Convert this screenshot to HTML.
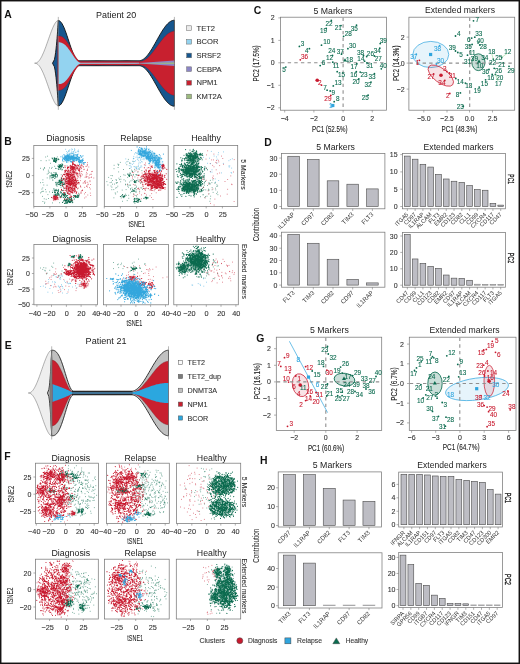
<!DOCTYPE html>
<html><head><meta charset="utf-8"><style>
html,body{margin:0;padding:0;background:#fff;}
svg{display:block;font-family:"Liberation Sans", sans-serif;will-change:transform;}
</style></head><body>
<svg width="520" height="664" viewBox="0 0 520 664">
<defs><filter id="bl" x="-50%" y="-50%" width="200%" height="200%"><feGaussianBlur stdDeviation="1.6"/></filter></defs>
<rect x="0" y="0" width="520" height="664" fill="#fff"/>
<text x="4.3" y="18" font-size="10.4" fill="#111" font-weight="bold">A</text>
<text x="4.3" y="144.6" font-size="10.4" fill="#111" font-weight="bold">B</text>
<text x="253.8" y="14.2" font-size="10.4" fill="#111" font-weight="bold">C</text>
<text x="264.2" y="145.5" font-size="10.4" fill="#111" font-weight="bold">D</text>
<text x="4.8" y="349.2" font-size="10.4" fill="#111" font-weight="bold">E</text>
<text x="4.3" y="460" font-size="10.4" fill="#111" font-weight="bold">F</text>
<text x="256.2" y="342.2" font-size="10.4" fill="#111" font-weight="bold">G</text>
<text x="260" y="464.4" font-size="10.4" fill="#111" font-weight="bold">H</text>
<path d="M34.6 63.2 L35.19 63.17 L35.79 63.07 L36.38 62.88 L36.97 62.59 L37.56 62.19 L38.16 61.69 L38.75 61.08 L39.34 60.37 L39.93 59.55 L40.52 58.63 L41.12 57.62 L41.71 56.51 L42.3 55.31 L42.89 54.03 L43.49 52.67 L44.08 51.25 L44.67 49.76 L45.27 48.22 L45.86 46.63 L46.45 45 L47.04 43.35 L47.63 41.67 L48.23 39.98 L48.82 38.29 L49.41 36.62 L50 34.96 L50.6 33.33 L51.19 31.75 L51.78 30.22 L52.38 28.76 L52.97 27.37 L53.56 26.07 L54.15 24.88 L54.74 23.8 L55.34 22.85 L55.93 22.04 L56.52 21.39 L57.11 20.9 L57.71 20.6 L58.3 20.5 L58.3 105.9 L57.71 105.8 L57.11 105.5 L56.52 105.01 L55.93 104.36 L55.34 103.55 L54.74 102.6 L54.15 101.52 L53.56 100.33 L52.97 99.03 L52.38 97.64 L51.78 96.18 L51.19 94.65 L50.6 93.07 L50 91.44 L49.41 89.78 L48.82 88.11 L48.23 86.42 L47.63 84.73 L47.04 83.05 L46.45 81.4 L45.86 79.77 L45.27 78.18 L44.67 76.64 L44.08 75.15 L43.49 73.73 L42.89 72.37 L42.3 71.09 L41.71 69.89 L41.12 68.78 L40.52 67.77 L39.93 66.85 L39.34 66.03 L38.75 65.32 L38.16 64.71 L37.56 64.21 L36.97 63.81 L36.38 63.52 L35.79 63.33 L35.19 63.23 L34.6 63.2Z" fill="#ECECEC" stroke="#555" stroke-width="0.45" stroke-linejoin="round"/>
<path d="M52.5 63.2 L54.4 59.64 L55.09 56.08 L55.61 52.52 L56.04 48.97 L56.41 45.41 L56.75 41.85 L57.05 38.29 L57.33 34.73 L57.6 31.18 L57.84 27.62 L58.08 24.06 L58.3 20.5 L59.27 20.72 L60.23 21.36 L61.2 22.42 L62.17 23.87 L63.14 25.68 L64.11 27.81 L65.07 30.22 L66.04 32.84 L67.01 35.64 L67.97 38.54 L68.94 41.49 L69.91 44.42 L70.88 47.27 L71.84 49.97 L72.81 52.47 L73.78 54.72 L74.75 56.66 L75.72 58.25 L76.68 59.47 L77.65 60.28 L78.62 60.67 L79.59 60.7 L80.55 60.7 L81.52 60.7 L82.49 60.7 L83.45 60.7 L84.42 60.7 L85.39 60.7 L86.36 60.7 L87.33 60.7 L88.29 60.7 L89.26 60.7 L90.23 60.7 L91.19 60.7 L92.16 60.7 L93.13 60.7 L94.1 60.7 L95.06 60.7 L96.03 60.7 L97 60.7 L97.97 60.7 L98.94 60.7 L99.9 60.7 L100.87 60.7 L101.84 60.7 L102.81 60.7 L103.77 60.7 L104.74 60.7 L105.71 60.7 L106.67 60.7 L107.64 60.7 L108.61 60.7 L109.58 60.7 L110.55 60.7 L111.51 60.7 L112.48 60.7 L113.45 60.7 L114.41 60.7 L115.38 60.7 L116.35 60.7 L117.32 60.7 L118.28 60.7 L119.25 60.7 L120.22 60.7 L121.19 60.7 L122.16 60.7 L123.12 60.7 L124.09 60.7 L125.06 60.7 L126.03 60.7 L126.99 60.7 L127.96 60.7 L128.93 60.7 L129.9 60.7 L130.86 60.7 L131.83 60.7 L132.8 60.7 L133.76 60.7 L134.73 60.7 L135.7 60.7 L136.67 60.7 L137.63 60.7 L138.6 60.7 L139.57 60.67 L140.54 60.51 L141.5 60.2 L142.47 59.75 L143.44 59.15 L144.41 58.41 L145.38 57.54 L146.34 56.55 L147.31 55.44 L148.28 54.22 L149.25 52.89 L150.21 51.48 L151.18 49.98 L152.15 48.41 L153.12 46.78 L154.08 45.11 L155.05 43.4 L156.02 41.68 L156.99 39.94 L157.95 38.2 L158.92 36.49 L159.89 34.8 L160.86 33.15 L161.82 31.56 L162.79 30.03 L163.76 28.58 L164.73 27.22 L165.69 25.95 L166.66 24.79 L167.63 23.75 L168.6 22.83 L169.56 22.04 L170.53 21.38 L171.5 20.87 L172.47 20.5 L173.43 20.27 L174.4 20.2 L174.4 106.2 L173.43 106.13 L172.47 105.9 L171.5 105.53 L170.53 105.02 L169.56 104.36 L168.6 103.57 L167.63 102.65 L166.66 101.61 L165.69 100.45 L164.73 99.18 L163.76 97.82 L162.79 96.37 L161.82 94.84 L160.86 93.25 L159.89 91.6 L158.92 89.91 L157.95 88.2 L156.99 86.46 L156.02 84.72 L155.05 83 L154.08 81.29 L153.12 79.62 L152.15 77.99 L151.18 76.42 L150.21 74.92 L149.25 73.51 L148.28 72.18 L147.31 70.96 L146.34 69.85 L145.38 68.86 L144.41 67.99 L143.44 67.25 L142.47 66.65 L141.5 66.2 L140.54 65.89 L139.57 65.73 L138.6 65.7 L137.63 65.7 L136.67 65.7 L135.7 65.7 L134.73 65.7 L133.76 65.7 L132.8 65.7 L131.83 65.7 L130.86 65.7 L129.9 65.7 L128.93 65.7 L127.96 65.7 L126.99 65.7 L126.03 65.7 L125.06 65.7 L124.09 65.7 L123.12 65.7 L122.16 65.7 L121.19 65.7 L120.22 65.7 L119.25 65.7 L118.28 65.7 L117.32 65.7 L116.35 65.7 L115.38 65.7 L114.41 65.7 L113.45 65.7 L112.48 65.7 L111.51 65.7 L110.55 65.7 L109.58 65.7 L108.61 65.7 L107.64 65.7 L106.67 65.7 L105.71 65.7 L104.74 65.7 L103.77 65.7 L102.81 65.7 L101.84 65.7 L100.87 65.7 L99.9 65.7 L98.94 65.7 L97.97 65.7 L97 65.7 L96.03 65.7 L95.06 65.7 L94.1 65.7 L93.13 65.7 L92.16 65.7 L91.19 65.7 L90.23 65.7 L89.26 65.7 L88.29 65.7 L87.33 65.7 L86.36 65.7 L85.39 65.7 L84.42 65.7 L83.45 65.7 L82.49 65.7 L81.52 65.7 L80.55 65.7 L79.59 65.7 L78.62 65.73 L77.65 66.12 L76.68 66.93 L75.72 68.15 L74.75 69.74 L73.78 71.68 L72.81 73.93 L71.84 76.43 L70.88 79.13 L69.91 81.98 L68.94 84.91 L67.97 87.86 L67.01 90.76 L66.04 93.56 L65.07 96.18 L64.11 98.59 L63.14 100.72 L62.17 102.53 L61.2 103.98 L60.23 105.04 L59.27 105.68 L58.3 105.9 L58.08 102.34 L57.84 98.78 L57.6 95.22 L57.33 91.67 L57.05 88.11 L56.75 84.55 L56.41 80.99 L56.04 77.43 L55.61 73.88 L55.09 70.32 L54.4 66.76 L52.5 63.2Z" fill="#16568E" stroke="#111" stroke-width="0.9" stroke-linejoin="round"/>
<path d="M57.7 36 L58.67 36 L59.64 36.07 L60.62 36.26 L61.59 36.6 L62.56 37.11 L63.53 37.8 L64.51 38.68 L65.48 39.74 L66.45 40.98 L67.42 42.38 L68.4 43.93 L69.37 45.6 L70.34 47.35 L71.31 49.17 L72.29 50.99 L73.26 52.8 L74.23 54.53 L75.2 56.15 L76.18 57.62 L77.15 58.89 L78.12 59.92 L79.09 61.3 L80.07 61.3 L81.04 61.3 L82.01 61.3 L82.98 61.3 L83.96 61.3 L84.93 61.3 L85.9 61.3 L86.88 61.3 L87.85 61.3 L88.82 61.3 L89.79 61.3 L90.77 61.3 L91.74 61.3 L92.71 61.3 L93.68 61.3 L94.66 61.3 L95.63 61.3 L96.6 61.3 L97.57 61.3 L98.55 61.3 L99.52 61.3 L100.49 61.3 L101.46 61.3 L102.44 61.3 L103.41 61.3 L104.38 61.3 L105.35 61.3 L106.33 61.3 L107.3 61.3 L108.27 61.3 L109.24 61.3 L110.22 61.3 L111.19 61.3 L112.16 61.3 L113.13 61.3 L114.11 61.3 L115.08 61.3 L116.05 61.3 L117.02 61.3 L118 61.3 L118.97 61.3 L119.94 61.3 L120.91 61.3 L121.88 61.3 L122.86 61.3 L123.83 61.3 L124.8 61.3 L125.78 61.3 L126.75 61.3 L127.72 61.3 L128.69 61.3 L129.66 61.3 L130.64 61.3 L131.61 61.3 L132.58 61.3 L133.56 61.3 L134.53 61.3 L135.5 61.3 L136.47 61.3 L137.45 61.3 L138.42 61.3 L139.39 61.3 L140.36 61.29 L141.34 61.19 L142.31 60.97 L143.28 60.63 L144.25 60.18 L145.23 59.62 L146.2 58.95 L147.17 58.19 L148.14 57.33 L149.12 56.38 L150.09 55.35 L151.06 54.25 L152.03 53.09 L153.01 51.88 L153.98 50.62 L154.95 49.32 L155.92 48 L156.9 46.67 L157.87 45.33 L158.84 44 L159.81 42.69 L160.79 41.41 L161.76 40.17 L162.73 38.97 L163.7 37.83 L164.68 36.76 L165.65 35.76 L166.62 34.84 L167.59 34.02 L168.56 33.29 L169.54 32.66 L170.51 32.14 L171.48 31.73 L172.46 31.44 L173.43 31.26 L174.4 31.2 L174.4 95.2 L173.43 95.14 L172.46 94.96 L171.48 94.67 L170.51 94.26 L169.54 93.74 L168.56 93.11 L167.59 92.38 L166.62 91.56 L165.65 90.64 L164.68 89.64 L163.7 88.57 L162.73 87.43 L161.76 86.23 L160.79 84.99 L159.81 83.71 L158.84 82.4 L157.87 81.07 L156.9 79.73 L155.92 78.4 L154.95 77.08 L153.98 75.78 L153.01 74.52 L152.03 73.31 L151.06 72.15 L150.09 71.05 L149.12 70.02 L148.14 69.07 L147.17 68.21 L146.2 67.45 L145.23 66.78 L144.25 66.22 L143.28 65.77 L142.31 65.43 L141.34 65.21 L140.36 65.11 L139.39 65.1 L138.42 65.1 L137.45 65.1 L136.47 65.1 L135.5 65.1 L134.53 65.1 L133.56 65.1 L132.58 65.1 L131.61 65.1 L130.64 65.1 L129.66 65.1 L128.69 65.1 L127.72 65.1 L126.75 65.1 L125.78 65.1 L124.8 65.1 L123.83 65.1 L122.86 65.1 L121.88 65.1 L120.91 65.1 L119.94 65.1 L118.97 65.1 L118 65.1 L117.02 65.1 L116.05 65.1 L115.08 65.1 L114.11 65.1 L113.13 65.1 L112.16 65.1 L111.19 65.1 L110.22 65.1 L109.24 65.1 L108.27 65.1 L107.3 65.1 L106.33 65.1 L105.35 65.1 L104.38 65.1 L103.41 65.1 L102.44 65.1 L101.46 65.1 L100.49 65.1 L99.52 65.1 L98.55 65.1 L97.57 65.1 L96.6 65.1 L95.63 65.1 L94.66 65.1 L93.68 65.1 L92.71 65.1 L91.74 65.1 L90.77 65.1 L89.79 65.1 L88.82 65.1 L87.85 65.1 L86.88 65.1 L85.9 65.1 L84.93 65.1 L83.96 65.1 L82.98 65.1 L82.01 65.1 L81.04 65.1 L80.07 65.1 L79.09 65.1 L78.12 66.48 L77.15 67.51 L76.18 68.78 L75.2 70.25 L74.23 71.87 L73.26 73.6 L72.29 75.41 L71.31 77.23 L70.34 79.05 L69.37 80.8 L68.4 82.47 L67.42 84.02 L66.45 85.42 L65.48 86.66 L64.51 87.72 L63.53 88.6 L62.56 89.29 L61.59 89.8 L60.62 90.14 L59.64 90.33 L58.67 90.4 L57.7 90.4Z" fill="#C8202F" stroke="#7a1520" stroke-width="0.3" stroke-linejoin="round"/>
<path d="M58.5 42.3 L59.51 42.34 L60.51 42.49 L61.52 42.76 L62.52 43.17 L63.53 43.75 L64.54 44.48 L65.54 45.37 L66.55 46.41 L67.56 47.6 L68.56 48.9 L69.57 50.3 L70.58 51.78 L71.58 53.29 L72.59 54.81 L73.59 56.3 L74.6 57.71 L75.61 59.01 L76.61 60.17 L77.62 61.13 L78.62 61.89 L79.63 62.39 L80.64 62.63 L81.64 62.65 L82.65 62.65 L83.66 62.65 L84.66 62.65 L85.67 62.65 L86.67 62.65 L87.68 62.65 L88.69 62.65 L89.69 62.65 L90.7 62.65 L91.71 62.65 L92.71 62.65 L93.72 62.65 L94.72 62.65 L95.73 62.65 L96.74 62.65 L97.74 62.65 L98.75 62.65 L99.76 62.65 L100.76 62.65 L101.77 62.65 L102.78 62.65 L103.78 62.65 L104.79 62.65 L105.79 62.65 L106.8 62.65 L107.81 62.65 L108.81 62.65 L109.82 62.65 L110.83 62.65 L111.83 62.65 L112.84 62.65 L113.84 62.65 L114.85 62.65 L115.86 62.65 L116.86 62.65 L117.87 62.65 L118.88 62.65 L119.88 62.65 L120.89 62.65 L121.89 62.65 L122.9 62.65 L123.91 62.65 L124.91 62.65 L125.92 62.65 L126.92 62.65 L127.93 62.65 L128.94 62.65 L129.94 62.65 L130.95 62.65 L131.96 62.65 L132.96 62.65 L133.97 62.65 L134.97 62.65 L135.98 62.65 L136.99 62.65 L137.99 62.65 L139 62.65 L139 63.75 L137.99 63.75 L136.99 63.75 L135.98 63.75 L134.97 63.75 L133.97 63.75 L132.96 63.75 L131.96 63.75 L130.95 63.75 L129.94 63.75 L128.94 63.75 L127.93 63.75 L126.92 63.75 L125.92 63.75 L124.91 63.75 L123.91 63.75 L122.9 63.75 L121.89 63.75 L120.89 63.75 L119.88 63.75 L118.88 63.75 L117.87 63.75 L116.86 63.75 L115.86 63.75 L114.85 63.75 L113.84 63.75 L112.84 63.75 L111.83 63.75 L110.83 63.75 L109.82 63.75 L108.81 63.75 L107.81 63.75 L106.8 63.75 L105.79 63.75 L104.79 63.75 L103.78 63.75 L102.78 63.75 L101.77 63.75 L100.76 63.75 L99.76 63.75 L98.75 63.75 L97.74 63.75 L96.74 63.75 L95.73 63.75 L94.72 63.75 L93.72 63.75 L92.71 63.75 L91.71 63.75 L90.7 63.75 L89.69 63.75 L88.69 63.75 L87.68 63.75 L86.67 63.75 L85.67 63.75 L84.66 63.75 L83.66 63.75 L82.65 63.75 L81.64 63.75 L80.64 63.77 L79.63 64.01 L78.62 64.51 L77.62 65.27 L76.61 66.23 L75.61 67.39 L74.6 68.69 L73.59 70.1 L72.59 71.59 L71.58 73.11 L70.58 74.62 L69.57 76.1 L68.56 77.5 L67.56 78.8 L66.55 79.99 L65.54 81.03 L64.54 81.92 L63.53 82.65 L62.52 83.23 L61.52 83.64 L60.51 83.91 L59.51 84.06 L58.5 84.1Z" fill="#93D3F0" stroke="none" stroke-width="0.5" stroke-linejoin="round"/>
<path d="M134.6 63.2 L150 62.2 L174.4 60.4 L174.4 66.1 L150 64.2Z" fill="#8C86C6" stroke="none" stroke-width="0.5" stroke-linejoin="round"/>
<path d="M136 63.2 L174.4 62.5 L174.4 63.9Z" fill="#9DBB7F" stroke="none" stroke-width="0.5" stroke-linejoin="round"/>
<line x1="58.3" y1="16.9" x2="58.3" y2="109.8" stroke="#888" stroke-width="0.6"/>
<line x1="174.4" y1="16.9" x2="174.4" y2="109.8" stroke="#888" stroke-width="0.6"/>
<text x="96" y="18" font-size="9.1" fill="#222" textLength="40.3" lengthAdjust="spacingAndGlyphs">Patient 20</text>
<rect x="186.7" y="25.8" width="4.8" height="4.6" fill="#ECECEC" stroke="#666" stroke-width="0.5"/>
<text x="196.5" y="30.6" font-size="7.6" fill="#333" stroke="#333" stroke-width="0.1">TET2</text>
<rect x="186.7" y="39.48" width="4.8" height="4.6" fill="#93D3F0" stroke="#666" stroke-width="0.5"/>
<text x="196.5" y="44.28" font-size="7.6" fill="#333" stroke="#333" stroke-width="0.1">BCOR</text>
<rect x="186.7" y="53.16" width="4.8" height="4.6" fill="#16568E" stroke="#666" stroke-width="0.5"/>
<text x="196.5" y="57.96" font-size="7.6" fill="#333" stroke="#333" stroke-width="0.1">SRSF2</text>
<rect x="186.7" y="66.84" width="4.8" height="4.6" fill="#8C86C6" stroke="#666" stroke-width="0.5"/>
<text x="196.5" y="71.64" font-size="7.6" fill="#333" stroke="#333" stroke-width="0.1">CEBPA</text>
<rect x="186.7" y="80.52" width="4.8" height="4.6" fill="#C8202F" stroke="#666" stroke-width="0.5"/>
<text x="196.5" y="85.32" font-size="7.6" fill="#333" stroke="#333" stroke-width="0.1">NPM1</text>
<rect x="186.7" y="94.2" width="4.8" height="4.6" fill="#9DBB7F" stroke="#666" stroke-width="0.5"/>
<text x="196.5" y="99" font-size="7.6" fill="#333" stroke="#333" stroke-width="0.1">KMT2A</text>
<path d="M28.3 393 L28.89 392.97 L29.47 392.87 L30.05 392.68 L30.64 392.39 L31.23 391.99 L31.81 391.49 L32.4 390.88 L32.98 390.16 L33.56 389.34 L34.15 388.42 L34.73 387.4 L35.32 386.29 L35.91 385.09 L36.49 383.81 L37.08 382.45 L37.66 381.02 L38.25 379.53 L38.83 377.98 L39.41 376.39 L40 374.76 L40.59 373.1 L41.17 371.42 L41.76 369.73 L42.34 368.04 L42.92 366.35 L43.51 364.69 L44.09 363.06 L44.68 361.48 L45.27 359.94 L45.85 358.47 L46.44 357.08 L47.02 355.79 L47.61 354.59 L48.19 353.51 L48.78 352.55 L49.36 351.74 L49.95 351.09 L50.53 350.61 L51.12 350.3 L51.7 350.2 L51.7 435.8 L51.12 435.7 L50.53 435.39 L49.95 434.91 L49.36 434.26 L48.78 433.45 L48.19 432.49 L47.61 431.41 L47.02 430.21 L46.44 428.92 L45.85 427.53 L45.27 426.06 L44.68 424.52 L44.09 422.94 L43.51 421.31 L42.92 419.65 L42.34 417.96 L41.76 416.27 L41.17 414.58 L40.59 412.9 L40 411.24 L39.41 409.61 L38.83 408.02 L38.25 406.47 L37.66 404.98 L37.08 403.55 L36.49 402.19 L35.91 400.91 L35.32 399.71 L34.73 398.6 L34.15 397.58 L33.56 396.66 L32.98 395.84 L32.4 395.12 L31.81 394.51 L31.23 394.01 L30.64 393.61 L30.05 393.32 L29.47 393.13 L28.89 393.03 L28.3 393Z" fill="#EEEEEE" stroke="#555" stroke-width="0.45" stroke-linejoin="round"/>
<path d="M47.5 393 L48.87 389.43 L49.38 385.87 L49.75 382.3 L50.06 378.73 L50.33 375.17 L50.57 371.6 L50.8 368.03 L51 364.47 L51.19 360.9 L51.37 357.33 L51.54 353.77 L51.7 350.2 L52.67 350.23 L53.65 350.39 L54.62 350.74 L55.59 351.34 L56.57 352.22 L57.54 353.41 L58.51 354.92 L59.49 356.77 L60.46 358.95 L61.43 361.42 L62.41 364.17 L63.38 367.13 L64.35 370.25 L65.33 373.45 L66.3 376.66 L67.27 379.77 L68.25 382.69 L69.22 385.32 L70.19 387.56 L71.17 389.33 L72.14 390.55 L73.11 391.15 L74.09 391.2 L75.06 391.2 L76.03 391.2 L77.01 391.2 L77.98 391.2 L78.95 391.2 L79.93 391.2 L80.9 391.2 L81.87 391.2 L82.85 391.2 L83.82 391.2 L84.79 391.2 L85.77 391.2 L86.74 391.2 L87.71 391.2 L88.69 391.2 L89.66 391.2 L90.63 391.2 L91.61 391.2 L92.58 391.2 L93.55 391.2 L94.53 391.2 L95.5 391.2 L96.47 391.2 L97.45 391.2 L98.42 391.2 L99.39 391.2 L100.37 391.2 L101.34 391.2 L102.31 391.2 L103.29 391.2 L104.26 391.2 L105.23 391.2 L106.21 391.2 L107.18 391.2 L108.15 391.2 L109.13 391.2 L110.1 391.2 L111.07 391.2 L112.05 391.2 L113.02 391.2 L113.99 391.2 L114.97 391.2 L115.94 391.2 L116.91 391.2 L117.89 391.2 L118.86 391.2 L119.83 391.2 L120.81 391.2 L121.78 391.2 L122.75 391.2 L123.73 391.2 L124.7 391.2 L125.67 391.2 L126.65 391.2 L127.62 391.2 L128.59 391.2 L129.57 391.2 L130.54 391.2 L131.51 391.2 L132.49 391.13 L133.46 390.92 L134.43 390.57 L135.41 390.08 L136.38 389.47 L137.35 388.72 L138.33 387.85 L139.3 386.87 L140.27 385.77 L141.25 384.57 L142.22 383.28 L143.19 381.9 L144.17 380.44 L145.14 378.92 L146.11 377.34 L147.09 375.72 L148.06 374.06 L149.03 372.38 L150.01 370.69 L150.98 369 L151.95 367.32 L152.93 365.66 L153.9 364.03 L154.87 362.46 L155.85 360.94 L156.82 359.48 L157.79 358.1 L158.77 356.81 L159.74 355.61 L160.71 354.52 L161.69 353.54 L162.66 352.67 L163.63 351.93 L164.61 351.31 L165.58 350.83 L166.55 350.48 L167.53 350.27 L168.5 350.2 L168.5 435.8 L167.53 435.73 L166.55 435.52 L165.58 435.17 L164.61 434.69 L163.63 434.07 L162.66 433.33 L161.69 432.46 L160.71 431.48 L159.74 430.39 L158.77 429.19 L157.79 427.9 L156.82 426.52 L155.85 425.06 L154.87 423.54 L153.9 421.97 L152.93 420.34 L151.95 418.68 L150.98 417 L150.01 415.31 L149.03 413.62 L148.06 411.94 L147.09 410.28 L146.11 408.66 L145.14 407.08 L144.17 405.56 L143.19 404.1 L142.22 402.72 L141.25 401.43 L140.27 400.23 L139.3 399.13 L138.33 398.15 L137.35 397.28 L136.38 396.53 L135.41 395.92 L134.43 395.43 L133.46 395.08 L132.49 394.87 L131.51 394.8 L130.54 394.8 L129.57 394.8 L128.59 394.8 L127.62 394.8 L126.65 394.8 L125.67 394.8 L124.7 394.8 L123.73 394.8 L122.75 394.8 L121.78 394.8 L120.81 394.8 L119.83 394.8 L118.86 394.8 L117.89 394.8 L116.91 394.8 L115.94 394.8 L114.97 394.8 L113.99 394.8 L113.02 394.8 L112.05 394.8 L111.07 394.8 L110.1 394.8 L109.13 394.8 L108.15 394.8 L107.18 394.8 L106.21 394.8 L105.23 394.8 L104.26 394.8 L103.29 394.8 L102.31 394.8 L101.34 394.8 L100.37 394.8 L99.39 394.8 L98.42 394.8 L97.45 394.8 L96.47 394.8 L95.5 394.8 L94.53 394.8 L93.55 394.8 L92.58 394.8 L91.61 394.8 L90.63 394.8 L89.66 394.8 L88.69 394.8 L87.71 394.8 L86.74 394.8 L85.77 394.8 L84.79 394.8 L83.82 394.8 L82.85 394.8 L81.87 394.8 L80.9 394.8 L79.93 394.8 L78.95 394.8 L77.98 394.8 L77.01 394.8 L76.03 394.8 L75.06 394.8 L74.09 394.8 L73.11 394.85 L72.14 395.45 L71.17 396.67 L70.19 398.44 L69.22 400.68 L68.25 403.31 L67.27 406.23 L66.3 409.34 L65.33 412.55 L64.35 415.75 L63.38 418.87 L62.41 421.83 L61.43 424.58 L60.46 427.05 L59.49 429.23 L58.51 431.08 L57.54 432.59 L56.57 433.78 L55.59 434.66 L54.62 435.26 L53.65 435.61 L52.67 435.77 L51.7 435.8 L51.54 432.23 L51.37 428.67 L51.19 425.1 L51 421.53 L50.8 417.97 L50.57 414.4 L50.33 410.83 L50.06 407.27 L49.75 403.7 L49.38 400.13 L48.87 396.57 L47.5 393Z" fill="#C0C0C0" stroke="#222" stroke-width="0.9" stroke-linejoin="round"/>
<path d="M49.5 393 L50.6 360 L51.7 350.6 L52.6 360 L52.6 426 L51.7 435.4 L50.6 426Z" fill="#7A7A7A" stroke="none" stroke-width="0.5" stroke-linejoin="round"/>
<path d="M52.2 360.21 L53.17 360.36 L54.14 360.71 L55.11 361.29 L56.08 362.13 L57.05 363.22 L58.02 364.56 L58.98 366.15 L59.95 367.95 L60.92 369.95 L61.89 372.1 L62.86 374.37 L63.83 376.71 L64.8 379.06 L65.77 381.38 L66.74 383.61 L67.71 385.69 L68.68 387.56 L69.65 389.17 L70.61 390.49 L71.58 391.46 L72.55 392.05 L73.52 392.25 L74.49 392.25 L75.46 392.25 L76.43 392.25 L77.4 392.25 L78.37 392.25 L79.34 392.25 L80.31 392.25 L81.28 392.25 L82.24 392.25 L83.21 392.25 L84.18 392.25 L85.15 392.25 L86.12 392.25 L87.09 392.25 L88.06 392.25 L89.03 392.25 L90 392.25 L90.97 392.25 L91.94 392.25 L92.91 392.25 L93.87 392.25 L94.84 392.25 L95.81 392.25 L96.78 392.25 L97.75 392.25 L98.72 392.25 L99.69 392.25 L100.66 392.25 L101.63 392.25 L102.6 392.25 L103.57 392.25 L104.53 392.25 L105.5 392.25 L106.47 392.25 L107.44 392.25 L108.41 392.25 L109.38 392.25 L110.35 392.25 L111.32 392.25 L112.29 392.25 L113.26 392.25 L114.23 392.25 L115.2 392.25 L116.17 392.25 L117.13 392.25 L118.1 392.25 L119.07 392.25 L120.04 392.25 L121.01 392.25 L121.98 392.25 L122.95 392.25 L123.92 392.25 L124.89 392.25 L125.86 392.25 L126.83 392.25 L127.8 392.25 L128.76 392.25 L129.73 392.25 L130.7 392.25 L131.67 392.25 L132.64 392.18 L133.61 392 L134.58 391.72 L135.55 391.34 L136.52 390.87 L137.49 390.29 L138.46 389.63 L139.43 388.88 L140.39 388.04 L141.36 387.13 L142.33 386.15 L143.3 385.11 L144.27 384.01 L145.24 382.86 L146.21 381.67 L147.18 380.45 L148.15 379.2 L149.12 377.93 L150.09 376.66 L151.06 375.39 L152.02 374.13 L152.99 372.88 L153.96 371.67 L154.93 370.48 L155.9 369.34 L156.87 368.25 L157.84 367.22 L158.81 366.25 L159.78 365.35 L160.75 364.53 L161.72 363.8 L162.69 363.15 L163.65 362.59 L164.62 362.13 L165.59 361.77 L166.56 361.51 L167.53 361.35 L168.5 361.3 L168.5 424.7 L167.53 424.65 L166.56 424.49 L165.59 424.23 L164.62 423.87 L163.65 423.41 L162.69 422.85 L161.72 422.2 L160.75 421.47 L159.78 420.65 L158.81 419.75 L157.84 418.78 L156.87 417.75 L155.9 416.66 L154.93 415.52 L153.96 414.33 L152.99 413.12 L152.02 411.87 L151.06 410.61 L150.09 409.34 L149.12 408.07 L148.15 406.8 L147.18 405.55 L146.21 404.33 L145.24 403.14 L144.27 401.99 L143.3 400.89 L142.33 399.85 L141.36 398.87 L140.39 397.96 L139.43 397.12 L138.46 396.37 L137.49 395.71 L136.52 395.13 L135.55 394.66 L134.58 394.28 L133.61 394 L132.64 393.82 L131.67 393.75 L130.7 393.75 L129.73 393.75 L128.76 393.75 L127.8 393.75 L126.83 393.75 L125.86 393.75 L124.89 393.75 L123.92 393.75 L122.95 393.75 L121.98 393.75 L121.01 393.75 L120.04 393.75 L119.07 393.75 L118.1 393.75 L117.13 393.75 L116.17 393.75 L115.2 393.75 L114.23 393.75 L113.26 393.75 L112.29 393.75 L111.32 393.75 L110.35 393.75 L109.38 393.75 L108.41 393.75 L107.44 393.75 L106.47 393.75 L105.5 393.75 L104.53 393.75 L103.57 393.75 L102.6 393.75 L101.63 393.75 L100.66 393.75 L99.69 393.75 L98.72 393.75 L97.75 393.75 L96.78 393.75 L95.81 393.75 L94.84 393.75 L93.87 393.75 L92.91 393.75 L91.94 393.75 L90.97 393.75 L90 393.75 L89.03 393.75 L88.06 393.75 L87.09 393.75 L86.12 393.75 L85.15 393.75 L84.18 393.75 L83.21 393.75 L82.24 393.75 L81.28 393.75 L80.31 393.75 L79.34 393.75 L78.37 393.75 L77.4 393.75 L76.43 393.75 L75.46 393.75 L74.49 393.75 L73.52 393.75 L72.55 393.95 L71.58 394.54 L70.61 395.51 L69.65 396.83 L68.68 398.44 L67.71 400.31 L66.74 402.39 L65.77 404.62 L64.8 406.94 L63.83 409.29 L62.86 411.63 L61.89 413.9 L60.92 416.05 L59.95 418.05 L58.98 419.85 L58.02 421.44 L57.05 422.78 L56.08 423.87 L55.11 424.71 L54.14 425.29 L53.17 425.64 L52.2 425.79Z" fill="#C8202F" stroke="#5a1018" stroke-width="0.3" stroke-linejoin="round"/>
<path d="M52.5 384.08 L53.47 384.43 L54.43 384.78 L55.4 385.13 L56.37 385.48 L57.33 385.84 L58.3 386.2 L59.27 386.57 L60.23 386.93 L61.2 387.31 L62.17 387.69 L63.13 388.07 L64.1 388.46 L65.07 388.86 L66.03 389.27 L67 389.68 L67.97 390.11 L68.93 390.56 L69.9 391.02 L70.87 391.52 L71.83 392.11 L72.8 392.25 L73.77 392.25 L74.73 392.25 L75.7 392.25 L76.67 392.25 L77.63 392.25 L78.6 392.25 L79.57 392.25 L80.53 392.25 L81.5 392.25 L82.47 392.25 L83.43 392.25 L84.4 392.25 L85.37 392.25 L86.33 392.25 L87.3 392.25 L88.27 392.25 L89.23 392.25 L90.2 392.25 L91.17 392.25 L92.13 392.25 L93.1 392.25 L94.07 392.25 L95.03 392.25 L96 392.25 L96.97 392.25 L97.93 392.25 L98.9 392.25 L99.87 392.25 L100.83 392.25 L101.8 392.25 L102.77 392.25 L103.73 392.25 L104.7 392.25 L105.67 392.25 L106.63 392.25 L107.6 392.25 L108.57 392.25 L109.53 392.25 L110.5 392.25 L111.47 392.25 L112.43 392.25 L113.4 392.25 L114.37 392.25 L115.33 392.25 L116.3 392.25 L117.27 392.25 L118.23 392.25 L119.2 392.25 L120.17 392.25 L121.13 392.25 L122.1 392.25 L123.07 392.25 L124.03 392.25 L125 392.25 L125.97 392.25 L126.93 392.25 L127.9 392.25 L128.87 392.25 L129.83 392.25 L130.8 392.25 L131.77 392.24 L132.73 392.15 L133.7 392 L134.67 391.81 L135.63 391.58 L136.6 391.31 L137.57 391.03 L138.53 390.72 L139.5 390.4 L140.47 390.06 L141.43 389.71 L142.4 389.35 L143.37 388.98 L144.33 388.61 L145.3 388.24 L146.27 387.87 L147.23 387.51 L148.2 387.15 L149.17 386.79 L150.13 386.45 L151.1 386.11 L152.07 385.78 L153.03 385.47 L154 385.17 L154.97 384.89 L155.93 384.62 L156.9 384.37 L157.87 384.14 L158.83 383.93 L159.8 383.73 L160.77 383.56 L161.73 383.4 L162.7 383.27 L163.67 383.16 L164.63 383.06 L165.6 382.99 L166.57 382.94 L167.53 382.91 L168.5 382.9 L168.5 403.1 L167.53 403.09 L166.57 403.06 L165.6 403.01 L164.63 402.94 L163.67 402.84 L162.7 402.73 L161.73 402.6 L160.77 402.44 L159.8 402.27 L158.83 402.07 L157.87 401.86 L156.9 401.63 L155.93 401.38 L154.97 401.11 L154 400.83 L153.03 400.53 L152.07 400.22 L151.1 399.89 L150.13 399.55 L149.17 399.21 L148.2 398.85 L147.23 398.49 L146.27 398.13 L145.3 397.76 L144.33 397.39 L143.37 397.02 L142.4 396.65 L141.43 396.29 L140.47 395.94 L139.5 395.6 L138.53 395.28 L137.57 394.97 L136.6 394.69 L135.63 394.42 L134.67 394.19 L133.7 394 L132.73 393.85 L131.77 393.76 L130.8 393.75 L129.83 393.75 L128.87 393.75 L127.9 393.75 L126.93 393.75 L125.97 393.75 L125 393.75 L124.03 393.75 L123.07 393.75 L122.1 393.75 L121.13 393.75 L120.17 393.75 L119.2 393.75 L118.23 393.75 L117.27 393.75 L116.3 393.75 L115.33 393.75 L114.37 393.75 L113.4 393.75 L112.43 393.75 L111.47 393.75 L110.5 393.75 L109.53 393.75 L108.57 393.75 L107.6 393.75 L106.63 393.75 L105.67 393.75 L104.7 393.75 L103.73 393.75 L102.77 393.75 L101.8 393.75 L100.83 393.75 L99.87 393.75 L98.9 393.75 L97.93 393.75 L96.97 393.75 L96 393.75 L95.03 393.75 L94.07 393.75 L93.1 393.75 L92.13 393.75 L91.17 393.75 L90.2 393.75 L89.23 393.75 L88.27 393.75 L87.3 393.75 L86.33 393.75 L85.37 393.75 L84.4 393.75 L83.43 393.75 L82.47 393.75 L81.5 393.75 L80.53 393.75 L79.57 393.75 L78.6 393.75 L77.63 393.75 L76.67 393.75 L75.7 393.75 L74.73 393.75 L73.77 393.75 L72.8 393.75 L71.83 393.89 L70.87 394.48 L69.9 394.98 L68.93 395.44 L67.97 395.89 L67 396.32 L66.03 396.73 L65.07 397.14 L64.1 397.54 L63.13 397.93 L62.17 398.31 L61.2 398.69 L60.23 399.07 L59.27 399.43 L58.3 399.8 L57.33 400.16 L56.37 400.52 L55.4 400.87 L54.43 401.22 L53.47 401.57 L52.5 401.92Z" fill="#2BA7DF" stroke="none" stroke-width="0.5" stroke-linejoin="round"/>
<path d="M71.9 391.65 L132.5 391.65 M71.9 394.35 L132.5 394.35" stroke="#262626" stroke-width="1.2" fill="none"/>
<line x1="51.7" y1="346.3" x2="51.7" y2="439.5" stroke="#888" stroke-width="0.6"/>
<line x1="168.5" y1="346.3" x2="168.5" y2="439.5" stroke="#888" stroke-width="0.6"/>
<text x="85.6" y="343.8" font-size="9.1" fill="#222" textLength="40.9" lengthAdjust="spacingAndGlyphs">Patient 21</text>
<rect x="178.3" y="360.5" width="4.3" height="4.2" fill="#FAFAFA" stroke="#555" stroke-width="0.5"/>
<text x="187.5" y="365.1" font-size="7.2" fill="#333" stroke="#333" stroke-width="0.1">TET2</text>
<rect x="178.3" y="374.35" width="4.3" height="4.2" fill="#7A7A7A" stroke="#555" stroke-width="0.5"/>
<text x="187.5" y="378.95" font-size="7.2" fill="#333" stroke="#333" stroke-width="0.1">TET2_dup</text>
<rect x="178.3" y="388.2" width="4.3" height="4.2" fill="#C0C0C0" stroke="#555" stroke-width="0.5"/>
<text x="187.5" y="392.8" font-size="7.2" fill="#333" stroke="#333" stroke-width="0.1">DNMT3A</text>
<rect x="178.3" y="402.05" width="4.3" height="4.2" fill="#C8202F" stroke="#555" stroke-width="0.5"/>
<text x="187.5" y="406.65" font-size="7.2" fill="#333" stroke="#333" stroke-width="0.1">NPM1</text>
<rect x="178.3" y="415.9" width="4.3" height="4.2" fill="#2BA7DF" stroke="#555" stroke-width="0.5"/>
<text x="187.5" y="420.5" font-size="7.2" fill="#333" stroke="#333" stroke-width="0.1">BCOR</text>
<ellipse cx="71.7" cy="158.2" rx="6.6" ry="2.6" fill="#33A6DD" opacity="0.3" filter="url(#bl)" transform="rotate(0 71.7 158.2)"/>
<ellipse cx="70.5" cy="180.8" rx="5.7" ry="11.9" fill="#C8192E" opacity="0.25" filter="url(#bl)" transform="rotate(0 70.5 180.8)"/>
<ellipse cx="55.3" cy="197.9" rx="2.4" ry="1.8" fill="#C8192E" opacity="0.35" filter="url(#bl)" transform="rotate(0 55.3 197.9)"/>
<ellipse cx="60.3" cy="182.6" rx="3.3" ry="2.7" fill="#0A6A4E" opacity="0.2" filter="url(#bl)" transform="rotate(0 60.3 182.6)"/>
<ellipse cx="69.2" cy="200.3" rx="3.8" ry="2.3" fill="#0A6A4E" opacity="0.2" filter="url(#bl)" transform="rotate(0 69.2 200.3)"/>
<path d="M48.3 171.8h0M58.6 189.4h0M40.5 182.7h0M43.8 185.0h0M67.9 172.3h0M43.3 169.1h0M49.3 172.3h0M67.5 160.5h0M66.5 190.7h0M43.2 191.3h0M64.5 200.3h0M67.1 165.9h0M51.5 197.4h0M61.0 187.3h0M55.0 189.4h0M44.2 198.8h0M41.0 160.6h0M57.0 186.4h0M51.4 168.4h0M44.4 203.3h0M46.2 199.3h0M68.0 159.7h0M47.9 194.6h0M63.9 161.6h0M49.4 167.9h0M52.1 167.4h0M64.7 197.1h0M53.8 172.6h0M47.6 156.2h0M45.7 157.0h0M61.5 178.6h0M56.2 183.5h0M41.9 189.1h0M49.1 160.1h0M60.1 192.9h0M40.4 168.3h0M42.9 179.8h0M67.5 197.6h0M58.5 195.3h0M57.9 159.2h0M64.4 194.5h0M49.9 178.8h0M63.5 174.5h0M60.1 197.5h0M47.1 185.2h0M54.7 166.3h0M66.5 158.6h0M50.4 163.3h0M66.9 174.9h0M44.5 167.5h0M47.2 177.9h0M46.1 191.9h0M65.5 179.2h0M48.3 170.2h0M42.9 182.5h0M46.2 160.7h0M48.3 173.4h0M50.9 175.9h0M40.5 192.9h0M61.2 174.8h0M49.4 191.9h0M62.9 196.0h0M63.9 187.9h0M67.2 198.4h0M42.4 196.4h0M54.2 161.6h0M67.4 174.5h0M42.8 191.4h0M66.6 188.9h0M65.6 194.9h0M52.4 202.9h0M45.6 189.6h0M67.4 181.1h0M41.5 191.9h0M59.5 202.7h0M42.8 187.9h0M57.3 156.9h0M55.5 196.9h0M62.4 169.4h0M60.0 168.0h0M47.2 174.1h0M48.6 198.5h0M63.9 188.7h0M42.9 201.5h0M56.7 190.6h0M51.7 175.4h0M43.5 169.9h0M44.8 202.2h0M44.7 168.4h0M53.0 190.8h0" stroke="#0A6A4E" stroke-width="0.9" stroke-linecap="round" opacity="0.7" fill="none"/>
<path d="M78.6 188.1h0M79.8 173.1h0M90.0 181.6h0M71.1 176.8h0M81.1 191.9h0M71.3 179.4h0M84.0 182.8h0M66.6 174.7h0M84.0 163.6h0M91.2 174.2h0M76.2 182.3h0M81.0 192.7h0M66.4 178.3h0M87.2 173.8h0M90.9 174.4h0M84.4 193.9h0M76.6 182.5h0M80.8 169.0h0M85.8 182.4h0M87.8 195.0h0M71.3 191.1h0M84.4 181.4h0M86.2 174.2h0M90.0 180.7h0M86.9 185.6h0M79.2 170.5h0M78.7 176.9h0M80.4 180.6h0M83.1 183.1h0M77.9 168.8h0M69.2 187.3h0M85.0 181.9h0M86.3 177.3h0M81.0 193.4h0M67.0 182.8h0M80.2 177.8h0M85.9 166.4h0M69.4 180.2h0M87.6 165.1h0M86.5 172.4h0M75.3 171.8h0M86.8 166.3h0M75.5 180.1h0M77.1 165.9h0M93.8 178.0h0M75.8 168.2h0M86.3 176.7h0M82.5 190.4h0M81.7 173.7h0M69.8 171.3h0M79.8 175.3h0M90.3 189.0h0M66.9 179.1h0M87.6 170.1h0M88.7 178.0h0M82.4 190.0h0M85.4 192.5h0M79.2 168.2h0M78.6 193.2h0M72.1 171.1h0M70.8 182.2h0M74.1 169.1h0M86.4 186.5h0M79.8 166.5h0M91.5 171.6h0M92.5 171.4h0M73.0 185.8h0M80.2 174.3h0M78.2 166.9h0M87.6 169.2h0M77.9 176.6h0M89.4 177.9h0M91.1 177.5h0M75.2 184.4h0M77.2 180.6h0M87.9 176.6h0M78.3 182.6h0M73.4 181.2h0M71.7 167.3h0M88.0 184.6h0M87.3 164.7h0M88.8 167.0h0M85.3 180.7h0M89.6 187.6h0M80.8 176.1h0M82.4 190.6h0M75.0 169.2h0M78.7 159.4h0M73.2 189.7h0M82.5 174.8h0M88.1 184.1h0M77.1 182.8h0M89.4 175.0h0M81.4 190.7h0M86.1 176.0h0M79.6 169.3h0M74.6 181.4h0M87.1 170.5h0M85.1 177.3h0M90.4 184.5h0M91.5 177.0h0M76.0 169.3h0M83.9 169.6h0M79.2 171.2h0M78.9 173.4h0M68.7 173.0h0M87.6 187.0h0M87.5 162.7h0M84.7 187.4h0M72.8 190.0h0M76.9 167.7h0M87.7 182.3h0M90.7 195.5h0M80.9 187.2h0M77.8 176.1h0M79.6 171.7h0M67.5 175.2h0M77.4 178.2h0M86.0 196.9h0M72.7 171.6h0M85.3 183.5h0M90.3 193.1h0M82.3 165.9h0M84.7 198.0h0M84.2 169.3h0M79.7 173.9h0M79.4 195.1h0M69.1 177.3h0M78.2 174.9h0M80.0 171.8h0" stroke="#C8192E" stroke-width="0.9" stroke-linecap="round" opacity="0.7" fill="none"/>
<path d="M68.7 151.4h0M70.5 153.3h0M67.4 154.4h0M67.1 155.0h0M68.6 154.6h0M67.6 154.9h0M73.8 151.6h0M71.7 151.1h0M78.1 151.7h0M77.7 151.1h0M75.9 152.2h0M75.8 152.4h0M71.7 149.0h0M73.2 155.1h0M73.8 153.5h0M78.4 150.1h0M69.0 153.2h0M73.7 155.0h0M78.7 151.7h0M74.9 149.8h0M73.8 152.2h0M69.3 151.0h0M71.3 153.0h0M72.5 149.4h0M67.0 153.7h0M69.8 149.8h0M72.1 153.3h0M74.5 148.8h0M78.7 154.1h0M65.7 149.3h0M71.6 153.2h0M66.4 151.6h0M74.5 150.3h0M67.6 152.3h0M69.5 154.7h0M73.0 151.9h0M76.1 154.5h0M71.0 154.2h0M68.7 150.8h0M69.4 153.7h0" stroke="#33A6DD" stroke-width="0.9" stroke-linecap="round" opacity="0.7" fill="none"/>
<path d="M56.6 160.9h0M56.1 160.0h0M55.0 158.7h0M55.7 161.3h0M56.7 158.4h0M57.0 159.7h0M55.9 160.9h0M53.7 159.7h0M56.2 158.7h0M54.3 160.3h0M52.1 158.0h0M54.3 158.2h0M54.0 161.5h0M55.8 161.0h0M53.5 160.9h0M54.9 161.4h0M54.3 160.3h0M55.9 162.2h0M56.0 158.9h0M55.6 162.3h0M54.1 158.1h0M54.2 161.0h0M52.5 158.7h0M58.8 159.6h0M54.8 160.2h0M55.5 159.1h0M54.7 157.9h0M56.0 160.2h0M58.5 159.1h0M54.4 159.1h0M59.6 167.6h0M62.2 166.0h0M60.0 165.6h0M62.0 165.0h0M58.7 166.5h0M60.4 164.6h0M59.1 166.2h0M61.2 165.5h0M58.9 169.5h0M62.0 169.8h0M63.4 167.6h0M62.0 163.9h0M57.9 166.1h0M61.8 166.8h0M59.0 164.7h0M62.7 164.9h0M60.5 166.7h0M59.6 166.8h0M60.6 169.0h0M58.4 166.2h0M58.2 168.7h0M61.6 167.0h0M60.5 166.3h0M61.0 168.0h0M61.6 166.7h0M61.9 166.6h0M55.9 168.4h0M59.5 165.8h0M61.3 166.6h0M59.6 166.5h0M61.5 166.8h0M60.1 165.0h0M62.2 164.9h0M58.9 167.4h0M59.5 167.3h0M51.8 175.0h0M55.3 177.1h0M53.4 175.6h0M54.8 178.5h0M52.1 177.7h0M52.3 175.7h0M56.1 173.3h0M55.1 172.8h0M55.2 175.5h0M57.5 175.8h0M55.0 174.9h0M56.2 174.4h0M52.2 175.2h0M55.2 176.2h0M53.9 174.7h0M51.2 173.1h0M53.8 176.3h0M56.9 176.9h0M55.5 174.8h0M51.6 175.0h0M52.9 174.5h0M55.3 174.6h0M53.3 175.5h0M54.7 175.7h0M56.3 173.1h0M57.3 174.8h0M52.1 177.0h0M50.1 175.7h0M50.0 177.0h0M52.8 180.0h0M51.9 177.8h0M53.6 175.1h0M52.9 174.3h0M53.3 177.5h0M55.4 176.3h0M58.0 182.8h0M61.9 180.5h0M62.1 185.0h0M61.0 182.8h0M61.5 181.2h0M62.7 186.1h0M60.1 183.1h0M59.4 181.8h0M59.2 181.1h0M62.7 182.1h0M60.0 182.8h0M58.1 184.5h0M62.3 185.1h0M57.2 183.0h0M63.3 179.6h0M59.2 180.4h0M60.5 183.3h0M60.8 181.8h0M61.4 180.9h0M62.9 182.5h0M56.0 182.3h0M61.3 177.9h0M65.9 181.4h0M56.1 184.7h0M63.9 184.6h0M61.0 182.3h0M64.5 184.0h0M56.4 184.7h0M63.1 179.4h0M56.7 185.0h0M60.2 181.5h0M59.2 184.6h0M59.7 180.5h0M61.6 182.3h0M60.6 182.8h0M55.8 182.6h0M60.1 183.2h0M61.0 183.1h0M60.5 184.0h0M60.6 185.5h0M59.3 181.7h0M64.1 183.2h0M60.0 180.0h0M61.2 179.9h0M58.8 182.1h0M63.1 184.3h0M61.0 183.7h0M60.0 183.9h0M60.3 183.6h0M61.6 178.6h0M53.9 188.9h0M52.5 192.2h0M56.8 194.6h0M61.3 192.2h0M59.6 195.1h0M58.4 190.1h0M54.9 191.4h0M57.9 195.1h0M54.9 192.0h0M57.0 193.6h0M55.6 194.8h0M58.0 194.9h0M55.3 194.3h0M55.0 194.1h0M58.2 194.2h0M58.8 194.0h0M56.5 195.9h0M54.0 195.0h0M57.5 192.5h0M55.1 192.2h0M56.1 189.3h0M57.9 190.4h0M55.5 190.5h0M61.1 193.0h0M58.1 193.2h0M57.5 192.8h0M55.4 195.6h0M58.4 191.2h0M57.9 191.9h0M54.7 190.5h0M56.3 190.6h0M55.5 192.7h0M54.5 192.3h0M55.4 195.4h0M56.9 195.1h0M66.2 196.2h0M62.9 194.4h0M66.4 196.3h0M62.3 190.6h0M64.3 193.7h0M64.7 196.3h0M65.5 194.2h0M60.1 196.5h0M65.2 194.1h0M64.3 194.9h0M63.9 194.6h0M64.6 194.0h0M63.9 195.1h0M62.3 193.8h0M61.4 197.0h0M63.3 197.4h0M61.2 196.3h0M66.4 195.8h0M65.5 197.4h0M67.7 193.1h0M60.6 191.9h0M63.2 193.8h0M63.2 194.0h0M64.2 194.7h0M65.0 192.9h0M63.8 195.5h0M67.6 195.6h0M63.5 195.6h0M65.8 195.1h0M63.8 194.0h0M61.6 195.4h0M61.7 195.1h0M62.3 193.7h0M64.7 195.8h0M64.4 194.5h0M69.5 202.3h0M66.3 203.2h0M72.2 200.2h0M72.3 200.5h0M69.5 202.4h0M71.4 198.1h0M68.9 201.6h0M64.5 199.9h0M62.6 202.4h0M69.5 201.0h0M70.6 201.4h0M66.0 201.8h0M67.2 199.9h0M74.3 199.0h0M70.5 201.9h0M66.9 200.5h0M69.1 200.9h0M72.0 201.3h0M70.7 197.4h0M69.0 202.1h0M68.6 200.1h0M70.9 200.1h0M68.9 200.6h0M65.9 200.6h0M64.9 199.4h0M64.8 198.7h0M66.9 201.9h0M71.5 199.9h0M68.2 201.3h0M65.3 201.0h0M67.6 201.8h0M71.0 199.7h0M69.7 199.4h0M64.5 203.3h0M71.2 201.2h0M67.9 199.7h0M66.7 202.2h0M66.4 199.6h0M67.6 197.5h0M65.8 203.5h0M71.0 198.8h0M67.5 202.9h0M69.3 198.2h0M65.6 202.2h0M70.3 202.5h0M68.5 198.0h0M68.1 201.3h0M72.2 202.0h0M71.5 198.7h0M71.7 200.3h0M68.6 200.0h0M72.7 202.6h0M69.5 202.0h0M65.1 200.2h0M63.6 200.9h0M77.8 197.4h0M77.6 197.2h0M73.7 195.5h0M78.6 195.6h0M75.3 197.3h0M77.7 195.9h0M75.5 196.5h0M77.6 195.0h0M78.7 195.7h0M75.2 196.7h0M73.5 197.2h0M78.7 196.8h0M75.6 195.9h0M74.0 195.6h0M77.0 197.2h0M75.9 196.9h0M77.5 197.1h0M74.9 196.2h0M75.2 195.8h0M75.9 196.4h0M79.0 194.1h0M76.4 196.2h0M75.1 195.5h0M75.8 196.5h0M75.8 195.6h0" stroke="#0A6A4E" stroke-width="1.15" stroke-linecap="round" fill="none"/>
<path d="M65.1 181.0h0M80.7 175.9h0M72.9 185.6h0M68.6 188.1h0M71.9 180.1h0M69.5 191.1h0M71.1 174.9h0M68.6 183.3h0M72.1 169.6h0M73.9 171.2h0M63.6 178.2h0M71.7 188.5h0M66.1 177.9h0M74.4 180.4h0M74.8 186.1h0M64.8 174.4h0M73.9 161.6h0M73.7 179.6h0M67.1 198.9h0M67.1 175.7h0M69.3 178.3h0M72.6 184.1h0M61.4 190.2h0M74.6 188.3h0M72.4 168.8h0M73.4 177.3h0M66.4 181.2h0M73.0 172.9h0M66.4 185.6h0M74.4 176.5h0M71.3 180.9h0M75.6 183.1h0M63.6 174.2h0M75.2 191.6h0M75.5 179.1h0M67.1 186.5h0M70.0 178.8h0M67.9 183.5h0M67.1 177.6h0M77.9 180.2h0M75.2 182.6h0M72.1 182.3h0M79.0 183.8h0M71.5 182.2h0M68.6 190.3h0M67.4 168.7h0M71.5 184.4h0M65.9 183.0h0M70.4 168.0h0M62.4 183.5h0M70.5 187.4h0M65.3 190.2h0M70.9 184.4h0M77.9 180.6h0M69.8 177.4h0M65.0 180.1h0M64.9 172.2h0M63.6 187.0h0M70.0 190.5h0M68.3 177.7h0M67.7 173.2h0M77.1 158.4h0M75.3 190.1h0M68.7 181.9h0M76.4 180.9h0M62.6 175.2h0M75.4 173.0h0M75.1 177.3h0M73.3 176.6h0M67.8 178.2h0M62.3 185.4h0M62.2 180.3h0M66.2 183.6h0M75.3 180.9h0M69.3 183.1h0M72.3 187.8h0M68.7 190.2h0M66.6 179.6h0M79.0 182.5h0M73.3 184.2h0M71.7 196.6h0M70.7 168.6h0M69.7 182.5h0M68.4 176.2h0M75.3 185.4h0M76.6 183.0h0M66.3 179.1h0M69.4 178.2h0M73.4 166.8h0M69.9 193.5h0M66.2 186.8h0M70.6 167.6h0M67.0 191.7h0M67.9 181.5h0M70.2 171.8h0M74.9 188.3h0M72.1 179.7h0M67.3 173.3h0M74.1 164.3h0M74.2 183.6h0M72.3 180.9h0M66.7 174.0h0M69.9 184.4h0M75.2 183.1h0M72.5 174.6h0M73.8 185.0h0M77.4 188.7h0M70.7 172.2h0M76.5 173.8h0M71.8 189.1h0M73.7 172.5h0M66.9 190.2h0M67.6 168.0h0M66.0 174.0h0M69.0 183.3h0M71.7 178.7h0M67.6 183.3h0M68.6 188.4h0M69.2 176.1h0M75.1 190.5h0M76.7 173.5h0M74.3 192.0h0M71.5 173.7h0M70.0 185.9h0M71.0 181.8h0M74.3 196.3h0M76.4 173.9h0M64.4 194.2h0M75.9 180.3h0M64.4 192.7h0M68.6 174.5h0M69.7 181.7h0M64.5 170.8h0M70.4 181.2h0M64.7 199.1h0M74.9 185.1h0M72.9 164.3h0M70.8 185.0h0M70.9 183.5h0M72.7 192.9h0M74.6 176.6h0M74.6 177.2h0M71.3 183.4h0M70.4 179.3h0M71.5 183.5h0M61.2 180.0h0M67.4 192.9h0M71.1 174.9h0M72.2 181.9h0M72.6 164.4h0M69.1 172.9h0M75.9 186.7h0M69.5 180.0h0M70.0 176.7h0M66.8 170.4h0M74.7 172.6h0M72.0 187.4h0M72.5 180.2h0M72.6 175.9h0M66.6 187.9h0M72.8 189.7h0M70.4 165.2h0M68.6 175.2h0M74.3 174.0h0M74.0 182.7h0M71.6 182.9h0M72.8 172.3h0M75.0 168.0h0M67.8 175.0h0M73.3 174.3h0M77.1 173.2h0M80.5 186.1h0M73.9 183.9h0M74.0 175.3h0M65.3 188.0h0M73.1 179.7h0M69.6 179.7h0M71.2 188.2h0M69.3 183.6h0M75.2 179.6h0M72.9 176.3h0M70.8 179.0h0M75.1 178.2h0M66.2 183.0h0M68.6 191.8h0M72.2 177.6h0M66.4 181.2h0M69.7 179.9h0M67.6 182.7h0M73.7 190.6h0M70.1 183.4h0M69.6 197.3h0M68.3 183.4h0M67.8 186.9h0M67.9 193.5h0M68.5 180.1h0M70.3 183.5h0M68.2 166.8h0M63.4 178.9h0M74.6 189.5h0M72.3 188.8h0M70.5 179.9h0M72.5 191.9h0M75.9 184.6h0M65.5 176.3h0M61.5 189.4h0M70.4 191.6h0M75.7 179.7h0M73.1 180.7h0M65.0 184.5h0M71.3 182.7h0M76.8 173.6h0M64.8 188.4h0M75.2 186.1h0M71.0 183.4h0M71.5 182.2h0M69.5 190.8h0M68.6 170.8h0M70.7 175.5h0M67.2 185.6h0M66.2 173.3h0M68.2 174.0h0M68.9 178.2h0M65.7 170.1h0M78.2 182.4h0M69.0 184.9h0M71.3 181.9h0M69.1 178.7h0M68.8 194.0h0M69.4 184.4h0M72.4 166.4h0M74.7 182.7h0M63.8 192.4h0M74.1 183.1h0M68.0 173.8h0M69.9 177.2h0M74.2 185.8h0M74.5 182.4h0M69.9 178.9h0M69.4 179.5h0M71.7 182.4h0M70.4 199.8h0M70.9 183.4h0M69.7 188.7h0M73.7 181.6h0M74.4 185.8h0M65.6 170.9h0M66.9 181.7h0M67.6 168.1h0M68.1 180.4h0M70.1 181.7h0M69.7 182.0h0M69.6 174.3h0M65.3 180.0h0M72.3 175.6h0M68.2 186.8h0M76.7 191.8h0M68.2 174.7h0M69.3 181.8h0M71.5 166.0h0M75.0 187.2h0M68.6 184.6h0M67.9 180.0h0M75.8 170.2h0M68.3 176.7h0M69.1 182.7h0M69.9 194.6h0M66.9 186.5h0M68.9 183.6h0M69.8 178.1h0M68.1 178.3h0M66.4 175.7h0M61.8 178.1h0M67.0 178.1h0M67.1 188.8h0M69.6 179.4h0M75.0 172.5h0M70.9 170.1h0M67.2 174.6h0M77.1 175.1h0M73.2 185.0h0M75.9 179.1h0M65.6 171.7h0M76.1 186.1h0M76.2 193.6h0M71.9 181.0h0M72.9 171.0h0M69.4 181.0h0M73.5 167.6h0M63.7 190.3h0M72.8 177.6h0M68.6 180.8h0M64.5 174.4h0M74.3 188.8h0M76.7 184.6h0M75.1 169.5h0M65.2 157.6h0M65.0 165.9h0M72.9 186.4h0M65.1 167.6h0M74.1 191.0h0M65.8 182.7h0M75.9 183.1h0M76.4 181.5h0M71.3 177.8h0M62.3 176.5h0M66.6 189.1h0M65.1 179.7h0M70.6 185.4h0M70.7 197.3h0M72.4 182.7h0M71.3 188.7h0M64.6 174.8h0M70.6 174.7h0M71.0 166.2h0M77.7 183.2h0M70.8 172.8h0M73.6 188.2h0M68.6 180.3h0M65.0 182.7h0M70.7 189.2h0M72.4 190.5h0M70.0 182.5h0M69.8 181.0h0M68.1 180.0h0M68.3 189.5h0M72.0 182.2h0M69.0 189.1h0M70.9 185.1h0M68.7 183.3h0M67.9 175.8h0M68.4 193.9h0M71.0 192.2h0M67.0 183.5h0M68.4 183.3h0M76.5 192.5h0M67.4 186.7h0M73.7 179.5h0M68.9 173.9h0M71.1 170.0h0M69.5 181.4h0M67.7 171.4h0M73.2 179.1h0M64.5 178.7h0M71.6 175.7h0M71.9 182.0h0M71.7 177.7h0M68.4 188.5h0M71.3 183.9h0M72.7 183.4h0M71.8 183.2h0M70.6 176.1h0M73.3 182.9h0M69.3 187.4h0M77.5 173.6h0M71.3 191.0h0M65.4 181.1h0M70.3 176.4h0M76.6 187.4h0M70.3 170.3h0M71.1 174.3h0M72.4 178.5h0M71.7 192.3h0M73.4 179.1h0M70.2 174.5h0M73.4 174.2h0M68.5 170.1h0M70.9 195.9h0M69.0 177.8h0M68.7 182.0h0M72.1 200.0h0M75.2 182.9h0M66.9 191.5h0M72.5 175.7h0M71.8 181.9h0M75.0 184.9h0M67.9 184.1h0M76.7 184.5h0M73.3 166.9h0M81.8 171.2h0M71.7 169.5h0M78.5 170.2h0M73.0 167.9h0M68.4 167.5h0M73.9 170.1h0M73.6 166.7h0M79.3 170.4h0M72.5 162.9h0M68.8 167.6h0M74.2 167.6h0M76.9 172.3h0M76.7 168.6h0M75.0 164.5h0M77.3 167.5h0M77.3 165.1h0M73.4 164.0h0M73.3 172.2h0M71.9 166.9h0M72.7 168.7h0M71.0 166.7h0M69.9 174.6h0M72.2 167.4h0M70.3 168.0h0M73.2 163.1h0M83.3 166.8h0M72.8 169.7h0M67.5 167.4h0M70.0 166.1h0M72.6 161.8h0M72.3 168.5h0M70.9 168.3h0M73.2 171.2h0M73.6 168.6h0M74.4 167.2h0M79.3 169.0h0M75.3 169.8h0M80.9 165.9h0M78.6 165.5h0M73.9 169.8h0M78.1 166.0h0M78.1 169.6h0M81.7 164.9h0M76.0 166.9h0M73.2 168.0h0M72.7 169.2h0M74.7 165.6h0M81.6 168.1h0M68.7 167.4h0M74.5 167.3h0M73.4 171.1h0M72.5 166.9h0M72.6 167.0h0M72.1 168.3h0M77.8 168.3h0M74.8 166.8h0M72.7 164.4h0M80.2 167.4h0M71.3 168.1h0M73.6 170.8h0M75.5 165.3h0M72.6 165.8h0M73.7 164.2h0M79.6 168.9h0M74.8 168.6h0M76.2 165.9h0M74.7 171.9h0M78.8 165.3h0M72.8 167.3h0M53.8 196.3h0M54.6 196.5h0M54.7 199.4h0M55.5 197.9h0M53.7 196.2h0M57.2 195.5h0M53.6 199.9h0M55.3 196.4h0M57.4 197.4h0M55.4 199.2h0M54.4 195.5h0M55.4 199.7h0M56.0 198.4h0M54.0 198.2h0M58.0 199.5h0M55.1 199.3h0M54.9 199.7h0M53.2 198.1h0M51.7 197.5h0M60.4 197.6h0M57.8 198.6h0M57.8 197.3h0M54.6 197.8h0M55.5 197.9h0M56.1 196.9h0M56.3 199.5h0M54.0 196.7h0M56.6 198.1h0M56.7 196.6h0M54.7 198.5h0M54.3 198.2h0M55.4 196.9h0M54.8 196.7h0M53.4 197.0h0M57.8 197.8h0" stroke="#C8192E" stroke-width="1.15" stroke-linecap="round" fill="none"/>
<path d="M66.6 158.7h0M75.2 159.1h0M67.5 160.0h0M74.8 159.4h0M75.0 160.1h0M81.6 157.2h0M71.9 161.2h0M65.8 158.8h0M68.7 158.2h0M73.8 154.9h0M67.3 155.8h0M70.7 157.0h0M78.4 157.2h0M79.3 157.5h0M72.9 158.3h0M71.8 156.3h0M73.2 158.9h0M72.8 159.3h0M68.1 157.7h0M68.8 155.3h0M73.3 157.1h0M71.4 162.1h0M72.7 158.4h0M76.5 160.3h0M79.7 157.3h0M79.7 158.0h0M66.6 156.6h0M76.6 159.5h0M77.4 156.6h0M70.2 156.2h0M63.0 158.2h0M78.7 160.1h0M68.3 160.2h0M69.2 158.7h0M75.4 157.5h0M67.8 159.3h0M70.9 157.3h0M74.5 157.8h0M73.4 156.6h0M74.9 156.6h0M70.0 155.0h0M76.8 158.4h0M73.8 155.3h0M72.4 157.5h0M77.0 155.5h0M73.3 160.0h0M66.4 158.4h0M66.9 158.3h0M73.2 160.5h0M72.5 157.0h0M74.3 158.2h0M76.5 157.2h0M77.6 158.5h0M72.8 159.9h0M69.4 157.3h0M74.0 158.1h0M71.9 157.5h0M70.4 159.7h0M80.4 155.9h0M78.4 159.5h0M77.1 158.5h0M68.5 157.9h0M67.6 155.4h0M71.4 158.7h0M70.5 158.5h0M64.9 160.0h0M71.0 158.3h0M74.9 157.2h0M83.2 160.3h0M77.2 158.5h0M68.6 159.1h0M68.5 158.6h0M72.8 160.3h0M73.7 158.5h0M77.9 158.0h0M69.4 157.3h0M78.2 158.3h0M69.2 154.9h0M67.1 158.7h0M74.3 161.1h0M68.6 159.1h0M77.5 154.3h0M81.9 156.3h0M66.7 159.8h0M73.6 160.3h0M74.6 158.7h0M71.2 156.9h0M74.3 154.9h0M70.9 159.5h0M66.6 159.6h0M76.1 158.3h0M71.0 159.2h0M74.6 157.8h0M80.8 160.8h0M76.2 160.6h0M77.5 155.9h0M83.0 155.7h0M72.7 156.3h0M74.5 159.0h0M72.8 153.3h0M75.3 158.6h0M62.6 160.8h0M71.1 156.9h0M73.6 157.3h0M73.5 157.6h0M67.7 156.3h0M75.3 158.4h0M68.4 157.2h0M67.8 161.9h0M73.4 158.5h0M78.5 157.1h0M66.9 157.3h0M72.5 157.9h0M70.2 158.5h0M69.7 156.3h0M75.0 157.7h0M70.3 159.1h0M73.5 156.3h0M68.4 155.8h0M66.3 158.7h0M69.4 156.5h0M65.7 160.3h0M69.7 158.5h0M71.2 156.5h0M73.5 158.4h0M77.3 159.2h0M66.0 157.9h0M71.0 158.0h0M66.0 155.2h0M70.9 158.7h0M66.2 161.3h0M74.4 157.3h0M80.6 155.5h0M67.0 156.3h0M76.7 156.9h0M74.8 158.6h0M68.9 158.4h0M66.3 159.6h0M67.1 156.6h0M74.6 157.3h0M79.8 160.5h0M64.2 158.4h0M70.9 161.8h0M69.1 157.1h0M70.7 157.8h0M67.6 158.6h0M69.2 156.7h0M78.3 158.4h0M66.9 155.8h0M70.1 156.0h0M65.8 160.0h0M70.9 157.2h0M72.4 157.2h0M71.9 161.3h0M71.5 157.1h0M66.6 159.3h0M70.9 158.9h0M64.5 157.5h0M72.0 159.1h0M72.8 157.7h0M77.3 158.1h0M62.4 156.0h0M71.4 158.6h0M65.7 156.1h0M73.2 158.6h0M73.3 159.4h0M71.9 156.8h0M77.3 160.0h0M79.3 159.0h0M72.4 158.7h0M73.3 155.2h0M71.3 157.7h0M73.7 158.9h0M70.6 157.6h0M66.1 158.8h0M70.0 157.7h0M76.8 160.1h0M70.6 161.2h0M75.2 158.4h0M68.0 156.8h0M76.1 154.9h0M79.4 159.4h0M70.2 161.0h0M72.8 156.1h0M68.7 156.3h0M66.3 161.5h0M72.0 157.8h0M75.1 159.1h0M68.5 156.4h0M62.7 159.7h0M70.3 159.6h0M71.5 155.7h0M68.7 160.7h0M68.7 159.0h0M60.9 156.7h0M75.8 154.9h0M76.2 157.3h0M68.8 160.6h0M69.3 160.1h0M70.0 158.9h0M83.0 158.8h0M79.6 162.9h0M82.2 159.5h0M80.9 162.1h0M81.0 161.4h0M79.0 162.1h0M81.6 163.0h0M80.3 160.8h0M81.9 160.1h0M79.2 161.0h0M80.5 162.0h0M84.3 162.6h0M82.3 161.4h0M78.5 161.4h0M79.6 164.4h0M83.4 162.9h0M80.4 160.3h0M80.0 161.1h0M79.1 162.4h0M83.9 164.4h0M80.3 162.0h0M81.2 161.1h0M83.2 162.6h0M80.8 162.6h0M79.8 161.7h0M83.1 163.2h0M81.0 160.2h0M85.4 162.5h0M82.6 160.8h0M81.9 162.7h0M66.1 159.6h0M62.8 159.6h0M65.0 157.0h0M65.6 158.4h0M65.9 157.2h0M66.5 162.2h0M66.7 157.2h0M67.5 159.2h0M64.4 159.7h0M63.4 158.5h0M68.6 155.9h0M64.8 156.5h0M67.7 156.7h0M65.4 158.3h0M67.1 158.8h0M64.0 154.6h0M67.0 157.7h0M66.4 156.7h0M65.4 159.7h0M63.1 157.3h0M62.9 159.6h0M65.7 156.1h0M62.8 157.7h0M65.6 157.3h0M67.5 156.1h0M66.6 159.9h0M64.5 158.9h0M67.8 155.5h0M64.4 155.7h0M66.2 160.5h0" stroke="#33A6DD" stroke-width="1.15" stroke-linecap="round" fill="none"/>
<rect x="33.8" y="145.4" width="63.2" height="61" fill="none" stroke="#7a7a7a" stroke-width="0.75"/>
<text x="65.6" y="140.5" font-size="8.9" fill="#222" text-anchor="middle" textLength="38.8" lengthAdjust="spacingAndGlyphs">Diagnosis</text>
<line x1="33.8" y1="206.4" x2="33.8" y2="208.4" stroke="#7a7a7a" stroke-width="0.6"/>
<text x="31.8" y="216.6" font-size="7.3" fill="#333" stroke="#333" stroke-width="0.1" text-anchor="middle">−50</text>
<line x1="49.9" y1="206.4" x2="49.9" y2="208.4" stroke="#7a7a7a" stroke-width="0.6"/>
<text x="47.9" y="216.6" font-size="7.3" fill="#333" stroke="#333" stroke-width="0.1" text-anchor="middle">−25</text>
<line x1="66.1" y1="206.4" x2="66.1" y2="208.4" stroke="#7a7a7a" stroke-width="0.6"/>
<text x="66.4" y="216.6" font-size="7.3" fill="#333" stroke="#333" stroke-width="0.1" text-anchor="middle">0</text>
<line x1="82.3" y1="206.4" x2="82.3" y2="208.4" stroke="#7a7a7a" stroke-width="0.6"/>
<text x="82.6" y="216.6" font-size="7.3" fill="#333" stroke="#333" stroke-width="0.1" text-anchor="middle">25</text>
<ellipse cx="143.3" cy="152.1" rx="4.3" ry="3.2" fill="#33A6DD" opacity="0.4" filter="url(#bl)" transform="rotate(0 143.3 152.1)"/>
<ellipse cx="150.9" cy="157.0" rx="5.8" ry="4.1" fill="#33A6DD" opacity="0.35" filter="url(#bl)" transform="rotate(34 150.9 157.0)"/>
<ellipse cx="158.0" cy="163.1" rx="2.9" ry="5.0" fill="#33A6DD" opacity="0.35" filter="url(#bl)" transform="rotate(0 158.0 163.1)"/>
<ellipse cx="153.5" cy="179.6" rx="8.1" ry="6.9" fill="#C8192E" opacity="0.4" filter="url(#bl)" transform="rotate(0 153.5 179.6)"/>
<path d="M134.5 201.1h0M139.4 169.1h0M123.6 169.5h0M132.1 171.7h0M112.6 175.7h0M125.1 175.3h0M128.9 185.1h0M111.8 189.7h0M123.1 196.8h0M133.2 161.4h0M128.7 195.3h0M135.2 188.2h0M122.6 201.3h0M142.6 189.4h0M137.9 172.2h0M137.9 180.7h0M144.4 173.1h0M133.4 179.5h0M134.9 176.9h0M141.6 179.1h0M134.7 188.8h0M126.8 164.7h0M111.0 186.0h0M130.6 185.2h0M125.5 181.0h0M117.9 164.1h0M119.4 179.6h0M130.4 188.5h0M115.7 194.0h0M133.3 174.6h0M116.3 182.6h0M130.7 192.7h0M134.9 198.5h0M117.3 191.9h0M128.3 159.4h0M130.9 180.9h0M138.0 179.8h0M125.4 194.2h0M134.9 171.1h0M118.8 164.5h0M118.5 165.3h0M130.6 189.6h0M138.6 181.6h0M133.5 194.0h0M114.6 184.1h0M116.8 187.6h0M136.6 189.8h0M121.2 198.0h0M129.4 168.5h0M133.4 175.1h0M140.2 179.7h0M115.2 192.9h0M128.5 187.2h0M112.5 184.2h0M139.7 191.4h0M135.9 195.5h0M111.2 178.6h0M125.6 184.2h0M108.7 177.4h0M138.7 188.1h0M137.0 166.8h0M113.8 189.6h0M129.9 163.5h0M111.0 175.5h0M128.5 175.6h0M147.5 179.1h0M141.9 170.6h0M118.1 167.5h0M135.0 185.1h0M136.4 186.2h0M126.5 195.4h0M132.5 171.5h0M123.8 174.8h0M107.9 185.0h0M137.4 199.9h0M132.0 188.0h0M117.8 186.2h0M141.5 182.3h0M142.2 178.6h0M114.0 168.7h0M134.5 169.3h0M112.6 180.5h0M114.1 165.3h0M127.2 200.6h0M138.1 174.9h0M140.4 183.1h0M136.7 174.6h0M124.0 179.8h0M121.1 196.6h0M129.9 185.2h0M131.5 170.1h0M111.4 182.2h0M120.7 181.8h0M115.7 188.1h0M136.5 196.1h0M117.4 182.6h0M127.0 161.7h0M106.9 181.6h0M113.9 197.8h0M120.4 176.6h0M118.7 171.9h0M127.4 184.1h0M125.6 184.8h0M132.0 191.4h0M129.5 182.1h0M120.9 179.3h0M134.1 191.1h0M135.3 188.9h0M116.3 183.3h0M120.3 162.4h0M116.0 179.7h0M141.8 188.0h0M128.4 174.3h0M132.2 180.1h0M126.1 189.6h0M127.5 186.0h0M111.9 187.2h0M128.8 198.3h0M122.2 190.1h0M116.5 180.3h0M132.7 171.1h0M129.8 162.7h0M118.9 178.2h0M135.8 174.6h0M110.1 182.6h0M127.7 177.4h0M136.2 187.5h0M136.8 175.2h0M140.9 187.8h0M134.4 188.6h0" stroke="#0A6A4E" stroke-width="0.9" stroke-linecap="round" opacity="0.7" fill="none"/>
<path d="M140.5 177.2h0M156.7 173.3h0M144.5 193.3h0M137.3 194.6h0M131.9 175.4h0M134.4 180.5h0M140.7 183.0h0M151.4 197.5h0M149.6 171.8h0M154.2 190.8h0M149.9 171.2h0M139.5 189.7h0M157.7 175.2h0M146.8 173.3h0M157.5 177.0h0M133.3 184.5h0M146.1 173.1h0M141.5 194.9h0M153.0 199.5h0M159.1 172.2h0M156.2 192.8h0M138.3 189.0h0M147.2 168.0h0M132.4 172.5h0M141.3 198.7h0M152.9 181.5h0M138.3 175.6h0M157.0 172.6h0M157.1 176.1h0M133.3 196.6h0M158.5 176.8h0M147.1 177.0h0M144.8 189.7h0M133.7 172.7h0M142.1 173.1h0M154.8 179.1h0M139.6 175.2h0M138.7 188.4h0M153.2 180.3h0M135.1 185.1h0M144.3 164.6h0M152.8 190.5h0M145.5 188.8h0M150.0 195.8h0M150.0 165.1h0M153.8 178.1h0M150.5 187.8h0M145.0 193.6h0M153.6 170.6h0M148.5 171.2h0M145.4 190.4h0M138.0 171.4h0M139.4 181.8h0M155.4 170.0h0M150.3 180.5h0M151.8 186.1h0M145.5 175.9h0M139.4 193.0h0M155.1 187.7h0M145.5 163.0h0M151.7 193.6h0M143.8 188.4h0M146.4 195.0h0M151.8 182.0h0M156.9 182.9h0M161.5 178.9h0M148.9 185.5h0M148.8 176.4h0M148.8 176.5h0M133.9 194.1h0M143.0 185.0h0M132.5 176.7h0M156.8 184.0h0M127.3 184.5h0M151.9 179.0h0M151.8 178.0h0M137.5 188.7h0M132.5 178.1h0M143.9 178.7h0M160.9 183.8h0M137.8 200.4h0M134.2 195.1h0M151.7 166.5h0M137.8 177.9h0M145.7 165.1h0M143.9 188.5h0M154.7 184.9h0M151.2 167.3h0M136.1 170.1h0M148.8 171.8h0" stroke="#C8192E" stroke-width="0.9" stroke-linecap="round" opacity="0.7" fill="none"/>
<path d="M142.1 162.0h0M144.9 165.7h0M130.7 168.1h0M131.0 163.8h0M138.4 168.9h0M128.1 161.3h0M133.9 158.5h0M134.0 166.6h0M125.8 158.9h0M138.6 166.7h0M129.2 165.7h0M132.4 164.4h0M136.0 157.3h0M137.5 157.9h0M134.6 161.5h0M131.2 150.3h0M136.4 168.7h0M140.7 159.0h0M141.8 166.9h0M133.3 158.8h0M138.8 163.8h0M136.1 168.0h0M133.7 163.2h0M139.8 167.7h0M133.6 158.3h0M140.1 156.9h0M141.7 161.4h0M141.1 165.7h0M140.6 160.2h0M130.7 165.9h0M142.9 156.6h0M133.8 156.4h0M132.7 161.3h0M142.1 159.2h0M141.8 157.6h0M135.6 160.8h0M144.0 159.7h0M138.9 158.0h0M131.4 150.5h0M137.8 151.2h0M143.8 158.7h0M137.1 156.0h0M137.3 159.6h0M125.8 163.0h0M139.1 162.2h0M131.4 167.0h0M143.2 154.6h0M135.8 167.1h0M137.9 169.1h0M134.8 166.7h0M142.1 155.8h0M136.2 153.1h0M136.3 168.1h0M140.5 167.1h0M135.5 152.6h0M140.4 162.8h0M143.3 156.5h0M138.7 160.3h0M134.5 154.0h0M138.3 165.3h0" stroke="#33A6DD" stroke-width="0.9" stroke-linecap="round" opacity="0.7" fill="none"/>
<path d="M130.0 173.1h0M129.0 175.8h0M130.2 173.2h0M129.4 175.6h0M129.7 174.9h0M127.7 174.1h0M129.4 176.4h0M129.1 175.3h0M128.9 175.3h0M131.1 175.1h0M134.8 182.4h0M134.2 181.4h0M134.4 182.2h0M134.7 182.4h0M136.3 180.6h0M135.9 182.6h0M134.8 180.7h0M135.8 181.4h0M133.3 190.8h0M133.5 190.7h0M134.7 190.9h0M133.0 190.7h0M132.8 189.6h0M133.9 191.1h0M131.9 191.4h0M136.0 191.9h0M120.4 196.5h0M123.7 196.7h0M124.8 196.3h0M121.9 195.5h0M123.6 196.2h0M124.2 196.1h0M125.0 195.3h0M122.9 196.7h0M123.9 197.6h0M122.6 194.6h0M136.9 201.7h0M136.1 199.2h0M138.8 200.5h0M138.0 200.1h0M134.9 203.0h0M136.2 201.6h0M134.2 199.6h0M134.3 198.7h0M134.5 200.9h0M137.2 200.8h0M138.3 198.7h0M136.9 198.4h0M140.7 201.1h0M137.1 198.2h0M139.6 199.4h0M134.9 198.2h0M140.7 201.4h0M136.5 201.2h0M133.8 201.8h0M137.9 202.3h0M138.6 199.5h0M134.3 201.6h0M135.2 201.3h0M139.7 199.2h0M138.8 201.6h0M146.0 197.3h0M143.9 198.3h0M145.5 197.2h0M145.2 197.7h0M148.1 197.8h0M146.9 197.2h0M147.4 197.9h0M146.2 197.4h0M145.3 197.0h0M146.6 198.7h0M146.6 197.9h0M146.1 198.8h0" stroke="#0A6A4E" stroke-width="1.15" stroke-linecap="round" fill="none"/>
<path d="M148.6 185.7h0M144.6 179.7h0M157.4 184.0h0M149.6 176.9h0M151.8 174.5h0M151.7 175.0h0M155.6 178.2h0M148.5 175.6h0M153.7 175.3h0M145.3 174.0h0M154.2 170.7h0M153.4 182.9h0M149.5 177.6h0M144.7 174.4h0M149.7 180.5h0M150.7 173.7h0M149.8 173.3h0M162.3 176.0h0M161.2 171.6h0M147.5 185.6h0M151.3 188.9h0M157.4 185.5h0M144.4 180.0h0M151.1 186.5h0M150.5 179.2h0M148.5 171.4h0M156.2 177.3h0M154.7 174.4h0M152.4 174.9h0M149.8 179.6h0M149.7 181.4h0M146.3 176.9h0M159.8 175.4h0M142.8 184.6h0M151.8 174.0h0M146.2 181.4h0M146.3 170.9h0M156.0 179.8h0M155.8 176.2h0M154.7 174.2h0M150.5 179.6h0M154.0 184.0h0M157.1 174.8h0M149.9 182.5h0M160.2 181.7h0M151.2 180.6h0M159.8 185.8h0M150.4 175.1h0M153.8 176.8h0M153.6 175.6h0M155.3 182.0h0M161.6 185.4h0M154.8 175.5h0M158.2 176.6h0M145.8 178.2h0M146.1 188.0h0M159.1 185.5h0M150.7 178.6h0M154.1 177.2h0M153.1 181.0h0M149.1 178.9h0M159.8 179.8h0M143.4 174.9h0M149.2 177.0h0M154.1 175.1h0M161.5 178.2h0M155.7 175.2h0M141.8 181.3h0M157.4 183.7h0M152.5 180.1h0M148.6 171.9h0M153.5 181.5h0M155.7 183.1h0M158.4 182.9h0M157.3 180.4h0M150.1 170.2h0M154.3 185.6h0M155.9 188.3h0M157.3 170.5h0M159.6 175.8h0M153.6 178.2h0M153.9 187.6h0M160.8 174.0h0M156.7 177.1h0M161.4 187.7h0M152.6 185.2h0M160.8 184.4h0M161.3 180.5h0M157.4 181.0h0M155.9 181.2h0M144.0 180.3h0M161.1 175.1h0M152.4 167.2h0M156.7 181.0h0M159.4 187.4h0M150.0 177.2h0M157.4 178.1h0M157.9 172.6h0M152.8 175.2h0M145.8 180.6h0M148.0 177.2h0M151.1 166.7h0M157.3 181.1h0M154.6 178.1h0M161.0 181.0h0M147.8 181.4h0M159.8 179.1h0M153.2 181.7h0M157.7 181.7h0M151.8 182.7h0M152.5 178.4h0M160.2 178.2h0M149.1 182.1h0M148.6 184.8h0M154.1 184.3h0M153.6 175.0h0M138.2 175.4h0M159.6 177.3h0M158.2 184.5h0M144.4 177.5h0M152.6 186.1h0M162.0 176.1h0M157.0 181.0h0M147.4 184.5h0M162.6 174.7h0M156.9 176.3h0M159.2 184.5h0M151.5 178.6h0M162.1 178.5h0M159.2 171.4h0M145.3 184.3h0M154.6 177.9h0M147.2 180.2h0M145.8 178.4h0M156.6 177.8h0M144.4 171.4h0M150.4 168.7h0M157.1 175.7h0M149.4 177.3h0M148.6 185.1h0M149.2 173.4h0M158.6 175.7h0M160.9 182.3h0M150.5 179.5h0M147.3 173.8h0M159.0 177.4h0M152.0 176.9h0M153.7 177.8h0M153.4 179.5h0M160.4 177.1h0M152.7 179.9h0M148.2 181.6h0M152.7 176.8h0M149.1 179.0h0M154.5 181.3h0M157.2 178.0h0M160.6 180.0h0M159.3 178.0h0M159.5 179.8h0M149.6 177.7h0M154.8 172.1h0M154.7 170.6h0M154.5 175.8h0M146.9 177.0h0M160.4 187.3h0M151.6 186.1h0M155.2 187.5h0M154.1 183.0h0M148.1 185.4h0M158.4 185.2h0M162.5 178.4h0M156.3 171.4h0M149.1 174.3h0M158.3 182.6h0M156.1 180.8h0M165.1 184.0h0M151.3 188.0h0M163.5 184.1h0M142.0 175.9h0M156.7 178.6h0M145.3 180.7h0M150.1 181.4h0M155.7 186.9h0M149.3 185.1h0M149.0 185.0h0M156.9 182.1h0M155.0 177.0h0M156.3 182.6h0M160.8 181.8h0M156.6 175.0h0M144.5 180.7h0M166.7 179.2h0M148.8 167.6h0M156.9 175.1h0M150.1 180.9h0M157.2 188.4h0M160.4 182.9h0M153.5 174.1h0M152.1 184.0h0M141.2 179.2h0M161.9 183.8h0M152.0 178.0h0M157.0 178.5h0M156.6 187.5h0M152.1 176.9h0M159.4 181.2h0M149.1 170.4h0M163.2 188.4h0M152.9 182.0h0M154.9 182.0h0M163.1 182.1h0M153.3 181.5h0M154.9 183.3h0M152.7 177.0h0M164.4 183.5h0M158.8 190.3h0M154.3 179.2h0M156.2 175.4h0M148.9 175.2h0M157.4 172.7h0M154.3 179.3h0M162.2 178.2h0M159.0 183.8h0M158.0 186.7h0M144.2 182.0h0M152.0 178.3h0M161.2 177.3h0M150.3 185.6h0M143.1 186.2h0M148.2 188.6h0M149.8 182.7h0M155.8 180.6h0M157.0 180.0h0M160.3 183.0h0M144.4 167.7h0M166.8 169.4h0M154.4 177.1h0M150.4 175.7h0M165.6 184.4h0M147.9 183.1h0M155.0 189.2h0M154.4 171.9h0M163.5 188.4h0M164.4 183.5h0M143.2 174.6h0M151.7 180.2h0M150.9 182.0h0M146.8 176.5h0M148.5 178.1h0M143.9 188.5h0M147.0 175.8h0M155.3 175.1h0M158.2 183.4h0M158.6 175.4h0M148.0 177.2h0M150.0 178.9h0M154.2 178.8h0M150.1 184.4h0M159.9 183.1h0M156.3 181.3h0M162.3 176.6h0M146.1 178.4h0M152.9 177.7h0M151.6 178.1h0M154.8 176.0h0M147.5 178.9h0M156.0 178.5h0M146.1 179.2h0M150.2 181.6h0M150.7 179.3h0M158.6 180.2h0M153.0 178.3h0M149.0 182.2h0M145.8 176.6h0M147.9 181.8h0M166.2 173.7h0M157.4 179.4h0M165.0 168.0h0M148.7 182.5h0M153.9 181.9h0M143.8 178.4h0M150.2 189.9h0M156.0 181.9h0M152.5 186.9h0M154.7 181.7h0M148.6 184.5h0M159.1 174.7h0M149.3 181.5h0M152.6 175.4h0M154.5 182.9h0M153.6 177.5h0M155.8 178.7h0M151.9 181.7h0M161.5 186.0h0M154.9 178.5h0M154.1 181.2h0M157.6 178.9h0M153.7 181.4h0M148.3 179.7h0M155.4 183.4h0M155.3 177.0h0M146.8 175.8h0M145.8 174.1h0M149.1 176.7h0M156.2 178.1h0M152.2 180.0h0M148.7 173.2h0M149.5 174.3h0M161.5 186.3h0M152.8 181.1h0M161.6 186.2h0M159.3 183.1h0M160.0 174.5h0M142.2 175.8h0M156.0 175.3h0M151.0 179.5h0M153.1 174.5h0M152.2 183.7h0M156.8 179.5h0M152.4 186.2h0M162.6 174.9h0M150.0 177.2h0M156.7 179.4h0M151.6 187.0h0M156.0 175.6h0M153.5 178.9h0M161.6 170.7h0M153.1 180.3h0M160.1 179.5h0M157.6 183.1h0M144.0 176.8h0M149.9 179.8h0M146.1 181.1h0M151.4 180.2h0M140.7 180.7h0M154.6 172.7h0M151.7 181.6h0M164.3 176.1h0M153.2 175.2h0M155.8 172.6h0M149.4 179.5h0M152.7 177.2h0M150.6 175.8h0M157.6 178.9h0M145.3 181.1h0M155.6 185.0h0M162.5 179.2h0M160.7 180.6h0M156.5 177.2h0M153.1 177.7h0M142.2 178.0h0M144.9 180.6h0M139.9 180.0h0M143.8 175.1h0M151.7 181.0h0M147.5 178.7h0M158.6 178.7h0M156.0 179.0h0M159.5 183.0h0M159.9 178.9h0M152.0 165.9h0M146.9 174.3h0M158.1 177.1h0M147.4 177.9h0M149.1 174.0h0M146.1 183.5h0M161.1 178.6h0M154.6 183.1h0M150.6 180.6h0M146.0 169.9h0M148.6 184.1h0M152.2 173.1h0M155.2 184.6h0M147.9 181.9h0M164.8 177.5h0M153.8 175.9h0M145.2 172.9h0M158.3 181.5h0M152.0 188.4h0M151.3 180.0h0M157.5 176.4h0M147.8 177.0h0M147.3 180.0h0M154.5 176.6h0M141.7 176.7h0M145.9 177.2h0M154.8 186.2h0M160.6 173.1h0M154.0 176.7h0M154.4 187.6h0M157.1 181.4h0M151.1 176.4h0M151.9 182.4h0M162.2 182.4h0M152.7 179.4h0M157.8 187.6h0M164.8 175.4h0M145.9 184.0h0M158.4 184.7h0M163.1 178.9h0M158.3 174.8h0M160.6 179.2h0M152.9 174.5h0M161.3 184.1h0M157.2 173.4h0M149.4 184.6h0M152.8 180.4h0M155.4 177.6h0M159.5 170.3h0M162.4 186.8h0M156.0 183.1h0M152.8 188.1h0M150.2 175.1h0M155.8 177.1h0M151.7 187.1h0M142.3 182.7h0M147.6 180.3h0M156.1 181.0h0M144.9 179.7h0M156.6 188.5h0M155.2 173.9h0M149.0 175.1h0M160.5 183.3h0M144.4 176.9h0M160.8 175.4h0M156.4 178.0h0M154.7 177.3h0M145.8 175.0h0M155.8 186.0h0M152.4 181.5h0M156.4 174.4h0M147.9 182.5h0M155.9 175.8h0M143.2 176.4h0M150.0 181.4h0M151.0 178.8h0M158.2 181.6h0M150.7 184.3h0M155.9 187.2h0M149.8 180.1h0M151.0 174.1h0M147.7 180.1h0M156.7 177.3h0M152.4 185.3h0M152.7 177.4h0M158.3 177.2h0M156.5 177.4h0M153.6 178.2h0M150.5 180.1h0M163.2 182.7h0M159.2 188.0h0M153.9 184.8h0M157.1 181.2h0M157.6 184.0h0M156.1 184.7h0M154.6 185.8h0M160.7 190.0h0M161.1 183.4h0M157.6 185.6h0M160.4 180.6h0M154.3 186.4h0M160.3 181.2h0M163.2 185.1h0M158.1 183.7h0M160.7 184.0h0M158.6 186.8h0M156.3 185.1h0M160.0 187.6h0M160.4 186.8h0M162.1 187.8h0M157.2 183.9h0M159.0 189.9h0M162.6 186.0h0M161.1 184.8h0M163.3 184.3h0M161.7 185.7h0M157.0 187.9h0M161.3 184.8h0M156.8 186.7h0M157.7 181.4h0M162.9 184.5h0M160.4 186.7h0M163.5 181.7h0M154.6 187.6h0M158.4 185.2h0M161.8 188.7h0M157.3 183.2h0M153.5 185.4h0M159.3 184.7h0M164.5 181.5h0M154.8 181.8h0M161.2 180.2h0M156.2 185.7h0M156.0 182.4h0M155.9 185.9h0M157.0 186.4h0M157.4 185.0h0M156.7 186.4h0M151.8 190.2h0M160.1 180.9h0M156.8 184.0h0M159.4 182.3h0M162.6 184.0h0M157.1 184.5h0M161.9 180.4h0M156.8 187.6h0M160.3 184.7h0M165.0 189.0h0M155.8 180.5h0M160.6 187.1h0M158.6 185.8h0M157.3 186.8h0M155.7 185.2h0M161.2 184.0h0M159.4 184.7h0M162.0 182.5h0M162.8 180.1h0M163.0 185.5h0M161.9 187.8h0M160.6 188.2h0M161.3 184.7h0M162.3 188.4h0M154.3 185.2h0M153.3 184.8h0M159.5 184.4h0M162.9 187.7h0M161.8 177.1h0M163.7 182.9h0M151.5 185.1h0M158.8 183.6h0M163.7 183.8h0M156.7 187.2h0M156.5 187.4h0M156.6 186.5h0M165.0 187.3h0M157.4 180.1h0M158.1 180.2h0M163.6 187.5h0M153.0 183.4h0M160.9 187.3h0M156.0 184.7h0M156.1 183.6h0M161.7 179.0h0M159.4 186.9h0M154.5 182.2h0M163.9 184.6h0M162.1 186.3h0M163.3 187.3h0M159.6 182.8h0M161.6 182.0h0M157.6 183.4h0M158.5 181.4h0M159.1 186.8h0M154.5 178.8h0M157.6 184.7h0M160.6 185.3h0M159.1 190.1h0M161.4 184.8h0M161.3 185.4h0M158.9 185.4h0M162.1 166.2h0M163.7 164.2h0M161.9 165.8h0M163.1 165.1h0M162.7 167.3h0M163.1 168.1h0M162.5 165.9h0M162.5 164.4h0M163.5 165.4h0M162.2 166.2h0M164.3 165.9h0M162.3 168.8h0M162.8 165.8h0M163.4 166.4h0M163.2 168.8h0M161.8 165.2h0M161.9 167.7h0M164.4 167.7h0M163.2 166.2h0M162.5 167.3h0" stroke="#C8192E" stroke-width="1.15" stroke-linecap="round" fill="none"/>
<path d="M141.0 147.8h0M145.0 153.7h0M142.4 152.9h0M148.2 154.4h0M145.3 153.6h0M140.8 154.2h0M138.5 151.4h0M142.0 148.4h0M143.0 155.6h0M142.3 149.5h0M143.0 153.9h0M143.8 152.1h0M139.2 153.2h0M144.7 155.0h0M147.6 153.6h0M138.6 149.0h0M140.1 152.7h0M141.0 154.9h0M144.0 152.9h0M145.4 152.8h0M139.2 157.3h0M147.5 155.4h0M141.1 148.2h0M138.9 149.9h0M145.8 154.0h0M147.5 156.7h0M144.8 152.9h0M142.2 151.4h0M139.9 153.2h0M144.2 151.2h0M140.9 153.1h0M147.0 152.3h0M144.1 150.9h0M142.6 151.4h0M142.5 150.8h0M144.4 154.9h0M140.6 155.1h0M142.1 151.3h0M137.1 146.9h0M145.4 149.8h0M145.6 152.2h0M144.0 155.0h0M138.3 154.2h0M149.0 151.9h0M141.3 149.1h0M144.8 148.3h0M139.7 152.4h0M143.6 151.6h0M146.3 149.5h0M139.9 151.2h0M143.5 151.4h0M149.0 150.8h0M145.1 150.9h0M144.2 151.2h0M142.1 155.6h0M142.3 155.8h0M141.2 151.1h0M146.5 146.8h0M138.5 152.1h0M144.7 153.3h0M142.3 149.0h0M145.7 153.1h0M140.0 152.3h0M148.5 152.4h0M139.8 151.2h0M142.2 152.8h0M145.9 150.1h0M141.4 154.3h0M145.4 155.0h0M139.0 150.0h0M146.2 150.0h0M144.2 152.0h0M141.1 155.3h0M143.2 151.0h0M142.8 152.6h0M138.7 150.2h0M139.5 147.5h0M146.1 155.2h0M146.7 148.3h0M144.4 153.6h0M141.6 153.9h0M140.0 149.8h0M140.8 150.5h0M140.3 154.2h0M140.1 151.1h0M141.4 156.9h0M140.6 153.1h0M148.6 149.5h0M140.8 151.4h0M139.4 154.7h0M141.9 154.4h0M144.8 152.1h0M146.1 151.4h0M146.3 149.3h0M141.1 154.7h0M137.2 153.1h0M142.1 150.9h0M141.3 154.9h0M138.9 153.9h0M144.7 151.2h0M143.0 153.6h0M141.6 148.9h0M144.1 150.3h0M142.1 152.2h0M145.4 156.0h0M144.3 152.4h0M145.6 152.7h0M138.4 150.8h0M139.7 153.6h0M154.4 160.4h0M146.4 156.7h0M147.5 155.6h0M149.4 151.4h0M146.5 154.1h0M148.1 156.6h0M146.0 155.4h0M147.0 158.5h0M154.5 158.6h0M150.9 157.8h0M152.9 157.3h0M155.2 158.1h0M144.5 153.6h0M149.3 158.7h0M152.6 158.5h0M151.1 157.5h0M150.8 152.9h0M148.5 155.1h0M144.5 151.3h0M148.0 154.8h0M148.3 155.5h0M148.1 159.5h0M150.3 155.7h0M154.0 152.9h0M145.2 158.0h0M152.4 158.2h0M154.7 158.8h0M150.7 155.8h0M143.8 155.4h0M150.5 156.4h0M150.9 154.9h0M143.6 152.7h0M156.2 163.7h0M151.5 154.3h0M150.4 157.9h0M149.2 158.6h0M146.2 157.4h0M152.3 156.1h0M149.5 157.2h0M153.2 158.7h0M148.9 163.6h0M149.0 149.1h0M152.8 155.0h0M153.9 153.6h0M149.2 160.2h0M156.2 156.8h0M148.5 158.4h0M158.3 158.6h0M146.4 157.8h0M151.5 153.9h0M157.0 155.4h0M147.2 157.8h0M147.7 157.4h0M145.8 156.2h0M149.8 161.6h0M150.7 155.7h0M148.9 159.2h0M148.8 155.1h0M155.8 162.8h0M154.1 157.3h0M155.6 156.1h0M147.8 151.8h0M155.2 160.3h0M148.6 154.2h0M150.5 160.6h0M143.6 156.6h0M155.0 157.3h0M148.9 157.3h0M149.8 156.7h0M150.6 150.7h0M158.4 162.4h0M150.8 158.6h0M153.7 161.9h0M147.9 154.6h0M149.9 158.9h0M148.4 156.6h0M149.4 160.6h0M142.6 151.8h0M150.9 159.2h0M152.3 155.1h0M152.5 159.2h0M150.5 152.2h0M154.1 156.2h0M150.5 161.8h0M151.2 157.9h0M149.1 160.4h0M155.2 160.1h0M153.2 158.6h0M148.1 157.7h0M152.0 154.9h0M144.6 156.1h0M149.7 152.5h0M148.9 158.1h0M144.4 154.9h0M154.2 155.0h0M147.6 154.2h0M157.5 160.4h0M152.9 161.4h0M145.9 153.7h0M154.9 157.9h0M156.6 157.1h0M147.0 153.0h0M153.7 157.5h0M156.4 155.4h0M146.9 158.9h0M142.7 152.6h0M149.3 153.5h0M152.3 153.0h0M152.9 160.2h0M154.5 159.9h0M146.9 156.5h0M148.2 152.2h0M155.9 163.8h0M149.9 161.3h0M149.1 157.8h0M148.9 154.6h0M148.8 160.6h0M147.0 158.0h0M153.8 153.0h0M146.0 151.5h0M153.9 159.8h0M156.4 161.2h0M155.1 160.5h0M146.9 156.8h0M150.9 152.3h0M149.2 154.6h0M150.4 159.5h0M149.5 163.1h0M145.0 152.6h0M159.7 161.7h0M148.2 152.7h0M148.7 153.9h0M158.8 157.5h0M146.5 158.9h0M151.4 158.4h0M148.2 158.4h0M146.2 157.2h0M151.7 156.9h0M147.7 158.1h0M152.7 156.9h0M153.1 155.0h0M152.8 162.9h0M154.1 160.1h0M154.8 155.1h0M150.2 155.8h0M149.5 158.3h0M150.8 154.5h0M155.3 158.9h0M152.2 151.2h0M147.0 153.8h0M154.8 153.6h0M150.4 157.8h0M149.3 156.2h0M156.7 158.3h0M146.2 152.7h0M148.3 155.1h0M151.7 160.5h0M149.7 160.9h0M150.5 160.1h0M151.6 158.4h0M157.0 163.1h0M156.9 162.1h0M158.1 167.0h0M157.5 165.2h0M155.6 162.2h0M160.4 164.3h0M154.5 163.0h0M157.5 159.1h0M154.6 159.9h0M155.9 165.5h0M159.1 165.3h0M160.1 155.8h0M157.5 164.3h0M156.7 161.0h0M156.5 163.7h0M157.9 167.3h0M158.8 163.8h0M158.0 160.5h0M158.2 165.9h0M158.9 159.6h0M155.1 165.5h0M158.4 164.1h0M156.4 165.6h0M159.4 162.3h0M159.1 160.1h0M157.9 156.4h0M157.5 171.4h0M159.4 169.0h0M159.2 164.0h0M158.5 161.9h0M159.5 160.8h0M158.2 174.2h0M159.0 161.7h0M160.1 164.7h0M157.6 159.5h0M157.8 161.8h0M158.2 164.6h0M158.6 160.1h0M159.1 164.6h0M155.3 164.4h0M157.9 164.5h0M156.0 162.1h0M157.6 159.0h0M159.0 162.2h0M158.8 159.8h0M155.3 159.3h0M153.8 160.6h0M158.8 168.1h0M160.3 167.7h0M160.6 170.5h0M158.4 166.5h0M159.3 154.5h0M158.4 163.5h0M158.8 161.5h0M156.6 161.5h0M159.5 164.8h0M161.0 158.9h0M160.3 169.8h0M156.3 163.5h0M154.9 153.7h0M155.3 163.3h0M158.4 161.8h0M159.2 164.3h0M161.7 158.2h0M156.2 161.0h0M156.7 161.4h0M162.7 161.8h0M159.3 158.1h0M156.6 166.0h0M159.9 157.5h0M162.1 164.6h0M156.4 164.7h0M156.7 158.0h0M158.3 166.0h0M160.1 157.3h0M156.1 162.4h0M160.1 167.7h0M157.2 158.8h0M159.1 161.4h0M158.8 166.8h0M159.2 159.5h0M155.5 157.8h0M159.5 167.1h0M155.9 161.2h0M156.1 162.5h0M156.2 160.0h0M160.4 166.2h0M158.0 167.0h0M156.7 164.6h0M156.0 160.3h0M159.8 158.7h0M157.0 158.8h0M155.3 162.9h0M157.9 157.5h0M162.1 168.1h0M156.0 164.2h0M158.1 160.5h0M155.2 162.7h0M157.4 166.9h0M158.1 159.2h0M156.4 162.6h0M159.7 158.6h0M158.3 167.3h0M154.9 167.7h0M156.7 162.6h0M156.7 164.1h0M158.8 164.6h0M163.4 154.1h0M156.8 158.2h0M157.4 160.3h0M157.3 162.7h0M156.6 166.1h0M154.9 161.0h0M157.9 167.7h0M155.2 158.6h0M158.9 163.2h0M155.0 166.9h0M158.4 161.8h0M157.2 163.3h0M157.2 164.1h0" stroke="#33A6DD" stroke-width="1.15" stroke-linecap="round" fill="none"/>
<rect x="104.3" y="145.4" width="63.9" height="61" fill="none" stroke="#7a7a7a" stroke-width="0.75"/>
<text x="136.2" y="140.5" font-size="8.9" fill="#222" text-anchor="middle" textLength="31.8" lengthAdjust="spacingAndGlyphs">Relapse</text>
<line x1="104.3" y1="206.4" x2="104.3" y2="208.4" stroke="#7a7a7a" stroke-width="0.6"/>
<text x="102.3" y="216.6" font-size="7.3" fill="#333" stroke="#333" stroke-width="0.1" text-anchor="middle">−50</text>
<line x1="120.4" y1="206.4" x2="120.4" y2="208.4" stroke="#7a7a7a" stroke-width="0.6"/>
<text x="118.4" y="216.6" font-size="7.3" fill="#333" stroke="#333" stroke-width="0.1" text-anchor="middle">−25</text>
<line x1="136.6" y1="206.4" x2="136.6" y2="208.4" stroke="#7a7a7a" stroke-width="0.6"/>
<text x="136.9" y="216.6" font-size="7.3" fill="#333" stroke="#333" stroke-width="0.1" text-anchor="middle">0</text>
<line x1="152.8" y1="206.4" x2="152.8" y2="208.4" stroke="#7a7a7a" stroke-width="0.6"/>
<text x="153.1" y="216.6" font-size="7.3" fill="#333" stroke="#333" stroke-width="0.1" text-anchor="middle">25</text>
<ellipse cx="193.0" cy="157.6" rx="5.7" ry="4.6" fill="#0A6A4E" opacity="0.55" filter="url(#bl)" transform="rotate(0 193.0 157.6)"/>
<ellipse cx="190.5" cy="170.4" rx="8.1" ry="5.5" fill="#0A6A4E" opacity="0.6" filter="url(#bl)" transform="rotate(0 190.5 170.4)"/>
<ellipse cx="189.8" cy="186.9" rx="8.1" ry="5.0" fill="#0A6A4E" opacity="0.6" filter="url(#bl)" transform="rotate(0 189.8 186.9)"/>
<path d="M203.3 190.4h0M208.4 189.2h0M199.7 182.4h0M190.3 189.6h0M208.3 190.2h0M202.2 191.0h0M209.2 190.0h0M212.9 179.9h0M209.1 193.8h0M209.9 201.3h0M193.9 192.7h0M196.6 187.5h0M204.8 197.6h0M210.3 198.8h0M215.3 182.8h0M197.5 192.1h0M199.6 190.6h0M207.0 196.2h0M203.4 187.1h0M200.4 196.7h0M201.0 191.8h0M215.4 188.2h0M205.4 196.5h0M209.7 183.2h0M210.1 183.9h0M216.7 193.6h0M196.8 188.9h0M217.6 192.1h0M211.9 182.6h0M198.7 186.2h0M213.1 192.4h0M217.9 194.7h0M196.0 182.3h0M210.3 180.4h0M215.8 189.9h0M207.4 185.5h0M210.7 196.2h0M212.1 187.6h0M204.5 185.2h0M203.5 187.3h0M205.8 189.9h0M209.8 184.0h0M217.7 185.9h0M212.1 189.8h0M208.9 182.8h0M216.9 186.5h0M214.8 183.1h0M203.9 189.6h0M196.3 193.6h0M216.9 184.8h0" stroke="#0A6A4E" stroke-width="0.9" stroke-linecap="round" opacity="0.7" fill="none"/>
<path d="M195.4 177.5h0M219.7 173.0h0M234.2 159.6h0M222.8 158.5h0M210.4 203.4h0M213.2 176.0h0M208.6 194.0h0M220.6 196.0h0M212.9 189.0h0M227.2 194.2h0M213.3 178.5h0M216.4 160.5h0M214.1 205.0h0M212.7 165.4h0M203.3 177.6h0M203.7 187.5h0M218.3 160.3h0M218.8 161.9h0M231.7 184.2h0M213.9 154.1h0M208.5 184.0h0M207.7 150.8h0M227.7 179.5h0M208.2 190.9h0M230.8 175.9h0M225.0 181.5h0M234.1 201.5h0M206.0 159.1h0M206.5 154.9h0M232.0 184.6h0M211.7 159.9h0M197.8 177.6h0M216.5 163.0h0M201.6 189.4h0M216.2 169.8h0M206.2 180.3h0M214.9 199.1h0M213.5 159.9h0M203.9 179.2h0M223.5 164.3h0M217.3 173.8h0M206.5 168.5h0M212.6 177.8h0M214.0 166.8h0M202.3 176.6h0M210.3 171.5h0M219.7 165.6h0M221.6 156.1h0M215.8 162.4h0M205.2 197.9h0M199.3 173.4h0M202.5 179.2h0M227.7 189.3h0M199.7 174.0h0M233.4 172.0h0M210.2 163.5h0" stroke="#C8192E" stroke-width="0.9" stroke-linecap="round" opacity="0.7" fill="none"/>
<path d="M215.6 182.1h0M207.5 163.3h0M232.3 158.8h0M230.3 159.6h0M231.1 172.5h0M221.4 172.9h0M231.7 173.1h0M217.1 163.1h0M218.7 180.5h0M229.2 167.1h0M216.4 156.9h0M212.0 169.8h0M214.1 156.0h0M223.3 163.4h0M210.5 172.0h0M217.1 159.2h0M203.5 157.3h0M210.4 163.7h0M229.8 165.9h0M209.4 158.2h0M205.0 168.8h0M228.9 166.0h0M228.9 160.7h0M218.4 152.7h0M223.5 151.9h0M231.7 168.1h0M215.2 178.9h0M212.0 172.1h0M211.3 151.4h0M218.1 154.8h0" stroke="#33A6DD" stroke-width="0.9" stroke-linecap="round" opacity="0.7" fill="none"/>
<path d="M195.4 164.2h0M196.7 154.3h0M190.8 160.2h0M192.9 161.2h0M185.6 164.0h0M200.3 153.2h0M191.9 155.8h0M191.6 160.6h0M191.2 154.9h0M195.9 161.9h0M191.6 158.7h0M187.7 160.9h0M202.2 159.7h0M193.1 151.5h0M192.1 151.4h0M196.4 163.4h0M198.8 158.4h0M195.3 155.7h0M194.2 158.6h0M193.3 149.4h0M194.3 159.2h0M190.2 159.1h0M196.4 150.9h0M196.7 156.0h0M188.4 158.0h0M189.8 156.0h0M188.8 155.3h0M188.0 155.5h0M188.5 153.2h0M197.0 157.5h0M194.5 162.9h0M195.5 157.5h0M188.6 160.0h0M194.8 160.8h0M192.4 156.4h0M184.7 159.3h0M186.8 155.9h0M194.8 157.7h0M192.5 158.8h0M185.8 157.6h0M197.8 161.1h0M186.9 160.4h0M194.5 154.3h0M187.4 156.9h0M198.3 158.9h0M189.0 157.7h0M197.0 157.1h0M191.0 158.9h0M184.5 158.8h0M187.4 157.1h0M194.2 156.9h0M189.8 156.2h0M196.0 153.1h0M189.2 158.4h0M195.9 157.4h0M190.7 159.6h0M191.3 163.9h0M198.1 163.4h0M189.0 155.9h0M191.7 153.5h0M190.7 160.4h0M188.8 156.5h0M198.8 158.4h0M194.9 157.5h0M190.4 156.3h0M193.9 155.6h0M193.0 156.0h0M192.5 162.4h0M195.3 153.4h0M192.1 163.3h0M200.1 153.8h0M194.6 157.5h0M182.9 158.4h0M200.8 155.2h0M191.7 160.5h0M191.1 156.1h0M194.0 152.9h0M194.9 153.3h0M193.1 160.1h0M199.5 155.0h0M193.8 158.3h0M185.8 157.2h0M193.8 159.2h0M200.8 157.9h0M192.7 157.3h0M192.9 159.0h0M199.2 154.2h0M193.0 150.0h0M186.3 158.0h0M184.6 158.5h0M198.0 154.8h0M190.0 157.5h0M190.8 157.3h0M190.1 160.2h0M194.1 157.2h0M184.0 155.2h0M193.0 159.6h0M190.2 159.3h0M196.2 155.6h0M195.7 156.9h0M188.5 157.3h0M198.0 158.7h0M192.9 160.1h0M195.6 158.1h0M185.6 149.6h0M186.4 162.5h0M195.5 152.5h0M195.8 152.9h0M193.4 160.1h0M192.1 159.7h0M196.0 152.0h0M192.2 158.7h0M190.5 152.9h0M198.1 157.9h0M190.1 154.3h0M192.2 160.7h0M190.5 158.6h0M193.6 156.4h0M192.5 157.3h0M188.8 152.8h0M195.2 161.6h0M194.7 154.6h0M192.7 155.6h0M187.2 154.1h0M190.4 158.9h0M188.3 160.7h0M192.7 160.9h0M196.4 157.9h0M193.1 158.3h0M193.9 159.5h0M199.8 159.3h0M198.8 160.3h0M191.4 159.0h0M195.3 160.1h0M191.4 160.7h0M190.6 156.9h0M195.3 157.9h0M189.5 153.5h0M190.8 155.3h0M200.9 154.2h0M187.4 164.1h0M186.4 155.6h0M194.7 157.4h0M194.0 162.1h0M201.7 158.1h0M194.2 156.4h0M190.7 156.0h0M193.5 155.8h0M193.8 155.8h0M188.4 156.2h0M191.5 155.6h0M190.8 158.8h0M187.4 159.9h0M190.1 156.7h0M197.2 159.9h0M185.4 158.2h0M197.6 154.2h0M190.7 161.2h0M187.5 162.5h0M187.3 154.9h0M190.3 155.8h0M195.4 158.4h0M193.1 157.8h0M186.3 155.2h0M196.6 153.5h0M197.8 156.6h0M188.5 159.5h0M195.3 155.1h0M190.2 154.5h0M190.0 150.0h0M189.8 161.0h0M190.5 158.3h0M195.6 157.6h0M190.6 155.5h0M190.4 158.1h0M191.0 159.5h0M199.3 158.8h0M187.1 158.3h0M191.8 156.0h0M189.7 156.4h0M204.9 166.8h0M199.3 154.5h0M193.3 160.6h0M191.4 159.2h0M196.9 162.1h0M194.4 158.3h0M191.7 156.3h0M193.2 156.9h0M195.6 158.2h0M191.7 161.8h0M191.3 159.1h0M194.5 155.5h0M192.6 158.0h0M190.4 153.2h0M202.7 155.3h0M191.3 156.4h0M192.5 159.8h0M195.6 155.4h0M193.9 159.3h0M191.8 160.6h0M193.6 160.0h0M188.7 162.7h0M192.1 154.3h0M189.4 155.1h0M194.1 150.6h0M189.2 160.9h0M197.7 154.3h0M193.6 158.3h0M192.3 156.0h0M196.3 157.0h0M194.1 160.2h0M189.7 155.0h0M201.9 154.8h0M197.7 161.5h0M193.8 156.9h0M193.1 155.6h0M193.4 157.2h0M191.3 156.8h0M196.5 157.9h0M192.5 163.7h0M193.3 159.7h0M190.0 154.7h0M195.2 160.8h0M182.0 159.9h0M196.3 157.9h0M195.7 154.6h0M194.7 154.4h0M192.3 156.6h0M193.7 153.6h0M194.1 158.7h0M197.5 155.9h0M194.9 155.6h0M195.0 155.6h0M188.9 155.8h0M198.9 162.0h0M193.3 158.0h0M194.5 153.1h0M200.6 154.8h0M188.5 157.1h0M189.4 158.6h0M195.5 156.6h0M193.7 155.8h0M186.7 153.8h0M200.6 157.3h0M186.1 154.2h0M189.8 159.8h0M193.5 161.9h0M200.2 159.5h0M195.1 161.4h0M191.5 156.8h0M186.8 160.0h0M189.8 158.5h0M202.2 153.6h0M191.2 154.5h0M188.7 159.7h0M186.9 158.4h0M193.3 160.7h0M186.2 153.7h0M196.7 151.9h0M193.5 160.9h0M182.0 166.3h0M194.9 165.6h0M194.6 174.5h0M190.4 169.9h0M189.9 167.7h0M194.4 172.8h0M190.1 171.2h0M182.6 166.6h0M178.4 168.0h0M194.7 171.1h0M187.2 168.6h0M187.8 173.9h0M183.7 174.5h0M192.9 164.7h0M193.4 172.8h0M187.9 176.7h0M185.8 168.8h0M191.3 172.1h0M189.2 173.5h0M186.9 172.1h0M189.4 170.3h0M184.9 169.8h0M181.9 164.9h0M189.2 173.1h0M184.5 171.9h0M202.2 172.1h0M193.4 169.6h0M179.6 168.6h0M190.4 166.0h0M191.1 167.5h0M194.7 170.5h0M191.5 171.6h0M189.3 176.0h0M184.1 167.2h0M189.9 170.7h0M183.0 173.8h0M189.1 172.6h0M187.1 168.4h0M191.7 168.6h0M186.6 171.3h0M194.4 169.4h0M192.5 167.4h0M192.4 167.1h0M192.0 166.5h0M191.5 173.7h0M190.7 164.2h0M197.9 167.8h0M178.3 176.8h0M186.7 172.6h0M191.4 177.0h0M198.6 163.8h0M192.4 166.2h0M189.5 169.4h0M189.0 165.6h0M193.4 173.0h0M194.3 176.9h0M189.0 166.8h0M190.5 160.8h0M188.5 165.5h0M183.8 165.2h0M183.1 170.8h0M180.5 166.2h0M189.9 168.7h0M196.5 170.0h0M200.2 172.8h0M183.8 169.1h0M197.8 164.9h0M184.3 163.1h0M188.9 173.2h0M195.5 169.1h0M182.3 170.6h0M188.6 172.7h0M190.8 174.2h0M186.5 170.0h0M189.1 168.3h0M192.2 163.7h0M181.6 160.9h0M190.0 172.8h0M192.1 175.8h0M190.5 166.7h0M191.8 170.7h0M191.0 174.1h0M185.5 167.2h0M189.8 174.5h0M186.0 175.0h0M197.5 168.9h0M186.9 169.9h0M181.9 175.9h0M191.3 174.3h0M186.9 171.0h0M189.5 176.2h0M184.6 174.7h0M190.6 170.2h0M181.0 169.8h0M188.1 172.4h0M187.6 168.0h0M195.2 171.1h0M187.9 171.0h0M193.1 169.6h0M189.8 175.8h0M190.0 162.4h0M194.7 175.0h0M195.8 173.7h0M179.3 167.0h0M190.6 170.7h0M189.9 165.5h0M186.3 168.7h0M195.0 177.8h0M181.5 170.3h0M184.9 173.4h0M191.2 171.7h0M190.4 167.6h0M186.1 168.9h0M194.8 177.2h0M195.5 169.3h0M198.4 171.3h0M190.3 170.3h0M184.9 164.7h0M186.1 169.3h0M190.9 165.6h0M188.8 163.6h0M196.8 168.0h0M184.4 172.5h0M190.2 166.4h0M199.3 167.1h0M192.5 168.1h0M194.3 173.0h0M186.5 167.6h0M196.5 171.1h0M195.2 171.5h0M196.2 172.5h0M187.8 176.0h0M190.3 170.8h0M192.0 174.9h0M186.5 170.7h0M189.9 169.6h0M184.9 160.6h0M186.4 173.9h0M189.8 168.8h0M189.3 173.4h0M189.6 169.2h0M192.9 174.1h0M192.3 171.0h0M181.4 164.4h0M190.4 168.2h0M187.2 171.0h0M193.9 180.3h0M185.3 170.9h0M202.6 167.5h0M193.3 166.3h0M196.7 167.6h0M193.4 173.2h0M187.9 165.1h0M185.8 170.8h0M193.1 173.0h0M185.5 175.2h0M192.8 170.2h0M186.9 166.7h0M178.6 168.2h0M189.7 175.7h0M194.2 166.0h0M193.6 166.3h0M201.4 179.7h0M192.4 168.5h0M197.8 172.0h0M193.5 171.5h0M187.1 172.9h0M197.3 171.3h0M188.9 169.2h0M194.5 174.2h0M189.2 166.1h0M192.8 169.4h0M191.7 177.5h0M198.0 163.5h0M185.7 170.6h0M181.6 163.3h0M188.3 168.6h0M188.6 171.2h0M186.4 169.3h0M189.2 173.7h0M179.3 171.6h0M179.8 164.5h0M191.5 171.2h0M191.4 169.6h0M190.1 167.2h0M190.7 174.8h0M178.6 168.9h0M185.7 164.2h0M188.0 169.4h0M189.5 169.1h0M197.3 168.5h0M196.4 168.5h0M183.8 171.0h0M188.1 169.8h0M176.7 171.6h0M189.5 171.1h0M192.5 176.3h0M189.9 169.8h0M195.4 174.4h0M192.1 169.2h0M187.7 168.0h0M186.5 173.3h0M187.6 172.5h0M186.0 173.7h0M189.9 175.2h0M193.5 171.7h0M187.1 168.5h0M188.5 169.6h0M186.5 172.4h0M193.7 169.4h0M199.1 170.4h0M182.7 169.5h0M190.8 169.1h0M191.8 167.0h0M189.5 169.9h0M192.0 168.4h0M186.5 169.9h0M191.7 169.1h0M189.2 165.8h0M197.9 166.4h0M204.3 169.6h0M197.4 168.7h0M192.9 170.9h0M188.6 165.9h0M187.9 165.2h0M198.2 166.9h0M199.8 169.6h0M181.1 177.4h0M196.4 169.0h0M187.4 168.2h0M196.1 165.4h0M187.6 174.1h0M201.0 168.1h0M187.7 167.6h0M195.4 167.5h0M189.1 172.0h0M193.9 173.3h0M186.1 170.9h0M192.4 173.4h0M198.4 173.8h0M186.6 171.3h0M184.7 175.6h0M189.6 170.0h0M192.3 168.6h0M194.5 173.2h0M191.9 170.6h0M193.3 171.5h0M195.5 167.7h0M185.2 170.4h0M184.4 166.2h0M182.6 174.5h0M190.1 167.6h0M183.5 172.1h0M187.3 168.7h0M188.9 168.5h0M191.8 173.8h0M182.7 166.4h0M192.0 166.7h0M189.5 175.2h0M192.7 174.1h0M196.4 174.2h0M191.7 175.8h0M187.1 168.2h0M193.7 167.3h0M191.0 168.5h0M196.1 172.5h0M196.4 168.6h0M181.0 174.7h0M199.2 167.4h0M184.6 163.8h0M196.7 165.8h0M191.6 171.2h0M187.1 169.4h0M187.6 173.1h0M197.7 175.0h0M182.3 165.6h0M187.4 171.6h0M194.0 162.5h0M190.6 173.2h0M190.2 169.7h0M180.2 175.5h0M192.8 168.8h0M187.4 173.2h0M196.8 169.4h0M182.9 172.0h0M186.3 169.7h0M188.6 166.2h0M197.1 165.7h0M197.7 167.1h0M189.0 170.2h0M192.5 166.6h0M200.2 169.8h0M199.4 173.6h0M190.6 167.9h0M193.2 172.2h0M186.6 170.2h0M194.5 174.6h0M190.3 170.1h0M186.5 166.1h0M195.8 171.4h0M189.3 175.0h0M195.4 164.4h0M178.2 170.8h0M187.5 173.8h0M184.0 172.7h0M193.5 166.3h0M201.9 167.6h0M191.0 168.7h0M188.2 167.0h0M186.5 171.9h0M181.4 169.8h0M190.4 170.6h0M190.4 177.5h0M190.6 170.0h0M186.6 175.3h0M197.4 166.9h0M184.9 166.7h0M195.7 171.2h0M194.4 166.9h0M190.1 170.4h0M196.3 167.4h0M176.1 169.4h0M196.3 176.9h0M179.0 172.3h0M194.9 171.2h0M188.1 172.2h0M190.3 176.1h0M187.2 177.1h0M190.5 168.4h0M196.2 170.6h0M195.3 172.5h0M188.2 169.6h0M201.4 166.5h0M192.9 174.9h0M194.3 175.1h0M186.1 173.5h0M196.7 164.5h0M193.2 168.9h0M187.2 173.4h0M192.5 175.4h0M192.9 164.0h0M187.4 171.8h0M194.7 168.3h0M193.5 168.0h0M197.2 171.4h0M192.7 160.8h0M190.8 171.0h0M186.3 168.3h0M194.2 168.0h0M191.3 162.8h0M193.6 163.2h0M179.7 170.2h0M185.8 165.4h0M192.0 168.9h0M197.6 170.5h0M196.4 166.9h0M191.4 180.8h0M192.8 167.3h0M187.8 169.0h0M193.2 162.7h0M194.9 171.6h0M188.7 173.3h0M177.7 176.6h0M191.2 173.9h0M185.5 171.9h0M190.5 174.0h0M183.7 178.5h0M192.4 176.5h0M191.8 170.8h0M191.2 174.3h0M194.6 167.4h0M187.7 172.4h0M184.6 172.3h0M187.1 174.1h0M193.4 172.6h0M189.5 174.6h0M189.2 176.0h0M184.5 171.8h0M188.4 176.1h0M195.2 173.6h0M187.6 170.6h0M185.3 167.8h0M198.3 166.5h0M192.8 174.1h0M194.5 176.6h0M181.8 174.5h0M200.1 166.9h0M190.6 169.6h0M186.8 173.2h0M186.4 171.6h0M193.3 164.8h0M186.1 169.5h0M197.9 170.3h0M191.9 164.2h0M202.8 171.4h0M194.7 175.6h0M193.8 168.3h0M186.2 176.3h0M182.7 174.7h0M201.5 169.1h0M189.0 173.5h0M194.6 172.0h0M207.4 169.7h0M199.0 181.0h0M193.1 168.7h0M204.6 170.0h0M198.8 166.0h0M193.1 162.9h0M182.9 165.7h0M190.1 173.5h0M197.1 168.9h0M180.8 157.7h0M192.0 169.1h0M187.5 174.0h0M195.2 176.6h0M199.1 176.5h0M191.2 168.0h0M185.8 169.8h0M192.5 164.2h0M189.3 171.8h0M199.0 169.3h0M188.8 169.0h0M197.8 163.8h0M194.6 165.6h0M189.2 174.5h0M188.9 170.6h0M185.6 164.6h0M198.8 169.7h0M192.2 169.1h0M190.5 171.0h0M193.4 166.9h0M188.2 172.0h0M189.8 171.0h0M188.2 171.9h0M189.4 162.9h0M185.7 172.8h0M206.2 168.1h0M180.4 173.4h0M204.4 168.3h0M190.0 170.1h0M198.8 163.6h0M195.9 171.2h0M191.2 170.3h0M195.2 174.8h0M183.6 169.9h0M195.8 166.0h0M196.6 174.2h0M191.2 165.2h0M185.8 169.0h0M193.6 170.9h0M191.0 173.6h0M190.8 170.0h0M191.0 171.5h0M188.3 167.4h0M188.8 171.0h0M181.8 169.1h0M187.1 165.2h0M196.2 168.8h0M177.3 174.8h0M192.6 159.9h0M193.5 171.9h0M190.2 173.4h0M187.1 174.0h0M186.3 170.7h0M188.7 170.4h0M188.9 166.1h0M191.3 168.7h0M191.4 164.7h0M194.2 165.0h0M182.5 167.5h0M195.7 170.2h0M189.2 171.3h0M186.0 170.1h0M193.5 169.7h0M182.7 176.2h0M190.6 164.2h0M185.7 183.0h0M191.8 166.5h0M180.8 165.0h0M190.1 173.9h0M194.4 171.3h0M192.7 171.4h0M190.5 173.6h0M189.0 172.9h0M176.9 163.8h0M193.5 169.7h0M182.0 176.7h0M202.0 170.2h0M191.4 166.9h0M180.0 169.1h0M185.0 169.6h0M188.1 168.0h0M189.7 175.4h0M183.5 170.0h0M196.7 171.7h0M190.4 169.0h0M184.7 167.3h0M194.8 168.6h0M198.4 174.3h0M193.3 174.4h0M189.9 177.6h0M188.4 173.4h0M191.8 171.1h0M187.3 171.6h0M186.8 174.8h0M191.6 173.4h0M189.1 170.6h0M191.0 168.4h0M190.3 165.8h0M186.4 172.5h0M182.2 160.7h0M190.9 175.8h0M187.1 169.4h0M188.9 173.5h0M183.3 169.8h0M189.6 176.5h0M190.8 168.4h0M184.0 182.9h0M178.7 182.0h0M186.0 186.3h0M184.2 188.4h0M188.2 186.9h0M200.9 184.7h0M191.3 190.3h0M184.5 184.6h0M189.5 186.5h0M190.6 187.2h0M193.1 185.0h0M184.5 186.7h0M193.0 183.4h0M191.2 186.8h0M188.3 185.8h0M192.3 188.0h0M192.4 185.4h0M190.5 187.7h0M190.1 183.2h0M195.6 190.1h0M189.2 190.8h0M184.3 186.8h0M184.0 180.2h0M189.4 184.7h0M188.6 189.8h0M196.6 187.4h0M191.7 189.3h0M190.7 184.0h0M192.1 187.1h0M201.8 184.7h0M195.5 190.5h0M188.1 192.6h0M197.5 192.2h0M198.0 187.8h0M183.1 190.7h0M193.4 181.7h0M181.4 183.8h0M186.6 183.7h0M183.3 183.5h0M190.4 188.3h0M185.4 188.3h0M183.0 179.7h0M189.7 184.7h0M185.2 185.6h0M193.9 190.4h0M189.2 186.2h0M196.1 187.7h0M187.3 184.1h0M186.5 185.0h0M187.5 182.9h0M196.5 194.1h0M189.1 183.6h0M192.5 178.5h0M183.0 185.1h0M193.1 190.1h0M189.9 189.5h0M185.5 184.5h0M188.2 189.3h0M189.5 190.4h0M184.4 188.2h0M194.8 184.6h0M195.9 186.7h0M186.4 189.1h0M187.9 189.5h0M179.3 186.9h0M194.8 181.4h0M199.6 185.7h0M197.7 185.7h0M194.7 189.5h0M192.6 181.9h0M193.2 181.4h0M191.5 187.6h0M188.4 186.8h0M184.8 191.0h0M189.3 191.0h0M201.2 190.2h0M197.3 184.0h0M183.9 189.4h0M183.9 191.1h0M188.7 193.5h0M191.6 188.0h0M202.1 190.7h0M194.5 190.8h0M186.8 182.7h0M200.0 185.0h0M189.9 182.9h0M194.1 180.9h0M189.9 189.6h0M195.4 190.4h0M188.3 188.6h0M185.8 189.5h0M197.5 186.9h0M196.6 188.4h0M189.0 188.2h0M189.7 186.5h0M189.1 195.3h0M187.4 187.1h0M196.6 184.8h0M189.2 189.5h0M187.7 186.9h0M186.7 185.2h0M185.6 180.9h0M193.7 186.3h0M186.9 182.8h0M186.1 185.1h0M176.7 189.2h0M188.2 183.1h0M187.3 185.8h0M191.7 185.4h0M194.7 184.4h0M193.2 185.0h0M187.6 189.0h0M191.6 186.1h0M192.3 185.3h0M184.3 190.2h0M189.6 179.8h0M190.2 185.7h0M194.1 186.8h0M196.3 189.4h0M179.3 193.2h0M192.2 188.5h0M198.5 184.8h0M189.6 183.4h0M196.9 190.0h0M196.0 180.9h0M178.5 188.2h0M201.0 189.3h0M189.9 187.0h0M182.1 190.8h0M188.4 185.4h0M189.2 184.5h0M182.2 184.9h0M191.1 184.7h0M186.9 190.8h0M195.4 186.8h0M191.0 195.9h0M177.0 197.3h0M194.0 185.6h0M186.5 183.6h0M185.6 186.0h0M197.2 189.7h0M189.8 191.9h0M186.2 189.8h0M189.2 190.8h0M183.3 184.4h0M198.4 186.0h0M193.7 188.1h0M193.7 180.7h0M181.9 179.1h0M189.2 178.9h0M193.3 182.3h0M183.2 187.9h0M198.6 187.8h0M186.7 191.7h0M187.7 184.7h0M183.6 184.6h0M193.3 183.0h0M190.5 182.7h0M192.1 180.8h0M190.1 189.2h0M180.0 184.8h0M184.5 186.2h0M194.2 184.6h0M181.8 196.5h0M188.1 186.2h0M190.9 190.4h0M185.2 187.6h0M189.9 189.3h0M185.3 184.4h0M183.3 189.3h0M189.0 191.8h0M184.1 193.4h0M184.1 187.0h0M196.2 184.5h0M193.4 191.7h0M175.8 182.1h0M189.2 185.7h0M191.4 188.9h0M179.2 189.4h0M192.1 184.0h0M192.5 189.6h0M186.8 184.6h0M191.4 187.7h0M199.1 183.5h0M183.8 184.7h0M197.6 189.5h0M200.6 182.5h0M185.6 186.4h0M195.6 183.2h0M190.4 186.9h0M188.7 186.3h0M193.1 189.8h0M186.1 190.0h0M193.9 188.1h0M184.7 189.5h0M185.8 185.3h0M196.8 190.6h0M193.7 188.3h0M196.6 188.1h0M194.6 182.5h0M178.7 186.6h0M188.4 183.6h0M194.0 184.5h0M194.2 192.9h0M187.2 186.3h0M187.1 179.3h0M187.5 184.4h0M186.7 184.3h0M186.0 189.9h0M188.1 180.1h0M194.5 189.5h0M196.6 187.3h0M189.3 189.5h0M193.7 186.5h0M193.0 189.9h0M202.4 188.2h0M193.5 181.5h0M187.4 184.1h0M183.5 180.1h0M197.4 191.7h0M191.5 184.9h0M188.4 189.5h0M189.5 182.4h0M188.4 183.7h0M189.5 186.4h0M193.6 189.0h0M186.7 187.3h0M188.0 191.8h0M194.2 188.0h0M190.3 183.8h0M186.4 182.7h0M197.5 191.8h0M196.1 185.4h0M178.8 191.5h0M191.9 186.2h0M187.4 190.2h0M189.4 189.1h0M178.0 187.8h0M186.0 188.1h0M194.6 192.0h0M188.0 187.6h0M195.1 185.2h0M191.8 185.0h0M184.2 191.3h0M187.5 185.9h0M192.5 186.7h0M185.9 196.3h0M196.5 185.6h0M193.0 181.2h0M181.9 190.5h0M194.6 188.2h0M189.9 188.4h0M188.6 189.6h0M195.8 185.0h0M194.7 187.0h0M189.1 185.6h0M193.5 186.2h0M191.4 187.1h0M183.0 182.2h0M196.4 185.7h0M193.7 186.1h0M193.9 186.8h0M192.4 188.4h0M195.7 191.2h0M199.9 182.5h0M195.5 182.6h0M187.8 185.4h0M194.1 191.4h0M190.5 191.1h0M190.8 189.2h0M187.0 188.0h0M189.0 180.1h0M193.8 190.5h0M178.3 187.8h0M193.2 192.1h0M187.8 191.6h0M193.7 193.0h0M189.6 183.6h0M192.0 187.3h0M183.7 184.2h0M192.8 187.4h0M193.6 191.3h0M187.9 183.1h0M182.9 187.6h0M193.9 186.3h0M190.1 183.7h0M176.4 183.1h0M193.9 189.4h0M187.7 189.7h0M201.3 191.1h0M194.2 196.8h0M187.6 187.8h0M195.6 180.0h0M183.4 187.5h0M201.6 189.8h0M190.7 189.1h0M188.3 185.3h0M186.3 192.8h0M190.1 188.4h0M182.4 185.2h0M185.7 188.2h0M192.8 185.1h0M190.8 187.1h0M183.1 184.9h0M191.8 191.8h0M187.3 183.8h0M194.8 187.1h0M198.2 185.7h0M197.9 189.7h0M186.0 189.3h0M191.1 187.8h0M197.8 179.9h0M183.2 186.9h0M183.8 186.6h0M184.7 190.2h0M182.6 188.6h0M194.0 187.5h0M197.5 184.4h0M185.5 186.7h0M182.0 194.7h0M187.2 186.5h0M184.0 181.3h0M194.7 186.2h0M186.4 193.3h0M192.3 190.4h0M183.9 193.6h0M188.8 187.8h0M192.8 184.2h0M189.7 189.1h0M186.4 189.9h0M198.2 182.2h0M192.4 182.4h0M191.2 187.2h0M198.8 188.9h0M195.0 191.8h0M192.6 186.3h0M197.8 179.5h0M185.1 186.5h0M203.1 194.7h0M189.3 186.7h0M187.0 190.4h0M187.9 187.9h0M188.4 186.7h0M182.6 189.9h0M187.0 192.0h0M194.9 193.5h0M195.0 186.2h0M185.8 181.7h0M187.5 188.7h0M195.2 188.4h0M193.1 182.0h0M184.3 186.2h0M189.6 188.1h0M192.5 188.1h0M190.4 191.3h0M194.9 183.3h0M178.0 189.7h0M178.1 189.0h0M198.1 188.9h0M187.8 187.5h0M194.6 185.5h0M195.6 185.8h0M184.8 182.2h0M186.2 191.5h0M188.2 189.2h0M200.2 181.7h0M186.4 186.0h0M192.0 189.7h0M182.1 188.2h0M184.1 187.9h0M180.9 183.7h0M194.7 186.5h0M190.7 184.2h0M198.5 185.1h0M184.3 187.8h0M200.2 185.2h0M188.4 181.6h0M187.2 189.5h0M180.7 194.8h0M196.6 183.6h0M188.3 189.2h0M190.5 189.6h0M189.5 182.5h0M191.3 189.1h0M190.8 187.9h0M197.7 188.4h0M187.4 191.0h0M197.7 190.3h0M180.8 181.8h0M194.8 183.8h0M195.9 185.6h0M200.8 185.8h0M188.2 184.8h0M188.2 185.3h0M191.3 187.7h0M189.4 189.3h0M193.7 190.7h0M195.2 190.0h0M186.7 186.5h0M180.4 186.5h0M189.4 190.6h0M188.6 185.4h0M189.3 185.3h0M186.1 180.9h0M187.9 192.4h0M192.9 183.1h0M200.8 185.9h0M188.3 187.2h0M196.2 184.4h0M200.1 191.6h0M180.1 186.8h0M194.7 194.8h0M194.0 184.4h0M180.7 180.6h0M200.7 181.5h0M191.6 187.8h0M194.9 185.6h0M190.0 183.9h0M181.3 184.5h0M182.6 190.4h0M193.1 181.3h0M188.1 190.0h0M185.9 180.0h0M188.5 186.4h0M187.6 188.5h0M189.2 186.5h0M185.3 187.8h0M195.2 188.8h0M196.0 186.7h0M188.7 183.2h0M194.6 185.5h0M193.8 184.9h0M193.1 184.7h0M188.4 185.3h0M185.0 185.1h0M186.7 190.9h0M187.5 185.4h0M188.6 188.3h0M183.5 188.2h0M188.2 193.0h0M188.2 185.7h0M181.5 189.0h0M185.3 182.9h0M180.1 182.9h0M190.3 184.1h0M195.1 190.9h0M185.6 184.5h0M194.2 194.3h0M194.1 190.7h0M177.5 182.0h0M188.6 184.5h0M187.6 188.4h0M187.3 188.6h0M196.7 187.2h0M186.2 182.8h0M187.4 188.1h0M188.9 191.6h0M177.1 183.5h0M196.1 182.9h0M182.3 185.2h0M190.1 186.2h0M187.6 180.9h0M199.0 191.8h0M183.4 188.7h0M189.1 185.0h0M194.6 183.8h0M187.7 190.6h0M193.3 184.9h0M193.6 195.3h0M187.3 186.0h0M194.0 186.8h0M193.0 182.7h0M192.5 185.6h0M185.0 190.4h0M186.5 192.9h0M191.6 183.8h0M187.2 184.8h0M188.7 188.3h0M190.9 189.6h0M185.1 189.2h0M200.0 183.1h0M201.1 186.1h0M198.4 184.7h0M198.8 183.3h0M201.2 173.6h0M204.4 182.8h0M197.2 175.5h0M193.6 184.9h0M198.1 180.0h0M195.7 180.7h0M202.4 183.5h0M200.2 177.1h0M199.7 176.2h0M195.1 171.9h0M200.2 184.4h0M200.0 180.8h0M199.8 174.6h0M203.0 175.8h0M203.4 176.8h0M194.9 180.3h0M197.0 185.4h0M199.2 176.9h0M200.9 183.7h0M197.2 181.2h0M197.9 179.8h0M198.2 176.1h0M199.2 180.3h0M197.5 177.9h0M197.4 175.3h0M193.3 174.4h0M202.6 181.5h0M204.3 175.9h0M200.8 178.2h0M201.0 177.2h0M202.8 183.9h0M193.0 186.1h0M204.2 173.7h0M200.1 175.0h0M199.1 181.8h0M199.8 177.7h0M199.6 185.7h0M196.7 175.0h0M201.1 180.9h0M200.0 183.3h0M199.2 174.2h0M195.6 180.9h0M199.7 175.7h0M199.2 180.8h0M200.9 174.5h0M196.7 179.0h0M199.7 183.5h0M199.2 176.9h0M199.6 177.6h0M202.1 177.5h0M201.4 182.3h0M196.5 182.1h0M199.8 178.4h0M204.1 177.8h0M199.7 173.5h0M201.6 178.3h0M198.0 181.9h0M204.0 179.2h0M205.3 181.2h0M198.7 183.3h0M198.6 184.4h0M200.5 177.2h0M198.8 178.6h0M201.6 176.8h0M201.5 180.3h0M199.2 183.3h0M199.1 181.7h0M198.9 180.4h0M196.6 177.7h0M199.8 178.7h0M195.6 176.3h0M199.4 176.5h0M200.1 171.9h0M198.6 181.8h0M199.7 182.3h0M196.4 177.5h0" stroke="#0A6A4E" stroke-width="1.15" stroke-linecap="round" fill="none"/>
<rect x="173.9" y="145.4" width="63.8" height="61" fill="none" stroke="#7a7a7a" stroke-width="0.75"/>
<text x="206" y="140.5" font-size="8.9" fill="#222" text-anchor="middle" textLength="29.7" lengthAdjust="spacingAndGlyphs">Healthy</text>
<line x1="173.9" y1="206.4" x2="173.9" y2="208.4" stroke="#7a7a7a" stroke-width="0.6"/>
<text x="171.9" y="216.6" font-size="7.3" fill="#333" stroke="#333" stroke-width="0.1" text-anchor="middle">−50</text>
<line x1="190" y1="206.4" x2="190" y2="208.4" stroke="#7a7a7a" stroke-width="0.6"/>
<text x="188" y="216.6" font-size="7.3" fill="#333" stroke="#333" stroke-width="0.1" text-anchor="middle">−25</text>
<line x1="206.2" y1="206.4" x2="206.2" y2="208.4" stroke="#7a7a7a" stroke-width="0.6"/>
<text x="206.5" y="216.6" font-size="7.3" fill="#333" stroke="#333" stroke-width="0.1" text-anchor="middle">0</text>
<line x1="222.4" y1="206.4" x2="222.4" y2="208.4" stroke="#7a7a7a" stroke-width="0.6"/>
<text x="222.7" y="216.6" font-size="7.3" fill="#333" stroke="#333" stroke-width="0.1" text-anchor="middle">25</text>
<line x1="31.8" y1="158.4" x2="33.8" y2="158.4" stroke="#7a7a7a" stroke-width="0.6"/>
<text x="29.8" y="160.9" font-size="7" fill="#333" stroke="#333" stroke-width="0.1" text-anchor="end">25</text>
<line x1="31.8" y1="175.6" x2="33.8" y2="175.6" stroke="#7a7a7a" stroke-width="0.6"/>
<text x="29.8" y="178.1" font-size="7" fill="#333" stroke="#333" stroke-width="0.1" text-anchor="end">0</text>
<line x1="31.8" y1="192.7" x2="33.8" y2="192.7" stroke="#7a7a7a" stroke-width="0.6"/>
<text x="29.8" y="195.2" font-size="7" fill="#333" stroke="#333" stroke-width="0.1" text-anchor="end">−25</text>
<ellipse cx="80.4" cy="257.1" rx="1.4" ry="1.4" fill="#0A6A4E" opacity="0.45" filter="url(#bl)" transform="rotate(0 80.4 257.1)"/>
<ellipse cx="81.7" cy="269.8" rx="7.2" ry="7.2" fill="#C8192E" opacity="0.6" filter="url(#bl)" transform="rotate(0 81.7 269.8)"/>
<ellipse cx="84.2" cy="284.9" rx="2.9" ry="1.8" fill="#C8192E" opacity="0.35" filter="url(#bl)" transform="rotate(0 84.2 284.9)"/>
<path d="M51.8 266.3h0M52.8 267.4h0M66.7 272.6h0M60.4 277.7h0M43.8 267.6h0M45.2 270.9h0M42.8 269.4h0M49.8 270.3h0M62.0 271.0h0M47.2 273.2h0M46.5 273.9h0M53.6 275.1h0M63.6 272.6h0M62.4 265.1h0M40.4 268.0h0M59.2 275.3h0M58.3 275.5h0M44.9 270.3h0M45.9 268.0h0M53.7 263.1h0" stroke="#0A6A4E" stroke-width="0.9" stroke-linecap="round" opacity="0.7" fill="none"/>
<path d="M86.3 280.1h0M56.0 286.9h0M76.9 279.2h0M56.4 273.8h0M68.0 292.0h0M63.8 279.6h0M79.8 284.5h0M52.0 275.7h0M77.8 272.6h0M66.8 273.1h0M45.8 281.3h0M58.0 277.1h0M64.5 289.6h0M80.5 273.4h0M46.3 273.3h0M45.9 283.9h0M83.2 280.5h0M63.4 267.5h0M54.0 273.5h0M48.0 283.2h0M57.7 277.5h0M82.6 277.9h0M54.7 284.2h0M60.2 289.1h0M70.9 276.4h0M74.6 268.9h0M85.3 275.4h0M73.7 276.7h0M49.6 277.9h0M58.9 292.5h0M53.7 287.1h0M69.0 286.4h0M60.7 291.7h0M75.4 281.1h0M55.7 274.4h0M80.9 284.1h0M58.2 290.6h0M76.0 290.6h0M68.3 274.0h0M76.3 288.3h0M58.4 276.2h0M74.8 275.9h0M69.7 279.1h0M85.9 287.4h0M51.1 279.5h0M55.1 286.3h0M51.1 277.1h0M55.8 268.8h0M76.1 278.7h0M67.1 282.8h0M71.6 281.3h0M54.6 274.3h0M55.4 271.9h0M60.6 286.7h0M67.1 281.4h0M46.2 283.7h0M72.8 280.3h0M75.3 276.0h0M50.6 285.6h0M65.8 286.0h0" stroke="#C8192E" stroke-width="0.9" stroke-linecap="round" opacity="0.7" fill="none"/>
<path d="M48.7 279.5h0M59.0 276.8h0M60.9 290.2h0M78.0 284.2h0M69.9 283.2h0M61.6 284.7h0M59.4 278.8h0M52.6 281.9h0M45.5 287.3h0M61.9 275.0h0M67.0 293.5h0M70.6 283.5h0M62.4 286.5h0M68.4 289.9h0M68.4 283.7h0M67.6 282.9h0M59.0 286.7h0M51.4 285.6h0M60.7 279.2h0M64.6 281.0h0M65.6 282.5h0M56.5 277.1h0M43.3 286.1h0M62.9 288.2h0M60.9 275.9h0M72.4 287.0h0M62.6 293.0h0M49.9 288.5h0M59.6 287.6h0M58.3 286.0h0M48.7 281.8h0M61.7 286.1h0M45.4 284.2h0M80.3 282.9h0M40.7 286.5h0M52.5 293.0h0M53.9 275.2h0M55.5 282.3h0M76.9 287.7h0M62.2 276.2h0M56.0 276.8h0M75.6 285.8h0M70.0 283.5h0M47.9 292.2h0M54.6 281.9h0" stroke="#33A6DD" stroke-width="0.9" stroke-linecap="round" opacity="0.7" fill="none"/>
<path d="M80.2 257.4h0M81.4 258.1h0M79.9 257.2h0M79.1 257.6h0M78.9 258.5h0M78.4 257.8h0M80.6 256.2h0M82.5 256.6h0M82.5 256.9h0M80.6 255.1h0M79.7 257.3h0M79.6 256.4h0M79.2 256.9h0M79.7 259.5h0M79.6 257.1h0M80.9 257.0h0M80.8 255.9h0M79.5 256.0h0M78.7 257.7h0M80.3 254.5h0M80.1 258.1h0M80.0 257.3h0M80.7 257.2h0M79.4 256.4h0M79.9 257.9h0M73.1 255.7h0M73.9 256.7h0M73.0 256.7h0M74.2 256.8h0M73.1 257.6h0M73.2 256.0h0M71.3 257.1h0M74.5 255.6h0M71.9 256.2h0M73.5 257.0h0M72.1 256.7h0M74.1 256.3h0M69.6 264.1h0M68.4 265.3h0M68.9 263.4h0M69.7 265.2h0M70.0 264.0h0M69.9 265.0h0M70.6 264.1h0M68.3 264.8h0M68.1 265.5h0M69.3 263.4h0M68.6 265.3h0M69.2 264.2h0M78.6 266.8h0M78.1 266.8h0M77.7 267.4h0M78.0 267.6h0M76.5 266.5h0M78.5 266.9h0M77.8 267.3h0M78.3 266.5h0M79.1 267.3h0M78.6 266.5h0M78.3 267.2h0M78.7 266.0h0" stroke="#0A6A4E" stroke-width="1.15" stroke-linecap="round" fill="none"/>
<path d="M87.7 260.8h0M87.4 264.9h0M79.6 261.4h0M77.2 271.1h0M88.9 269.1h0M78.8 272.8h0M87.2 266.3h0M76.8 278.4h0M90.7 264.7h0M74.8 271.4h0M88.9 276.3h0M86.6 271.1h0M82.0 273.3h0M74.3 275.3h0M83.6 264.6h0M77.5 270.8h0M79.5 273.6h0M85.2 271.2h0M85.1 260.3h0M83.0 277.2h0M76.9 266.5h0M81.1 272.0h0M84.5 265.9h0M86.4 269.8h0M81.1 272.3h0M73.2 273.2h0M81.0 269.1h0M94.7 268.2h0M90.8 268.4h0M87.4 281.9h0M82.5 267.1h0M82.2 264.9h0M83.9 263.7h0M80.5 273.4h0M74.9 262.9h0M79.0 267.8h0M84.2 266.2h0M75.5 277.7h0M85.6 270.3h0M79.7 276.5h0M85.6 272.6h0M78.3 260.4h0M74.7 262.7h0M85.1 269.1h0M86.3 279.4h0M76.3 269.1h0M78.6 272.5h0M79.9 272.3h0M77.2 262.5h0M81.6 272.2h0M79.8 274.4h0M85.4 265.6h0M84.4 262.2h0M71.8 264.5h0M80.0 268.9h0M79.6 266.1h0M83.1 268.1h0M87.7 276.3h0M66.6 269.5h0M83.6 274.0h0M75.0 277.8h0M80.1 273.9h0M84.9 272.4h0M82.3 265.2h0M82.9 271.4h0M73.3 276.5h0M81.5 266.3h0M81.0 269.4h0M83.4 272.1h0M84.8 266.7h0M78.2 266.5h0M85.8 267.9h0M78.9 271.2h0M88.5 268.5h0M83.6 277.0h0M79.9 263.8h0M83.3 273.4h0M80.5 268.1h0M80.7 267.0h0M77.7 270.2h0M79.7 274.5h0M80.7 270.7h0M74.3 277.6h0M79.1 273.9h0M75.9 269.2h0M82.7 275.6h0M82.0 275.5h0M88.8 274.9h0M82.2 268.7h0M78.8 267.0h0M81.8 271.4h0M78.3 273.8h0M87.3 274.5h0M82.3 267.0h0M78.8 271.9h0M94.0 274.5h0M72.5 268.5h0M79.1 266.3h0M84.5 275.3h0M76.2 269.7h0M83.5 263.0h0M84.3 272.4h0M86.6 267.7h0M77.6 265.0h0M78.8 268.2h0M76.7 278.0h0M84.3 275.3h0M73.6 273.8h0M80.4 272.6h0M75.7 261.5h0M80.9 260.4h0M91.3 265.3h0M81.0 272.1h0M83.5 272.4h0M83.9 269.8h0M87.1 272.4h0M82.1 277.0h0M80.9 268.9h0M81.6 271.5h0M81.6 266.2h0M84.5 280.8h0M76.7 277.2h0M72.9 271.9h0M78.2 271.2h0M82.4 271.8h0M78.0 268.2h0M85.8 269.3h0M81.2 275.7h0M80.7 273.9h0M88.8 257.6h0M77.9 267.4h0M94.5 274.9h0M78.7 268.3h0M93.0 274.1h0M80.1 271.4h0M83.6 268.1h0M88.3 273.3h0M80.2 275.9h0M75.8 267.2h0M82.0 272.7h0M78.9 270.5h0M77.0 267.8h0M92.0 264.8h0M84.5 265.1h0M81.6 273.7h0M90.6 265.1h0M88.7 275.7h0M78.9 275.6h0M75.6 269.7h0M85.6 267.3h0M73.8 269.2h0M77.4 264.7h0M80.7 264.8h0M75.4 276.0h0M76.9 272.0h0M74.0 257.6h0M80.2 273.3h0M91.8 270.5h0M84.0 272.1h0M89.0 259.3h0M79.0 272.8h0M83.0 263.9h0M76.3 270.0h0M82.1 267.7h0M81.6 272.0h0M84.7 266.8h0M79.5 269.2h0M82.8 270.7h0M86.0 266.2h0M76.2 266.1h0M78.2 264.1h0M81.1 270.8h0M76.5 264.5h0M81.8 273.2h0M82.8 266.7h0M79.8 266.2h0M78.6 270.4h0M83.9 273.8h0M83.2 262.2h0M86.4 271.4h0M80.3 271.6h0M77.8 266.4h0M89.3 274.2h0M70.1 255.6h0M82.6 265.1h0M75.1 270.5h0M76.5 265.5h0M83.8 271.1h0M76.9 269.4h0M86.5 260.5h0M81.9 269.8h0M75.7 262.6h0M81.5 266.1h0M81.7 266.9h0M78.0 268.0h0M86.1 267.0h0M84.4 264.1h0M83.2 269.1h0M78.6 263.2h0M83.7 266.9h0M90.0 264.4h0M75.7 266.5h0M84.0 274.2h0M83.0 267.6h0M80.4 260.0h0M73.4 270.4h0M85.9 265.5h0M79.7 265.6h0M82.4 263.2h0M84.6 267.9h0M73.4 268.7h0M87.7 269.3h0M93.8 269.6h0M82.2 271.9h0M79.2 276.0h0M85.2 267.0h0M90.9 265.4h0M89.3 263.8h0M81.4 268.6h0M86.5 278.9h0M81.1 270.4h0M77.7 272.0h0M79.8 270.7h0M83.1 274.5h0M80.8 272.6h0M80.3 268.9h0M81.3 266.6h0M92.0 260.1h0M81.7 273.8h0M81.2 267.7h0M75.6 274.4h0M78.7 270.1h0M79.6 273.3h0M82.7 266.2h0M80.5 271.4h0M85.9 270.8h0M84.3 264.7h0M80.0 276.6h0M87.1 265.7h0M75.8 265.2h0M82.8 276.3h0M77.0 267.1h0M77.8 262.0h0M84.3 266.2h0M78.6 263.7h0M83.6 265.9h0M76.0 261.6h0M80.6 269.7h0M75.7 283.4h0M82.1 268.9h0M87.7 268.5h0M80.3 273.3h0M86.0 266.4h0M83.6 268.5h0M76.8 272.8h0M75.6 266.7h0M76.5 274.3h0M64.9 265.7h0M88.5 270.0h0M72.7 267.9h0M82.1 263.5h0M82.0 276.1h0M76.9 271.0h0M84.6 274.0h0M72.7 273.6h0M82.7 259.3h0M76.0 269.4h0M77.1 276.3h0M86.2 274.0h0M79.6 271.3h0M81.9 266.1h0M79.2 272.2h0M80.6 266.2h0M78.0 273.0h0M78.3 278.5h0M82.2 268.8h0M81.1 271.3h0M81.1 274.4h0M80.7 267.6h0M88.6 266.8h0M81.6 265.2h0M77.3 272.7h0M77.4 268.3h0M80.4 266.3h0M80.8 273.7h0M85.1 278.7h0M77.0 269.4h0M89.8 273.9h0M86.2 272.0h0M82.9 269.3h0M82.0 260.3h0M82.6 268.3h0M80.2 276.1h0M76.9 266.0h0M81.8 266.8h0M79.6 266.6h0M81.2 270.1h0M83.1 275.7h0M89.7 271.9h0M81.7 267.4h0M84.2 275.2h0M80.6 263.6h0M86.6 268.8h0M87.2 268.6h0M77.3 267.5h0M75.2 265.6h0M81.0 269.4h0M80.2 274.6h0M86.6 268.6h0M70.8 267.5h0M88.8 269.4h0M82.9 268.9h0M88.9 270.6h0M86.2 269.4h0M82.8 273.9h0M75.4 264.1h0M79.7 267.3h0M80.8 264.1h0M83.2 275.0h0M82.3 260.1h0M79.0 276.6h0M76.5 265.7h0M77.3 271.8h0M85.4 265.8h0M92.8 267.8h0M87.0 271.7h0M84.2 262.5h0M74.7 276.9h0M73.3 273.1h0M83.5 263.6h0M86.5 267.8h0M84.9 269.7h0M83.9 275.0h0M86.8 265.8h0M86.6 275.0h0M76.5 274.6h0M78.8 267.4h0M84.5 263.5h0M86.2 268.2h0M82.3 276.9h0M74.1 274.5h0M82.4 276.7h0M83.3 263.6h0M85.3 275.3h0M80.9 268.1h0M91.0 272.1h0M85.1 264.1h0M78.4 269.8h0M81.8 269.5h0M83.1 261.2h0M77.0 260.3h0M92.9 270.5h0M82.1 271.5h0M81.5 272.2h0M81.2 274.4h0M82.3 269.6h0M86.8 275.5h0M85.2 272.6h0M80.1 271.9h0M79.9 276.1h0M83.0 269.6h0M87.3 275.9h0M82.4 275.7h0M88.8 261.8h0M73.7 272.7h0M82.3 270.2h0M79.5 277.2h0M89.9 269.2h0M75.2 279.9h0M86.9 268.9h0M78.8 270.0h0M87.0 268.0h0M81.2 274.4h0M82.5 270.0h0M69.6 272.4h0M83.9 269.1h0M76.7 275.3h0M76.2 276.8h0M81.8 272.7h0M85.3 269.8h0M76.4 281.0h0M84.2 268.2h0M83.8 276.6h0M74.5 268.5h0M82.6 275.7h0M86.3 267.6h0M80.3 272.8h0M82.7 271.7h0M80.8 267.1h0M84.9 276.1h0M83.4 263.6h0M80.6 266.4h0M83.7 267.1h0M81.2 269.7h0M78.4 266.9h0M83.7 270.4h0M80.2 267.1h0M79.0 268.2h0M77.4 271.6h0M91.6 278.8h0M85.3 275.0h0M73.4 272.5h0M84.4 263.9h0M87.8 268.4h0M82.1 273.8h0M87.1 268.7h0M82.4 272.1h0M89.1 273.2h0M81.8 274.0h0M81.8 259.5h0M83.2 266.7h0M80.2 273.1h0M70.1 271.8h0M80.1 266.4h0M76.7 267.9h0M79.4 262.3h0M81.0 273.0h0M81.1 268.3h0M87.6 270.4h0M81.0 273.5h0M80.7 264.3h0M78.4 266.5h0M92.4 265.6h0M85.9 268.4h0M86.0 263.1h0M75.6 265.0h0M75.8 272.2h0M80.1 269.6h0M77.6 272.9h0M92.1 269.6h0M78.9 270.7h0M87.8 270.3h0M82.6 269.9h0M77.0 270.3h0M85.8 274.1h0M77.0 267.6h0M78.6 267.5h0M78.4 267.8h0M80.1 268.6h0M85.6 264.7h0M79.8 271.6h0M74.8 272.9h0M81.6 276.2h0M81.7 276.9h0M79.5 273.7h0M85.1 271.8h0M84.3 269.5h0M84.7 271.5h0M80.0 263.6h0M89.1 281.1h0M81.4 266.8h0M82.0 270.6h0M84.4 270.2h0M79.8 267.3h0M71.4 265.5h0M84.0 265.8h0M85.2 272.0h0M86.4 272.2h0M83.8 278.1h0M79.3 272.1h0M80.4 269.1h0M79.3 274.0h0M84.0 268.3h0M79.6 269.6h0M82.1 271.7h0M80.3 272.7h0M89.7 262.3h0M78.1 276.3h0M83.4 260.1h0M90.4 274.5h0M76.0 272.1h0M82.9 270.7h0M85.9 267.9h0M83.5 271.2h0M75.6 272.1h0M84.5 276.7h0M83.9 267.6h0M84.3 266.8h0M81.4 269.1h0M82.0 266.6h0M78.4 270.6h0M77.2 265.7h0M80.5 270.6h0M80.4 266.4h0M78.4 271.8h0M80.8 265.6h0M89.6 267.8h0M78.2 264.2h0M81.3 262.5h0M87.9 271.2h0M82.8 271.4h0M79.4 278.0h0M78.2 275.0h0M89.4 272.8h0M89.9 272.7h0M74.6 268.6h0M78.7 273.6h0M81.1 272.2h0M78.4 264.9h0M77.7 266.5h0M81.8 263.8h0M88.2 261.9h0M82.5 275.2h0M81.5 272.3h0M78.4 268.9h0M77.7 268.8h0M87.0 265.3h0M80.4 271.0h0M79.9 276.8h0M76.5 268.1h0M73.7 263.8h0M78.1 270.5h0M80.3 273.1h0M87.0 264.9h0M81.1 273.3h0M76.9 261.8h0M92.9 266.2h0M86.8 276.1h0M84.1 268.7h0M77.9 265.2h0M76.2 259.5h0M75.4 272.4h0M84.8 271.6h0M79.1 277.7h0M89.9 276.6h0M84.1 267.6h0M80.8 270.2h0M83.0 271.7h0M88.5 273.0h0M77.4 266.8h0M84.7 269.9h0M80.3 266.0h0M79.8 268.1h0M77.2 267.3h0M86.4 270.5h0M87.8 260.0h0M74.5 267.0h0M70.3 266.4h0M81.4 266.3h0M72.3 267.2h0M78.1 271.2h0M90.0 268.4h0M82.6 269.5h0M86.9 265.7h0M83.4 269.1h0M83.8 278.0h0M86.6 264.6h0M82.7 268.3h0M76.6 268.9h0M79.0 271.1h0M82.7 268.2h0M79.0 273.0h0M84.7 273.8h0M82.3 273.3h0M83.7 268.6h0M78.8 270.8h0M82.4 269.4h0M78.8 271.5h0M80.3 276.0h0M85.2 277.2h0M79.0 274.4h0M83.9 269.8h0M81.6 265.9h0M81.7 271.1h0M80.4 267.0h0M86.8 272.1h0M83.4 270.5h0M85.2 267.9h0M82.8 265.4h0M86.4 271.6h0M79.8 270.5h0M85.6 266.1h0M85.3 264.9h0M86.9 269.2h0M86.4 276.4h0M82.2 277.0h0M80.8 276.6h0M82.4 278.6h0M81.5 272.6h0M78.2 263.0h0M82.5 268.7h0M83.7 271.2h0M71.9 280.0h0M79.7 273.1h0M80.1 269.5h0M86.4 264.4h0M84.2 269.1h0M72.3 260.2h0M88.0 274.6h0M81.2 276.6h0M83.7 268.2h0M80.1 265.1h0M82.0 264.4h0M81.7 267.4h0M82.2 270.8h0M81.9 274.9h0M81.2 272.6h0M69.9 270.6h0M86.8 273.1h0M84.6 269.3h0M90.3 268.4h0M78.6 264.9h0M80.3 265.6h0M82.2 265.6h0M83.2 274.0h0M83.8 264.8h0M76.6 267.9h0M80.9 266.4h0M79.4 271.3h0M77.7 264.7h0M83.8 265.5h0M80.2 270.4h0M78.1 263.2h0M83.7 264.5h0M90.3 272.2h0M77.1 278.0h0M75.4 281.1h0M76.4 272.4h0M76.1 271.6h0M88.6 273.8h0M84.7 277.4h0M85.0 271.1h0M73.9 273.8h0M77.4 265.1h0M76.1 269.6h0M81.1 258.9h0M89.0 276.6h0M86.2 264.6h0M93.0 265.4h0M76.0 267.7h0M93.8 259.0h0M72.6 268.3h0M82.8 266.5h0M75.5 264.7h0M73.2 266.7h0M78.5 270.5h0M90.3 272.6h0M80.0 271.6h0M81.1 277.4h0M81.7 260.0h0M88.7 269.4h0M88.6 279.7h0M76.1 268.5h0M86.3 263.5h0M82.2 267.5h0M81.8 264.9h0M90.5 277.2h0M79.8 265.9h0M85.4 272.8h0M77.1 264.0h0M86.0 263.9h0M86.8 272.5h0M84.7 269.7h0M80.7 273.2h0M82.3 268.2h0M82.6 270.2h0M82.6 268.8h0M74.4 268.0h0M86.1 269.4h0M81.1 277.6h0M89.1 273.7h0M81.8 271.3h0M82.4 268.9h0M72.0 273.6h0M80.4 273.1h0M87.1 275.2h0M74.1 273.9h0M85.3 267.4h0M68.2 266.7h0M86.1 260.9h0M79.9 273.0h0M89.0 268.8h0M93.7 265.9h0M83.2 267.1h0M88.2 263.0h0M77.1 263.7h0M87.7 269.8h0M81.1 263.8h0M84.4 262.8h0M74.0 271.5h0M84.9 266.8h0M81.3 268.8h0M79.2 266.4h0M82.8 279.3h0M77.1 273.6h0M76.9 270.6h0M82.6 269.9h0M84.5 265.1h0M83.0 265.2h0M83.4 272.0h0M80.8 274.3h0M79.3 275.7h0M83.1 270.2h0M77.8 270.8h0M78.7 255.0h0M74.9 267.0h0M81.2 269.9h0M87.1 278.5h0M79.7 275.3h0M89.2 261.9h0M74.0 270.5h0M84.5 276.3h0M78.4 266.3h0M78.8 272.1h0M82.9 260.6h0M82.2 276.9h0M93.7 273.0h0M76.8 268.9h0M76.3 255.7h0M81.1 268.1h0M85.8 267.9h0M82.2 274.4h0M79.1 260.1h0M81.6 264.3h0M86.2 265.4h0M77.1 275.9h0M84.2 266.6h0M71.5 270.6h0M84.4 281.2h0M82.4 265.8h0M84.2 269.0h0M79.8 280.2h0M82.3 276.9h0M83.0 270.2h0M77.3 267.3h0M70.3 273.1h0M82.2 271.9h0M82.5 272.5h0M77.3 276.4h0M82.6 270.8h0M86.2 277.1h0M74.8 268.9h0M81.7 273.0h0M77.7 262.0h0M80.9 266.3h0M76.8 269.0h0M77.9 264.1h0M87.6 272.4h0M80.8 278.1h0M74.4 273.5h0M80.7 274.0h0M87.8 267.7h0M86.6 261.7h0M79.5 270.2h0M88.9 271.2h0M80.5 270.8h0M74.5 267.4h0M76.9 278.3h0M84.7 271.4h0M83.1 264.0h0M93.5 273.4h0M75.5 276.8h0M78.7 263.6h0M92.6 271.9h0M81.2 265.7h0M75.8 272.4h0M81.8 278.2h0M82.5 260.5h0M87.1 275.0h0M79.8 271.9h0M87.8 269.7h0M81.3 270.7h0M85.0 270.5h0M84.6 262.7h0M80.5 263.0h0M78.6 267.9h0M73.1 275.9h0M73.0 279.3h0M88.4 271.9h0M81.5 262.7h0M79.6 272.0h0M81.1 269.0h0M90.6 267.4h0M87.5 269.3h0M75.9 262.2h0M84.6 274.7h0M84.8 269.7h0M80.7 263.7h0M81.0 267.2h0M74.7 275.8h0M84.4 271.0h0M85.6 263.5h0M78.7 256.2h0M83.8 267.2h0M88.8 270.5h0M72.9 265.3h0M83.7 267.8h0M89.9 274.2h0M83.1 275.7h0M85.5 272.8h0M77.7 274.0h0M80.6 262.6h0M74.2 260.1h0M82.3 263.8h0M83.6 269.0h0M81.9 266.5h0M81.9 274.8h0M93.7 271.7h0M75.5 264.8h0M79.3 270.7h0M68.3 272.0h0M68.4 273.0h0M71.0 271.9h0M68.1 274.1h0M67.4 274.5h0M73.3 274.7h0M72.4 272.9h0M72.7 273.7h0M68.5 275.3h0M68.5 270.7h0M65.2 273.6h0M71.1 273.2h0M68.5 272.4h0M65.5 270.8h0M71.0 271.9h0M66.7 273.2h0M69.6 272.7h0M70.2 272.7h0M68.2 270.7h0M73.4 272.8h0M74.4 272.2h0M64.5 269.3h0M77.6 273.1h0M68.8 274.4h0M66.5 272.7h0M70.0 270.9h0M66.9 274.5h0M66.5 271.7h0M72.6 273.0h0M69.7 274.3h0M71.5 267.5h0M71.3 271.5h0M66.0 272.6h0M68.6 273.5h0M69.7 272.4h0M68.9 272.4h0M68.2 273.7h0M75.1 268.9h0M69.5 270.7h0M70.0 272.3h0M70.8 272.3h0M70.2 272.6h0M65.5 269.3h0M70.4 269.0h0M67.2 273.5h0M70.7 271.2h0M68.5 272.5h0M71.0 271.1h0M71.4 273.9h0M67.0 270.7h0M64.8 269.1h0M68.9 271.0h0M70.3 271.1h0M67.8 270.7h0M68.5 271.2h0M67.8 272.8h0M70.7 274.3h0M67.5 271.7h0M71.7 276.2h0M67.4 273.3h0M71.8 275.7h0M69.5 272.9h0M70.9 270.9h0M67.5 274.3h0M69.4 272.9h0M70.6 270.7h0M69.4 274.8h0M66.2 274.5h0M71.3 273.3h0M70.3 272.0h0M67.7 273.5h0M70.9 273.3h0M69.5 274.7h0M71.5 274.7h0M66.2 274.2h0M64.6 272.2h0M69.3 273.5h0M67.1 274.9h0M64.2 272.8h0M71.1 271.4h0M69.6 273.9h0M61.2 273.9h0M67.9 273.0h0M65.6 273.7h0M69.8 273.1h0M70.1 274.5h0M67.5 271.4h0M72.1 270.5h0M66.5 270.7h0M74.2 276.6h0M83.5 284.0h0M79.3 286.0h0M84.1 288.3h0M85.1 283.3h0M83.8 285.6h0M84.8 283.5h0M83.7 284.8h0M88.1 283.9h0M83.6 284.5h0M85.2 284.3h0M87.8 285.7h0M86.0 286.7h0M84.5 283.4h0M82.3 284.0h0M85.0 283.8h0M84.2 284.1h0M83.6 284.4h0M86.1 285.1h0M86.5 283.2h0M83.5 285.1h0M84.3 287.6h0M81.8 281.9h0M85.8 285.9h0M84.3 285.9h0M85.6 286.2h0M83.8 284.1h0M84.6 285.8h0M83.6 283.1h0M83.2 283.2h0M85.6 285.4h0M84.1 286.8h0M82.2 285.3h0M84.9 283.6h0M83.0 284.1h0M81.0 286.2h0M84.7 281.9h0M81.9 283.5h0M84.3 286.1h0M81.2 284.5h0M85.2 284.3h0" stroke="#C8192E" stroke-width="1.15" stroke-linecap="round" fill="none"/>
<rect x="33.9" y="244.4" width="63.7" height="60.4" fill="none" stroke="#7a7a7a" stroke-width="0.75"/>
<text x="71.9" y="241.8" font-size="8.9" fill="#222" text-anchor="middle" textLength="38.8" lengthAdjust="spacingAndGlyphs">Diagnosis</text>
<line x1="36.9" y1="304.8" x2="36.9" y2="306.8" stroke="#7a7a7a" stroke-width="0.6"/>
<text x="34.9" y="316.2" font-size="7.3" fill="#333" stroke="#333" stroke-width="0.1" text-anchor="middle">−40</text>
<line x1="51.5" y1="304.8" x2="51.5" y2="306.8" stroke="#7a7a7a" stroke-width="0.6"/>
<text x="49.5" y="316.2" font-size="7.3" fill="#333" stroke="#333" stroke-width="0.1" text-anchor="middle">−20</text>
<line x1="66.4" y1="304.8" x2="66.4" y2="306.8" stroke="#7a7a7a" stroke-width="0.6"/>
<text x="66.7" y="316.2" font-size="7.3" fill="#333" stroke="#333" stroke-width="0.1" text-anchor="middle">0</text>
<line x1="81.1" y1="304.8" x2="81.1" y2="306.8" stroke="#7a7a7a" stroke-width="0.6"/>
<text x="81.4" y="316.2" font-size="7.3" fill="#333" stroke="#333" stroke-width="0.1" text-anchor="middle">20</text>
<line x1="96" y1="304.8" x2="96" y2="306.8" stroke="#7a7a7a" stroke-width="0.6"/>
<text x="96.3" y="316.2" font-size="7.3" fill="#333" stroke="#333" stroke-width="0.1" text-anchor="middle">40</text>
<ellipse cx="132.7" cy="278.2" rx="3.4" ry="1.8" fill="#C8192E" opacity="0.3" filter="url(#bl)" transform="rotate(0 132.7 278.2)"/>
<ellipse cx="134.0" cy="289.7" rx="11.7" ry="7.2" fill="#33A6DD" opacity="0.65" filter="url(#bl)" transform="rotate(20 134.0 289.7)"/>
<path d="M139.8 267.5h0M113.4 262.5h0M117.5 264.7h0M121.4 263.2h0M133.5 265.7h0M120.9 264.6h0M134.7 268.9h0M123.6 266.0h0M134.1 262.2h0M145.1 263.8h0M123.0 268.6h0M118.3 264.1h0M134.6 268.3h0M144.6 264.1h0M132.3 263.2h0M130.1 271.3h0M141.7 271.4h0M133.8 271.2h0M133.8 274.3h0M113.6 268.6h0M138.6 259.1h0M135.3 270.0h0M130.8 270.4h0M118.7 267.6h0M127.1 267.5h0" stroke="#0A6A4E" stroke-width="0.9" stroke-linecap="round" opacity="0.7" fill="none"/>
<path d="M135.4 280.2h0M148.3 279.5h0M162.9 277.8h0M126.2 286.8h0M134.7 280.9h0M149.8 281.5h0M139.1 281.9h0M139.8 275.9h0M130.4 285.6h0M152.0 285.5h0M146.7 269.5h0M133.2 270.7h0M137.7 273.0h0M128.6 272.2h0M126.7 275.4h0M124.5 285.7h0M132.8 280.7h0M152.2 280.2h0M124.6 266.5h0M138.6 289.8h0M150.2 279.3h0M150.1 269.8h0M140.8 280.3h0M149.4 268.7h0M152.8 269.3h0M148.0 269.7h0M152.4 283.1h0M153.6 276.6h0M156.1 267.0h0M139.6 279.7h0M152.6 287.6h0M138.9 278.5h0M134.0 266.5h0M134.9 286.8h0M125.7 283.1h0M135.5 281.8h0M122.5 284.3h0M135.6 268.6h0M129.1 280.7h0M167.0 277.0h0M122.8 279.1h0M149.0 275.5h0M142.5 283.6h0M142.3 286.0h0M148.7 273.5h0M145.7 288.5h0M130.9 288.4h0M141.1 278.6h0M150.0 282.8h0M137.9 278.6h0M127.8 267.7h0M128.6 274.7h0M145.1 273.0h0M145.7 265.3h0M143.4 273.5h0M131.7 286.6h0M139.5 265.8h0M148.9 271.1h0M148.8 290.8h0M132.3 279.1h0" stroke="#C8192E" stroke-width="0.9" stroke-linecap="round" opacity="0.7" fill="none"/>
<path d="M132.5 268.4h0M131.4 270.4h0M132.6 269.6h0M135.7 268.5h0M135.2 267.1h0M133.7 268.9h0M134.6 268.8h0M135.0 269.6h0M133.0 268.8h0M136.6 268.3h0M133.5 269.3h0M136.3 267.9h0M132.9 268.9h0M136.5 267.9h0M133.0 269.1h0M140.1 268.3h0M133.7 267.7h0M136.8 268.3h0M131.0 267.1h0M131.8 267.9h0" stroke="#0A6A4E" stroke-width="1.15" stroke-linecap="round" fill="none"/>
<path d="M130.7 278.9h0M130.1 279.5h0M130.6 278.9h0M128.8 279.2h0M126.4 277.9h0M132.9 277.9h0M131.8 277.6h0M131.6 280.4h0M130.3 279.6h0M135.3 277.0h0M131.6 281.0h0M136.9 279.5h0M132.3 276.8h0M130.0 279.4h0M131.1 276.6h0M134.3 276.9h0M135.4 278.6h0M133.8 276.1h0M131.5 277.7h0M131.7 278.5h0M132.6 277.5h0M135.2 278.8h0M133.0 278.1h0M137.5 276.4h0M131.6 280.8h0M134.2 280.0h0M131.9 279.5h0M129.5 276.7h0M133.3 276.8h0M132.2 278.2h0M141.7 278.5h0M133.7 277.9h0M130.4 276.9h0M131.7 278.4h0M131.7 278.9h0M129.9 276.8h0M133.9 280.3h0M134.3 279.0h0M130.1 277.6h0M130.8 276.6h0M141.7 282.1h0M144.2 284.5h0M143.3 281.8h0M142.7 283.3h0M144.5 282.7h0M139.3 284.5h0M140.2 286.3h0M142.6 284.3h0M143.3 285.0h0M141.4 285.4h0M137.9 283.3h0M143.1 283.2h0M144.6 283.3h0M140.1 283.9h0M143.1 282.8h0M145.0 282.7h0M139.1 282.1h0M142.5 284.2h0M140.6 283.3h0M145.6 283.9h0M144.9 283.8h0M146.5 282.5h0M142.6 282.2h0M144.2 282.3h0M144.2 285.7h0M151.8 284.9h0M149.0 288.0h0M152.5 282.9h0M152.4 286.9h0M148.6 283.4h0M151.6 286.9h0M151.0 285.5h0M153.2 284.4h0M150.3 284.7h0M154.7 286.3h0M150.2 288.0h0M147.5 287.0h0M149.8 283.2h0M151.6 288.3h0M148.9 284.2h0M152.0 282.5h0M148.2 284.8h0M151.7 282.6h0M150.9 283.8h0M150.9 287.6h0M149.4 284.8h0M152.4 286.2h0M150.8 283.8h0M151.3 285.7h0M149.7 287.4h0" stroke="#C8192E" stroke-width="1.15" stroke-linecap="round" fill="none"/>
<path d="M129.0 293.0h0M126.2 294.8h0M135.4 290.3h0M136.2 287.4h0M125.1 289.4h0M136.9 280.8h0M133.0 287.7h0M142.5 292.7h0M131.2 289.8h0M154.3 288.3h0M133.2 292.0h0M141.2 297.1h0M136.2 289.5h0M143.7 285.5h0M128.3 286.7h0M144.4 292.9h0M131.0 291.8h0M133.6 291.2h0M122.7 284.6h0M129.0 291.4h0M127.0 296.0h0M138.5 287.3h0M125.3 295.2h0M123.8 280.6h0M135.0 298.5h0M140.4 293.6h0M131.8 285.6h0M131.9 285.2h0M133.0 286.5h0M133.7 285.9h0M148.6 296.2h0M133.4 291.3h0M147.0 293.2h0M143.5 294.3h0M151.9 295.5h0M117.5 287.4h0M135.1 279.0h0M130.0 280.8h0M143.5 292.2h0M132.6 287.7h0M139.1 285.9h0M129.2 293.4h0M135.2 292.8h0M139.6 285.7h0M150.0 295.2h0M134.3 280.2h0M139.7 291.1h0M132.1 289.7h0M136.7 293.0h0M133.0 291.8h0M130.0 279.3h0M130.6 287.8h0M133.8 291.8h0M140.0 288.8h0M138.3 295.2h0M127.1 282.4h0M127.4 289.8h0M135.5 281.0h0M123.7 290.4h0M135.0 300.4h0M131.9 283.9h0M150.7 295.8h0M141.6 294.0h0M139.2 296.2h0M126.3 282.1h0M127.5 287.2h0M150.9 295.9h0M133.9 289.8h0M119.7 285.9h0M133.5 288.0h0M146.5 290.3h0M128.7 286.9h0M127.7 284.7h0M127.2 281.6h0M138.4 287.6h0M128.1 298.5h0M133.1 289.7h0M127.4 290.6h0M135.6 286.3h0M129.7 295.8h0M128.0 286.2h0M139.6 283.2h0M149.1 299.7h0M135.7 297.3h0M144.0 285.3h0M127.2 286.0h0M128.9 288.5h0M129.4 294.3h0M134.4 283.9h0M125.8 286.3h0M128.3 277.4h0M124.6 288.6h0M125.7 281.9h0M124.5 286.2h0M142.0 294.2h0M141.8 288.1h0M129.0 287.6h0M133.3 295.9h0M147.8 289.7h0M140.2 288.1h0M130.2 290.9h0M133.7 289.8h0M130.8 286.7h0M131.3 302.0h0M120.3 289.2h0M135.4 293.0h0M141.3 293.0h0M131.1 282.4h0M144.2 293.5h0M130.1 286.8h0M139.1 296.8h0M139.2 288.0h0M145.4 289.3h0M144.1 283.7h0M131.8 295.1h0M138.8 291.4h0M122.8 282.1h0M138.0 297.4h0M126.9 287.5h0M133.4 289.8h0M141.9 285.0h0M139.3 299.9h0M128.0 290.8h0M135.3 283.9h0M140.2 292.3h0M124.5 287.3h0M126.8 290.8h0M137.2 296.4h0M141.6 287.7h0M129.9 290.8h0M130.2 292.9h0M130.0 297.1h0M136.3 283.2h0M128.5 290.9h0M130.5 286.6h0M140.4 286.0h0M131.6 289.1h0M129.8 287.2h0M120.4 296.9h0M149.9 287.1h0M126.5 283.8h0M151.4 286.5h0M139.0 283.3h0M134.4 299.2h0M133.0 289.0h0M120.9 292.3h0M140.5 290.6h0M139.0 287.4h0M120.0 293.5h0M131.8 295.8h0M133.5 280.3h0M140.8 290.3h0M126.0 288.0h0M133.7 294.0h0M131.6 292.1h0M128.4 283.9h0M141.8 282.8h0M137.4 292.2h0M136.6 291.5h0M129.9 292.3h0M131.2 294.4h0M135.7 292.0h0M129.2 290.6h0M134.1 293.7h0M143.7 290.9h0M137.9 296.4h0M134.5 294.6h0M131.0 290.1h0M142.7 283.5h0M137.9 292.4h0M119.0 286.7h0M139.9 279.5h0M133.1 287.3h0M140.3 290.3h0M133.2 286.6h0M134.8 292.3h0M131.3 294.4h0M138.7 297.1h0M136.6 285.6h0M135.5 290.5h0M120.2 290.1h0M131.7 292.1h0M144.4 291.9h0M138.1 294.4h0M135.8 297.4h0M131.7 293.9h0M127.7 289.7h0M141.8 291.3h0M128.3 282.4h0M135.2 292.5h0M122.6 284.9h0M132.7 288.1h0M135.5 293.3h0M129.1 295.0h0M117.0 289.7h0M140.3 287.2h0M133.6 285.5h0M113.1 281.4h0M134.3 280.0h0M128.0 284.5h0M144.5 291.0h0M133.0 282.8h0M125.0 288.7h0M139.4 288.1h0M142.3 290.9h0M128.0 295.7h0M143.6 296.3h0M136.7 291.7h0M124.6 281.9h0M115.1 282.6h0M132.0 294.5h0M136.7 295.9h0M118.4 279.6h0M135.4 287.1h0M138.1 287.5h0M136.0 295.3h0M139.8 294.7h0M141.1 287.3h0M141.4 282.7h0M134.1 290.2h0M128.2 287.9h0M123.7 277.9h0M121.6 288.9h0M137.4 290.9h0M139.9 295.0h0M117.1 289.0h0M135.4 282.5h0M137.0 290.1h0M150.4 297.6h0M141.1 293.2h0M133.2 297.4h0M131.8 284.9h0M133.0 285.8h0M124.0 289.3h0M139.2 301.8h0M138.4 292.7h0M131.8 287.7h0M123.7 285.8h0M136.4 282.3h0M124.6 285.5h0M131.3 290.1h0M132.1 286.1h0M144.4 291.8h0M137.8 281.1h0M135.8 283.4h0M138.1 289.0h0M146.2 294.1h0M140.9 287.8h0M130.3 285.7h0M127.1 285.3h0M130.8 294.6h0M135.7 292.7h0M146.6 295.4h0M138.6 293.8h0M136.8 285.0h0M142.9 287.7h0M124.5 284.7h0M131.7 287.8h0M138.5 297.6h0M126.7 290.4h0M125.2 285.8h0M127.8 284.6h0M142.7 289.5h0M138.5 285.6h0M130.5 302.9h0M125.7 288.4h0M130.8 295.1h0M148.9 296.5h0M137.6 291.7h0M138.5 291.3h0M135.5 285.7h0M138.0 284.8h0M131.6 292.5h0M138.5 295.6h0M132.7 294.3h0M125.5 288.8h0M130.6 298.4h0M138.4 284.6h0M130.9 293.0h0M125.6 293.3h0M124.8 290.0h0M135.7 294.0h0M128.5 285.5h0M136.9 285.6h0M124.6 287.9h0M124.6 301.7h0M126.5 286.9h0M137.5 294.6h0M146.2 295.9h0M146.8 289.7h0M131.2 290.1h0M139.6 295.3h0M124.1 290.1h0M137.7 293.2h0M140.5 291.2h0M127.3 288.9h0M140.8 289.7h0M136.8 291.2h0M135.3 290.9h0M133.5 293.4h0M136.4 282.9h0M145.6 282.4h0M118.6 287.6h0M147.6 292.3h0M138.2 291.3h0M130.8 290.0h0M144.0 291.8h0M130.7 284.8h0M144.7 292.7h0M131.3 280.9h0M133.1 288.7h0M145.5 294.6h0M123.4 292.3h0M128.0 289.0h0M140.5 293.7h0M120.8 288.8h0M127.3 283.1h0M137.3 283.7h0M120.8 291.3h0M115.9 288.8h0M137.6 289.2h0M134.7 295.8h0M123.7 285.3h0M128.4 293.5h0M145.7 297.5h0M127.7 287.6h0M142.3 295.5h0M128.3 289.6h0M139.7 292.2h0M121.4 295.2h0M131.9 287.9h0M128.6 284.3h0M126.7 292.7h0M128.7 290.8h0M136.9 287.5h0M143.6 298.3h0M135.7 282.9h0M124.1 282.5h0M131.5 292.7h0M133.2 292.3h0M131.7 295.3h0M135.2 285.5h0M139.3 294.6h0M137.7 293.4h0M121.8 286.2h0M140.9 285.5h0M138.6 282.6h0M124.1 287.8h0M118.3 275.3h0M127.6 288.0h0M132.8 291.4h0M116.0 287.1h0M124.8 287.6h0M126.6 285.7h0M132.6 293.4h0M136.7 297.5h0M134.2 283.0h0M118.5 298.0h0M137.3 289.9h0M140.8 285.4h0M131.5 301.1h0M134.7 274.5h0M121.3 287.0h0M138.1 291.9h0M135.4 289.7h0M124.6 281.6h0M128.7 284.1h0M133.8 279.1h0M131.8 285.6h0M129.4 296.8h0M124.7 291.0h0M154.2 285.9h0M142.4 297.8h0M134.9 290.6h0M139.2 301.5h0M132.7 290.9h0M132.9 285.1h0M132.8 287.4h0M135.9 287.3h0M142.1 292.3h0M134.6 289.1h0M144.7 292.4h0M138.5 290.3h0M148.4 293.2h0M138.8 295.4h0M131.9 293.9h0M135.5 287.8h0M120.1 279.4h0M132.1 285.7h0M138.3 288.3h0M134.7 295.2h0M137.2 278.3h0M140.3 291.0h0M130.3 289.8h0M144.3 296.8h0M120.3 278.5h0M132.3 288.1h0M138.8 296.9h0M146.1 286.4h0M126.5 290.6h0M127.4 292.7h0M143.0 291.5h0M132.6 293.4h0M136.7 297.9h0M139.3 289.6h0M137.4 282.1h0M141.2 295.3h0M125.2 293.3h0M129.4 285.7h0M133.4 295.1h0M132.9 288.0h0M137.8 284.9h0M130.7 289.5h0M154.6 294.4h0M130.0 283.4h0M146.7 289.0h0M142.1 296.2h0M137.9 299.9h0M132.6 288.6h0M145.1 287.4h0M136.8 293.2h0M126.6 285.6h0M143.9 292.3h0M131.1 293.9h0M131.5 291.1h0M128.2 293.2h0M132.6 288.3h0M125.6 294.5h0M129.3 282.0h0M140.7 298.7h0M132.8 290.0h0M132.0 288.1h0M137.4 291.8h0M128.4 287.4h0M132.4 281.2h0M140.1 290.9h0M122.8 288.7h0M141.7 292.3h0M133.3 301.0h0M138.7 293.5h0M146.5 288.1h0M136.5 292.3h0M137.0 289.3h0M128.7 295.9h0M132.7 288.9h0M124.5 289.0h0M119.6 282.4h0M139.8 287.1h0M142.3 295.8h0M121.3 292.7h0M129.6 291.7h0M144.9 293.1h0M142.1 287.7h0M128.5 282.6h0M133.1 283.1h0M132.4 286.7h0M135.8 289.7h0M132.1 294.1h0M125.3 290.8h0M138.5 290.4h0M129.8 292.6h0M124.6 286.3h0M138.2 286.9h0M142.3 290.9h0M132.8 300.6h0M129.0 287.9h0M131.2 292.8h0M124.7 291.8h0M121.5 288.6h0M131.5 285.2h0M145.4 295.8h0M139.9 294.5h0M109.6 290.8h0M135.1 278.2h0M134.7 292.9h0M142.3 291.4h0M134.9 287.5h0M125.2 287.0h0M146.4 299.9h0M131.7 288.2h0M137.4 289.4h0M125.0 280.0h0M124.7 281.6h0M130.2 287.1h0M121.7 281.7h0M133.2 298.7h0M126.9 287.5h0M137.8 286.8h0M123.9 289.0h0M124.5 291.9h0M145.5 289.1h0M132.8 293.6h0M146.9 287.7h0M134.0 289.2h0M147.6 285.8h0M131.7 290.4h0M137.4 292.8h0M136.4 290.0h0M133.9 287.0h0M125.3 295.7h0M134.5 302.8h0M138.9 298.4h0M139.3 295.4h0M134.8 290.1h0M130.7 299.1h0M124.6 286.8h0M120.2 287.8h0M138.9 291.2h0M137.4 287.4h0M134.8 287.2h0M133.3 280.6h0M133.0 293.6h0M126.7 280.6h0M132.0 286.2h0M143.0 301.3h0M137.4 295.8h0M137.9 295.3h0M136.1 285.6h0M127.8 286.1h0M123.5 298.0h0M135.6 287.0h0M131.4 285.3h0M151.1 294.3h0M127.0 290.4h0M121.1 288.3h0M138.1 297.5h0M131.5 281.8h0M115.6 286.9h0M128.8 291.1h0M136.9 299.8h0M134.0 295.0h0M135.5 289.5h0M137.6 284.0h0M126.4 289.3h0M127.7 288.9h0M113.2 284.0h0M131.6 290.2h0M144.5 285.0h0M136.2 286.5h0M133.5 287.5h0M142.6 303.0h0M134.4 293.0h0M138.1 294.6h0M126.6 288.4h0M140.9 293.8h0M133.9 286.9h0M140.9 290.8h0M131.4 297.7h0M138.2 293.0h0M131.9 287.8h0M137.5 295.7h0M133.0 297.7h0M124.1 287.4h0M135.6 298.5h0M141.1 289.1h0M135.4 289.9h0M123.3 288.3h0M124.2 288.3h0M137.4 290.4h0M124.4 286.6h0M136.8 286.9h0M134.8 290.2h0M134.9 300.6h0M127.7 284.9h0M138.9 291.3h0M132.7 291.3h0M139.0 291.7h0M125.7 288.5h0M125.1 282.2h0M134.3 290.8h0M140.5 298.6h0M130.9 286.1h0M138.9 301.5h0M136.3 289.0h0M130.9 281.6h0M134.9 284.7h0M142.0 281.6h0M137.5 294.8h0M130.7 287.3h0M135.4 288.9h0M122.5 287.7h0M148.2 302.3h0M134.1 289.3h0M141.0 287.3h0M123.3 290.8h0M132.4 289.7h0M124.6 284.1h0M125.8 290.1h0M138.6 293.6h0M117.4 281.6h0M143.3 295.3h0M126.8 285.8h0M134.2 291.0h0M130.3 289.9h0M143.2 292.4h0M124.8 293.6h0M130.2 287.3h0M136.9 296.1h0M128.8 290.3h0M141.2 287.3h0M137.7 292.8h0M128.1 292.0h0M136.6 291.9h0M143.4 293.5h0M117.8 292.1h0M129.4 283.3h0M130.6 284.9h0M137.3 284.5h0M127.6 289.2h0M136.9 287.5h0M133.2 292.5h0M136.0 289.9h0M135.3 297.8h0M139.2 297.0h0M132.0 290.6h0M127.3 290.0h0M135.8 297.9h0M136.7 297.7h0M126.2 290.0h0M134.9 296.5h0M126.6 289.5h0M137.4 291.4h0M131.9 288.4h0M124.2 288.6h0M140.0 285.6h0M139.6 290.9h0M144.2 298.5h0M125.7 288.6h0M136.6 298.2h0M128.7 289.8h0M137.7 292.4h0M142.9 295.9h0M139.0 289.2h0M137.0 289.8h0M131.7 287.0h0M130.5 290.5h0M136.8 296.1h0M140.1 291.0h0M126.3 294.1h0M132.0 286.0h0M128.4 295.3h0M127.3 283.8h0M139.1 295.7h0M130.8 285.9h0M134.2 286.9h0M143.2 291.4h0M134.1 284.4h0M138.1 300.2h0M131.0 285.2h0M133.3 291.9h0M130.8 298.2h0M128.6 288.4h0M133.7 297.5h0M128.7 279.5h0M123.1 285.9h0M135.2 282.3h0M137.1 291.2h0M147.8 289.6h0M121.6 275.3h0M130.9 290.4h0M131.0 284.9h0M139.1 294.2h0M133.1 293.1h0M147.8 291.0h0M142.4 297.8h0M137.0 286.9h0M133.1 287.0h0M128.8 282.4h0M128.1 292.0h0M128.7 289.7h0M134.9 290.5h0M129.4 289.5h0M123.7 287.3h0M130.6 287.1h0M135.5 287.7h0M138.6 290.0h0M135.2 286.9h0M128.9 286.7h0M136.4 281.7h0M131.4 287.5h0M129.7 289.9h0M129.5 291.0h0M116.5 282.6h0M133.2 292.9h0M131.5 291.4h0M136.7 290.8h0M132.7 291.0h0M126.5 292.8h0M121.8 285.0h0M131.0 290.0h0M136.6 292.7h0M133.2 285.3h0M138.2 290.3h0M126.5 293.6h0M158.6 295.3h0M139.8 289.1h0M125.3 287.4h0M128.5 290.9h0M122.3 282.9h0M140.1 293.7h0M139.0 292.2h0M130.9 287.6h0M138.5 294.6h0M127.2 282.1h0M125.2 287.4h0M134.4 293.7h0M140.2 292.6h0M134.5 282.9h0M146.6 290.9h0M146.2 292.7h0M140.3 285.0h0M139.6 295.2h0M121.4 282.4h0M135.0 285.9h0M116.9 279.4h0M129.6 293.1h0M136.2 282.3h0M138.4 286.0h0M127.1 290.5h0M125.7 292.9h0M132.5 283.9h0M144.4 283.3h0M146.8 291.4h0M122.4 284.7h0M153.6 280.6h0M125.4 278.3h0M125.8 280.6h0M124.1 288.4h0M122.0 280.7h0M129.1 288.8h0M114.5 288.1h0M145.3 294.1h0M128.9 291.3h0M127.5 288.9h0M131.3 284.1h0M125.1 282.2h0M138.3 292.0h0M133.4 281.6h0M118.1 285.1h0M127.7 291.0h0M148.1 296.8h0M136.2 289.3h0M121.1 286.6h0M131.4 281.5h0M132.2 281.8h0M125.7 299.3h0M124.4 286.4h0M135.8 295.0h0M126.7 291.6h0M125.1 286.2h0M121.9 281.8h0M125.3 289.2h0M113.4 283.5h0M133.3 287.8h0M125.5 294.0h0M150.5 294.1h0M141.1 292.2h0M134.8 287.4h0M141.3 294.1h0M142.6 283.5h0M137.3 290.9h0M129.0 290.0h0M133.4 289.0h0M136.7 290.8h0M140.4 297.1h0M127.0 291.0h0M135.0 288.3h0M133.2 299.3h0M126.1 285.4h0M137.3 296.3h0M136.3 286.2h0M147.9 294.8h0M150.3 296.5h0M131.7 287.9h0M141.7 296.1h0M132.6 294.1h0M130.0 281.7h0M131.9 289.2h0M132.5 287.7h0M136.6 286.3h0M139.4 293.4h0M140.1 291.0h0M149.0 285.2h0M131.3 286.7h0M134.4 297.0h0M124.6 297.7h0M136.1 297.1h0M129.9 282.1h0M128.6 290.0h0M129.1 280.9h0M145.9 289.0h0M124.8 280.5h0M138.4 292.3h0M119.7 297.8h0M120.5 284.0h0M132.6 292.5h0M135.4 284.5h0M128.8 281.0h0M151.1 287.4h0M117.9 279.9h0M130.7 283.6h0M128.0 289.1h0M144.4 286.0h0M141.4 285.2h0M124.2 286.6h0M130.1 288.5h0M138.4 287.4h0M139.3 288.9h0M132.3 289.9h0M138.7 286.7h0M137.6 283.7h0M135.9 292.5h0M136.5 287.5h0M140.3 293.0h0M138.3 281.5h0M124.6 294.1h0M139.0 289.9h0M140.2 288.3h0M126.6 284.6h0M132.5 288.9h0M129.4 290.6h0M139.6 290.1h0M132.2 290.4h0M131.0 294.9h0M135.6 293.9h0M131.8 285.4h0M115.2 292.9h0M126.1 290.1h0M143.4 283.0h0M121.0 291.3h0M135.4 281.1h0M133.8 287.2h0M119.9 291.8h0M134.3 290.8h0M127.6 287.9h0M145.5 291.0h0M134.5 291.9h0M138.2 287.5h0M134.5 302.4h0M134.1 283.7h0M136.6 295.8h0M117.8 299.6h0M139.8 295.1h0M125.9 290.4h0M139.0 295.8h0M137.7 293.1h0M132.1 292.7h0M123.3 286.1h0M137.5 293.2h0M133.9 290.7h0M137.4 289.0h0M133.0 294.4h0M139.2 291.2h0M121.8 282.3h0M136.1 293.1h0M127.5 290.5h0M134.4 296.2h0M133.3 297.0h0M136.1 293.7h0M131.6 278.1h0M136.7 298.5h0M136.3 298.2h0M135.4 285.7h0M140.2 284.6h0M134.6 290.1h0M130.9 285.9h0M128.3 283.1h0M122.2 280.0h0M138.2 289.0h0M145.9 287.5h0M121.7 287.8h0M136.6 290.2h0M154.8 293.7h0M131.4 290.4h0M135.2 285.6h0M138.7 294.8h0M133.4 284.2h0M140.0 284.1h0M135.0 295.2h0M126.5 292.4h0M133.0 288.2h0M132.8 288.2h0M125.2 297.2h0M144.4 284.3h0M136.9 288.3h0M129.0 280.3h0M136.2 288.5h0M136.8 288.7h0M129.7 296.8h0M147.5 291.2h0M146.3 286.7h0M138.5 293.1h0M120.7 290.0h0M126.9 292.3h0M122.5 282.5h0M147.8 285.5h0M125.2 285.4h0M146.0 289.6h0M143.2 287.6h0M155.7 288.6h0M129.3 282.5h0M133.3 286.5h0M139.2 286.4h0M150.7 294.7h0M140.0 293.6h0M132.6 290.5h0M135.9 297.7h0M135.7 288.1h0M118.6 291.9h0M140.6 296.7h0M138.4 292.1h0M136.1 285.8h0M140.0 286.6h0M127.7 289.4h0M131.9 296.3h0M137.3 288.4h0M141.6 296.5h0M133.8 285.6h0M145.0 294.9h0M130.4 284.1h0M128.9 284.8h0M134.7 296.1h0M128.6 281.4h0M140.3 291.9h0M145.2 298.9h0M127.3 291.5h0M141.5 288.3h0M131.6 286.6h0M122.7 287.4h0M131.2 280.5h0M133.0 287.9h0M150.8 302.9h0M134.6 288.1h0M136.0 293.9h0M130.4 293.4h0M137.4 288.6h0M122.1 280.5h0M123.4 287.6h0M130.9 296.5h0M132.3 288.6h0M135.0 295.7h0M122.6 295.1h0M148.9 295.2h0M142.1 284.0h0M127.4 288.9h0M144.1 291.0h0M132.1 288.9h0M129.5 291.8h0M132.4 282.4h0M129.3 284.5h0M126.9 286.8h0M134.0 283.1h0M133.2 282.6h0M124.4 280.9h0M116.9 285.1h0M139.5 293.5h0M141.5 284.6h0M124.1 289.9h0M137.2 285.1h0M125.9 290.8h0M138.9 285.7h0M135.6 286.5h0M128.1 294.3h0M132.3 292.4h0M129.7 282.6h0M136.4 298.0h0M135.9 298.2h0M138.6 301.0h0M136.7 291.6h0M133.4 295.3h0M147.7 294.9h0M130.8 287.4h0M120.3 286.2h0M132.7 282.7h0M134.5 296.5h0M124.3 288.7h0M132.8 285.8h0M125.4 297.5h0M123.2 293.1h0M121.8 287.9h0M123.6 287.6h0M138.4 294.4h0M134.4 288.1h0M144.1 282.4h0M141.1 287.9h0M151.0 289.4h0M151.3 299.4h0M128.5 282.8h0M134.4 283.2h0M126.7 286.6h0M145.2 290.8h0M132.8 292.8h0M138.5 296.9h0M128.3 289.7h0M136.2 287.8h0M137.2 283.1h0M125.9 284.2h0M143.9 287.7h0M134.6 295.7h0M124.1 287.5h0M121.3 282.6h0M130.9 285.6h0M135.9 286.7h0M135.0 296.1h0M129.4 295.8h0M149.2 291.6h0M126.3 290.0h0M123.6 293.3h0M138.8 283.6h0M131.3 295.2h0M135.3 293.2h0M123.8 285.8h0M115.1 292.2h0M146.8 297.6h0M129.0 289.1h0M130.6 287.4h0M135.8 293.4h0M136.3 286.6h0M126.0 284.0h0M130.5 291.0h0M131.3 289.1h0M143.1 292.8h0M139.4 292.0h0M132.4 286.7h0M141.4 294.5h0M138.4 302.1h0M147.0 295.5h0M127.9 289.6h0M134.2 295.8h0M127.8 286.1h0M130.8 289.4h0M142.5 296.2h0M132.2 290.5h0M139.4 285.3h0M134.4 292.0h0M142.3 289.4h0M130.2 286.3h0M130.7 288.2h0M150.5 293.9h0M137.2 289.4h0M153.5 285.8h0M126.6 296.8h0M123.4 286.2h0M144.5 291.2h0M121.4 282.5h0M121.7 290.5h0M135.5 290.3h0M141.3 287.5h0M129.6 294.1h0M134.3 286.4h0M134.2 290.4h0M141.9 288.4h0M139.8 292.2h0M130.4 296.5h0M135.2 293.5h0M133.3 293.6h0M138.0 280.9h0M135.9 295.3h0M133.0 287.7h0M135.1 283.5h0M135.3 294.2h0M132.5 290.9h0M130.4 292.1h0M126.9 282.1h0M128.8 280.7h0M142.5 299.6h0M130.6 299.9h0M132.8 302.9h0M120.3 284.5h0M149.2 294.8h0M137.8 288.3h0M117.7 292.7h0M129.9 289.7h0M137.3 297.6h0M138.5 285.9h0M141.0 281.7h0M135.3 284.1h0M131.3 285.6h0M130.6 299.0h0M124.8 281.8h0M136.5 291.0h0M135.5 290.1h0M130.0 278.6h0M129.4 293.9h0M106.8 278.5h0M129.6 290.3h0M127.9 283.9h0M136.0 292.6h0M133.5 295.6h0M126.5 292.3h0M137.0 298.5h0M135.0 293.1h0M133.6 288.8h0M132.5 288.3h0M145.4 291.1h0M123.4 281.3h0M137.3 301.4h0M145.5 291.4h0M133.8 288.5h0M134.8 291.8h0M140.5 289.9h0M134.9 288.8h0M136.4 289.9h0M131.7 292.7h0M135.5 294.7h0M128.1 287.3h0M132.9 288.1h0M134.9 287.4h0M143.6 302.3h0M134.6 290.5h0M135.8 289.2h0M136.6 277.6h0M140.8 287.0h0M129.3 290.0h0M140.9 288.7h0M130.0 287.5h0M140.3 294.4h0M121.5 288.9h0M133.0 285.6h0M134.1 291.1h0M127.4 280.3h0M151.2 289.7h0M138.6 283.9h0M127.8 282.8h0M147.5 301.3h0M144.9 297.3h0M134.5 286.0h0M131.2 289.8h0M136.8 284.6h0M145.8 294.7h0M136.5 293.1h0M133.6 292.4h0M120.7 288.1h0M126.8 279.8h0M121.9 296.1h0M134.3 283.4h0M119.1 286.5h0M128.9 286.0h0M145.9 291.7h0M140.9 301.4h0M128.6 285.5h0M127.4 298.4h0M135.0 289.6h0M134.8 296.6h0M143.0 294.9h0M136.8 295.1h0M132.8 286.1h0M135.2 285.8h0M118.5 289.9h0M133.6 290.5h0M137.5 296.1h0M125.5 284.7h0M124.9 290.5h0M128.5 293.7h0M126.9 291.8h0M117.3 281.7h0M118.2 283.1h0M149.4 285.3h0M130.5 291.0h0M140.7 289.5h0M134.7 291.6h0M137.0 290.0h0M142.9 290.8h0M145.2 296.3h0M127.2 290.6h0M134.9 283.8h0M145.4 292.3h0M137.3 293.8h0M124.1 281.6h0M127.3 285.9h0M143.8 287.3h0M119.3 287.4h0M126.7 289.9h0M136.2 286.4h0M126.3 292.1h0M136.7 290.7h0M141.4 290.0h0M137.7 292.4h0M133.4 284.8h0M135.1 290.0h0M132.5 283.3h0M126.8 291.7h0M144.6 291.8h0M131.5 285.6h0M129.3 291.4h0M139.9 290.4h0M135.5 290.3h0M134.9 290.9h0M138.6 298.5h0M125.3 286.4h0M136.7 291.3h0M127.9 299.4h0M122.5 290.7h0M143.4 294.6h0M135.7 291.7h0M134.1 285.0h0M122.5 273.9h0M138.8 289.0h0M143.3 285.4h0M144.5 286.8h0M147.0 289.2h0M133.1 290.4h0M126.4 282.2h0M139.0 290.5h0M139.5 287.2h0M137.3 292.7h0M138.9 288.1h0M135.7 293.7h0M139.0 289.0h0M140.3 286.9h0M124.7 295.2h0M143.1 297.5h0M133.7 292.6h0M145.6 295.0h0M131.6 288.6h0M133.0 283.4h0M131.7 296.4h0M136.9 288.7h0M146.3 295.0h0M142.7 298.0h0M121.5 287.0h0M135.8 289.5h0M136.5 286.7h0M139.3 293.2h0M137.6 288.8h0M129.9 291.6h0M142.3 292.4h0M130.0 281.0h0M129.4 283.6h0M134.7 288.1h0M134.1 283.3h0M143.8 296.9h0M140.9 287.5h0M130.4 292.7h0M140.0 288.0h0M132.6 297.0h0M134.8 291.2h0M130.0 291.9h0M124.5 299.5h0M137.5 293.4h0M130.0 288.4h0M125.9 294.6h0M141.6 290.8h0M134.9 291.5h0M136.2 290.5h0M117.4 287.0h0M140.9 293.2h0M127.1 282.6h0M132.3 286.3h0M115.8 273.9h0M138.0 289.8h0M132.0 289.6h0M131.8 285.9h0M130.6 284.2h0M133.8 291.1h0M134.0 282.9h0M134.1 289.1h0M144.9 293.7h0M131.1 296.6h0M136.8 288.6h0M143.8 292.8h0M121.0 286.9h0M133.4 286.5h0M117.2 285.7h0M132.0 286.1h0M126.2 281.7h0M129.4 285.3h0M129.0 294.2h0M139.9 293.7h0M139.3 286.9h0M138.3 288.3h0M125.1 291.5h0M139.3 291.2h0M115.7 294.0h0M129.1 282.2h0M134.9 281.9h0M130.8 293.4h0M136.9 290.7h0M135.4 292.1h0M139.2 285.0h0M139.3 287.3h0M133.6 289.9h0M146.9 297.3h0M145.0 303.1h0M123.2 293.0h0M126.1 289.7h0M138.6 289.1h0M131.9 290.8h0M127.9 285.5h0M134.9 289.0h0M139.1 278.7h0M122.7 281.0h0M127.5 286.2h0M124.7 284.2h0M134.5 289.4h0M133.2 290.4h0M140.0 295.6h0M112.5 279.1h0M112.7 279.6h0M110.4 279.2h0M111.6 279.2h0M112.2 279.0h0M113.2 278.4h0M110.9 278.3h0M110.3 279.0h0M113.3 279.0h0M112.3 278.9h0M113.6 278.9h0M112.0 278.7h0" stroke="#33A6DD" stroke-width="1.15" stroke-linecap="round" fill="none"/>
<rect x="103.4" y="244.4" width="65.1" height="60.4" fill="none" stroke="#7a7a7a" stroke-width="0.75"/>
<text x="141.3" y="241.8" font-size="8.9" fill="#222" text-anchor="middle" textLength="31.8" lengthAdjust="spacingAndGlyphs">Relapse</text>
<line x1="106.4" y1="304.8" x2="106.4" y2="306.8" stroke="#7a7a7a" stroke-width="0.6"/>
<text x="104.4" y="316.2" font-size="7.3" fill="#333" stroke="#333" stroke-width="0.1" text-anchor="middle">−40</text>
<line x1="121" y1="304.8" x2="121" y2="306.8" stroke="#7a7a7a" stroke-width="0.6"/>
<text x="119" y="316.2" font-size="7.3" fill="#333" stroke="#333" stroke-width="0.1" text-anchor="middle">−20</text>
<line x1="135.9" y1="304.8" x2="135.9" y2="306.8" stroke="#7a7a7a" stroke-width="0.6"/>
<text x="136.2" y="316.2" font-size="7.3" fill="#333" stroke="#333" stroke-width="0.1" text-anchor="middle">0</text>
<line x1="150.6" y1="304.8" x2="150.6" y2="306.8" stroke="#7a7a7a" stroke-width="0.6"/>
<text x="150.9" y="316.2" font-size="7.3" fill="#333" stroke="#333" stroke-width="0.1" text-anchor="middle">20</text>
<line x1="165.5" y1="304.8" x2="165.5" y2="306.8" stroke="#7a7a7a" stroke-width="0.6"/>
<text x="165.8" y="316.2" font-size="7.3" fill="#333" stroke="#333" stroke-width="0.1" text-anchor="middle">40</text>
<ellipse cx="197.7" cy="260.7" rx="8.2" ry="8.2" fill="#0A6A4E" opacity="0.6" filter="url(#bl)" transform="rotate(0 197.7 260.7)"/>
<ellipse cx="182.8" cy="268.0" rx="4.4" ry="4.1" fill="#0A6A4E" opacity="0.5" filter="url(#bl)" transform="rotate(0 182.8 268.0)"/>
<path d="M202.4 271.8h0M205.1 278.1h0M213.3 266.9h0M202.6 271.8h0M218.6 265.8h0M198.9 271.8h0M214.2 278.8h0M203.6 278.0h0M196.6 276.6h0M201.2 269.6h0M213.2 278.5h0M199.9 271.0h0M207.0 264.3h0M190.1 270.3h0M193.9 269.0h0M199.7 274.0h0M207.1 273.6h0M199.1 277.2h0M217.5 273.6h0M199.7 276.9h0M194.0 271.0h0M208.4 274.1h0M201.6 270.2h0M196.4 273.7h0M207.3 272.6h0M209.6 264.9h0M217.2 266.0h0M206.6 275.9h0M207.2 273.7h0M198.5 271.3h0" stroke="#0A6A4E" stroke-width="0.9" stroke-linecap="round" opacity="0.7" fill="none"/>
<path d="M211.1 271.4h0M229.8 276.7h0M234.0 274.4h0M214.9 277.7h0M222.4 277.9h0M230.8 280.8h0M209.0 274.8h0M221.6 263.6h0M215.0 265.5h0M229.5 271.4h0M232.2 272.6h0M219.6 279.4h0M221.5 263.4h0M216.1 259.0h0M228.5 278.3h0M212.5 280.3h0M216.8 270.2h0M222.5 282.2h0M217.6 272.8h0M229.8 271.6h0M229.0 265.4h0M219.4 269.5h0M214.9 260.5h0M212.4 263.2h0M212.2 265.4h0M211.9 281.6h0M234.5 272.7h0M203.6 269.5h0M213.5 262.8h0M211.8 270.6h0M221.8 275.9h0M217.3 262.7h0M218.2 275.6h0M227.6 265.6h0M221.9 272.4h0M230.2 278.6h0M221.5 275.8h0M201.6 268.1h0M226.6 265.1h0M217.5 261.1h0M232.6 262.1h0M198.0 264.7h0M226.1 273.8h0M227.4 266.4h0M208.1 272.2h0M210.0 270.3h0M225.3 273.0h0M224.3 261.5h0M217.1 282.9h0M217.6 262.1h0M219.0 276.4h0M223.0 259.3h0M214.6 269.0h0M232.7 270.8h0M206.2 272.6h0M214.0 272.2h0M217.9 274.0h0" stroke="#C8192E" stroke-width="0.9" stroke-linecap="round" opacity="0.7" fill="none"/>
<path d="M203.5 278.7h0M192.7 285.2h0M200.4 285.4h0M192.0 285.0h0M203.8 286.2h0M206.5 282.2h0M200.1 284.3h0M198.2 283.6h0" stroke="#33A6DD" stroke-width="0.9" stroke-linecap="round" opacity="0.7" fill="none"/>
<path d="M207.6 256.7h0M191.7 258.5h0M191.3 268.9h0M202.5 264.2h0M205.4 257.4h0M190.5 262.6h0M199.4 256.1h0M200.6 268.7h0M194.7 261.8h0M199.6 263.3h0M203.3 263.9h0M205.3 256.3h0M195.1 265.2h0M195.2 257.7h0M197.4 262.6h0M194.9 263.9h0M205.3 251.0h0M185.1 264.8h0M193.3 268.6h0M213.4 259.9h0M195.6 260.7h0M199.2 260.5h0M192.7 263.0h0M186.6 262.8h0M198.2 267.8h0M198.6 263.3h0M192.5 261.7h0M201.9 266.3h0M198.3 269.3h0M204.7 257.2h0M184.1 254.7h0M198.0 261.6h0M196.1 258.4h0M201.2 257.5h0M186.0 259.0h0M203.2 256.1h0M201.2 263.8h0M197.6 262.9h0M192.6 261.0h0M205.9 260.3h0M191.6 268.7h0M190.2 269.7h0M198.2 264.1h0M199.6 260.8h0M203.6 260.3h0M193.2 261.0h0M188.1 259.9h0M188.0 260.8h0M201.7 264.2h0M196.9 246.1h0M195.1 267.7h0M194.3 263.7h0M194.1 269.4h0M186.2 258.0h0M195.7 263.6h0M197.9 261.7h0M185.2 271.6h0M198.8 257.3h0M205.3 254.7h0M199.6 266.2h0M202.0 262.1h0M197.3 255.3h0M199.6 253.8h0M203.6 265.5h0M197.9 250.4h0M201.3 264.3h0M191.9 258.6h0M198.6 264.7h0M195.8 256.4h0M195.0 255.6h0M207.5 270.8h0M186.6 258.7h0M206.3 268.4h0M208.5 267.6h0M200.3 262.5h0M205.4 263.2h0M188.8 261.6h0M188.0 265.3h0M199.6 260.1h0M199.2 251.4h0M194.9 257.5h0M198.3 259.6h0M198.7 262.0h0M190.1 254.1h0M203.9 256.1h0M196.8 265.1h0M195.9 272.5h0M192.7 257.4h0M186.6 265.3h0M195.5 264.1h0M200.5 274.0h0M200.7 258.5h0M195.2 265.1h0M187.2 258.0h0M189.3 255.5h0M204.2 255.8h0M195.2 265.3h0M189.2 261.3h0M191.1 261.8h0M195.2 266.2h0M197.2 263.3h0M205.6 260.3h0M205.0 264.6h0M202.8 256.8h0M198.9 261.6h0M201.8 266.9h0M203.3 264.2h0M194.9 258.3h0M200.5 254.6h0M195.9 260.3h0M200.3 263.9h0M191.4 264.4h0M187.4 257.3h0M202.8 259.2h0M200.1 274.4h0M196.6 259.8h0M186.3 262.6h0M205.5 261.9h0M198.2 276.9h0M198.6 261.7h0M198.4 255.3h0M201.9 267.8h0M203.7 265.4h0M193.7 258.2h0M213.2 254.1h0M190.2 260.6h0M189.5 254.1h0M189.7 254.4h0M196.5 264.7h0M198.4 264.9h0M195.5 246.2h0M193.3 251.3h0M198.9 263.5h0M194.2 259.8h0M200.9 267.0h0M193.5 265.6h0M194.8 265.3h0M182.9 258.3h0M199.5 253.7h0M183.6 253.9h0M196.0 262.9h0M200.8 260.4h0M189.1 254.5h0M200.2 265.5h0M198.1 271.1h0M194.1 260.5h0M198.6 259.4h0M190.2 253.2h0M197.8 262.9h0M207.5 261.0h0M182.4 252.9h0M188.5 255.5h0M200.2 262.3h0M199.3 252.9h0M195.6 260.5h0M209.1 267.9h0M196.6 265.5h0M198.4 259.1h0M195.7 251.1h0M206.2 261.4h0M191.1 258.2h0M194.4 259.7h0M194.9 269.6h0M188.3 266.4h0M196.9 265.9h0M194.7 255.3h0M198.7 272.3h0M190.9 264.7h0M205.6 263.5h0M197.1 271.9h0M198.1 265.3h0M199.1 263.8h0M195.1 256.8h0M204.6 261.1h0M201.0 254.7h0M203.0 268.1h0M198.8 252.1h0M202.1 251.9h0M200.9 265.4h0M190.7 257.0h0M190.0 255.9h0M189.8 251.4h0M188.0 264.3h0M198.7 266.7h0M195.8 268.2h0M190.6 260.1h0M196.1 254.2h0M192.5 253.4h0M197.6 256.4h0M199.6 262.2h0M196.3 256.5h0M195.6 264.8h0M198.5 258.5h0M195.9 270.3h0M195.4 259.3h0M201.2 258.2h0M189.9 256.3h0M195.4 260.3h0M196.3 255.3h0M198.0 264.3h0M190.6 272.2h0M191.7 269.3h0M205.3 267.5h0M203.0 254.6h0M194.1 264.2h0M192.7 264.9h0M191.8 254.1h0M198.3 258.0h0M199.7 257.6h0M189.0 263.3h0M190.9 258.7h0M204.4 268.9h0M194.9 259.0h0M197.9 265.7h0M205.2 259.3h0M194.7 256.5h0M195.1 265.8h0M188.1 252.6h0M185.6 260.0h0M201.9 258.8h0M191.2 259.9h0M197.7 264.3h0M197.8 255.1h0M198.6 268.7h0M192.9 261.7h0M197.9 260.4h0M183.6 265.7h0M192.6 259.2h0M186.2 254.3h0M188.2 259.1h0M200.5 260.9h0M198.3 262.0h0M201.9 261.6h0M200.6 255.5h0M200.5 256.7h0M197.4 247.4h0M194.8 263.7h0M196.4 254.3h0M201.8 253.0h0M196.1 259.7h0M195.2 266.1h0M191.9 267.8h0M204.3 262.3h0M200.1 256.7h0M193.3 263.6h0M199.4 267.1h0M196.1 264.3h0M190.9 264.5h0M201.4 265.3h0M193.2 254.4h0M195.9 261.0h0M203.6 265.7h0M198.5 246.6h0M208.9 269.2h0M200.8 265.1h0M198.8 261.8h0M198.0 258.0h0M208.3 254.0h0M199.6 250.1h0M200.7 263.7h0M190.9 270.2h0M199.0 269.3h0M202.1 255.1h0M193.8 268.0h0M188.1 272.0h0M203.2 260.6h0M195.5 267.7h0M187.5 265.1h0M186.5 265.1h0M201.2 259.5h0M193.9 257.8h0M200.0 262.3h0M194.9 261.8h0M199.2 268.1h0M193.6 261.5h0M189.2 265.3h0M190.6 259.6h0M200.6 260.3h0M192.6 255.4h0M202.2 265.3h0M192.8 271.6h0M194.1 260.0h0M200.3 262.7h0M198.7 255.5h0M200.5 255.0h0M192.9 253.5h0M194.2 259.9h0M197.5 257.8h0M201.1 263.3h0M199.0 260.1h0M184.5 264.5h0M192.4 258.2h0M197.5 262.1h0M196.0 261.9h0M195.8 253.1h0M193.8 254.6h0M187.3 259.9h0M200.1 259.7h0M190.5 257.9h0M199.7 251.9h0M192.2 257.8h0M189.4 257.6h0M186.9 254.5h0M201.5 277.1h0M195.3 265.6h0M191.3 259.0h0M197.0 258.0h0M200.8 264.3h0M197.3 255.5h0M194.9 259.9h0M194.2 260.9h0M197.3 261.8h0M195.9 263.6h0M205.9 257.1h0M201.9 256.3h0M197.4 250.1h0M198.2 253.0h0M188.4 259.3h0M208.0 256.6h0M191.9 263.3h0M201.2 250.1h0M204.3 255.4h0M185.8 260.3h0M199.8 258.1h0M197.2 270.0h0M194.4 262.0h0M202.3 257.9h0M193.8 256.6h0M194.1 256.2h0M197.2 252.0h0M203.2 264.0h0M191.3 260.7h0M195.6 264.8h0M197.0 258.7h0M202.7 256.8h0M197.0 267.2h0M190.6 256.9h0M195.7 274.2h0M201.5 267.9h0M198.3 257.8h0M201.8 267.0h0M195.2 263.1h0M204.6 262.4h0M196.6 251.6h0M201.1 263.4h0M195.2 259.6h0M189.1 264.6h0M199.0 255.9h0M204.7 263.0h0M196.5 273.1h0M206.4 265.6h0M189.7 257.8h0M195.7 256.1h0M197.9 262.3h0M200.0 263.8h0M190.2 262.2h0M193.3 261.7h0M206.9 267.5h0M195.9 260.8h0M205.1 270.6h0M200.5 266.4h0M199.4 264.3h0M196.0 264.3h0M197.5 258.1h0M190.3 258.3h0M197.7 261.3h0M205.1 258.8h0M198.1 256.7h0M204.5 272.0h0M203.8 260.3h0M195.8 257.8h0M193.9 263.1h0M192.0 261.1h0M195.8 267.2h0M196.2 262.8h0M201.4 253.0h0M187.7 256.7h0M198.4 256.3h0M204.7 255.1h0M197.3 262.8h0M190.6 255.6h0M192.8 271.7h0M200.6 253.8h0M197.9 266.4h0M186.6 269.3h0M192.0 262.0h0M192.1 258.9h0M190.9 250.1h0M195.2 263.5h0M196.3 270.4h0M199.0 263.4h0M203.8 265.0h0M194.1 260.7h0M192.4 263.5h0M194.5 256.3h0M201.8 256.6h0M202.7 258.3h0M202.3 261.3h0M189.1 255.2h0M200.1 259.7h0M203.1 271.8h0M197.8 251.4h0M199.6 266.1h0M200.5 263.6h0M199.1 256.7h0M198.9 259.0h0M198.1 259.3h0M200.1 254.1h0M202.2 271.7h0M188.0 254.5h0M203.0 256.5h0M197.3 260.4h0M190.3 260.4h0M208.4 266.4h0M204.6 250.5h0M196.9 259.2h0M207.3 262.4h0M199.3 261.0h0M199.8 252.9h0M198.7 257.4h0M199.4 267.6h0M196.1 252.8h0M201.2 254.1h0M187.2 268.4h0M208.1 255.1h0M196.8 273.9h0M190.0 255.9h0M192.8 266.7h0M202.0 258.5h0M196.8 265.9h0M200.6 267.7h0M208.3 260.9h0M208.4 265.1h0M195.4 263.8h0M193.8 264.0h0M200.6 261.4h0M206.8 255.2h0M201.8 259.4h0M200.7 264.8h0M206.7 262.4h0M204.5 266.2h0M204.6 265.1h0M192.7 270.3h0M200.9 267.1h0M196.5 259.5h0M199.8 259.0h0M199.9 265.7h0M201.6 267.4h0M189.6 255.6h0M197.6 266.0h0M204.4 263.4h0M209.6 255.5h0M202.0 259.1h0M190.3 259.1h0M193.6 250.6h0M195.0 260.9h0M196.0 269.0h0M191.4 267.6h0M198.1 254.0h0M195.4 261.8h0M201.2 252.5h0M198.5 262.4h0M204.8 262.2h0M193.3 264.8h0M205.0 260.8h0M191.9 262.8h0M199.1 264.0h0M193.8 259.5h0M206.6 264.0h0M191.0 261.3h0M187.7 258.5h0M194.9 258.6h0M201.3 257.2h0M188.4 264.7h0M214.1 261.8h0M202.5 264.7h0M190.8 263.3h0M198.2 258.5h0M202.6 260.5h0M187.6 260.7h0M183.8 256.0h0M193.2 256.6h0M188.6 264.4h0M205.0 264.9h0M201.8 270.8h0M190.8 264.8h0M190.5 258.4h0M196.2 264.5h0M195.4 269.0h0M195.8 261.4h0M196.1 256.5h0M194.8 258.1h0M202.0 262.8h0M192.8 263.1h0M196.0 259.6h0M202.0 259.7h0M202.8 256.4h0M194.0 263.0h0M193.9 263.9h0M191.0 260.9h0M195.6 255.5h0M201.5 262.4h0M191.9 254.9h0M203.6 257.4h0M193.4 263.6h0M208.9 259.5h0M201.3 268.4h0M193.0 267.0h0M197.5 258.9h0M199.5 262.6h0M198.2 255.9h0M194.0 253.3h0M192.6 255.9h0M193.7 263.1h0M195.8 259.1h0M196.8 255.3h0M202.6 254.6h0M205.9 262.7h0M203.8 269.8h0M200.4 254.7h0M192.7 261.8h0M198.6 249.7h0M198.6 251.5h0M196.5 254.6h0M200.4 253.0h0M206.5 261.1h0M215.8 262.7h0M198.1 256.7h0M187.6 260.0h0M199.7 264.7h0M190.2 268.1h0M198.6 262.7h0M200.6 259.9h0M202.7 253.4h0M194.7 263.9h0M200.0 261.2h0M200.4 269.7h0M196.9 260.8h0M201.2 264.8h0M194.8 260.9h0M201.8 256.5h0M204.4 257.1h0M195.9 266.7h0M205.0 263.8h0M191.3 255.6h0M192.3 261.5h0M201.1 256.9h0M201.7 263.0h0M197.8 259.8h0M185.9 258.1h0M201.0 254.5h0M187.6 264.7h0M192.9 259.4h0M191.4 262.3h0M200.3 266.8h0M194.3 270.0h0M185.8 263.1h0M198.2 253.8h0M202.1 254.1h0M199.4 262.9h0M202.1 264.4h0M186.5 255.2h0M198.7 250.3h0M203.7 263.4h0M203.8 263.2h0M207.0 257.3h0M202.8 267.4h0M191.6 271.8h0M202.5 260.2h0M195.5 265.1h0M201.5 248.1h0M200.1 258.7h0M196.2 248.5h0M200.0 265.1h0M200.9 263.3h0M193.5 263.4h0M194.3 262.7h0M200.3 261.6h0M206.2 255.5h0M188.1 265.7h0M193.8 254.1h0M200.6 263.8h0M189.3 259.0h0M202.8 272.3h0M195.3 269.4h0M201.1 258.9h0M188.2 259.1h0M196.7 264.2h0M194.6 261.2h0M204.3 269.4h0M187.0 250.6h0M193.8 261.0h0M205.5 247.5h0M191.5 261.7h0M194.5 263.9h0M199.5 270.6h0M194.9 259.0h0M199.9 259.3h0M200.3 257.3h0M204.5 263.6h0M198.9 260.4h0M190.7 262.3h0M197.8 256.0h0M201.2 260.9h0M205.7 265.1h0M193.1 261.1h0M206.1 261.5h0M199.2 269.0h0M190.7 255.2h0M200.5 260.9h0M205.2 255.3h0M191.9 252.1h0M201.0 275.8h0M201.7 272.1h0M196.5 255.6h0M209.1 261.7h0M198.7 264.6h0M202.4 260.9h0M201.1 259.3h0M191.1 263.4h0M193.9 263.6h0M190.4 255.9h0M191.3 265.4h0M200.2 256.6h0M196.9 260.6h0M208.3 257.8h0M191.2 263.1h0M186.5 262.0h0M196.9 248.6h0M190.6 266.0h0M202.8 264.9h0M191.9 259.9h0M190.1 265.8h0M190.3 261.2h0M201.5 267.9h0M199.8 266.8h0M203.0 257.6h0M191.6 254.9h0M198.4 247.2h0M212.4 264.3h0M200.3 259.3h0M198.4 265.7h0M197.0 255.7h0M205.6 258.4h0M201.5 260.9h0M194.4 247.6h0M204.4 254.5h0M199.9 257.0h0M203.6 262.3h0M190.5 259.2h0M207.6 263.3h0M206.1 262.6h0M207.8 255.6h0M202.5 261.7h0M196.8 254.7h0M186.3 262.7h0M199.3 252.6h0M195.2 260.9h0M200.1 257.5h0M195.2 262.4h0M197.7 254.0h0M201.0 258.1h0M199.7 263.0h0M201.1 256.9h0M196.9 265.7h0M182.3 256.8h0M186.7 259.1h0M196.2 264.0h0M204.8 259.1h0M205.5 255.0h0M200.0 264.9h0M204.1 248.2h0M205.5 266.3h0M193.1 257.5h0M191.8 254.4h0M203.4 254.8h0M191.6 263.1h0M197.7 269.2h0M196.2 265.2h0M197.7 269.1h0M200.7 267.0h0M197.2 259.1h0M187.9 265.6h0M194.7 260.6h0M205.1 258.6h0M194.5 255.1h0M204.7 263.0h0M204.7 259.0h0M193.8 266.0h0M195.9 250.4h0M200.9 260.7h0M199.3 269.1h0M198.6 255.8h0M193.6 256.0h0M199.5 267.9h0M200.2 252.8h0M194.5 255.4h0M197.2 257.5h0M196.7 259.8h0M194.0 250.8h0M200.5 260.7h0M205.3 266.9h0M197.9 254.1h0M197.8 256.2h0M197.5 256.8h0M207.0 258.8h0M201.0 254.1h0M198.4 268.2h0M198.8 257.2h0M201.4 261.9h0M202.9 267.1h0M196.2 271.4h0M205.7 264.1h0M193.1 266.9h0M197.0 262.7h0M197.1 248.4h0M202.0 254.2h0M196.1 258.8h0M201.0 257.2h0M196.0 264.6h0M197.5 255.2h0M190.0 259.9h0M201.3 258.7h0M192.0 257.0h0M203.2 250.1h0M191.9 252.0h0M194.5 260.6h0M195.5 258.5h0M188.4 260.3h0M201.2 254.8h0M208.5 261.2h0M198.9 265.5h0M183.9 264.1h0M201.7 253.4h0M202.5 266.6h0M195.1 274.1h0M204.1 263.6h0M193.5 262.5h0M200.7 263.1h0M189.0 258.5h0M199.6 257.3h0M196.4 262.9h0M196.8 255.7h0M189.4 269.4h0M201.4 265.2h0M198.5 261.0h0M203.5 266.6h0M195.1 255.7h0M202.4 251.6h0M201.8 255.6h0M191.7 260.5h0M188.8 258.4h0M197.2 265.1h0M199.0 255.3h0M191.6 261.6h0M192.2 256.9h0M199.5 259.4h0M200.1 249.0h0M191.1 261.5h0M198.0 250.2h0M198.8 251.7h0M187.9 264.6h0M193.3 264.0h0M195.7 273.1h0M201.8 256.6h0M199.8 252.2h0M201.7 254.4h0M194.9 268.0h0M200.8 253.3h0M203.8 247.7h0M201.7 267.9h0M199.3 259.6h0M207.2 263.8h0M201.4 255.0h0M190.5 258.6h0M193.6 260.7h0M194.7 265.1h0M207.0 260.6h0M191.3 265.4h0M205.9 260.3h0M194.5 256.7h0M189.8 260.7h0M204.2 260.8h0M193.3 257.5h0M199.2 260.9h0M197.3 255.7h0M195.7 257.2h0M191.3 263.2h0M196.7 260.9h0M195.5 269.0h0M191.1 265.9h0M198.4 254.6h0M201.8 264.0h0M201.3 260.4h0M204.5 267.0h0M201.0 253.9h0M193.4 246.2h0M206.0 261.7h0M184.4 272.4h0M178.7 267.9h0M183.4 266.6h0M184.8 264.7h0M183.1 267.3h0M184.1 264.7h0M181.9 267.3h0M184.2 266.2h0M182.1 269.2h0M184.3 262.9h0M184.0 266.8h0M181.7 266.9h0M178.9 268.0h0M185.4 266.2h0M178.6 271.2h0M182.6 267.7h0M181.6 269.4h0M181.9 267.5h0M183.3 277.7h0M180.6 264.9h0M184.2 267.3h0M182.6 268.4h0M182.4 271.8h0M178.0 266.9h0M179.2 267.8h0M183.0 267.2h0M182.8 263.5h0M182.3 268.4h0M183.3 271.9h0M189.0 269.7h0M181.8 268.1h0M182.8 269.4h0M185.4 265.5h0M188.1 265.8h0M184.6 265.9h0M180.4 267.3h0M183.6 266.8h0M179.1 264.1h0M185.2 266.5h0M179.6 273.1h0M184.9 276.7h0M180.7 268.7h0M181.5 266.9h0M185.1 272.5h0M183.5 267.4h0M180.1 271.0h0M184.5 268.5h0M182.2 267.9h0M178.6 264.0h0M183.0 268.0h0M186.5 269.7h0M182.9 270.9h0M186.3 269.4h0M179.9 269.8h0M183.2 268.2h0M179.1 267.3h0M186.7 268.0h0M184.5 266.8h0M185.3 268.1h0M176.6 268.8h0M182.1 269.5h0M178.4 264.6h0M184.6 272.3h0M179.8 267.2h0M180.8 270.3h0M184.8 262.2h0M180.4 270.0h0M182.0 267.9h0M185.2 267.1h0M185.7 267.2h0M184.2 270.3h0M184.6 268.1h0M183.4 267.0h0M184.7 266.3h0M186.9 264.0h0M181.8 273.5h0M181.9 270.8h0M184.1 265.9h0M182.8 266.7h0M181.5 266.7h0M180.7 272.3h0M178.2 268.1h0M184.3 266.8h0M182.4 269.1h0M189.3 265.7h0M188.2 264.2h0M181.5 268.7h0M179.2 267.7h0M180.4 267.7h0M183.6 269.0h0M183.9 265.0h0M183.7 267.0h0M187.3 271.0h0M180.6 266.4h0M183.1 269.6h0M181.7 267.3h0M182.5 263.4h0M180.7 269.7h0M187.9 269.5h0M183.3 266.2h0M182.7 269.4h0M186.3 269.3h0M184.2 262.8h0M187.5 266.0h0M178.8 262.1h0M181.8 267.9h0M179.0 270.4h0M181.5 269.7h0M186.9 268.5h0M185.3 272.7h0M188.0 262.7h0M179.2 268.7h0M186.7 265.2h0M182.4 271.1h0M183.7 267.8h0M181.7 264.8h0M184.8 274.0h0M181.9 268.9h0M185.1 269.5h0M182.1 270.7h0M178.4 264.2h0M181.0 265.9h0M184.2 266.8h0M177.8 267.3h0M182.9 266.4h0M182.1 271.6h0M177.9 267.0h0M180.0 269.7h0M182.1 273.9h0M185.1 266.9h0M185.1 265.5h0M189.5 270.9h0M184.0 267.6h0M185.7 266.8h0M183.9 268.4h0M185.3 266.5h0M182.3 274.0h0M185.7 271.3h0M182.2 271.1h0M183.0 267.7h0M187.1 266.6h0M183.3 271.6h0M184.1 264.0h0M188.4 270.1h0M178.7 268.2h0M184.9 271.1h0M184.6 271.4h0M183.0 268.5h0M185.0 268.4h0M188.1 267.4h0M185.8 271.6h0M185.0 268.2h0M180.5 267.1h0M182.6 265.5h0M185.5 266.5h0M184.0 267.2h0M179.1 269.6h0M182.6 269.4h0M181.4 267.8h0M183.1 272.3h0M182.7 267.9h0M181.7 267.9h0M184.5 265.7h0M184.3 272.5h0M184.2 272.2h0M179.6 271.5h0M181.8 266.8h0M188.1 264.9h0M187.0 265.7h0M176.7 264.1h0M187.9 268.5h0M182.2 264.8h0M183.6 261.0h0M182.2 267.4h0M181.2 272.3h0M185.7 261.8h0M187.3 275.0h0M183.0 264.9h0M180.3 270.0h0M183.1 265.7h0M183.6 264.3h0M184.4 269.8h0M176.1 267.6h0M181.7 269.6h0M185.1 271.1h0M179.3 275.2h0M182.4 267.1h0M178.3 263.4h0M185.2 266.6h0M184.4 263.2h0M186.1 270.5h0M183.9 264.7h0M186.4 270.8h0M184.2 267.0h0M179.3 263.6h0M181.5 269.5h0M183.9 264.5h0M179.4 267.2h0M185.2 271.0h0M183.5 267.3h0" stroke="#0A6A4E" stroke-width="1.15" stroke-linecap="round" fill="none"/>
<rect x="173.8" y="244.4" width="64.5" height="60.4" fill="none" stroke="#7a7a7a" stroke-width="0.75"/>
<text x="210.8" y="241.8" font-size="8.9" fill="#222" text-anchor="middle" textLength="29.7" lengthAdjust="spacingAndGlyphs">Healthy</text>
<line x1="176.8" y1="304.8" x2="176.8" y2="306.8" stroke="#7a7a7a" stroke-width="0.6"/>
<text x="174.8" y="316.2" font-size="7.3" fill="#333" stroke="#333" stroke-width="0.1" text-anchor="middle">−40</text>
<line x1="191.4" y1="304.8" x2="191.4" y2="306.8" stroke="#7a7a7a" stroke-width="0.6"/>
<text x="189.4" y="316.2" font-size="7.3" fill="#333" stroke="#333" stroke-width="0.1" text-anchor="middle">−20</text>
<line x1="206.3" y1="304.8" x2="206.3" y2="306.8" stroke="#7a7a7a" stroke-width="0.6"/>
<text x="206.6" y="316.2" font-size="7.3" fill="#333" stroke="#333" stroke-width="0.1" text-anchor="middle">0</text>
<line x1="221" y1="304.8" x2="221" y2="306.8" stroke="#7a7a7a" stroke-width="0.6"/>
<text x="221.3" y="316.2" font-size="7.3" fill="#333" stroke="#333" stroke-width="0.1" text-anchor="middle">20</text>
<line x1="235.9" y1="304.8" x2="235.9" y2="306.8" stroke="#7a7a7a" stroke-width="0.6"/>
<text x="236.2" y="316.2" font-size="7.3" fill="#333" stroke="#333" stroke-width="0.1" text-anchor="middle">40</text>
<line x1="31.9" y1="258" x2="33.9" y2="258" stroke="#7a7a7a" stroke-width="0.6"/>
<text x="29.9" y="260.5" font-size="7" fill="#333" stroke="#333" stroke-width="0.1" text-anchor="end">25</text>
<line x1="31.9" y1="273.5" x2="33.9" y2="273.5" stroke="#7a7a7a" stroke-width="0.6"/>
<text x="29.9" y="276" font-size="7" fill="#333" stroke="#333" stroke-width="0.1" text-anchor="end">0</text>
<line x1="31.9" y1="289" x2="33.9" y2="289" stroke="#7a7a7a" stroke-width="0.6"/>
<text x="29.9" y="291.5" font-size="7" fill="#333" stroke="#333" stroke-width="0.1" text-anchor="end">−25</text>
<line x1="31.9" y1="304.4" x2="33.9" y2="304.4" stroke="#7a7a7a" stroke-width="0.6"/>
<text x="29.9" y="306.9" font-size="7" fill="#333" stroke="#333" stroke-width="0.1" text-anchor="end">−50</text>
<ellipse cx="49.3" cy="474.7" rx="4.7" ry="3.6" fill="#C8192E" opacity="0.15" filter="url(#bl)" transform="rotate(0 49.3 474.7)"/>
<ellipse cx="62.5" cy="477.1" rx="4.7" ry="3.6" fill="#C8192E" opacity="0.15" filter="url(#bl)" transform="rotate(0 62.5 477.1)"/>
<ellipse cx="43.0" cy="489.8" rx="3.8" ry="4.5" fill="#C8192E" opacity="0.15" filter="url(#bl)" transform="rotate(0 43.0 489.8)"/>
<ellipse cx="60.0" cy="500.6" rx="4.7" ry="4.5" fill="#C8192E" opacity="0.15" filter="url(#bl)" transform="rotate(0 60.0 500.6)"/>
<ellipse cx="46.1" cy="510.9" rx="4.7" ry="4.5" fill="#C8192E" opacity="0.15" filter="url(#bl)" transform="rotate(0 46.1 510.9)"/>
<ellipse cx="73.3" cy="513.3" rx="1.9" ry="1.4" fill="#C8192E" opacity="0.4" filter="url(#bl)" transform="rotate(0 73.3 513.3)"/>
<path d="M86.8 505.0h0M95.1 476.9h0M70.6 477.5h0M86.0 507.6h0M83.1 500.0h0M82.5 488.4h0M64.6 502.7h0M62.4 500.1h0M74.4 515.0h0M74.8 485.4h0M78.9 483.0h0M90.4 497.1h0M74.4 491.2h0M81.2 482.7h0M83.7 472.9h0M69.8 514.5h0M63.0 481.9h0M64.1 488.4h0M74.3 505.1h0M91.1 513.3h0M79.8 496.9h0M88.8 507.6h0M94.3 507.6h0M79.3 512.5h0M78.1 501.4h0M64.6 488.2h0M78.2 503.2h0M87.4 499.9h0M94.2 493.6h0M93.6 486.9h0M91.4 497.1h0M63.1 501.9h0M81.7 468.0h0M82.2 483.4h0M81.7 484.4h0M92.9 487.4h0M80.1 477.5h0M68.3 468.7h0M87.6 485.6h0M75.3 491.8h0M90.7 485.1h0M91.9 491.3h0M69.5 502.3h0M89.3 497.0h0M88.6 492.4h0M87.2 483.7h0M73.8 483.3h0M75.0 494.6h0M83.3 488.3h0M77.5 490.8h0M80.5 473.7h0M74.3 498.8h0M68.6 465.7h0M71.3 497.5h0M80.0 477.6h0M87.7 501.4h0M84.9 480.1h0M85.6 496.6h0M93.2 487.4h0M92.8 489.9h0M87.2 491.4h0M79.6 487.7h0M93.0 500.5h0M70.7 470.2h0M75.9 515.3h0M70.9 503.2h0M71.0 488.3h0M66.6 488.1h0M75.7 485.2h0M74.1 496.6h0M85.9 484.6h0M80.6 484.5h0M82.0 514.8h0M81.2 491.4h0M89.2 489.7h0M89.7 500.9h0M73.7 497.3h0M85.9 483.5h0M87.6 499.7h0M69.5 477.0h0M84.0 474.1h0M61.4 489.7h0M72.4 513.6h0M79.8 474.9h0M89.2 487.7h0M76.9 473.7h0M71.0 481.7h0M63.1 491.8h0M85.2 503.4h0M80.9 474.5h0M78.4 477.4h0M68.6 483.0h0M77.0 477.0h0M80.6 503.8h0M95.8 485.7h0M78.2 471.5h0M90.8 486.7h0M77.9 472.3h0M66.0 487.3h0M72.9 501.6h0M84.0 514.0h0M80.5 504.0h0M96.7 495.3h0M72.8 511.5h0M62.7 486.7h0M73.4 487.4h0M79.8 507.0h0M59.1 494.6h0M75.4 500.6h0M88.0 487.3h0M77.4 474.6h0M68.7 504.6h0M87.4 480.8h0M79.5 487.3h0M85.3 488.6h0M68.6 499.8h0M72.8 501.5h0M82.9 483.2h0M71.1 480.2h0M81.9 492.9h0M81.4 491.3h0M81.4 470.1h0M64.8 484.8h0M74.2 491.5h0M73.9 481.5h0M85.6 501.1h0M86.4 480.2h0M83.0 500.6h0M75.0 496.3h0M73.9 473.3h0M78.8 490.0h0M76.0 484.4h0M90.2 501.0h0M79.1 504.0h0M86.6 507.5h0M59.2 494.6h0M61.4 496.1h0M81.7 484.5h0M73.9 514.3h0M71.0 490.4h0M88.2 479.9h0M72.2 480.1h0M87.7 486.7h0M94.2 500.3h0M78.9 498.1h0M78.2 489.6h0M66.3 498.5h0M93.0 480.7h0M89.5 473.0h0M66.5 488.0h0M80.5 515.9h0M70.4 500.4h0M94.6 478.1h0M85.0 493.7h0M82.1 471.7h0M82.4 485.2h0M79.7 482.6h0M73.4 480.4h0M82.5 508.3h0M68.9 500.1h0M87.8 503.9h0M93.8 490.6h0M68.4 493.8h0M73.3 512.9h0M87.7 508.6h0M82.5 487.8h0M77.8 494.0h0M78.6 502.1h0M76.0 507.3h0M74.6 467.9h0M63.9 492.5h0M88.3 473.0h0M68.0 504.4h0M78.0 491.0h0M81.5 472.2h0M94.5 497.1h0M85.0 487.0h0M86.6 501.1h0M88.8 505.6h0M86.4 489.2h0M67.4 477.9h0M92.9 497.6h0M81.6 482.1h0M77.0 495.8h0M88.5 500.0h0M79.5 475.1h0M69.5 515.8h0M93.5 498.1h0M82.8 509.9h0M69.1 503.7h0M64.4 496.2h0M81.8 512.8h0M85.4 507.0h0M87.4 476.9h0M71.3 502.0h0M75.4 512.2h0M85.7 476.0h0M63.9 499.6h0M79.4 504.7h0M58.7 482.8h0M82.6 502.9h0M80.5 472.8h0M71.8 488.5h0M68.2 501.7h0M83.3 501.4h0M66.7 482.2h0M81.4 508.5h0M69.0 482.9h0M67.3 487.5h0M87.4 506.1h0M95.0 489.3h0M70.1 496.7h0M85.4 513.3h0M87.5 508.4h0M85.4 480.3h0M76.7 509.8h0M69.5 513.5h0M78.5 510.2h0M75.3 504.2h0M79.7 480.7h0M70.8 499.4h0M72.8 481.2h0M88.5 482.3h0M72.3 515.9h0M77.5 478.5h0M82.0 515.1h0M70.6 480.3h0M76.3 465.7h0M77.9 479.9h0M83.2 477.2h0M67.9 478.9h0M63.0 503.9h0M76.8 508.4h0M95.5 479.5h0M70.2 494.3h0M69.9 480.4h0M83.7 474.9h0M66.1 502.4h0M75.4 489.3h0M88.8 496.1h0M64.4 489.4h0M78.6 499.1h0M73.7 479.2h0M85.8 480.0h0M73.0 480.4h0M67.4 488.8h0M79.5 480.9h0M76.8 500.2h0M70.2 495.0h0M77.9 491.3h0M74.9 481.4h0M83.9 472.1h0M78.3 488.8h0M90.7 511.2h0M82.5 514.3h0M64.1 496.8h0M77.7 495.5h0M81.4 500.3h0" stroke="#0A6A4E" stroke-width="0.9" stroke-linecap="round" opacity="0.7" fill="none"/>
<path d="M57.5 507.5h0M46.6 507.0h0M65.6 465.5h0M64.7 505.0h0M64.6 474.7h0M58.2 509.5h0M48.0 486.3h0M63.9 496.4h0M65.2 493.0h0M47.4 488.3h0M41.9 496.3h0M76.8 497.2h0M71.1 511.1h0M63.4 482.1h0M47.9 475.5h0M42.2 490.8h0M68.0 494.1h0M69.0 481.4h0M72.4 493.4h0M42.6 482.0h0M48.3 490.2h0M41.5 507.4h0M45.2 511.4h0M54.2 480.0h0M57.2 475.4h0M50.8 491.7h0M46.7 468.1h0M59.9 473.9h0M68.0 499.1h0M52.2 500.8h0M37.9 486.6h0M65.5 488.6h0M46.1 504.1h0M69.9 476.1h0M48.3 507.7h0M70.1 506.6h0M51.1 495.4h0M56.7 503.1h0M40.8 477.9h0M39.4 497.1h0M67.9 513.4h0M50.7 505.3h0M64.6 522.0h0M55.8 501.6h0M64.9 510.8h0M38.7 492.1h0M74.5 494.3h0M55.7 497.0h0M46.8 514.8h0M39.0 489.7h0M52.6 502.8h0M56.0 472.4h0M71.9 499.1h0M74.5 499.0h0M59.5 477.7h0M71.9 476.9h0M53.2 494.6h0M47.4 481.2h0M60.7 469.4h0M72.9 487.7h0M41.9 508.5h0M61.0 469.4h0M45.5 476.5h0M39.7 483.7h0M51.6 479.1h0M54.8 495.9h0M68.8 506.5h0M41.2 491.0h0M50.0 488.6h0M70.5 495.8h0M61.6 467.9h0M57.4 477.7h0M46.7 499.6h0M47.8 475.7h0M48.3 496.7h0M45.3 514.8h0M54.5 495.8h0M53.1 500.1h0M47.2 485.4h0M67.3 520.3h0M56.9 482.8h0M73.5 481.6h0M60.0 474.6h0M68.2 502.3h0M60.9 515.0h0M64.5 510.8h0M62.4 498.3h0M80.3 473.6h0M67.3 502.9h0M42.9 507.9h0M49.1 503.7h0M45.1 492.1h0M45.5 491.2h0M67.6 507.0h0M62.9 467.4h0M48.9 506.1h0M65.2 475.5h0M73.3 481.8h0M50.0 512.2h0M52.5 472.5h0M70.6 480.1h0M46.5 485.5h0M60.2 501.1h0M55.7 495.4h0M46.8 516.7h0M51.2 469.5h0M66.2 475.1h0M61.3 479.0h0M51.2 511.8h0M65.6 465.1h0M65.0 504.2h0M38.2 493.8h0M49.1 512.4h0M44.9 510.6h0M46.3 487.2h0M62.2 502.2h0" stroke="#C8192E" stroke-width="0.9" stroke-linecap="round" opacity="0.7" fill="none"/>
<path d="M62.1 477.7h0M62.1 473.7h0M72.1 472.9h0M65.3 476.2h0M62.7 477.3h0M66.8 475.6h0M61.8 470.5h0M63.8 474.9h0M72.4 473.3h0M69.9 474.3h0M72.2 471.2h0M67.4 472.7h0M70.1 473.7h0M65.5 472.3h0M66.7 477.0h0M59.5 473.6h0M73.1 475.2h0M63.9 478.8h0M61.9 476.7h0M60.5 473.8h0M66.9 475.7h0M71.1 474.2h0M66.3 475.2h0M61.8 470.8h0M67.9 473.8h0M62.0 473.4h0M67.0 473.7h0M60.9 473.0h0M66.2 473.2h0M70.9 477.0h0M71.7 473.1h0M64.3 474.9h0M67.1 471.1h0M65.6 474.8h0M61.5 475.2h0M72.4 473.9h0M62.3 473.9h0M68.6 476.3h0M70.5 474.1h0M62.6 476.1h0M66.0 474.1h0M60.4 473.7h0M63.8 474.9h0M65.7 471.6h0M68.2 475.0h0M73.4 474.7h0M58.9 474.6h0M71.6 474.4h0M62.7 472.2h0M66.7 474.9h0M75.4 474.7h0M78.6 477.2h0M73.9 476.6h0M74.1 477.3h0M77.2 477.6h0M73.6 474.4h0M75.0 477.5h0M76.5 477.6h0M73.0 478.9h0M76.1 476.6h0M76.0 475.3h0M72.6 476.4h0M73.6 476.7h0M74.1 477.8h0M75.9 477.8h0M77.5 481.0h0M74.0 478.2h0M76.4 476.8h0M75.4 478.5h0M76.5 478.2h0M74.1 475.9h0M75.6 478.3h0M77.8 475.5h0M72.3 478.8h0M75.2 474.9h0M50.8 491.5h0M54.3 493.1h0M54.2 491.1h0M49.9 488.5h0M54.7 490.3h0M55.4 491.3h0M50.8 491.5h0M52.8 490.9h0M50.5 492.7h0M50.4 489.4h0M52.0 492.1h0M52.8 490.9h0M52.9 491.1h0M47.0 490.1h0M53.3 490.5h0M54.6 490.7h0M49.3 490.9h0M50.2 491.2h0M51.1 488.9h0M49.4 491.5h0M49.9 490.0h0M49.5 488.7h0M53.0 491.2h0M53.7 492.0h0M52.9 490.9h0M71.2 499.2h0M71.8 497.2h0M72.8 495.4h0M72.4 495.5h0M70.6 495.9h0M68.7 493.8h0M69.7 498.1h0M71.5 496.1h0M72.2 496.2h0M70.7 496.8h0M74.3 498.4h0M70.6 495.9h0M70.9 498.7h0M72.4 496.3h0M67.7 497.1h0M70.2 495.7h0M72.0 495.6h0M73.2 500.0h0M71.3 496.6h0M76.3 497.1h0M81.5 512.9h0M78.1 509.2h0M82.2 512.2h0M81.4 511.8h0M83.6 510.0h0M79.8 509.1h0M80.2 511.8h0M82.1 509.3h0M79.4 510.5h0M83.2 509.0h0M82.1 511.8h0M82.1 512.7h0M81.5 511.3h0M78.7 512.7h0M81.8 510.4h0M82.6 509.0h0M78.1 509.1h0M79.4 511.4h0M82.9 511.6h0M81.1 509.8h0M83.5 510.0h0M81.6 510.8h0M79.7 509.9h0M78.3 512.1h0M77.3 512.9h0M82.0 512.2h0M82.7 511.1h0M78.3 510.2h0M78.4 511.2h0M78.4 509.9h0" stroke="#0A6A4E" stroke-width="1.15" stroke-linecap="round" fill="none"/>
<path d="M48.3 475.5h0M43.7 487.6h0M46.9 497.4h0M55.0 503.6h0M50.4 466.5h0M55.3 471.7h0M45.4 496.4h0M47.8 465.8h0M39.5 486.7h0M40.6 488.5h0M51.5 511.1h0M40.9 496.6h0M63.6 488.5h0M66.6 489.4h0M43.7 503.8h0M43.8 497.3h0M66.4 506.1h0M66.3 491.3h0M51.7 498.8h0M55.7 486.5h0M43.6 479.7h0M61.3 484.3h0M64.1 506.8h0M36.8 490.0h0M51.8 506.6h0M42.1 506.9h0M66.9 489.3h0M52.2 484.6h0M51.9 488.4h0M61.7 474.2h0M66.0 489.4h0M64.5 485.9h0M56.0 504.3h0M59.4 476.7h0M56.0 518.0h0M63.9 489.4h0M68.1 500.2h0M43.2 498.8h0M56.2 501.1h0M53.6 515.5h0M62.3 499.9h0M63.8 492.8h0M43.3 502.3h0M66.7 493.5h0M61.1 502.3h0M59.8 497.3h0M42.4 481.7h0M46.6 480.2h0M52.8 468.0h0M58.1 496.1h0M43.5 475.3h0M63.2 492.1h0M63.2 500.6h0M52.7 494.7h0M48.0 504.8h0M59.4 500.1h0M58.3 505.6h0M53.9 508.6h0M49.7 505.4h0M66.7 501.1h0M66.5 508.3h0M50.7 496.3h0M51.3 500.2h0M41.7 507.8h0M66.7 508.5h0M42.6 499.3h0M55.5 496.9h0M55.5 475.9h0M54.2 483.5h0M60.6 478.5h0M58.2 506.6h0M51.0 492.6h0M50.3 514.0h0M62.6 496.3h0M45.6 483.2h0M45.6 481.8h0M50.1 507.1h0M44.7 476.4h0M70.9 506.5h0M47.2 508.5h0M57.3 510.6h0M58.4 506.0h0M43.7 477.5h0M70.7 500.8h0M59.0 483.2h0M44.1 479.1h0M61.4 472.7h0M59.3 509.0h0M56.9 510.8h0M62.3 499.5h0M57.4 478.6h0M52.9 512.1h0M60.3 471.3h0M57.5 483.9h0M63.1 507.0h0M59.6 513.8h0M61.2 488.3h0M38.3 501.0h0M52.8 483.2h0M62.2 489.0h0M60.6 496.7h0M53.6 503.8h0M64.9 506.5h0M42.1 493.7h0M68.8 488.4h0M61.4 507.6h0M60.2 494.9h0M46.7 492.6h0M58.4 490.0h0M58.5 475.4h0M47.1 482.3h0M57.4 516.0h0M41.1 475.2h0M36.7 493.6h0M50.3 511.6h0M47.5 479.0h0M55.4 504.8h0M57.0 494.6h0M63.9 489.4h0M58.0 475.7h0M38.9 503.0h0M53.6 466.0h0M38.0 493.0h0M48.1 497.1h0M52.3 521.2h0M68.9 507.0h0M55.4 499.3h0M65.9 493.8h0M47.0 504.9h0M42.0 475.3h0M44.7 521.5h0M48.4 503.1h0M50.7 478.6h0M46.8 479.9h0M50.1 519.4h0M51.7 474.8h0M44.2 481.9h0M47.3 475.6h0M49.9 474.0h0M50.5 481.9h0M41.2 496.2h0M62.5 508.0h0M54.4 488.1h0M64.1 495.1h0M50.5 506.2h0M58.3 490.9h0M63.2 477.4h0M70.0 477.9h0M55.2 515.1h0M54.3 498.8h0M44.8 483.2h0M56.5 466.7h0M42.4 506.3h0M60.3 495.1h0M43.2 509.1h0M49.3 510.8h0M64.0 485.7h0M54.4 471.9h0M47.2 510.8h0M61.9 496.8h0M47.7 504.0h0M51.7 476.7h0M62.5 479.5h0M58.9 479.5h0M59.5 501.6h0M46.0 476.5h0M49.0 497.5h0M39.2 495.1h0M52.1 509.9h0M69.5 500.1h0M43.3 492.2h0M56.9 480.6h0M64.2 477.2h0M53.6 475.5h0M43.2 477.7h0M45.4 478.3h0M52.1 472.3h0M54.3 472.1h0M57.3 499.9h0M45.7 481.9h0M51.4 504.3h0M59.1 468.8h0M59.1 486.8h0M66.8 497.6h0M54.8 472.8h0M56.3 496.7h0M48.8 480.0h0M45.0 474.3h0M61.0 479.7h0M51.0 471.5h0M53.0 502.8h0M50.8 488.0h0M59.8 468.1h0M46.5 499.6h0M61.2 496.4h0M61.5 502.1h0M62.5 477.1h0M53.8 476.8h0M59.4 505.7h0M72.2 478.7h0M53.9 503.2h0M51.2 478.8h0M41.1 483.7h0M52.2 490.5h0M41.4 501.5h0M69.2 499.4h0M60.4 501.0h0M47.6 486.6h0M38.6 491.8h0M59.3 488.2h0M44.9 473.5h0M59.2 497.4h0M56.6 511.9h0M51.1 515.8h0M40.3 484.1h0M55.3 482.3h0M44.1 486.2h0M60.7 496.4h0M42.5 512.3h0M54.6 515.2h0M50.0 486.5h0M54.3 514.5h0M42.5 506.4h0M58.8 486.3h0M58.0 490.3h0M61.1 506.3h0M56.5 487.4h0M72.7 498.4h0M43.5 512.6h0M64.9 497.7h0M38.2 497.3h0M58.0 470.1h0M56.7 483.3h0M54.5 483.8h0M64.5 481.5h0M53.2 514.1h0M59.0 475.7h0M50.1 495.7h0M45.9 481.1h0M60.5 482.7h0M49.7 512.4h0M62.8 491.8h0M50.4 470.8h0M47.0 499.6h0M37.7 487.1h0M46.3 478.5h0M54.4 470.4h0M63.9 512.4h0M51.8 495.8h0M43.5 498.9h0M52.8 489.3h0M51.5 501.8h0M40.1 486.7h0M51.7 515.2h0M45.4 495.7h0M52.9 502.5h0M49.4 485.6h0M39.8 492.6h0M48.4 500.6h0M45.2 510.7h0M44.2 513.5h0M57.4 497.4h0M58.7 479.0h0M46.1 503.6h0M51.4 517.4h0M42.0 468.6h0M59.7 497.6h0M50.6 499.2h0M38.9 493.8h0M61.7 490.4h0M60.5 508.4h0M63.7 497.0h0M52.6 486.8h0M53.2 499.1h0M53.4 486.5h0M59.7 515.8h0M55.5 484.7h0M52.9 512.3h0M51.1 490.2h0M47.0 483.0h0M58.9 493.0h0M51.7 490.7h0M43.6 497.1h0M52.8 504.6h0M45.1 485.8h0M62.7 507.0h0M50.0 513.1h0M58.7 500.5h0M68.7 474.2h0M72.0 496.7h0M47.5 493.3h0M63.7 514.6h0M57.9 512.4h0M58.6 476.3h0M47.2 507.8h0M61.6 499.6h0M58.5 499.6h0M44.0 489.6h0M53.3 473.3h0M47.0 478.2h0M42.2 495.2h0M49.4 513.9h0M43.2 490.5h0M65.9 495.0h0M54.2 470.4h0M44.6 468.2h0M71.0 483.5h0M45.2 506.7h0M54.7 516.7h0M45.1 501.6h0M52.0 488.7h0M38.9 488.6h0M59.0 504.6h0M61.9 477.2h0M49.5 478.9h0M43.9 507.2h0M62.5 484.4h0M64.7 500.2h0M51.1 470.6h0M43.0 486.4h0M60.2 481.9h0M51.7 511.9h0M53.9 474.9h0M59.6 473.1h0M42.9 488.9h0M55.4 516.9h0M54.0 507.9h0M56.9 502.8h0M50.6 490.4h0M47.9 498.0h0M65.2 476.7h0M56.2 497.5h0M53.5 498.5h0M60.9 491.7h0M42.6 486.2h0M50.7 514.3h0M68.1 514.1h0M67.1 474.9h0M42.8 511.9h0M41.4 486.0h0M69.0 483.7h0M48.2 495.2h0M56.5 479.2h0M46.7 511.9h0M50.3 473.4h0M56.7 493.6h0M56.8 512.5h0M52.5 471.0h0M49.3 492.0h0M62.1 479.7h0M53.3 504.0h0M61.0 499.6h0M55.7 515.8h0M42.0 494.5h0M40.6 493.8h0M68.3 481.3h0M53.0 483.2h0M67.8 493.8h0M52.1 487.8h0M39.8 506.6h0M51.3 491.1h0M61.9 505.2h0M57.4 514.5h0M62.7 515.5h0M63.0 509.9h0M60.9 480.0h0M49.9 510.8h0M56.3 516.4h0M68.0 480.3h0M66.9 505.1h0M45.7 515.3h0M61.0 480.8h0M64.2 494.1h0M46.3 509.2h0M51.4 504.4h0M46.1 512.1h0M41.1 480.3h0M51.1 499.8h0M63.0 499.3h0M63.1 511.6h0M41.6 510.6h0M64.8 487.5h0M64.3 489.7h0M55.8 512.3h0M49.4 499.4h0M46.2 483.6h0M66.8 516.5h0M47.3 473.5h0M57.3 478.8h0M56.0 515.0h0M65.1 473.0h0M46.0 514.6h0M47.7 478.4h0M48.3 509.9h0M61.0 475.2h0M69.2 497.5h0M45.8 504.2h0M68.1 493.8h0M68.7 496.2h0M50.0 492.3h0M57.3 516.0h0M51.9 515.8h0M59.7 482.9h0M67.7 492.9h0M65.6 500.1h0M55.6 481.6h0M53.1 509.4h0M65.9 499.5h0M49.8 496.2h0M62.3 495.4h0M54.7 479.8h0M55.3 465.5h0M55.4 483.0h0M60.5 495.6h0M50.3 481.5h0M62.5 507.7h0M55.0 482.6h0M60.0 485.2h0M62.5 468.1h0M71.8 493.2h0M58.5 471.3h0M47.7 477.1h0M44.3 490.3h0M45.9 483.6h0M43.9 492.1h0M46.0 485.0h0M69.6 488.5h0M56.4 501.6h0M48.6 475.1h0M63.7 494.3h0M65.3 511.5h0M56.1 494.3h0M50.0 491.9h0M49.9 494.7h0M53.0 513.6h0M58.3 506.1h0M56.1 513.4h0M46.7 492.0h0M43.2 491.9h0M56.7 477.6h0M54.6 470.5h0M53.8 494.3h0M42.8 492.2h0M49.5 497.8h0M57.4 503.6h0M65.7 510.7h0M65.6 504.0h0M44.8 517.4h0M51.2 484.5h0M49.1 505.3h0M48.8 495.8h0M52.1 508.9h0M69.5 497.5h0M47.6 512.0h0M50.6 483.3h0M46.1 472.4h0M52.0 472.0h0M44.0 500.2h0M45.9 491.0h0M42.4 493.6h0M40.5 496.7h0M60.6 490.9h0M54.7 476.4h0M44.4 473.2h0M44.2 504.0h0M68.1 499.3h0M65.2 502.4h0M54.5 486.5h0M59.0 491.4h0M53.5 492.2h0M54.5 483.3h0M59.9 474.5h0M47.4 476.6h0M42.7 499.6h0M69.0 499.0h0M48.3 501.0h0M43.9 476.2h0M48.3 468.9h0M59.2 475.0h0M57.2 514.5h0M46.1 496.1h0M71.0 504.1h0M66.6 498.9h0M42.5 506.6h0M57.9 479.4h0M62.4 480.2h0M53.3 503.5h0M52.5 486.7h0M58.9 506.2h0M61.8 488.0h0M62.4 479.3h0M63.5 482.3h0M48.7 505.3h0M68.3 482.3h0M62.0 496.6h0M50.6 503.7h0M60.4 505.5h0M47.8 472.9h0M54.6 499.6h0M52.0 503.7h0M60.0 496.6h0M45.9 466.0h0M47.3 487.5h0M61.9 490.5h0M44.1 477.3h0M49.6 509.1h0M45.2 504.2h0M58.8 497.2h0M52.5 490.8h0M57.6 513.6h0M64.0 508.7h0M53.7 481.2h0M64.1 478.0h0M49.5 504.5h0M54.5 490.3h0M43.6 491.8h0M43.9 477.1h0M53.3 504.3h0M41.2 504.5h0M63.5 487.4h0M50.6 472.4h0M44.2 513.7h0M57.7 516.3h0M48.8 507.1h0M53.0 501.3h0M39.9 513.0h0M59.0 494.1h0M60.8 503.5h0M54.2 490.7h0M69.2 487.5h0M58.9 517.6h0M47.9 478.3h0M46.5 507.3h0M57.1 480.8h0M40.4 482.9h0M49.7 483.8h0M50.9 516.4h0M63.5 494.4h0M52.5 477.3h0M41.1 492.0h0M53.6 513.1h0M64.5 510.3h0M52.0 503.6h0M52.2 486.5h0M52.1 474.2h0M52.6 482.5h0M63.3 469.8h0M45.9 513.5h0M59.4 492.2h0M60.9 516.1h0M61.3 504.3h0M58.3 498.9h0M38.1 488.3h0M44.1 509.5h0M46.7 514.0h0M59.1 469.6h0M37.4 492.4h0M38.3 507.4h0M53.8 491.7h0M49.9 497.0h0M53.3 511.1h0M50.3 510.0h0M60.5 505.1h0M56.9 491.7h0M53.1 512.5h0M55.5 469.0h0M67.2 496.7h0M54.0 506.8h0M46.9 482.4h0M47.0 493.9h0M48.9 479.1h0M59.6 506.5h0M60.5 480.7h0M49.6 518.3h0M62.1 490.8h0M65.1 485.0h0M64.2 475.1h0M64.3 486.9h0M50.2 509.6h0M61.6 500.2h0M65.1 491.0h0M65.7 510.8h0M50.4 513.2h0M61.9 512.2h0M60.7 497.4h0M50.4 504.4h0M44.5 472.0h0M55.8 511.8h0M54.2 510.8h0M53.3 507.2h0M46.6 478.8h0M40.0 500.1h0M61.8 497.6h0M64.2 493.7h0M64.5 485.9h0M46.3 510.1h0M37.8 499.3h0M53.8 484.8h0M56.0 473.2h0M45.9 504.4h0M52.9 513.9h0M62.2 489.1h0M50.4 489.5h0M61.7 512.2h0M65.6 491.0h0M57.5 474.6h0M65.6 490.2h0M57.2 513.2h0M50.2 505.0h0M63.0 470.7h0M61.4 512.7h0M62.4 492.2h0M50.3 480.1h0M51.8 514.0h0M62.4 480.8h0M48.9 487.4h0M63.1 509.3h0M55.9 489.5h0M47.5 502.7h0M40.8 497.8h0M56.2 491.5h0M54.5 505.3h0M46.9 504.3h0M47.3 484.3h0M45.0 482.3h0M67.7 503.0h0M62.7 515.3h0M51.8 474.2h0M50.4 498.2h0M60.5 481.1h0M64.3 496.5h0M59.1 513.3h0M54.4 491.9h0M60.7 511.9h0M38.8 501.4h0M51.3 476.4h0M63.2 508.6h0M48.6 520.8h0M49.2 483.1h0M61.0 515.4h0M59.5 477.6h0M40.0 488.3h0M48.6 494.0h0M56.6 475.0h0M64.3 511.8h0M63.6 515.3h0M64.1 499.4h0M39.6 489.9h0M40.3 476.2h0M53.0 473.4h0M59.8 490.3h0M47.2 480.0h0M59.5 474.3h0M62.7 504.3h0M44.7 510.6h0M55.7 515.5h0M48.2 491.4h0M61.9 471.0h0M53.2 501.4h0M41.2 488.2h0M58.1 478.1h0M61.7 475.4h0M58.0 497.6h0M56.8 470.1h0M54.9 497.0h0M47.1 499.4h0M61.9 505.9h0M41.4 504.9h0M49.6 512.4h0M41.7 477.0h0M46.7 476.9h0M51.5 473.1h0M49.6 475.0h0M53.3 477.6h0M51.5 473.9h0M48.7 477.2h0M49.8 472.2h0M49.6 471.9h0M49.7 474.9h0M50.1 476.9h0M49.0 474.4h0M55.7 478.3h0M52.2 476.9h0M50.6 474.0h0M45.1 473.5h0M47.9 478.0h0M41.8 476.5h0M49.3 472.0h0M52.3 475.0h0M50.8 475.8h0M50.5 471.7h0M52.9 476.5h0M50.7 475.3h0M49.2 478.5h0M53.3 474.5h0M52.2 476.6h0M55.2 475.6h0M50.9 473.2h0M50.8 472.8h0M49.4 472.3h0M48.9 469.4h0M50.5 475.8h0M43.7 472.5h0M44.8 476.7h0M49.0 473.4h0M46.6 474.6h0M54.8 472.1h0M43.2 472.6h0M49.7 479.7h0M47.0 477.5h0M49.9 479.2h0M49.5 472.5h0M53.5 469.0h0M48.4 473.3h0M47.4 475.1h0M50.8 470.4h0M46.9 472.3h0M47.9 474.9h0M44.1 468.0h0M46.7 478.0h0M50.8 477.0h0M50.1 474.9h0M53.0 469.6h0M49.1 476.7h0M45.8 473.6h0M54.2 477.1h0M54.8 474.4h0M54.7 474.1h0M44.3 474.1h0M45.8 472.7h0M51.2 472.3h0M47.8 473.3h0M55.1 474.9h0M51.5 471.8h0M51.9 472.1h0M52.4 476.0h0M48.5 477.4h0M49.4 474.8h0M47.2 470.8h0M61.9 476.5h0M65.1 480.8h0M62.5 475.9h0M62.6 476.2h0M57.4 474.1h0M62.7 479.9h0M59.2 480.4h0M63.9 471.9h0M67.8 477.1h0M64.3 475.7h0M59.6 477.0h0M56.2 476.1h0M64.1 479.1h0M59.4 479.9h0M61.9 475.1h0M60.8 471.2h0M61.4 475.3h0M59.2 478.8h0M62.4 478.7h0M58.2 476.7h0M65.8 475.8h0M64.1 476.8h0M63.4 474.5h0M61.9 476.1h0M62.0 476.3h0M61.6 473.9h0M57.8 478.7h0M58.8 477.0h0M61.9 478.0h0M65.4 479.5h0M61.9 477.7h0M60.0 479.0h0M59.9 480.4h0M51.7 475.1h0M55.7 478.7h0M63.1 473.3h0M63.4 476.1h0M64.0 474.2h0M63.2 475.7h0M60.3 475.0h0M61.7 479.0h0M59.2 480.2h0M60.3 478.8h0M62.7 478.7h0M63.1 473.3h0M63.2 480.2h0M59.4 478.7h0M63.4 476.2h0M54.9 477.7h0M59.1 477.3h0M57.9 476.1h0M60.9 479.7h0M67.1 479.7h0M62.3 477.9h0M62.6 474.5h0M67.5 476.3h0M68.5 470.7h0M61.4 473.3h0M63.8 474.3h0M63.8 479.1h0M61.7 476.0h0M59.6 481.1h0M54.9 479.9h0M64.7 480.6h0M61.5 476.2h0M62.4 478.7h0M60.8 480.0h0M62.4 474.5h0M60.2 478.6h0M62.4 470.9h0M41.9 493.6h0M43.4 485.9h0M47.1 492.0h0M43.2 492.9h0M41.2 489.8h0M43.7 496.0h0M38.4 490.0h0M45.4 488.6h0M43.4 491.9h0M46.1 489.8h0M44.6 488.5h0M43.8 487.0h0M42.7 487.1h0M41.8 491.8h0M43.1 494.3h0M42.5 488.6h0M37.0 487.6h0M40.7 489.3h0M44.6 493.8h0M44.8 495.2h0M38.0 490.1h0M44.8 494.2h0M43.1 491.5h0M42.3 492.4h0M40.4 493.1h0M41.6 492.4h0M43.8 485.8h0M41.9 495.4h0M46.9 492.5h0M45.6 487.4h0M42.4 493.9h0M37.4 485.3h0M44.0 492.1h0M39.9 491.5h0M41.9 486.1h0M37.8 488.5h0M40.6 490.0h0M37.3 491.3h0M42.6 490.7h0M40.0 492.9h0M37.6 486.2h0M40.2 491.1h0M43.0 482.5h0M45.9 489.9h0M42.0 487.5h0M39.4 490.1h0M42.1 490.6h0M43.4 490.7h0M46.8 494.8h0M43.3 493.3h0M44.0 493.8h0M45.1 489.6h0M40.0 491.3h0M39.9 489.2h0M40.1 489.5h0M40.6 492.1h0M41.6 488.4h0M38.1 485.1h0M47.1 482.5h0M42.4 492.0h0M41.8 490.2h0M41.4 490.4h0M43.2 487.8h0M46.2 489.0h0M45.5 489.0h0M40.2 490.0h0M47.2 488.5h0M45.6 486.6h0M42.9 490.3h0M51.9 498.2h0M65.3 500.1h0M60.2 500.8h0M57.5 502.5h0M58.7 502.4h0M68.2 498.8h0M61.6 498.3h0M59.2 498.9h0M64.5 500.9h0M61.5 504.5h0M60.3 503.5h0M66.2 499.0h0M60.5 506.8h0M58.8 502.2h0M60.9 499.2h0M54.9 502.9h0M60.1 499.5h0M55.3 505.1h0M61.9 503.9h0M59.2 499.7h0M62.4 498.6h0M61.8 503.3h0M60.9 499.6h0M54.3 494.6h0M60.0 502.4h0M56.6 501.5h0M64.1 507.3h0M60.3 505.5h0M61.8 503.3h0M63.4 495.7h0M58.4 499.1h0M55.5 500.2h0M61.1 500.9h0M58.3 498.7h0M62.9 498.2h0M65.4 494.8h0M62.3 503.7h0M60.3 497.0h0M57.2 501.4h0M59.4 498.9h0M56.4 494.4h0M63.4 497.0h0M58.2 505.7h0M62.5 497.5h0M58.9 498.7h0M59.8 500.8h0M60.8 499.6h0M63.9 501.6h0M62.2 493.1h0M61.5 501.5h0M57.3 499.8h0M63.5 495.5h0M57.4 500.8h0M57.1 508.3h0M60.0 503.7h0M60.1 498.4h0M58.4 503.5h0M62.3 502.4h0M64.1 500.3h0M59.3 498.7h0M60.0 503.6h0M59.7 505.4h0M63.1 503.0h0M58.8 501.9h0M61.2 510.7h0M63.0 502.4h0M59.3 501.2h0M58.9 502.7h0M59.7 503.8h0M61.8 504.1h0M52.8 512.0h0M46.1 508.8h0M43.5 516.0h0M44.0 513.9h0M46.0 512.2h0M45.0 508.2h0M49.5 513.8h0M42.5 511.1h0M50.2 512.1h0M50.8 512.6h0M44.9 509.3h0M48.4 509.7h0M48.7 508.9h0M48.0 514.2h0M47.7 509.3h0M38.3 510.8h0M44.8 515.7h0M45.7 513.3h0M47.2 510.5h0M45.2 507.8h0M45.8 512.0h0M50.9 510.7h0M45.7 507.6h0M44.4 514.1h0M49.0 513.5h0M44.9 511.8h0M49.9 508.7h0M45.3 513.0h0M47.9 509.6h0M47.0 508.4h0M47.4 510.4h0M48.2 507.3h0M47.2 503.9h0M46.8 509.3h0M45.2 510.0h0M46.4 508.2h0M50.5 506.5h0M57.2 504.7h0M46.9 511.3h0M49.8 515.8h0M47.2 509.0h0M46.0 509.3h0M43.8 510.6h0M50.8 513.8h0M50.1 512.1h0M45.8 506.4h0M42.5 509.9h0M45.6 509.4h0M45.6 507.0h0M48.8 515.8h0M41.8 516.2h0M47.8 510.2h0M51.0 507.4h0M39.5 509.8h0M45.6 510.7h0M46.6 513.6h0M48.3 514.4h0M44.1 508.1h0M46.6 508.7h0M46.6 515.1h0M41.7 513.2h0M43.3 514.6h0M49.8 510.9h0M49.6 506.8h0M45.9 507.0h0M47.2 516.4h0M48.8 520.0h0M50.0 509.9h0M42.1 515.5h0M46.8 507.5h0M74.5 514.3h0M73.1 512.4h0M74.5 513.1h0M74.4 512.5h0M72.9 512.2h0M73.0 512.0h0M73.0 514.4h0M74.4 513.7h0M73.2 512.1h0M75.0 513.1h0M74.4 512.4h0M75.0 513.2h0M73.5 512.8h0M73.2 513.6h0M71.5 513.5h0M71.6 514.9h0M72.5 513.1h0M72.6 511.1h0M73.6 514.7h0M71.7 511.8h0M73.1 513.4h0M72.4 514.8h0M73.9 513.8h0M70.1 513.9h0M73.1 513.6h0" stroke="#C8192E" stroke-width="1.15" stroke-linecap="round" fill="none"/>
<path d="M58.3 518.1h0M59.6 515.3h0M59.0 516.9h0M55.1 518.8h0M50.0 517.5h0M62.8 519.1h0M57.9 514.9h0M63.4 517.5h0M54.0 519.9h0M55.2 519.6h0M59.9 517.4h0M60.4 517.3h0M58.0 517.4h0M62.7 516.7h0M56.7 517.7h0M53.7 516.1h0M65.0 516.2h0M54.7 518.6h0M56.8 518.6h0M62.2 517.7h0M56.9 517.4h0M57.4 517.9h0M61.2 519.5h0M70.2 517.0h0M62.0 517.2h0M62.2 519.0h0M57.6 515.2h0M62.8 519.6h0M60.8 514.9h0M68.1 515.4h0M60.9 516.3h0M59.1 517.5h0M60.9 514.7h0M60.9 521.6h0M58.1 519.4h0M62.3 518.8h0M60.1 517.0h0M56.3 517.0h0M60.3 518.9h0M59.0 515.4h0" stroke="#33A6DD" stroke-width="1.15" stroke-linecap="round" fill="none"/>
<rect x="35.4" y="463.2" width="63.1" height="60.4" fill="none" stroke="#7a7a7a" stroke-width="0.75"/>
<text x="70.8" y="461" font-size="8.9" fill="#222" text-anchor="middle" textLength="38.8" lengthAdjust="spacingAndGlyphs">Diagnosis</text>
<line x1="36.3" y1="523.6" x2="36.3" y2="525.6" stroke="#7a7a7a" stroke-width="0.6"/>
<text x="34.3" y="534.4" font-size="7.3" fill="#333" stroke="#333" stroke-width="0.1" text-anchor="middle">−40</text>
<line x1="50.7" y1="523.6" x2="50.7" y2="525.6" stroke="#7a7a7a" stroke-width="0.6"/>
<text x="48.7" y="534.4" font-size="7.3" fill="#333" stroke="#333" stroke-width="0.1" text-anchor="middle">−20</text>
<line x1="65.5" y1="523.6" x2="65.5" y2="525.6" stroke="#7a7a7a" stroke-width="0.6"/>
<text x="65.8" y="534.4" font-size="7.3" fill="#333" stroke="#333" stroke-width="0.1" text-anchor="middle">0</text>
<line x1="79.7" y1="523.6" x2="79.7" y2="525.6" stroke="#7a7a7a" stroke-width="0.6"/>
<text x="80" y="534.4" font-size="7.3" fill="#333" stroke="#333" stroke-width="0.1" text-anchor="middle">20</text>
<line x1="94.2" y1="523.6" x2="94.2" y2="525.6" stroke="#7a7a7a" stroke-width="0.6"/>
<text x="94.5" y="534.4" font-size="7.3" fill="#333" stroke="#333" stroke-width="0.1" text-anchor="middle">40</text>
<ellipse cx="119.0" cy="481.3" rx="4.7" ry="4.5" fill="#C8192E" opacity="0.15" filter="url(#bl)" transform="rotate(0 119.0 481.3)"/>
<ellipse cx="119.0" cy="505.5" rx="4.7" ry="4.5" fill="#C8192E" opacity="0.15" filter="url(#bl)" transform="rotate(0 119.0 505.5)"/>
<ellipse cx="130.3" cy="478.3" rx="4.7" ry="4.5" fill="#C8192E" opacity="0.15" filter="url(#bl)" transform="rotate(0 130.3 478.3)"/>
<ellipse cx="122.8" cy="490.4" rx="3.8" ry="1.8" fill="#0A6A4E" opacity="0.3" filter="url(#bl)" transform="rotate(0 122.8 490.4)"/>
<ellipse cx="129.0" cy="518.8" rx="4.7" ry="1.8" fill="#33A6DD" opacity="0.4" filter="url(#bl)" transform="rotate(0 129.0 518.8)"/>
<path d="M134.6 488.9h0M161.8 507.7h0M154.4 492.6h0M128.6 488.6h0M142.1 482.1h0M138.6 486.3h0M164.7 502.5h0M162.1 476.1h0M163.3 512.4h0M162.7 507.8h0M151.9 500.7h0M134.2 495.5h0M145.9 483.3h0M147.2 485.7h0M158.6 482.2h0M149.9 500.0h0M157.0 503.2h0M165.2 488.3h0M150.4 507.6h0M140.1 494.8h0M136.2 487.6h0M146.6 499.5h0M146.0 479.3h0M154.7 507.6h0M150.1 472.3h0M146.1 493.9h0M131.6 496.5h0M156.1 508.0h0M136.5 484.9h0M145.0 471.0h0M137.7 509.7h0M150.5 514.8h0M137.9 471.6h0M152.1 479.3h0M141.1 512.5h0M160.1 489.0h0M149.1 489.0h0M152.5 490.4h0M155.6 491.8h0M144.2 510.1h0M146.0 481.4h0M135.8 477.1h0M165.6 496.4h0M162.9 500.2h0M161.4 485.5h0M141.9 501.3h0M136.1 480.0h0M147.7 517.3h0M138.5 495.2h0M136.6 498.8h0M159.8 493.0h0M136.0 480.3h0M136.1 480.1h0M160.8 496.3h0M148.0 512.7h0M160.4 505.7h0M147.0 515.0h0M154.6 482.3h0M146.5 499.7h0M154.0 489.9h0M143.5 505.2h0M162.0 497.1h0M151.6 496.9h0M136.2 505.4h0M152.3 506.6h0M142.6 495.7h0M143.9 494.3h0M143.7 488.7h0M166.0 480.9h0M153.5 488.7h0M156.8 472.1h0M144.6 490.1h0M145.0 492.2h0M160.3 512.6h0M164.5 506.4h0M150.4 507.5h0M147.7 498.0h0M142.2 492.2h0M147.6 505.3h0M156.0 480.7h0M159.4 482.8h0M159.7 482.2h0M160.3 503.4h0M145.5 498.7h0M141.0 478.2h0M145.6 487.4h0M136.6 477.2h0M164.1 507.5h0M145.1 489.9h0M158.7 501.4h0M134.2 494.6h0M164.9 503.2h0M158.3 497.6h0M157.4 480.3h0M156.5 483.7h0M157.0 484.1h0M148.5 509.0h0M148.0 477.7h0M143.9 505.7h0M134.8 504.1h0M136.4 492.2h0M142.7 515.9h0M139.9 491.0h0M155.5 497.1h0M136.1 519.6h0M142.3 510.7h0M155.4 477.3h0M145.3 489.0h0M160.8 508.3h0M150.2 502.2h0M161.2 486.9h0M135.0 505.8h0M149.5 502.7h0M136.9 510.9h0M149.5 475.1h0M160.0 472.9h0M152.6 501.8h0M155.6 506.1h0M153.1 510.4h0M144.1 484.5h0M159.3 490.4h0M137.7 487.9h0M148.5 490.8h0M158.7 491.6h0M167.5 502.9h0M157.2 490.6h0M165.8 492.4h0M147.4 499.8h0M144.0 489.0h0M138.4 482.4h0M163.1 499.2h0M167.7 492.3h0M141.7 487.6h0M148.4 476.0h0M141.0 513.9h0M150.3 495.4h0M146.8 487.1h0M150.4 494.2h0M137.7 507.0h0M156.0 485.0h0M149.3 498.1h0M157.0 481.8h0M147.9 497.2h0M149.9 507.1h0M160.0 496.0h0M162.8 483.9h0M146.1 509.6h0M139.8 467.0h0M148.7 482.7h0M145.8 499.5h0M132.6 492.9h0M164.6 498.2h0M151.8 502.7h0M140.2 499.4h0M151.0 507.6h0M144.6 500.0h0M151.2 484.0h0M161.3 494.6h0M164.9 496.1h0M139.2 491.2h0M135.9 490.5h0M146.6 493.8h0M132.4 483.1h0M149.2 487.5h0M149.8 487.0h0M164.9 502.7h0M155.7 477.2h0M158.7 492.6h0M147.3 510.6h0M159.0 492.6h0M161.6 474.9h0M153.0 487.0h0M162.8 500.8h0M140.3 477.8h0M147.1 513.2h0M143.5 496.4h0M153.3 480.7h0M146.5 477.9h0M144.8 486.0h0M144.2 480.1h0M143.2 491.6h0M164.4 501.2h0M160.5 501.9h0M137.9 502.8h0M141.2 485.7h0M142.2 506.0h0M137.8 483.5h0M160.3 478.2h0M147.0 498.3h0M132.0 486.4h0M142.8 506.9h0M159.4 486.3h0M166.4 499.0h0M154.6 512.0h0M148.7 498.2h0M163.7 511.5h0M142.5 492.4h0M143.8 516.1h0M137.6 485.4h0M161.2 473.1h0M162.2 482.9h0M152.9 497.5h0M149.4 501.3h0M139.5 494.1h0M155.3 474.7h0M145.0 497.8h0M137.5 501.8h0M139.3 498.0h0M155.5 493.2h0M142.2 479.9h0M136.5 507.2h0M163.1 491.3h0M133.1 495.0h0M133.8 480.1h0M159.4 511.9h0M142.4 484.0h0M149.0 497.7h0M147.9 482.0h0M145.6 498.3h0M152.9 511.7h0M154.2 493.9h0M153.8 506.1h0M145.6 498.4h0M138.6 512.0h0M156.6 476.6h0M154.4 504.9h0M150.8 516.2h0M144.8 482.8h0M161.5 502.0h0M146.5 473.1h0M133.1 498.9h0M165.0 504.9h0M164.1 502.8h0M145.7 515.4h0M138.8 501.5h0M161.3 485.1h0M151.6 506.8h0M159.9 482.1h0M154.7 496.9h0M142.0 503.6h0M163.7 504.5h0M156.1 470.2h0M155.2 480.1h0M150.5 485.3h0M146.4 513.3h0M141.8 488.9h0M142.2 495.9h0M158.3 508.3h0M144.5 487.2h0M145.6 503.7h0M152.0 482.5h0M155.9 496.0h0M155.5 499.2h0M155.4 500.8h0M137.7 510.4h0M158.1 470.5h0M158.9 497.7h0M136.6 495.3h0M152.0 490.0h0M131.9 502.7h0M133.6 487.1h0M141.8 485.3h0M137.1 472.5h0M147.9 470.5h0M165.1 486.7h0M141.4 485.0h0M151.2 491.0h0M149.7 495.0h0M152.2 484.8h0M139.1 472.7h0M144.9 510.3h0M163.7 484.8h0M140.2 497.7h0M148.3 484.7h0M147.5 474.2h0M143.0 496.6h0" stroke="#0A6A4E" stroke-width="0.9" stroke-linecap="round" opacity="0.7" fill="none"/>
<path d="M120.3 492.2h0M142.7 484.8h0M113.1 488.1h0M142.4 496.9h0M140.9 507.2h0M132.6 485.5h0M117.0 516.6h0M136.0 469.6h0M142.7 477.4h0M128.9 501.7h0M119.5 492.0h0M115.8 471.3h0M129.8 507.9h0M118.6 497.4h0M115.9 488.9h0M133.7 481.7h0M129.0 519.2h0M132.7 505.3h0M120.3 498.1h0M143.8 484.3h0M136.5 474.7h0M127.0 480.8h0M129.5 519.8h0M136.6 513.2h0M117.4 497.9h0M118.4 480.4h0M143.4 509.2h0M133.0 517.9h0M124.7 467.1h0M121.5 479.8h0M131.5 474.3h0M129.9 487.8h0M133.6 490.4h0M115.1 487.5h0M146.6 479.8h0M130.4 507.2h0M140.1 487.2h0M116.5 486.7h0M121.6 473.4h0M144.8 472.2h0M135.4 512.5h0M143.6 496.1h0M137.1 511.2h0M125.1 488.7h0M142.8 492.6h0M126.7 477.5h0M132.3 472.4h0M140.8 475.3h0M140.5 487.0h0M122.5 498.9h0M121.9 492.2h0M135.5 468.5h0M123.8 509.4h0M121.2 518.2h0M127.8 503.5h0M121.1 494.8h0M132.6 473.2h0M131.2 502.1h0M130.5 494.7h0M119.6 504.9h0M117.8 510.0h0M133.5 481.9h0M142.3 497.3h0M136.2 486.6h0M117.9 493.8h0M154.2 508.6h0M127.2 503.2h0M136.2 477.7h0M128.1 496.0h0M117.8 522.1h0M143.9 491.9h0M140.4 507.7h0M131.8 475.9h0M139.3 492.1h0M147.1 481.2h0M138.3 464.9h0M120.1 492.1h0M139.7 494.5h0M149.9 501.4h0M119.5 515.7h0M142.4 482.7h0M110.8 498.4h0M142.6 496.9h0M119.1 487.5h0M116.0 494.4h0M131.6 468.2h0M110.9 485.8h0M140.6 497.3h0M121.1 504.4h0M117.3 496.3h0M121.5 478.7h0M119.1 464.4h0M108.4 489.0h0M137.2 474.7h0M107.8 492.0h0M113.9 489.4h0M143.7 510.7h0M131.5 470.1h0M129.8 471.1h0M132.6 500.6h0M118.9 481.1h0M125.8 502.0h0M138.0 513.5h0M132.5 494.7h0M137.5 498.8h0M117.2 492.5h0M125.6 490.1h0M109.2 487.6h0M127.6 475.7h0M121.8 471.5h0M123.4 505.0h0M135.9 498.1h0M120.4 480.9h0M124.2 520.4h0M113.4 488.9h0M127.6 519.3h0M121.1 480.2h0M120.9 515.2h0" stroke="#C8192E" stroke-width="0.9" stroke-linecap="round" opacity="0.7" fill="none"/>
<path d="M122.1 491.4h0M117.3 492.4h0M122.3 490.5h0M123.3 488.5h0M127.3 491.4h0M119.0 491.9h0M118.8 489.3h0M125.0 491.4h0M122.7 491.8h0M120.6 490.2h0M119.4 489.4h0M123.9 490.4h0M120.5 490.8h0M126.5 489.5h0M124.5 491.0h0M122.1 489.2h0M121.2 488.3h0M124.6 492.7h0M123.7 491.2h0M125.5 488.9h0M122.5 490.4h0M121.5 488.3h0M122.3 489.3h0M126.3 490.3h0M118.6 490.1h0M123.3 490.0h0M122.9 489.1h0M123.2 490.5h0M123.4 492.8h0M120.8 490.0h0M118.9 492.4h0M119.5 489.4h0M122.0 488.3h0M122.5 489.4h0M123.9 491.9h0M116.2 489.9h0M127.9 492.1h0M123.0 490.8h0M124.6 489.7h0M123.7 487.4h0M121.4 489.8h0M118.0 491.2h0M124.5 490.5h0M126.1 490.7h0M124.2 491.3h0M120.7 488.4h0M121.9 491.0h0M120.9 488.9h0M125.2 490.3h0M117.6 490.9h0M142.8 484.7h0M139.3 485.1h0M140.0 487.0h0M138.2 486.5h0M140.0 485.0h0M141.3 485.5h0M140.3 486.1h0M139.5 486.1h0M137.8 486.3h0M139.2 485.1h0M137.6 487.2h0M143.0 485.9h0M137.9 486.2h0M139.4 484.8h0M135.0 485.3h0M142.9 484.2h0M141.3 487.5h0M143.3 484.8h0M141.2 485.5h0M140.2 485.5h0M136.0 486.8h0M138.7 486.3h0M140.4 489.2h0M141.8 487.6h0M138.8 485.4h0M136.7 487.7h0M135.0 485.6h0M141.3 487.5h0M138.0 485.2h0M141.1 487.9h0M143.7 473.1h0M145.2 477.0h0M145.7 474.6h0M142.1 474.5h0M142.0 475.7h0M141.3 475.8h0M143.1 477.8h0M143.1 476.1h0M145.5 476.5h0M143.3 473.2h0M141.7 475.3h0M144.3 474.9h0M142.2 473.9h0M143.3 473.9h0M145.7 473.3h0M142.0 473.4h0M144.5 475.3h0M140.8 473.2h0M145.0 475.7h0M141.4 473.9h0M149.2 513.5h0M146.0 514.0h0M148.5 512.1h0M153.6 514.7h0M148.7 514.3h0M146.8 514.2h0M145.5 515.0h0M144.9 514.2h0M148.9 514.4h0M154.7 513.8h0M148.3 513.3h0M148.1 512.9h0M148.8 514.9h0M151.0 513.2h0M147.5 514.3h0M150.1 514.0h0M144.2 514.0h0M147.3 512.1h0M148.2 514.4h0M152.1 514.8h0M146.9 513.6h0M146.0 514.5h0M150.5 513.8h0M149.1 515.6h0M148.8 513.0h0M146.9 512.0h0M149.6 514.6h0M149.0 513.1h0M150.1 515.4h0M148.4 515.1h0" stroke="#0A6A4E" stroke-width="1.15" stroke-linecap="round" fill="none"/>
<path d="M119.0 510.2h0M127.4 502.7h0M123.9 504.7h0M122.1 489.1h0M139.9 488.7h0M123.6 477.0h0M136.2 505.3h0M132.1 502.0h0M135.4 489.6h0M114.9 482.9h0M123.2 510.0h0M112.7 492.9h0M141.9 491.7h0M123.7 476.6h0M129.1 515.3h0M143.4 489.8h0M110.3 501.0h0M130.3 514.5h0M128.6 510.3h0M120.3 499.9h0M134.1 510.2h0M111.4 488.4h0M126.6 482.1h0M127.8 468.5h0M124.3 509.0h0M132.2 496.0h0M115.9 476.7h0M117.2 475.1h0M115.7 494.9h0M129.8 485.7h0M116.8 502.9h0M123.9 509.4h0M127.1 476.8h0M127.9 503.7h0M122.6 493.8h0M130.3 517.3h0M139.8 484.6h0M132.3 482.4h0M126.9 478.9h0M125.1 498.6h0M124.4 500.7h0M119.3 507.5h0M122.9 484.9h0M123.8 504.8h0M121.5 505.9h0M136.0 519.4h0M118.1 489.3h0M134.9 482.2h0M113.2 488.3h0M132.0 498.7h0M130.8 487.5h0M124.1 489.8h0M122.3 477.0h0M111.6 486.7h0M125.7 486.0h0M115.3 466.6h0M130.1 474.1h0M126.6 486.9h0M127.3 504.2h0M117.0 516.8h0M138.0 481.9h0M130.9 519.7h0M111.6 507.8h0M118.8 480.2h0M131.1 481.5h0M137.0 507.4h0M120.1 502.3h0M131.8 482.5h0M115.4 507.7h0M115.5 470.9h0M123.9 490.5h0M129.4 493.1h0M137.1 504.4h0M140.0 489.1h0M119.6 493.0h0M124.3 513.5h0M133.5 510.4h0M138.8 498.1h0M124.8 490.4h0M129.4 464.7h0M118.5 504.2h0M115.1 502.0h0M123.4 513.8h0M125.8 483.5h0M117.1 495.2h0M116.9 518.3h0M111.5 505.5h0M128.4 482.4h0M124.3 497.9h0M124.6 511.4h0M133.5 477.8h0M136.6 485.5h0M122.4 489.1h0M122.0 492.2h0M119.3 504.8h0M113.3 475.8h0M126.4 517.1h0M112.1 491.7h0M135.2 496.9h0M113.9 480.5h0M132.0 493.9h0M113.3 482.2h0M131.0 496.9h0M112.8 476.3h0M115.7 500.6h0M116.3 472.2h0M118.1 505.4h0M123.2 478.0h0M119.4 479.6h0M123.2 507.4h0M131.9 473.5h0M138.3 499.2h0M134.1 488.9h0M118.4 477.3h0M112.2 498.6h0M124.4 477.9h0M134.2 493.9h0M117.7 502.8h0M135.4 509.7h0M119.7 467.1h0M120.5 512.7h0M120.1 512.9h0M119.7 510.5h0M111.2 487.1h0M117.2 479.5h0M117.7 487.5h0M127.4 490.0h0M138.6 506.3h0M128.5 509.4h0M139.7 488.5h0M116.6 476.8h0M121.6 466.0h0M120.0 500.4h0M112.5 509.5h0M133.2 499.5h0M124.6 504.3h0M116.3 485.0h0M126.1 511.4h0M135.3 497.5h0M125.4 492.7h0M129.6 507.0h0M131.5 501.9h0M120.9 487.0h0M133.9 485.2h0M127.5 494.8h0M111.9 510.4h0M133.9 517.2h0M121.2 488.1h0M110.3 487.6h0M119.7 485.1h0M127.0 519.3h0M115.9 474.7h0M138.6 500.7h0M137.9 492.3h0M131.9 484.3h0M108.9 504.7h0M119.2 508.8h0M132.4 515.0h0M118.2 502.6h0M125.4 505.5h0M135.2 483.6h0M114.4 472.3h0M129.8 479.7h0M119.0 478.9h0M125.9 498.2h0M133.6 490.4h0M121.1 479.8h0M121.9 468.1h0M138.7 500.7h0M136.8 472.7h0M126.7 491.3h0M118.9 496.7h0M115.3 494.9h0M116.5 500.3h0M129.8 503.7h0M111.4 489.5h0M117.7 486.3h0M112.2 508.5h0M124.8 518.2h0M118.6 508.8h0M117.6 497.8h0M136.0 506.1h0M136.5 500.2h0M121.6 502.3h0M111.5 476.3h0M138.2 482.4h0M135.9 505.4h0M113.1 485.8h0M125.4 489.5h0M130.6 505.5h0M112.7 478.0h0M119.8 503.4h0M126.0 503.8h0M135.1 477.0h0M134.2 510.8h0M115.8 483.1h0M126.2 478.3h0M127.2 497.2h0M126.4 492.4h0M129.1 521.2h0M110.9 488.3h0M133.2 494.3h0M118.6 509.4h0M128.2 519.9h0M142.4 511.3h0M120.4 503.0h0M121.1 507.8h0M125.3 499.4h0M128.0 496.8h0M125.2 470.7h0M125.6 474.1h0M120.9 513.6h0M118.4 513.0h0M131.0 498.4h0M131.9 500.4h0M116.8 483.9h0M125.7 478.0h0M110.4 485.0h0M132.0 500.3h0M122.7 516.2h0M140.0 504.7h0M119.6 505.6h0M133.0 495.3h0M123.6 480.7h0M112.3 486.9h0M124.4 499.6h0M112.8 485.4h0M125.0 503.4h0M124.9 517.8h0M133.6 513.7h0M134.2 493.0h0M125.3 500.4h0M127.8 492.4h0M136.8 488.7h0M120.8 473.8h0M120.1 512.5h0M139.9 484.4h0M129.7 511.8h0M136.7 507.3h0M125.7 493.6h0M129.3 471.9h0M133.0 480.6h0M134.1 513.4h0M134.9 497.6h0M132.5 473.5h0M111.7 495.5h0M111.9 490.6h0M137.9 473.3h0M125.6 504.6h0M114.3 484.9h0M125.7 503.2h0M125.7 488.9h0M136.0 477.5h0M138.9 497.0h0M124.9 478.4h0M138.3 472.9h0M131.1 476.5h0M115.7 472.9h0M124.2 503.6h0M129.1 481.4h0M113.0 488.3h0M121.0 498.7h0M108.7 480.4h0M131.5 513.2h0M127.1 514.7h0M122.7 505.8h0M118.7 510.3h0M119.3 486.8h0M127.0 504.6h0M125.2 478.0h0M123.9 517.5h0M126.4 485.6h0M128.3 497.1h0M116.4 479.9h0M117.4 487.5h0M132.9 485.5h0M137.1 493.3h0M121.6 474.6h0M133.1 509.4h0M115.0 482.6h0M133.0 473.5h0M124.4 492.6h0M127.4 510.9h0M123.1 487.7h0M131.2 498.4h0M131.5 471.4h0M127.3 474.1h0M115.5 506.2h0M114.9 507.7h0M130.0 509.9h0M129.0 471.4h0M131.8 491.8h0M127.7 490.2h0M123.4 491.6h0M126.2 469.6h0M116.2 508.4h0M125.1 506.0h0M136.3 505.1h0M111.5 500.8h0M126.0 479.0h0M120.1 489.3h0M115.0 509.3h0M119.8 505.2h0M137.0 482.2h0M127.5 484.0h0M128.7 515.7h0M132.4 479.2h0M113.1 503.3h0M122.4 494.9h0M123.0 469.9h0M128.6 477.0h0M137.8 473.2h0M118.9 489.2h0M126.0 479.8h0M121.1 503.4h0M128.1 502.5h0M130.0 496.9h0M111.1 477.4h0M111.4 497.4h0M122.5 484.5h0M114.5 499.3h0M131.4 507.7h0M118.5 518.6h0M133.0 503.2h0M139.6 505.3h0M128.7 474.8h0M139.6 504.3h0M118.4 483.9h0M125.0 484.0h0M112.6 486.5h0M139.0 504.7h0M122.5 475.5h0M114.4 487.9h0M125.5 486.7h0M139.0 495.9h0M129.5 479.1h0M131.8 481.8h0M131.2 496.9h0M136.2 491.3h0M135.1 510.1h0M113.2 490.5h0M118.9 484.9h0M119.3 481.3h0M134.8 484.5h0M130.6 502.6h0M122.5 489.3h0M134.4 504.4h0M126.0 487.2h0M134.5 503.7h0M122.2 494.2h0M136.9 476.7h0M130.6 469.7h0M119.9 472.9h0M129.4 492.9h0M113.2 499.0h0M116.7 497.5h0M132.0 483.5h0M140.0 493.2h0M124.6 485.3h0M131.7 491.8h0M128.7 505.4h0M116.8 496.5h0M132.6 497.6h0M136.5 499.7h0M132.4 507.6h0M127.0 513.7h0M128.9 512.4h0M120.5 472.1h0M121.3 487.4h0M127.4 486.7h0M128.7 483.2h0M129.1 508.3h0M115.1 499.1h0M127.4 508.4h0M133.9 499.9h0M118.7 494.2h0M114.1 479.7h0M118.2 473.6h0M139.9 488.8h0M124.8 516.4h0M113.9 485.0h0M128.8 500.2h0M142.4 499.2h0M113.0 513.9h0M121.9 472.2h0M116.0 486.9h0M130.8 485.4h0M129.5 517.8h0M127.9 503.2h0M115.2 513.2h0M131.2 499.2h0M123.0 492.7h0M111.0 501.9h0M140.6 505.6h0M113.8 499.9h0M125.6 499.6h0M129.0 515.5h0M122.8 473.3h0M116.2 482.9h0M123.0 497.0h0M133.4 479.4h0M109.0 489.8h0M120.8 508.4h0M117.3 478.8h0M124.6 515.0h0M113.9 483.0h0M117.0 482.6h0M112.2 509.9h0M131.9 477.5h0M137.5 495.8h0M123.1 512.0h0M128.6 480.1h0M126.0 472.3h0M124.7 517.2h0M132.2 472.3h0M129.5 478.2h0M125.0 492.3h0M110.5 505.1h0M117.8 470.3h0M131.8 498.1h0M133.9 476.5h0M123.3 519.0h0M116.1 500.4h0M114.9 495.3h0M119.4 465.8h0M127.1 485.2h0M140.8 489.4h0M119.0 501.5h0M118.2 488.9h0M128.1 471.1h0M130.8 486.2h0M117.2 494.4h0M135.4 495.5h0M124.5 484.2h0M137.0 509.1h0M128.3 499.5h0M134.7 500.0h0M116.3 489.3h0M134.4 478.0h0M141.3 485.2h0M109.1 501.7h0M132.2 473.8h0M135.2 497.9h0M130.2 491.6h0M119.7 486.2h0M110.7 504.3h0M132.5 490.1h0M112.3 496.1h0M125.4 509.3h0M120.8 486.2h0M120.5 477.3h0M117.7 506.5h0M134.9 501.4h0M126.6 484.1h0M130.7 517.6h0M117.9 492.4h0M110.0 505.2h0M120.1 486.6h0M118.2 510.1h0M116.5 487.1h0M123.2 494.0h0M129.5 517.4h0M125.8 492.9h0M119.1 483.6h0M117.1 504.5h0M136.2 477.8h0M125.3 492.4h0M126.5 517.7h0M129.8 502.6h0M118.9 490.6h0M121.0 478.8h0M121.9 512.8h0M119.6 494.5h0M131.3 498.2h0M138.4 493.6h0M127.1 493.6h0M131.9 499.6h0M115.6 478.5h0M114.8 488.0h0M135.0 494.0h0M138.5 501.4h0M110.0 493.0h0M137.0 481.7h0M135.3 484.2h0M137.4 485.2h0M117.1 480.6h0M137.7 488.7h0M124.0 488.1h0M133.6 497.2h0M136.7 485.1h0M133.2 479.1h0M121.0 489.7h0M124.5 506.9h0M125.2 477.2h0M133.7 483.8h0M122.9 487.1h0M135.2 503.1h0M120.0 476.3h0M142.2 494.8h0M135.5 501.4h0M140.8 498.1h0M130.3 477.3h0M125.7 477.4h0M133.3 511.3h0M134.7 513.8h0M126.6 502.0h0M123.8 503.6h0M137.1 500.4h0M116.7 496.6h0M114.3 494.9h0M123.3 477.4h0M117.5 492.3h0M136.1 499.6h0M128.4 491.4h0M129.3 515.6h0M137.1 501.7h0M117.6 474.4h0M122.6 508.3h0M119.2 505.3h0M134.6 484.5h0M119.6 507.2h0M140.5 502.3h0M137.5 483.6h0M119.7 506.8h0M115.2 491.9h0M124.7 508.2h0M112.0 508.4h0M119.5 472.7h0M139.5 479.9h0M116.9 507.8h0M119.1 478.6h0M129.1 492.4h0M141.2 487.9h0M119.4 516.3h0M120.0 500.8h0M121.6 496.9h0M135.2 492.8h0M114.6 476.0h0M136.5 512.4h0M116.8 489.9h0M123.5 519.1h0M124.3 520.6h0M109.9 483.4h0M117.9 487.3h0M136.5 483.0h0M120.8 483.9h0M130.6 490.7h0M124.0 499.9h0M130.9 513.7h0M131.0 498.9h0M123.8 498.2h0M124.9 470.0h0M136.6 475.7h0M138.7 487.6h0M125.3 488.5h0M135.3 480.2h0M131.2 505.9h0M118.4 488.0h0M120.4 516.9h0M124.8 514.9h0M108.0 487.0h0M122.5 485.9h0M130.4 506.1h0M132.4 483.6h0M122.0 479.1h0M110.2 483.2h0M117.0 472.7h0M135.6 508.4h0M143.3 494.9h0M117.0 480.9h0M120.6 479.7h0M116.0 485.7h0M121.5 489.1h0M127.1 504.7h0M113.3 493.9h0M115.7 476.9h0M118.2 497.5h0M136.4 510.9h0M120.5 500.3h0M112.2 512.3h0M117.9 482.0h0M128.5 481.4h0M135.1 478.0h0M107.7 475.3h0M134.2 501.6h0M128.7 511.3h0M130.6 505.8h0M126.7 488.3h0M121.2 488.7h0M132.8 475.7h0M125.8 508.1h0M130.6 500.0h0M138.0 502.4h0M129.5 518.5h0M130.7 496.9h0M136.4 496.7h0M135.5 508.1h0M116.1 493.3h0M137.8 484.5h0M136.5 510.4h0M130.4 491.1h0M134.3 491.9h0M137.0 481.6h0M136.7 488.2h0M120.9 505.7h0M129.9 491.8h0M121.1 493.5h0M115.2 503.5h0M131.2 506.6h0M136.6 501.3h0M138.8 505.4h0M116.1 506.4h0M140.0 496.5h0M126.1 497.1h0M135.9 473.8h0M115.8 493.3h0M132.2 473.7h0M118.3 494.1h0M119.1 511.2h0M140.0 500.0h0M135.4 488.6h0M130.7 511.9h0M111.0 511.6h0M112.0 488.6h0M113.4 473.5h0M119.8 486.3h0M138.4 512.8h0M135.2 493.6h0M131.3 473.9h0M129.7 514.4h0M114.9 508.4h0M117.1 478.8h0M128.0 488.3h0M129.3 517.7h0M130.9 510.5h0M120.2 503.6h0M125.9 485.5h0M129.4 471.3h0M112.8 482.0h0M126.5 513.8h0M134.5 509.2h0M128.8 473.0h0M118.5 473.7h0M126.7 500.1h0M125.5 502.5h0M136.5 506.1h0M120.2 512.5h0M123.3 489.2h0M122.7 522.1h0M121.1 492.2h0M122.7 499.9h0M117.3 508.3h0M111.8 489.8h0M112.0 492.8h0M132.5 473.4h0M128.5 497.7h0M126.0 489.0h0M118.9 503.7h0M138.9 489.1h0M133.0 489.4h0M129.9 476.3h0M134.1 500.3h0M134.8 490.1h0M126.2 477.3h0M123.2 500.4h0M135.8 489.2h0M132.0 477.4h0M122.9 479.4h0M119.0 502.8h0M134.4 504.7h0M117.6 502.3h0M126.2 502.7h0M115.3 511.4h0M121.1 491.5h0M121.2 471.9h0M133.0 492.9h0M118.7 521.4h0M132.8 489.7h0M132.8 515.0h0M135.5 512.4h0M121.2 482.4h0M133.0 505.5h0M125.1 478.2h0M133.4 488.0h0M120.9 477.6h0M135.6 499.7h0M136.1 481.3h0M109.7 503.4h0M121.3 482.1h0M115.3 487.8h0M121.7 483.6h0M124.4 482.9h0M121.1 473.1h0M117.1 475.6h0M122.1 481.0h0M119.1 481.6h0M116.8 488.1h0M116.0 479.6h0M119.3 479.3h0M116.3 479.5h0M119.2 481.9h0M117.5 481.1h0M116.6 483.2h0M114.1 482.0h0M118.9 482.5h0M123.2 482.2h0M110.1 480.7h0M122.7 481.8h0M115.9 480.7h0M118.5 482.4h0M120.6 479.9h0M117.3 480.9h0M117.2 479.4h0M120.9 483.1h0M119.8 481.2h0M115.6 481.5h0M122.7 482.3h0M126.0 482.2h0M121.0 477.0h0M117.6 483.1h0M117.5 485.6h0M123.6 477.8h0M115.9 480.5h0M117.2 483.5h0M117.4 485.3h0M119.9 474.7h0M120.5 482.2h0M113.3 486.9h0M121.3 479.4h0M121.9 483.8h0M118.1 483.0h0M119.5 489.2h0M119.4 479.1h0M122.5 477.0h0M121.1 476.9h0M113.2 479.5h0M117.6 487.2h0M119.8 479.3h0M114.3 486.5h0M121.1 481.5h0M123.5 482.5h0M119.6 481.5h0M119.9 490.3h0M119.0 480.0h0M118.1 480.9h0M114.8 479.2h0M124.2 479.1h0M122.3 482.4h0M120.5 481.7h0M120.0 485.4h0M116.3 481.8h0M119.6 486.6h0M121.6 490.0h0M113.2 475.5h0M116.7 488.7h0M115.8 484.1h0M117.6 483.1h0M116.9 485.8h0M117.5 507.9h0M124.3 508.0h0M117.2 507.8h0M120.6 508.2h0M122.7 506.9h0M111.8 505.3h0M122.9 504.7h0M116.9 508.3h0M122.0 503.7h0M117.5 504.8h0M119.2 512.0h0M118.1 500.6h0M123.3 508.6h0M117.7 507.6h0M118.9 508.1h0M120.3 505.3h0M122.8 508.2h0M115.7 499.8h0M116.1 502.1h0M115.6 505.9h0M119.6 504.0h0M114.3 505.4h0M118.8 500.9h0M122.0 503.6h0M117.5 506.2h0M125.2 505.4h0M117.9 504.8h0M112.6 509.4h0M121.1 508.2h0M117.3 506.1h0M117.4 506.8h0M115.7 503.2h0M123.1 501.6h0M117.4 506.2h0M120.8 503.8h0M117.9 504.6h0M124.4 506.6h0M120.9 503.4h0M122.3 505.4h0M119.7 505.1h0M120.8 505.9h0M121.0 508.3h0M118.5 510.0h0M115.8 502.6h0M116.4 502.8h0M119.8 509.9h0M116.5 502.7h0M115.5 503.2h0M123.0 503.3h0M121.0 501.7h0M118.2 509.4h0M118.2 503.3h0M115.5 503.5h0M112.6 508.5h0M117.9 509.5h0M118.6 504.8h0M121.2 506.0h0M115.8 504.3h0M122.5 505.2h0M115.3 505.3h0M117.2 507.7h0M120.8 507.7h0M118.8 504.6h0M121.3 506.1h0M117.4 504.5h0M122.5 505.4h0M118.5 511.6h0M120.7 506.0h0M124.5 500.8h0M122.6 500.2h0M133.2 479.8h0M133.5 476.3h0M129.0 477.8h0M134.0 475.7h0M131.4 474.2h0M129.2 477.1h0M131.4 477.6h0M129.5 478.3h0M128.3 477.8h0M128.1 478.5h0M135.8 480.1h0M126.5 476.6h0M133.9 480.5h0M126.1 481.7h0M131.7 475.5h0M124.6 479.4h0M128.8 477.1h0M134.6 476.4h0M131.0 479.1h0M126.7 482.9h0M127.5 475.8h0M128.7 476.1h0M137.6 479.7h0M133.4 477.6h0M130.1 480.9h0M130.8 475.3h0M130.1 479.8h0M131.2 477.8h0M136.7 481.7h0M132.2 478.0h0M129.1 476.4h0M124.8 471.8h0M127.9 479.2h0M128.8 477.8h0M132.4 476.7h0M128.2 473.9h0M127.7 476.9h0M127.1 478.1h0M128.6 477.5h0M126.7 484.3h0M129.8 483.3h0M127.4 478.3h0M132.4 479.1h0M126.7 479.5h0M127.6 482.4h0M132.6 478.8h0M126.7 479.0h0M132.9 475.1h0M128.2 478.0h0M125.8 483.0h0M133.1 479.3h0M129.3 473.9h0M124.7 477.1h0M130.5 478.5h0M132.8 477.3h0M129.6 477.2h0M127.3 479.3h0M126.6 475.1h0M132.7 473.3h0M133.7 478.5h0" stroke="#C8192E" stroke-width="1.15" stroke-linecap="round" fill="none"/>
<path d="M130.5 518.5h0M126.7 518.2h0M131.9 520.0h0M127.2 521.8h0M129.3 517.3h0M130.8 517.8h0M127.4 518.3h0M130.4 518.2h0M131.3 519.3h0M131.1 518.8h0M130.2 518.9h0M127.2 516.0h0M134.0 516.0h0M126.3 519.2h0M130.4 517.7h0M134.6 520.4h0M127.7 518.6h0M123.1 519.1h0M130.2 515.5h0M126.4 520.7h0M129.2 516.8h0M130.2 518.5h0M128.7 517.3h0M131.6 519.0h0M127.4 516.8h0M130.3 520.0h0M129.1 518.2h0M131.4 518.9h0M131.0 520.1h0M130.4 519.2h0M125.1 520.3h0M132.0 517.7h0M127.8 518.4h0M126.7 521.4h0M133.7 518.8h0M129.6 521.2h0M127.8 518.8h0M129.3 519.0h0M127.9 521.7h0M127.8 517.8h0M126.0 518.9h0M122.2 519.1h0M134.1 516.8h0M127.7 521.4h0M132.6 519.6h0M127.0 518.5h0M130.3 516.8h0M127.1 521.2h0M132.2 518.9h0M127.3 519.8h0M124.6 517.1h0M134.9 518.3h0M127.5 519.2h0M135.3 520.2h0M131.3 518.7h0M130.0 518.3h0M125.7 520.3h0M127.2 520.9h0M127.7 516.4h0M126.9 518.0h0M135.7 512.5h0M138.4 512.8h0M137.5 515.0h0M137.6 512.2h0M135.4 511.6h0M138.9 514.5h0M139.2 512.5h0M135.3 513.3h0M136.6 514.6h0M139.0 517.0h0M140.2 513.3h0M134.7 513.9h0M137.1 514.8h0M137.7 514.0h0M137.8 512.6h0" stroke="#33A6DD" stroke-width="1.15" stroke-linecap="round" fill="none"/>
<rect x="106.4" y="463.2" width="62.9" height="60.4" fill="none" stroke="#7a7a7a" stroke-width="0.75"/>
<text x="140.4" y="461" font-size="8.9" fill="#222" text-anchor="middle" textLength="31.8" lengthAdjust="spacingAndGlyphs">Relapse</text>
<line x1="107.3" y1="523.6" x2="107.3" y2="525.6" stroke="#7a7a7a" stroke-width="0.6"/>
<text x="105.3" y="534.4" font-size="7.3" fill="#333" stroke="#333" stroke-width="0.1" text-anchor="middle">−40</text>
<line x1="121.7" y1="523.6" x2="121.7" y2="525.6" stroke="#7a7a7a" stroke-width="0.6"/>
<text x="119.7" y="534.4" font-size="7.3" fill="#333" stroke="#333" stroke-width="0.1" text-anchor="middle">−20</text>
<line x1="136.5" y1="523.6" x2="136.5" y2="525.6" stroke="#7a7a7a" stroke-width="0.6"/>
<text x="136.8" y="534.4" font-size="7.3" fill="#333" stroke="#333" stroke-width="0.1" text-anchor="middle">0</text>
<line x1="150.7" y1="523.6" x2="150.7" y2="525.6" stroke="#7a7a7a" stroke-width="0.6"/>
<text x="151" y="534.4" font-size="7.3" fill="#333" stroke="#333" stroke-width="0.1" text-anchor="middle">20</text>
<line x1="165.2" y1="523.6" x2="165.2" y2="525.6" stroke="#7a7a7a" stroke-width="0.6"/>
<text x="165.5" y="534.4" font-size="7.3" fill="#333" stroke="#333" stroke-width="0.1" text-anchor="middle">40</text>
<ellipse cx="224.0" cy="484.3" rx="7.7" ry="6.3" fill="#0A6A4E" opacity="0.3" filter="url(#bl)" transform="rotate(0 224.0 484.3)"/>
<ellipse cx="222.7" cy="507.9" rx="7.7" ry="4.5" fill="#0A6A4E" opacity="0.3" filter="url(#bl)" transform="rotate(0 222.7 507.9)"/>
<path d="M185.6 488.2h0M210.7 510.4h0M212.2 481.8h0M199.5 511.4h0M199.7 479.5h0M203.5 469.0h0M207.5 484.1h0M203.9 476.5h0M200.7 491.8h0M224.7 505.3h0M216.7 504.6h0M223.8 478.3h0M206.8 508.0h0M208.7 475.8h0M205.0 476.8h0M210.0 502.3h0M204.7 471.7h0M191.8 491.9h0M208.2 500.7h0M207.4 489.5h0M217.2 476.4h0M218.7 482.7h0M200.9 489.1h0M204.5 504.0h0M195.7 490.5h0M203.4 481.0h0M220.0 495.5h0M202.9 495.4h0M211.4 518.8h0M205.4 497.5h0M228.2 486.4h0M222.6 499.6h0M207.7 492.4h0M194.8 492.6h0M209.7 470.1h0M209.1 478.1h0M213.3 480.6h0M215.4 489.4h0M227.4 505.4h0M209.8 477.2h0M222.5 507.9h0M213.0 486.7h0M206.3 499.3h0M200.1 490.1h0M198.2 500.1h0M201.3 468.4h0M225.3 512.4h0M214.7 519.3h0M226.9 485.8h0M207.3 492.9h0M211.8 468.8h0M215.2 475.5h0M200.9 500.4h0M205.4 477.0h0M219.9 505.6h0M194.4 496.6h0M203.4 497.8h0M205.0 471.4h0M219.3 488.0h0M199.1 504.3h0" stroke="#0A6A4E" stroke-width="0.9" stroke-linecap="round" opacity="0.7" fill="none"/>
<path d="M197.1 468.1h0M192.4 478.7h0M197.1 491.7h0M189.7 478.7h0M189.4 500.0h0M204.3 503.2h0M186.8 493.7h0M203.9 488.6h0M209.1 474.5h0M201.5 487.0h0M184.8 486.0h0M197.2 510.8h0M201.0 484.3h0M209.1 479.2h0M203.1 488.0h0M204.3 519.4h0M187.3 512.0h0M192.1 519.6h0M202.4 500.4h0M189.9 483.7h0M201.3 498.2h0M211.7 485.3h0M199.1 496.9h0M191.6 492.8h0M219.0 490.6h0M190.8 496.0h0M206.5 490.0h0M218.0 489.3h0M189.1 465.6h0M190.1 499.8h0M190.0 515.5h0M195.5 514.5h0M194.9 501.3h0M190.1 478.3h0M188.6 475.9h0M183.8 497.0h0M199.2 474.5h0M193.2 505.1h0M190.1 501.3h0M210.2 486.3h0M212.1 489.8h0M213.4 495.7h0M187.5 479.5h0M186.4 495.7h0M192.2 482.3h0M213.6 502.6h0M212.2 490.2h0M208.6 506.4h0M188.7 508.6h0M195.6 483.8h0M198.8 495.2h0M189.3 505.1h0M191.4 490.5h0M206.3 469.2h0M196.1 495.1h0M193.4 513.2h0M208.8 499.4h0M189.8 494.3h0M181.6 499.4h0M204.2 480.9h0M191.4 473.3h0M211.0 486.3h0M195.7 484.8h0M200.5 501.6h0M185.1 489.4h0M184.4 483.2h0M201.1 520.5h0M214.9 497.2h0M207.3 491.5h0M198.3 511.4h0M208.9 493.2h0M190.5 509.3h0M184.3 508.1h0M194.7 472.3h0M207.5 497.8h0M196.2 517.4h0M202.2 481.4h0M180.2 485.0h0M180.5 507.0h0M190.1 475.1h0M186.4 489.2h0M201.1 478.0h0M201.0 504.0h0M194.9 478.7h0M217.4 493.5h0M199.7 514.1h0M195.0 474.1h0M183.7 496.4h0M200.3 487.2h0M202.8 508.0h0" stroke="#C8192E" stroke-width="0.9" stroke-linecap="round" opacity="0.7" fill="none"/>
<path d="M223.1 477.9h0M215.9 476.3h0M226.1 484.1h0M213.0 482.3h0M225.0 491.0h0M225.5 488.6h0M220.4 476.0h0M218.8 476.6h0M224.7 480.4h0M231.8 485.5h0M226.3 487.8h0M229.2 482.6h0M222.2 491.3h0M231.8 489.3h0M218.2 486.4h0M217.6 497.1h0M221.3 489.5h0M215.6 478.6h0M234.1 482.1h0M217.2 476.3h0M218.9 485.1h0M219.0 477.9h0M216.1 490.3h0M226.2 493.1h0M212.1 483.6h0M219.5 481.2h0M223.0 482.5h0M227.6 486.2h0M220.1 490.3h0M231.0 484.4h0M223.7 487.0h0M233.7 483.7h0M229.6 481.8h0M220.8 485.2h0M220.5 479.9h0M222.9 483.6h0M224.8 479.8h0M229.5 489.4h0M228.6 479.7h0M228.4 479.4h0M229.8 483.4h0M224.3 481.6h0M227.5 480.1h0M222.7 491.4h0M230.1 490.0h0M214.5 485.4h0M224.8 486.6h0M217.2 478.4h0M215.9 494.8h0M215.9 493.6h0M228.4 476.5h0M229.3 485.0h0M233.5 484.8h0M218.4 476.9h0M223.9 480.6h0M222.1 483.4h0M222.6 490.1h0M215.5 476.8h0M230.0 492.7h0M224.5 492.5h0M227.5 479.0h0M219.1 481.7h0M231.8 488.7h0M232.4 472.1h0M223.0 493.0h0M231.3 486.3h0M220.7 490.3h0M224.4 488.0h0M225.4 483.6h0M225.8 478.1h0M225.5 480.7h0M211.8 490.0h0M226.9 479.8h0M221.1 477.9h0M226.1 473.8h0M232.9 484.1h0M209.3 489.0h0M214.1 479.4h0M214.8 486.2h0M225.1 480.4h0M232.7 486.1h0M227.0 492.7h0M224.6 493.5h0M224.7 493.5h0M215.4 483.6h0M215.4 484.4h0M223.6 489.1h0M225.3 496.1h0M218.1 488.8h0M218.7 484.9h0M229.1 493.2h0M223.7 479.0h0M222.6 492.0h0M219.3 486.5h0M219.7 486.4h0M218.4 488.2h0M229.2 484.9h0M226.3 494.0h0M213.1 489.5h0M217.0 477.0h0M231.0 479.8h0M216.5 480.1h0M224.7 485.8h0M221.5 493.7h0M216.3 486.2h0M223.9 478.8h0M229.0 494.0h0M232.2 477.8h0M221.8 492.5h0M225.8 479.2h0M228.6 477.7h0M229.7 489.2h0M227.3 490.6h0M215.4 493.7h0M229.1 480.0h0M209.5 488.3h0M222.6 476.8h0M229.8 478.7h0M215.8 483.2h0M226.6 485.0h0M234.5 485.9h0M232.3 478.9h0M224.7 476.6h0M219.5 474.7h0M219.0 477.3h0M230.0 482.9h0M217.5 490.6h0M228.6 491.9h0M235.1 485.1h0M212.9 486.8h0M216.7 483.3h0M213.0 478.2h0M224.4 476.5h0M217.3 477.2h0M222.8 481.9h0M213.6 484.3h0M212.0 486.1h0M217.0 488.8h0M221.1 491.6h0M234.0 478.2h0M228.1 485.3h0M234.0 484.2h0M231.8 486.0h0M223.0 492.6h0M227.2 479.9h0M233.7 485.3h0M227.2 479.0h0M232.3 491.4h0M234.5 484.1h0M228.9 493.5h0M213.1 478.8h0M232.7 484.7h0M223.9 489.1h0M218.9 488.8h0M218.2 485.9h0M214.0 489.1h0M211.5 489.2h0M231.7 487.5h0M216.8 490.7h0M232.2 480.2h0M230.9 488.6h0M224.3 489.1h0M230.4 483.7h0M216.4 487.6h0M215.5 492.0h0M222.4 477.2h0M217.2 490.3h0M221.6 489.3h0M225.8 489.7h0M216.2 482.0h0M216.0 492.3h0M224.1 485.6h0M209.5 490.1h0M216.4 485.2h0M230.8 479.7h0M212.6 488.0h0M218.1 487.2h0M220.0 484.5h0M214.4 483.7h0M229.3 480.6h0M216.2 487.8h0M214.3 488.2h0M230.1 475.4h0M229.6 482.7h0M232.3 483.6h0M223.3 491.9h0M223.4 487.7h0M212.0 481.1h0M225.8 493.3h0M219.9 489.1h0M221.2 481.9h0M225.1 491.8h0M216.9 482.3h0M225.4 492.0h0M231.1 479.8h0M227.4 475.6h0M227.4 476.8h0M215.7 490.1h0M223.5 485.0h0M216.2 481.5h0M227.6 491.2h0M231.4 489.2h0M214.7 477.6h0M225.5 478.1h0M234.9 486.8h0M221.8 486.7h0M223.0 484.7h0M230.1 485.8h0M219.7 489.6h0M233.9 490.4h0M225.6 484.3h0M236.1 489.6h0M219.6 476.3h0M232.3 488.9h0M230.5 477.9h0M224.4 492.7h0M222.5 477.9h0M216.1 479.8h0M218.3 483.2h0M219.1 480.4h0M219.2 486.8h0M232.9 484.3h0M221.2 479.8h0M226.1 485.5h0M218.5 477.3h0M223.4 483.0h0M223.7 492.3h0M225.6 494.9h0M224.0 483.3h0M220.7 490.8h0M222.7 483.4h0M215.5 480.6h0M219.7 492.1h0M234.3 486.4h0M233.7 496.6h0M231.6 481.9h0M223.8 479.9h0M229.6 481.4h0M224.1 486.9h0M228.5 483.7h0M225.3 479.0h0M218.3 473.2h0M221.8 491.3h0M225.9 475.4h0M217.8 482.8h0M225.0 480.1h0M218.6 480.8h0M228.4 494.4h0M221.1 481.0h0M212.6 487.1h0M221.2 487.3h0M225.1 491.6h0M211.1 479.0h0M212.3 485.2h0M212.3 485.8h0M218.3 492.4h0M218.8 478.9h0M235.0 486.1h0M219.9 494.0h0M230.4 496.0h0M223.1 491.6h0M232.2 484.0h0M214.0 483.6h0M224.7 491.4h0M212.8 483.8h0M225.6 488.0h0M230.2 487.4h0M208.4 487.5h0M214.0 491.9h0M209.8 486.4h0M216.6 482.9h0M230.1 483.2h0M215.5 479.2h0M211.6 484.3h0M225.9 490.9h0M212.4 483.3h0M216.6 481.8h0M226.6 493.7h0M224.2 474.7h0M222.9 486.6h0M217.8 485.9h0M219.0 472.5h0M218.6 480.3h0M219.1 483.9h0M222.6 494.2h0M231.2 485.5h0M218.6 491.9h0M231.0 477.7h0M227.0 479.8h0M223.1 491.1h0M222.8 477.7h0M212.6 484.3h0M216.7 482.1h0M214.2 492.2h0M212.2 487.6h0M233.4 482.4h0M221.4 478.4h0M226.2 481.5h0M215.9 487.5h0M213.7 481.3h0M226.6 489.3h0M213.2 484.9h0M215.0 483.0h0M228.6 487.6h0M213.8 478.9h0M222.3 474.2h0M218.7 478.7h0M213.3 489.4h0M214.1 488.7h0M225.9 481.0h0M216.6 477.5h0M218.7 489.3h0M220.7 478.2h0M225.6 483.5h0M208.8 485.1h0M226.2 485.0h0M224.7 484.8h0M219.5 496.2h0M221.5 479.8h0M220.9 489.9h0M229.2 490.3h0M234.4 484.3h0M221.8 486.6h0M227.5 478.7h0M221.8 480.4h0M223.5 486.6h0M227.0 491.9h0M228.5 488.9h0M223.5 495.5h0M222.1 481.0h0M228.7 485.3h0M222.8 487.2h0M216.0 482.5h0M219.9 477.4h0M228.5 494.3h0M222.3 491.6h0M221.5 476.8h0M225.6 481.9h0M222.6 493.2h0M231.8 478.3h0M227.2 488.7h0M233.7 488.4h0M207.4 486.8h0M221.9 477.2h0M214.0 481.4h0M229.9 482.8h0M220.3 494.9h0M216.0 475.1h0M224.1 492.6h0M231.0 481.7h0M228.8 492.6h0M226.0 476.9h0M233.4 482.3h0M220.0 475.9h0M220.9 476.5h0M221.3 483.7h0M232.3 481.3h0M223.3 477.6h0M217.9 494.6h0M220.9 492.8h0M219.6 478.3h0M232.0 492.7h0M229.7 489.5h0M214.3 481.9h0M229.4 482.2h0M227.8 486.3h0M215.5 484.0h0M216.1 481.1h0M231.2 486.0h0M219.7 483.6h0M221.3 496.2h0M223.0 490.8h0M210.5 485.6h0M217.0 486.8h0M228.6 473.3h0M228.0 481.2h0M221.2 487.7h0M213.5 487.6h0M230.4 492.1h0M212.6 485.8h0M214.2 489.8h0M232.4 490.7h0M228.9 480.1h0M225.9 493.0h0M217.5 482.3h0M226.3 487.6h0M220.5 485.7h0M215.7 484.8h0M208.4 489.8h0M214.3 484.1h0M234.2 488.2h0M230.8 486.3h0M226.9 486.9h0M226.8 487.8h0M216.4 478.6h0M211.5 486.5h0M231.5 483.9h0M232.3 478.1h0M229.6 480.6h0M220.0 473.2h0M222.3 493.2h0M224.3 480.7h0M225.7 481.3h0M213.4 488.7h0M217.6 489.2h0M230.9 485.8h0M219.2 490.8h0M220.4 487.2h0M230.1 487.4h0M231.2 478.5h0M229.7 482.1h0M215.3 487.5h0M228.3 481.0h0M230.3 484.7h0M215.0 487.4h0M215.8 491.2h0M226.8 481.1h0M225.6 478.4h0M217.9 481.8h0M223.4 490.2h0M222.0 488.5h0M233.1 484.7h0M217.8 482.0h0M223.4 491.8h0M224.4 478.8h0M231.2 492.8h0M214.0 480.2h0M228.4 489.2h0M219.6 494.5h0M223.4 488.1h0M222.0 485.0h0M224.3 481.2h0M219.4 492.7h0M223.9 489.1h0M223.0 487.9h0M219.0 490.4h0M231.0 489.9h0M220.1 487.6h0M215.9 479.9h0M214.9 479.4h0M220.6 479.5h0M219.0 494.0h0M215.7 492.9h0M222.6 479.6h0M216.3 486.7h0M211.0 483.5h0M218.2 476.3h0M211.3 486.6h0M215.7 487.6h0M218.0 487.1h0M225.5 490.8h0M227.3 488.8h0M227.5 474.5h0M215.5 486.5h0M218.6 477.2h0M226.6 476.6h0M224.1 483.6h0M226.5 481.7h0M221.1 486.3h0M216.2 494.3h0M224.6 492.3h0M232.9 481.1h0M224.0 484.5h0M234.2 489.4h0M222.5 491.4h0M210.5 483.0h0M228.3 486.5h0M226.8 483.2h0M231.0 491.7h0M217.9 491.8h0M223.2 478.6h0M227.6 484.1h0M222.7 491.2h0M233.7 483.2h0M212.3 491.5h0M226.6 486.0h0M229.4 480.1h0M209.9 489.0h0M232.1 486.3h0M227.4 476.4h0M216.1 483.9h0M224.8 486.3h0M228.0 484.2h0M229.4 488.7h0M212.8 485.4h0M231.3 486.6h0M216.3 492.4h0M220.5 494.2h0M233.5 489.0h0M217.6 477.7h0M231.2 492.0h0M234.5 478.9h0M223.2 486.3h0M217.5 485.7h0M225.7 484.8h0M214.1 492.0h0M228.2 491.2h0M226.5 486.6h0M224.1 483.3h0M214.0 493.6h0M224.2 490.6h0M231.3 485.1h0M228.4 485.5h0M219.7 490.3h0M233.2 480.9h0M214.4 488.5h0M211.9 482.2h0M219.0 491.1h0M235.0 482.1h0M233.3 480.0h0M219.0 480.9h0M209.9 484.5h0M215.5 488.7h0M224.8 482.5h0M227.1 490.5h0M219.1 488.9h0M229.1 490.3h0M232.8 489.6h0M215.3 476.9h0M232.3 486.7h0M231.9 482.6h0M218.5 490.7h0M217.6 476.4h0M222.8 492.9h0M221.7 485.9h0M224.4 477.5h0M230.6 482.8h0M234.8 488.2h0M223.4 492.2h0M227.2 490.5h0M229.3 477.6h0M226.9 490.2h0M213.8 483.4h0M233.2 490.3h0M227.9 475.3h0M232.6 481.6h0M220.2 493.4h0M217.0 491.4h0M213.2 484.3h0M216.7 492.7h0M224.5 479.1h0M231.1 482.4h0M237.7 487.3h0M232.2 491.2h0M233.4 479.4h0M229.9 482.6h0M226.0 472.6h0M215.1 482.0h0M218.7 481.1h0M214.8 480.6h0M223.4 486.8h0M213.8 484.9h0M231.3 483.9h0M215.9 487.3h0M221.4 494.5h0M213.7 484.1h0M219.3 488.3h0M224.0 478.5h0M227.7 484.6h0M221.7 484.8h0M227.8 511.1h0M222.5 512.6h0M220.5 502.0h0M211.0 506.3h0M233.1 515.1h0M223.0 513.6h0M222.1 508.6h0M229.4 508.6h0M228.9 509.8h0M237.4 506.3h0M227.3 508.3h0M230.3 517.0h0M214.6 513.2h0M216.0 506.6h0M211.1 505.0h0M211.4 506.9h0M231.7 514.6h0M218.8 510.1h0M217.6 500.9h0M220.6 515.1h0M227.3 512.5h0M210.1 505.9h0M216.7 501.3h0M217.2 510.3h0M211.9 506.4h0M214.5 512.6h0M231.9 509.5h0M222.5 511.4h0M226.8 515.2h0M224.6 515.1h0M221.8 514.2h0M226.7 500.2h0M227.3 507.6h0M217.7 510.5h0M217.1 510.5h0M209.9 509.4h0M222.3 504.3h0M212.5 511.6h0M227.9 505.0h0M227.8 515.2h0M215.6 506.4h0M214.3 508.3h0M219.5 500.6h0M225.3 510.2h0M209.6 506.1h0M213.4 504.5h0M223.2 506.6h0M220.7 504.4h0M210.2 513.2h0M216.1 501.4h0M235.0 508.4h0M228.3 515.0h0M226.3 514.5h0M222.8 504.6h0M223.2 509.7h0M215.2 509.6h0M212.5 504.6h0M232.4 504.3h0M229.8 503.8h0M222.0 505.8h0M219.0 507.6h0M214.7 509.5h0M229.4 506.0h0M218.3 508.4h0M230.2 502.9h0M213.9 505.5h0M213.2 503.5h0M232.5 512.2h0M214.6 513.4h0M229.2 503.8h0M220.4 514.9h0M223.3 501.6h0M229.3 508.2h0M216.2 507.4h0M219.1 501.7h0M210.7 504.8h0M231.5 508.7h0M217.3 511.1h0M220.3 514.4h0M218.9 509.9h0M226.1 506.4h0M218.1 505.0h0M216.0 503.6h0M213.5 504.8h0M226.0 499.7h0M233.5 508.7h0M210.5 506.8h0M214.1 514.1h0M232.6 507.8h0M226.4 505.9h0M223.1 515.7h0M224.4 503.9h0M229.4 510.0h0M226.9 515.6h0M225.7 504.4h0M220.5 510.1h0M212.5 511.7h0M214.8 511.6h0M224.0 504.5h0M217.3 506.6h0M228.0 511.1h0M226.3 516.7h0M225.4 498.3h0M212.1 506.3h0M215.3 502.0h0M222.6 508.5h0M221.4 499.6h0M214.3 505.8h0M225.0 501.3h0M222.7 504.7h0M235.4 512.4h0M222.8 503.6h0M218.8 506.8h0M224.1 504.0h0M217.6 510.5h0M213.7 511.2h0M217.0 502.7h0M234.1 510.1h0M221.9 502.1h0M222.6 505.8h0M217.5 515.2h0M228.1 501.7h0M221.6 510.8h0M231.2 502.4h0M216.2 512.9h0M211.8 509.9h0M212.4 508.3h0M221.8 513.3h0M234.4 503.1h0M217.8 511.5h0M228.9 509.7h0M222.6 515.2h0M231.4 502.7h0M222.0 507.3h0M210.7 505.6h0M230.2 499.2h0M231.4 509.6h0M225.5 510.8h0M224.9 510.8h0M222.8 509.4h0M214.4 511.8h0M221.2 509.8h0M216.5 507.8h0M220.6 513.8h0M230.9 514.8h0M214.9 511.3h0M235.8 508.0h0M211.5 508.8h0M216.6 503.2h0M215.9 516.3h0M223.0 514.6h0M209.1 507.8h0M216.1 503.5h0M221.4 501.0h0M234.8 507.1h0M229.1 510.6h0M210.1 508.6h0M216.5 502.1h0M220.2 503.4h0M218.7 499.6h0M215.7 510.8h0M222.6 501.3h0M232.8 508.8h0M224.5 517.8h0M214.2 512.8h0M231.2 504.1h0M224.6 503.5h0M232.7 502.4h0M223.8 509.6h0M219.5 509.4h0M222.7 510.8h0M212.3 506.7h0M216.0 504.0h0M225.0 508.6h0M227.0 501.4h0M224.8 513.0h0M229.3 512.2h0M229.2 505.0h0M223.3 505.0h0M215.1 509.9h0M230.0 511.7h0M220.9 514.8h0M222.9 502.2h0M225.1 510.9h0M230.8 502.6h0M221.3 516.3h0M225.7 503.2h0M219.6 502.5h0M227.3 502.4h0M222.3 507.6h0M219.8 512.0h0M212.5 502.5h0M218.6 502.8h0M218.9 514.4h0M220.7 506.9h0M225.7 502.6h0M229.5 510.1h0M227.8 507.2h0M213.3 508.8h0M222.7 500.4h0M218.4 514.5h0M221.0 505.7h0M231.7 514.2h0M234.6 506.4h0M223.8 510.5h0M211.2 506.4h0M216.0 505.5h0M232.9 506.9h0M220.6 499.0h0M225.0 503.3h0M222.5 512.1h0M210.6 510.7h0M222.7 509.2h0M223.6 507.7h0M219.5 508.2h0M231.3 508.8h0M214.8 508.2h0M213.8 505.9h0M230.0 511.4h0M216.4 505.0h0M218.9 507.9h0M212.9 511.0h0M229.6 510.7h0M233.6 505.7h0M223.1 513.9h0M224.2 510.2h0M226.0 507.7h0M218.5 510.7h0M218.2 506.6h0M218.5 506.2h0M214.7 511.6h0M234.5 501.0h0M217.1 502.9h0M217.7 513.0h0M220.6 512.2h0M224.6 510.6h0M218.8 506.8h0M220.0 511.8h0M221.6 513.3h0M229.4 502.6h0M225.2 505.4h0M218.3 514.0h0M230.3 510.4h0M231.8 508.5h0M228.8 509.6h0M224.4 513.0h0M229.3 500.8h0M215.9 502.3h0M225.4 507.4h0M217.8 508.0h0M216.6 512.8h0M225.0 510.4h0M230.7 507.4h0M211.8 502.8h0M221.5 510.3h0M211.6 511.8h0M214.5 505.0h0M228.7 513.0h0M210.9 509.0h0M216.6 514.6h0M210.3 505.4h0M235.1 509.6h0M214.3 504.5h0M224.2 517.5h0M217.0 510.5h0M209.7 508.9h0M213.2 511.7h0M224.1 512.1h0M231.3 508.1h0M221.0 514.0h0M218.2 504.0h0M213.2 512.2h0M221.5 513.6h0M221.4 508.9h0M216.5 508.8h0M214.9 506.8h0M214.3 506.3h0M225.7 508.5h0M219.8 514.7h0M225.9 508.7h0M225.7 508.7h0M228.8 515.0h0M218.2 503.1h0M215.8 514.6h0M227.6 503.8h0M215.1 509.5h0M221.5 508.3h0M227.1 503.4h0M220.5 512.5h0M218.0 513.8h0M215.2 513.3h0M227.1 509.0h0M225.0 515.6h0M223.8 512.0h0M213.9 502.5h0M221.3 504.5h0M228.1 511.1h0M229.2 514.5h0M213.0 512.6h0M214.4 508.8h0M212.5 514.8h0M218.1 506.9h0M225.1 502.8h0M230.1 507.2h0M216.1 506.3h0M226.0 506.9h0M220.4 502.1h0M215.9 501.2h0M227.1 501.3h0M216.1 505.4h0M222.9 511.2h0M223.8 507.4h0M226.1 506.9h0M236.3 503.9h0M222.2 502.9h0M219.0 501.7h0M233.6 505.2h0M214.1 506.0h0M233.1 509.4h0M212.4 507.6h0M223.5 516.2h0M220.9 511.1h0M226.0 514.8h0M219.2 507.8h0M231.6 504.8h0M219.9 511.4h0M225.4 502.6h0M229.7 510.8h0M216.7 506.4h0M215.0 510.8h0M219.0 504.2h0M219.8 513.9h0M231.1 504.5h0M209.3 500.4h0M228.4 502.6h0M211.7 510.4h0M230.0 508.1h0M214.2 517.7h0M219.9 499.9h0M223.6 501.1h0M222.4 514.5h0M225.3 514.5h0M230.0 502.7h0M219.0 504.7h0M216.3 516.2h0M216.4 504.8h0M222.0 503.1h0M226.8 503.0h0M225.0 514.3h0M220.3 512.3h0M217.0 501.3h0M217.3 509.0h0M223.1 511.5h0M228.6 511.9h0M226.7 502.8h0M221.8 514.1h0M230.7 504.1h0M223.0 513.9h0M220.1 515.2h0M212.9 512.5h0M219.6 512.9h0M221.0 514.3h0M222.2 509.9h0M220.7 512.1h0M227.6 512.8h0M215.2 504.9h0M213.4 508.0h0M225.7 513.2h0M224.0 501.6h0M226.0 513.3h0M218.5 507.6h0M223.3 517.0h0M219.7 514.6h0M218.8 501.1h0M228.5 513.2h0M215.7 502.7h0M214.9 509.3h0M211.8 507.2h0M222.0 514.5h0M213.8 513.2h0M226.8 508.3h0M231.4 505.2h0M224.2 506.9h0M221.9 505.9h0M225.1 501.9h0M216.9 513.3h0M237.0 510.1h0M227.5 512.7h0M212.3 503.9h0M231.1 509.8h0M231.8 513.6h0M229.9 504.3h0M229.5 506.5h0M215.8 510.8h0M230.5 507.0h0M220.5 518.4h0M224.4 504.0h0M222.9 510.4h0M220.3 504.0h0M224.1 497.5h0M227.4 503.3h0M222.1 503.8h0M217.0 503.6h0M223.0 510.6h0M230.4 506.4h0M228.4 509.2h0M213.8 503.0h0M225.7 499.7h0M215.2 512.4h0M225.8 504.1h0M222.9 510.2h0M220.9 506.3h0M219.9 503.4h0M221.9 506.1h0M234.6 507.5h0M233.8 509.1h0M229.9 514.5h0M230.3 514.8h0M212.2 513.4h0M213.8 501.7h0M222.3 499.7h0M219.5 511.5h0M226.5 509.9h0M220.3 499.6h0M216.6 505.2h0M232.2 507.9h0M214.6 500.7h0M226.0 511.8h0M233.2 511.6h0M233.6 504.8h0M223.3 504.1h0M231.0 511.9h0M226.7 503.3h0M232.1 513.7h0M230.1 508.7h0M213.6 514.3h0M228.3 502.1h0M222.7 510.9h0M217.2 513.6h0M224.9 515.3h0M219.6 514.1h0M221.3 515.3h0M233.6 503.5h0M221.5 515.2h0M233.5 516.3h0M226.9 512.5h0M226.9 514.9h0M223.9 509.2h0M224.1 508.3h0M222.2 513.3h0M232.7 510.8h0M216.9 503.9h0M222.1 513.3h0M212.4 510.4h0M212.3 505.8h0M227.9 504.2h0M216.0 504.1h0M214.1 512.2h0M218.6 511.0h0M222.5 502.9h0M223.4 488.4h0M218.7 485.0h0M220.6 481.5h0M232.1 486.5h0M231.5 478.1h0M218.5 493.0h0M231.4 478.9h0M228.7 480.3h0M231.0 473.4h0M221.9 474.7h0M215.5 490.6h0M234.3 479.1h0M225.7 481.1h0M215.1 487.5h0M231.5 486.0h0M223.5 482.2h0M228.7 485.7h0M223.1 494.6h0M222.9 482.9h0M223.4 485.6h0M226.2 481.8h0M219.4 487.7h0M220.1 477.2h0M228.0 477.3h0M230.5 480.0h0M218.2 492.7h0M230.0 487.0h0M229.5 481.4h0M216.9 471.7h0M214.3 488.3h0M224.9 486.8h0M218.8 486.5h0M223.8 490.9h0M222.4 483.2h0M228.1 498.4h0M228.5 483.6h0M226.7 481.2h0M227.3 480.5h0M222.4 488.6h0M225.8 482.6h0M229.4 483.4h0M226.3 490.2h0M219.8 483.3h0M220.9 480.1h0M219.9 484.2h0M225.1 489.2h0M227.1 493.2h0M231.2 478.8h0M217.0 484.6h0M219.7 492.0h0M225.2 485.9h0M227.0 491.0h0M226.4 486.0h0M221.5 481.3h0M229.3 480.9h0M219.1 492.4h0M227.5 482.8h0M229.5 483.9h0M225.4 482.0h0M216.7 482.7h0M226.1 484.1h0M217.5 481.6h0M219.2 477.4h0M219.4 488.6h0M219.2 488.6h0M226.3 477.6h0M227.5 486.0h0M217.9 489.5h0M227.4 485.4h0M237.7 487.3h0M230.4 488.6h0M229.0 487.1h0M214.0 486.7h0M231.2 483.2h0M225.8 486.8h0M223.0 484.5h0M224.4 485.5h0M219.0 484.6h0M223.6 483.9h0M232.1 491.6h0M224.4 487.3h0M212.7 485.3h0M225.7 475.6h0M221.7 483.2h0M232.8 483.3h0M224.7 481.2h0M214.8 485.8h0M237.5 481.1h0M225.3 480.9h0M224.4 486.8h0M227.4 489.8h0M229.6 490.4h0M222.0 482.7h0M234.0 491.3h0M222.0 482.2h0M223.5 484.9h0M220.4 485.0h0M225.7 485.1h0M232.7 491.8h0M209.5 482.0h0M223.3 506.7h0M225.3 513.0h0M222.6 507.8h0M224.9 504.7h0M220.1 508.0h0M216.2 503.2h0M224.4 505.8h0M225.8 508.0h0M218.5 509.7h0M222.6 508.8h0M215.2 505.9h0M232.9 505.4h0M226.0 505.5h0M226.1 508.2h0M217.2 510.3h0M223.4 507.3h0M222.2 503.6h0M226.0 508.1h0M224.6 507.3h0M219.4 505.2h0M217.9 512.3h0M215.6 510.2h0M222.2 513.4h0M217.8 502.2h0M227.3 507.7h0M214.9 502.8h0M229.1 505.2h0M223.8 507.4h0M220.0 508.6h0M230.3 509.3h0M211.6 508.8h0M222.8 505.0h0M233.0 507.1h0M218.7 511.0h0M221.0 500.2h0M214.8 507.6h0M224.9 509.3h0M219.8 507.5h0M227.4 507.4h0M224.5 505.7h0M219.2 509.1h0M224.4 512.5h0M220.5 508.3h0M226.3 504.0h0M229.5 516.4h0M224.4 510.3h0M222.0 512.3h0M220.9 507.3h0M225.3 509.1h0M221.1 509.4h0M226.1 511.5h0M230.2 505.3h0M214.8 511.3h0M222.7 508.2h0M212.4 506.7h0M218.7 504.7h0M221.6 504.2h0M217.0 510.5h0M225.1 510.2h0M213.9 509.1h0M210.7 510.0h0M227.5 501.2h0M218.6 508.7h0M226.9 507.1h0M221.8 505.5h0M218.1 505.1h0M225.7 503.1h0M210.5 505.9h0M225.5 509.2h0M226.3 508.8h0M222.6 511.2h0M224.6 505.4h0M220.8 508.6h0M223.8 507.6h0M221.9 506.9h0M226.3 510.1h0M218.2 510.2h0M224.5 508.5h0M216.3 505.2h0M226.1 508.1h0M210.0 492.9h0M211.6 496.7h0M215.7 496.5h0M214.3 491.8h0M211.6 496.1h0M212.9 498.4h0M219.6 496.8h0M220.0 497.9h0M213.0 492.2h0M216.2 492.7h0M210.6 494.6h0M218.2 498.9h0M210.8 493.6h0M213.9 492.3h0M220.8 498.4h0M214.1 493.1h0M216.4 491.4h0M213.0 498.4h0M216.1 495.3h0M218.6 491.9h0M211.6 499.7h0M218.0 500.1h0M213.6 491.3h0M210.4 499.8h0M215.4 497.5h0M215.6 496.6h0M218.7 496.6h0M213.0 502.1h0M221.1 500.5h0M215.0 496.1h0M217.0 500.1h0M211.6 501.5h0M218.3 490.5h0M218.7 498.7h0M211.4 496.4h0M211.2 493.9h0M217.9 492.5h0M215.9 499.4h0M214.6 498.3h0M216.8 492.7h0" stroke="#0A6A4E" stroke-width="1.15" stroke-linecap="round" fill="none"/>
<rect x="176.5" y="463.2" width="64.2" height="60.4" fill="none" stroke="#7a7a7a" stroke-width="0.75"/>
<text x="211.7" y="461" font-size="8.9" fill="#222" text-anchor="middle" textLength="29.7" lengthAdjust="spacingAndGlyphs">Healthy</text>
<line x1="177.4" y1="523.6" x2="177.4" y2="525.6" stroke="#7a7a7a" stroke-width="0.6"/>
<text x="175.4" y="534.4" font-size="7.3" fill="#333" stroke="#333" stroke-width="0.1" text-anchor="middle">−40</text>
<line x1="191.8" y1="523.6" x2="191.8" y2="525.6" stroke="#7a7a7a" stroke-width="0.6"/>
<text x="189.8" y="534.4" font-size="7.3" fill="#333" stroke="#333" stroke-width="0.1" text-anchor="middle">−20</text>
<line x1="206.6" y1="523.6" x2="206.6" y2="525.6" stroke="#7a7a7a" stroke-width="0.6"/>
<text x="206.9" y="534.4" font-size="7.3" fill="#333" stroke="#333" stroke-width="0.1" text-anchor="middle">0</text>
<line x1="220.8" y1="523.6" x2="220.8" y2="525.6" stroke="#7a7a7a" stroke-width="0.6"/>
<text x="221.1" y="534.4" font-size="7.3" fill="#333" stroke="#333" stroke-width="0.1" text-anchor="middle">20</text>
<line x1="235.3" y1="523.6" x2="235.3" y2="525.6" stroke="#7a7a7a" stroke-width="0.6"/>
<text x="235.6" y="534.4" font-size="7.3" fill="#333" stroke="#333" stroke-width="0.1" text-anchor="middle">40</text>
<line x1="33.4" y1="477" x2="35.4" y2="477" stroke="#7a7a7a" stroke-width="0.6"/>
<text x="31.4" y="479.5" font-size="7" fill="#333" stroke="#333" stroke-width="0.1" text-anchor="end">25</text>
<line x1="33.4" y1="494.2" x2="35.4" y2="494.2" stroke="#7a7a7a" stroke-width="0.6"/>
<text x="31.4" y="496.7" font-size="7" fill="#333" stroke="#333" stroke-width="0.1" text-anchor="end">0</text>
<line x1="33.4" y1="511.5" x2="35.4" y2="511.5" stroke="#7a7a7a" stroke-width="0.6"/>
<text x="31.4" y="514" font-size="7" fill="#333" stroke="#333" stroke-width="0.1" text-anchor="end">−25</text>
<ellipse cx="65.6" cy="568.2" rx="3.8" ry="3.6" fill="#C8192E" opacity="0.2" filter="url(#bl)" transform="rotate(0 65.6 568.2)"/>
<ellipse cx="61.8" cy="579.5" rx="4.7" ry="3.6" fill="#C8192E" opacity="0.15" filter="url(#bl)" transform="rotate(0 61.8 579.5)"/>
<ellipse cx="42.9" cy="591.5" rx="4.7" ry="4.5" fill="#C8192E" opacity="0.2" filter="url(#bl)" transform="rotate(0 42.9 591.5)"/>
<ellipse cx="56.2" cy="590.3" rx="5.7" ry="4.5" fill="#C8192E" opacity="0.15" filter="url(#bl)" transform="rotate(0 56.2 590.3)"/>
<ellipse cx="61.8" cy="599.3" rx="4.7" ry="4.5" fill="#C8192E" opacity="0.15" filter="url(#bl)" transform="rotate(0 61.8 599.3)"/>
<ellipse cx="60.6" cy="608.8" rx="3.8" ry="3.6" fill="#C8192E" opacity="0.15" filter="url(#bl)" transform="rotate(0 60.6 608.8)"/>
<ellipse cx="68.1" cy="603.5" rx="3.8" ry="2.7" fill="#0A6A4E" opacity="0.3" filter="url(#bl)" transform="rotate(0 68.1 603.5)"/>
<ellipse cx="81.9" cy="606.4" rx="2.8" ry="2.7" fill="#0A6A4E" opacity="0.3" filter="url(#bl)" transform="rotate(0 81.9 606.4)"/>
<path d="M92.8 594.4h0M87.0 596.6h0M76.1 595.4h0M88.8 605.4h0M81.4 573.6h0M74.2 613.4h0M87.7 580.2h0M87.6 580.6h0M78.2 572.2h0M75.9 582.1h0M88.5 575.5h0M74.5 592.7h0M65.3 586.4h0M74.7 598.2h0M78.1 591.0h0M85.8 586.6h0M87.3 608.0h0M73.6 608.4h0M89.1 588.5h0M81.2 583.8h0M76.6 584.7h0M87.6 579.8h0M79.7 588.6h0M58.7 590.9h0M81.0 583.6h0M72.4 593.1h0M81.2 592.6h0M82.1 612.5h0M79.3 574.1h0M83.6 573.6h0M67.0 602.5h0M77.1 601.4h0M77.9 600.2h0M84.2 610.1h0M78.7 592.7h0M81.5 592.0h0M85.5 592.3h0M91.9 578.9h0M85.9 605.4h0M71.1 592.8h0M75.3 593.3h0M95.3 586.8h0M67.1 587.1h0M91.3 594.3h0M82.4 599.9h0M84.2 591.1h0M66.6 588.8h0M63.6 592.8h0M78.4 595.0h0M77.1 571.6h0M88.6 599.7h0M68.5 599.8h0M64.2 594.4h0M79.3 591.8h0M82.2 605.5h0M93.8 605.1h0M77.0 574.2h0M88.1 600.0h0M77.7 594.7h0M73.5 609.4h0M66.2 600.0h0M76.9 580.9h0M80.4 588.1h0M80.2 576.1h0M87.0 579.8h0M71.5 584.7h0M69.7 585.9h0M70.7 602.5h0M73.2 581.9h0M65.4 596.0h0M72.4 581.3h0M67.4 595.7h0M87.3 578.6h0M76.4 574.9h0M78.4 602.3h0M77.9 589.0h0M76.8 592.6h0M93.1 593.3h0M75.9 589.5h0M87.4 587.5h0M84.1 597.4h0M71.0 588.5h0M80.0 581.6h0M89.5 599.1h0M84.0 573.0h0M75.6 572.0h0M90.1 582.4h0M82.2 586.7h0M86.1 596.3h0M87.0 580.0h0M88.0 598.2h0M88.2 580.7h0M70.3 601.4h0M89.4 607.7h0M82.7 608.5h0M91.3 600.0h0M74.1 580.9h0M77.3 588.6h0M69.4 587.9h0M86.2 581.5h0M70.4 595.9h0M81.1 606.9h0M69.8 597.2h0M90.5 602.1h0M87.9 583.0h0M64.6 589.0h0M79.9 581.1h0M81.3 583.1h0M86.6 601.1h0M79.8 585.3h0M84.1 582.7h0M88.8 580.7h0M83.9 586.1h0M85.9 583.6h0M72.5 601.6h0M90.6 596.4h0M93.6 597.8h0M76.8 599.1h0M75.1 588.2h0M75.5 578.6h0M71.9 583.9h0M77.5 593.0h0M66.2 580.9h0M88.0 597.5h0M71.5 589.6h0M70.5 602.3h0M75.3 598.3h0M85.0 577.4h0M72.4 569.7h0M78.5 574.3h0M75.9 589.4h0M81.1 594.2h0M75.4 585.2h0M67.5 590.2h0M85.0 590.7h0M84.1 599.9h0M78.0 581.2h0M83.6 594.2h0M85.4 600.2h0M72.3 600.7h0M78.6 610.0h0M72.0 597.1h0M87.1 590.1h0M73.7 584.2h0M73.2 581.6h0M93.1 597.9h0M71.0 573.0h0M75.7 594.1h0M91.6 598.0h0M87.1 590.9h0M71.4 596.0h0M69.4 577.1h0M87.3 592.6h0M71.9 574.4h0M94.7 579.4h0M83.8 576.9h0M86.3 579.3h0M84.4 582.0h0M78.9 614.1h0M84.3 590.0h0M72.7 612.4h0M74.3 599.3h0M90.2 611.3h0M96.4 593.7h0M79.4 597.1h0M81.2 591.8h0M64.8 592.8h0M83.5 583.8h0M68.7 599.1h0M83.3 587.7h0M71.2 600.3h0M84.4 580.1h0M66.6 607.0h0M86.3 582.2h0M87.3 605.4h0M83.8 576.4h0M75.3 594.7h0M69.9 599.0h0M82.0 577.4h0M70.7 591.0h0M67.3 599.4h0M79.7 596.4h0M76.2 592.4h0M66.4 593.8h0M83.4 602.2h0M73.6 601.7h0M72.3 576.3h0M69.6 591.9h0M70.8 584.3h0M69.5 594.9h0M94.5 592.0h0M83.9 610.4h0M65.9 583.0h0M82.2 593.3h0M70.8 606.9h0M85.4 591.5h0M66.1 602.8h0M73.8 587.5h0M66.4 595.8h0M94.1 593.4h0M68.4 585.2h0M80.6 587.3h0M66.2 580.1h0M85.2 603.8h0M89.2 584.3h0M80.1 581.3h0M69.3 597.7h0M86.0 572.7h0M84.4 584.3h0M67.4 587.5h0M82.9 596.5h0M90.6 588.8h0M86.1 601.2h0M62.9 594.7h0M81.7 582.0h0M66.9 581.9h0M78.8 592.0h0M80.7 588.2h0M85.0 582.3h0" stroke="#0A6A4E" stroke-width="0.9" stroke-linecap="round" opacity="0.7" fill="none"/>
<path d="M41.6 567.9h0M72.4 596.5h0M49.4 600.8h0M51.9 582.0h0M39.5 594.9h0M56.9 601.0h0M59.6 579.1h0M68.1 583.5h0M61.5 590.2h0M40.5 605.3h0M43.6 615.2h0M51.9 595.9h0M52.0 604.7h0M61.5 613.2h0M48.5 584.2h0M45.9 596.7h0M49.7 608.9h0M56.3 576.2h0M45.3 592.6h0M41.4 601.0h0M55.6 604.2h0M40.9 583.4h0M60.9 600.9h0M76.6 586.2h0M47.6 574.5h0M39.9 589.1h0M55.8 610.9h0M67.9 576.8h0M52.6 592.0h0M67.7 579.6h0M74.3 595.6h0M60.0 572.4h0M65.5 578.7h0M52.7 606.3h0M37.0 582.8h0M50.5 562.2h0M40.3 602.4h0M62.0 586.1h0M59.0 592.2h0M46.3 610.6h0M58.4 602.2h0M51.6 589.7h0M44.8 596.0h0M68.0 611.6h0M44.1 583.8h0M57.2 585.1h0M65.5 603.3h0M63.1 582.8h0M45.5 570.5h0M40.9 604.5h0M68.8 602.9h0M40.3 592.5h0M43.1 581.4h0M67.5 615.8h0M45.5 598.4h0M53.1 585.8h0M36.8 592.3h0M73.1 561.5h0M64.7 601.7h0M58.2 607.5h0M45.0 600.8h0M72.1 587.0h0M47.2 589.3h0M73.2 593.4h0M63.2 604.2h0M68.6 594.2h0M48.1 593.6h0M67.4 588.7h0M62.3 583.9h0M59.1 612.5h0M42.5 585.6h0M54.1 598.9h0M64.5 578.4h0M73.8 577.9h0M54.9 575.9h0M63.1 606.7h0M67.3 579.7h0M72.7 560.6h0M52.9 592.6h0M43.7 606.9h0M48.8 590.8h0M70.7 575.0h0M46.8 587.7h0M56.0 603.4h0M50.2 565.5h0M48.8 573.5h0M53.4 597.7h0M59.7 560.9h0M44.5 602.4h0M42.9 577.5h0M48.2 595.9h0M42.1 598.9h0M40.2 575.3h0M58.6 588.4h0M45.1 608.3h0M60.8 597.2h0M63.3 607.2h0M79.8 584.7h0M69.6 584.4h0M66.3 591.1h0M59.1 574.3h0M66.6 585.2h0M61.6 578.1h0M64.9 578.6h0" stroke="#C8192E" stroke-width="0.9" stroke-linecap="round" opacity="0.7" fill="none"/>
<path d="M69.2 606.5h0M65.5 603.5h0M68.7 603.8h0M64.1 604.6h0M69.3 606.1h0M70.0 603.3h0M65.2 603.5h0M71.8 605.1h0M68.8 603.2h0M67.3 599.9h0M72.2 601.8h0M66.4 605.4h0M71.1 600.4h0M70.7 604.1h0M70.2 600.3h0M67.5 600.5h0M68.6 604.6h0M66.5 602.9h0M68.3 604.6h0M68.3 601.2h0M65.5 603.6h0M67.5 604.2h0M71.1 601.4h0M68.1 602.6h0M66.0 603.8h0M67.4 604.4h0M70.8 602.0h0M68.2 603.4h0M68.8 601.6h0M64.0 605.8h0M67.2 603.1h0M71.4 605.7h0M70.9 598.9h0M64.7 600.2h0M70.6 603.0h0M70.3 601.4h0M67.6 602.6h0M72.5 602.6h0M70.6 604.3h0M70.4 600.3h0M67.8 602.6h0M68.4 606.0h0M67.4 605.5h0M67.7 601.5h0M68.9 604.2h0M65.6 603.3h0M63.3 602.4h0M67.7 604.0h0M69.9 605.4h0M73.8 604.1h0M79.9 607.3h0M81.8 608.4h0M80.4 607.4h0M86.6 602.2h0M83.3 610.9h0M83.2 603.3h0M83.7 606.0h0M81.0 607.6h0M82.1 604.7h0M79.6 607.8h0M82.2 604.6h0M83.9 608.8h0M80.0 605.6h0M80.5 604.5h0M82.2 606.0h0M83.5 605.6h0M79.5 604.7h0M82.9 607.9h0M82.8 606.1h0M84.8 605.0h0M84.1 605.6h0M83.9 609.4h0M82.3 605.3h0M82.3 607.0h0M82.4 608.3h0M82.0 610.1h0M82.9 608.5h0M83.0 609.7h0M82.2 604.4h0M82.6 605.9h0M82.4 605.6h0M82.3 607.1h0M82.8 607.7h0M80.6 607.1h0M82.8 609.0h0M80.7 604.5h0M81.9 605.9h0M81.2 607.8h0M82.1 605.2h0M81.8 605.8h0M80.5 608.6h0M82.3 606.7h0M80.0 607.8h0M82.3 608.4h0M85.8 608.2h0M77.5 585.3h0M77.1 586.7h0M79.1 585.0h0M75.5 588.0h0M78.2 585.0h0M78.5 586.0h0M77.0 587.5h0M77.9 586.8h0M75.9 586.0h0M77.3 587.5h0M77.1 587.2h0M77.5 586.8h0M76.6 586.2h0M77.9 586.8h0M77.8 587.2h0M77.5 585.6h0M77.1 586.2h0M77.6 586.2h0M78.3 585.8h0M78.8 585.7h0" stroke="#0A6A4E" stroke-width="1.15" stroke-linecap="round" fill="none"/>
<path d="M54.8 601.2h0M52.6 577.2h0M60.1 588.5h0M45.8 593.3h0M52.3 596.1h0M56.8 598.5h0M42.3 599.5h0M46.8 609.8h0M58.4 571.0h0M43.8 579.6h0M41.7 599.2h0M62.7 592.8h0M65.9 593.3h0M64.0 583.0h0M62.2 603.0h0M53.7 594.7h0M70.7 588.9h0M61.9 602.2h0M68.0 592.1h0M64.2 587.6h0M62.2 596.6h0M66.9 580.3h0M57.2 610.1h0M61.5 608.7h0M42.8 599.3h0M54.3 580.1h0M47.2 570.3h0M45.7 567.1h0M47.0 568.9h0M51.7 574.5h0M44.4 579.8h0M58.8 575.1h0M53.4 583.4h0M61.4 581.0h0M54.7 576.9h0M53.9 585.6h0M50.3 564.1h0M59.0 572.9h0M40.1 590.4h0M56.1 609.7h0M44.5 586.0h0M52.5 615.5h0M66.2 599.8h0M50.9 563.4h0M63.2 603.0h0M42.4 602.1h0M52.4 578.8h0M64.3 593.7h0M45.7 581.6h0M57.7 561.2h0M69.4 572.2h0M41.8 595.4h0M57.3 597.5h0M49.8 562.6h0M63.0 601.5h0M65.5 597.7h0M55.5 615.2h0M66.4 595.1h0M58.1 578.3h0M68.2 588.6h0M59.9 581.0h0M56.3 581.0h0M56.7 585.6h0M70.9 597.6h0M42.8 608.0h0M63.1 592.5h0M43.3 590.9h0M51.1 586.5h0M59.5 601.0h0M49.6 586.7h0M52.7 586.1h0M53.0 583.0h0M60.6 577.2h0M61.1 581.3h0M42.2 589.1h0M44.2 580.5h0M49.3 593.9h0M62.7 603.9h0M53.8 586.8h0M47.1 607.8h0M69.0 587.7h0M43.7 587.7h0M63.8 594.8h0M41.7 579.1h0M50.7 598.5h0M60.4 593.4h0M57.5 612.6h0M42.8 579.1h0M51.7 565.4h0M54.0 590.6h0M62.5 569.3h0M60.0 589.1h0M57.8 585.5h0M60.6 569.6h0M47.0 570.5h0M59.4 563.8h0M54.0 586.9h0M42.9 613.8h0M54.6 579.8h0M45.0 580.3h0M59.1 579.8h0M45.6 591.3h0M41.4 591.8h0M52.9 609.9h0M67.3 602.1h0M46.8 593.0h0M53.5 578.3h0M55.4 593.9h0M64.0 605.0h0M50.7 589.1h0M64.8 577.3h0M66.4 580.9h0M48.7 600.7h0M36.8 600.3h0M67.0 584.5h0M67.3 573.9h0M47.0 605.0h0M64.3 595.7h0M51.3 583.5h0M60.5 582.0h0M59.8 585.8h0M48.5 588.9h0M63.8 585.4h0M40.7 610.6h0M69.2 600.1h0M53.3 578.1h0M63.6 577.0h0M54.8 596.6h0M42.2 599.7h0M50.0 605.4h0M53.7 609.6h0M54.5 607.9h0M56.4 583.2h0M58.7 578.3h0M44.1 609.0h0M63.1 590.4h0M54.6 572.6h0M44.9 591.0h0M58.5 581.3h0M67.0 588.0h0M44.5 571.8h0M55.0 579.2h0M46.2 581.9h0M53.4 606.5h0M52.9 599.7h0M40.9 588.2h0M59.0 602.1h0M69.1 575.9h0M56.0 607.0h0M57.8 565.9h0M61.1 581.7h0M69.9 589.9h0M42.9 578.4h0M67.2 592.2h0M53.3 588.3h0M56.1 588.3h0M55.0 588.3h0M42.5 580.3h0M67.8 590.0h0M47.0 568.9h0M41.7 594.8h0M58.4 611.6h0M48.6 576.3h0M62.1 591.5h0M60.9 587.5h0M41.5 597.4h0M61.2 600.5h0M67.8 580.9h0M56.9 580.5h0M43.4 590.5h0M51.6 601.9h0M55.2 569.3h0M45.7 599.7h0M61.6 600.3h0M64.5 614.1h0M48.0 605.4h0M46.4 573.3h0M64.3 587.7h0M48.5 580.6h0M54.0 603.0h0M62.3 601.0h0M48.0 602.3h0M65.4 609.2h0M43.5 595.2h0M56.4 571.0h0M50.4 608.6h0M45.2 595.4h0M45.1 575.6h0M46.4 602.0h0M48.0 590.2h0M56.0 606.2h0M60.8 614.0h0M44.7 605.3h0M59.6 608.3h0M61.4 607.9h0M47.6 583.8h0M39.2 596.5h0M56.2 595.6h0M65.7 593.9h0M38.2 594.7h0M56.6 600.2h0M49.7 578.1h0M47.4 596.3h0M64.7 589.0h0M65.1 592.6h0M49.0 607.5h0M53.6 593.9h0M43.5 591.7h0M62.3 601.8h0M63.0 580.5h0M64.7 583.9h0M68.2 610.3h0M54.3 605.2h0M65.8 591.4h0M53.5 608.1h0M43.4 578.9h0M57.0 602.0h0M50.4 572.9h0M45.0 584.8h0M43.3 611.0h0M52.6 588.3h0M41.6 595.6h0M60.0 614.8h0M60.4 598.4h0M51.0 584.4h0M57.1 597.6h0M51.7 587.3h0M47.8 607.0h0M49.5 599.2h0M64.5 582.9h0M49.4 600.0h0M39.7 577.7h0M51.8 577.2h0M49.7 578.3h0M55.3 611.7h0M66.0 598.1h0M67.1 587.6h0M64.4 593.9h0M41.4 588.9h0M60.8 609.1h0M68.1 596.6h0M46.3 575.9h0M67.7 563.2h0M70.9 584.4h0M42.7 576.8h0M54.9 589.9h0M57.6 612.6h0M63.2 602.3h0M66.1 597.1h0M60.9 599.5h0M66.9 584.1h0M64.6 599.4h0M45.1 600.7h0M60.0 595.3h0M69.7 591.0h0M48.6 608.0h0M48.3 603.3h0M53.9 600.8h0M60.2 604.5h0M54.6 595.2h0M68.3 578.2h0M56.5 587.8h0M57.5 601.9h0M61.7 601.6h0M55.7 583.6h0M65.2 573.9h0M46.5 578.0h0M67.0 574.7h0M62.9 581.7h0M41.9 610.6h0M41.5 574.1h0M51.5 564.5h0M49.5 571.3h0M57.2 600.0h0M49.7 605.4h0M68.0 595.8h0M44.1 588.1h0M67.1 601.5h0M60.5 593.3h0M55.1 583.6h0M68.5 591.2h0M44.8 596.6h0M46.6 586.2h0M48.7 585.8h0M57.4 600.7h0M46.2 595.5h0M45.2 611.8h0M48.9 572.6h0M57.7 602.9h0M51.3 608.0h0M63.1 588.3h0M68.6 596.8h0M57.2 593.9h0M44.6 599.5h0M48.9 611.1h0M45.5 568.9h0M46.3 589.0h0M57.3 582.9h0M48.3 572.3h0M61.9 608.9h0M52.6 567.4h0M44.0 583.3h0M57.2 590.2h0M57.0 570.8h0M52.6 605.7h0M46.6 592.6h0M46.9 574.9h0M64.1 568.0h0M44.7 597.8h0M42.0 586.7h0M46.9 594.8h0M58.8 601.8h0M51.6 609.5h0M67.9 590.8h0M47.9 589.2h0M50.6 573.0h0M56.0 598.5h0M67.0 571.1h0M65.1 566.0h0M44.4 578.0h0M64.4 601.7h0M61.9 604.2h0M47.3 581.7h0M61.4 601.7h0M61.3 569.8h0M65.8 589.7h0M62.8 564.7h0M52.3 597.5h0M52.7 592.6h0M47.3 582.2h0M42.0 586.4h0M60.0 597.7h0M63.8 572.3h0M44.5 604.0h0M44.0 592.6h0M49.4 577.8h0M44.1 579.7h0M48.5 584.4h0M62.8 576.0h0M45.6 586.9h0M49.2 583.8h0M39.3 595.1h0M44.4 595.2h0M51.8 569.8h0M67.2 610.7h0M57.2 586.6h0M63.4 601.1h0M55.9 567.3h0M67.6 595.9h0M51.3 603.8h0M64.2 605.5h0M50.2 568.7h0M55.7 572.0h0M69.9 582.2h0M46.2 589.4h0M46.5 594.8h0M66.5 587.7h0M57.9 591.2h0M55.3 610.1h0M42.5 604.1h0M48.3 604.4h0M55.4 578.3h0M62.3 571.7h0M57.2 591.2h0M48.3 591.6h0M58.0 583.1h0M49.9 593.4h0M50.4 603.3h0M54.2 595.3h0M43.2 591.1h0M52.8 600.1h0M51.1 583.7h0M54.4 605.8h0M57.3 590.4h0M72.7 576.5h0M46.9 578.8h0M66.7 575.1h0M51.4 587.2h0M64.7 587.4h0M57.5 581.2h0M66.8 584.7h0M50.1 600.0h0M43.3 596.1h0M59.2 561.3h0M58.2 592.1h0M40.0 583.0h0M55.9 603.5h0M67.6 597.1h0M52.1 606.3h0M61.9 567.0h0M54.6 583.6h0M59.5 597.3h0M48.6 582.8h0M56.9 570.3h0M46.7 581.6h0M51.3 585.1h0M55.7 603.1h0M66.8 595.6h0M64.9 581.8h0M40.4 578.4h0M48.8 599.4h0M64.0 576.6h0M51.8 572.8h0M42.6 595.7h0M57.9 600.6h0M41.0 601.1h0M58.8 601.0h0M52.8 578.2h0M57.8 567.7h0M48.2 597.7h0M56.5 569.2h0M53.8 603.0h0M46.1 607.3h0M50.7 584.3h0M56.2 577.9h0M57.1 580.2h0M42.4 576.8h0M61.4 583.5h0M59.6 588.0h0M57.0 569.7h0M47.2 586.8h0M66.3 572.5h0M49.6 610.7h0M67.0 603.2h0M71.1 590.7h0M55.7 576.5h0M49.6 570.8h0M62.2 571.8h0M47.8 593.3h0M53.5 604.7h0M61.7 576.2h0M48.0 607.8h0M49.9 605.7h0M61.2 601.2h0M53.7 570.8h0M53.2 594.9h0M51.1 601.6h0M53.0 609.8h0M44.8 581.4h0M57.2 583.8h0M47.2 583.6h0M47.6 591.1h0M53.0 596.8h0M67.3 590.2h0M61.2 617.0h0M66.8 573.4h0M43.1 590.7h0M47.5 586.3h0M56.4 565.2h0M54.7 601.1h0M68.3 571.6h0M49.9 612.5h0M40.8 594.0h0M44.7 604.3h0M65.7 585.6h0M41.6 567.9h0M54.4 576.0h0M55.6 599.6h0M52.7 608.8h0M63.1 571.3h0M57.3 613.7h0M61.3 590.1h0M52.0 592.3h0M42.5 605.6h0M54.0 595.8h0M62.9 590.3h0M36.9 591.1h0M45.7 596.2h0M70.6 587.4h0M51.5 594.2h0M62.6 584.4h0M64.2 592.1h0M52.0 564.5h0M46.2 605.4h0M58.5 570.0h0M54.4 584.8h0M62.8 585.8h0M47.2 608.3h0M58.3 598.0h0M60.5 576.0h0M43.8 581.2h0M65.5 582.6h0M38.8 585.9h0M53.2 574.3h0M51.0 606.2h0M52.8 596.5h0M61.0 576.6h0M51.5 604.2h0M60.8 582.8h0M57.9 593.5h0M60.2 585.9h0M44.6 598.5h0M61.6 577.3h0M56.2 602.8h0M62.6 600.0h0M54.9 569.2h0M52.1 585.6h0M51.1 577.7h0M58.4 572.5h0M51.7 614.0h0M45.6 581.6h0M61.0 587.6h0M66.5 588.2h0M54.0 572.9h0M58.8 596.6h0M51.2 582.8h0M62.3 592.2h0M54.7 581.6h0M52.4 609.9h0M58.2 597.7h0M63.3 591.4h0M42.4 591.2h0M39.7 582.6h0M55.1 595.5h0M65.8 584.2h0M57.6 574.1h0M45.0 600.0h0M54.6 572.0h0M63.2 584.3h0M57.6 611.1h0M68.1 569.9h0M71.6 584.3h0M53.7 597.9h0M50.3 591.7h0M51.8 575.7h0M51.0 599.5h0M65.2 589.6h0M47.0 581.8h0M62.2 607.3h0M48.6 582.1h0M44.5 583.5h0M45.4 592.0h0M63.4 589.5h0M69.2 590.6h0M45.9 599.0h0M39.6 579.8h0M52.1 575.1h0M42.3 596.3h0M61.0 596.6h0M38.3 581.8h0M70.2 585.8h0M54.0 570.1h0M53.7 586.8h0M65.2 612.7h0M68.4 587.2h0M63.7 599.0h0M45.4 603.5h0M59.9 592.6h0M40.5 593.6h0M44.1 584.8h0M66.5 589.4h0M55.2 607.4h0M47.1 592.4h0M69.3 586.6h0M59.2 594.5h0M38.1 589.4h0M57.2 561.1h0M61.5 597.4h0M43.0 600.2h0M44.7 597.5h0M41.9 602.5h0M62.6 603.6h0M58.0 591.8h0M62.1 575.1h0M62.7 582.8h0M53.7 562.8h0M57.2 574.3h0M52.8 575.7h0M50.7 575.2h0M52.0 589.1h0M54.6 585.5h0M46.9 590.4h0M60.5 581.6h0M37.9 590.8h0M60.2 611.2h0M60.0 596.8h0M40.7 586.9h0M48.1 594.0h0M68.0 584.2h0M65.9 577.3h0M55.3 606.4h0M59.2 597.9h0M43.3 582.0h0M62.6 574.8h0M47.6 571.0h0M49.8 590.7h0M52.9 589.8h0M65.2 581.0h0M55.9 605.8h0M53.3 578.1h0M57.8 612.7h0M63.4 571.5h0M52.6 582.2h0M46.0 588.3h0M75.6 589.7h0M58.2 590.8h0M49.6 586.3h0M63.5 571.1h0M67.1 582.1h0M55.2 582.1h0M50.2 572.8h0M50.7 612.2h0M52.3 601.3h0M39.5 602.1h0M67.3 588.2h0M62.0 602.0h0M72.3 600.2h0M58.6 609.6h0M66.7 582.8h0M48.7 583.3h0M56.1 589.1h0M54.9 566.5h0M57.7 607.4h0M41.5 592.0h0M65.9 599.2h0M51.0 596.6h0M61.7 609.9h0M66.1 580.2h0M63.3 606.9h0M69.8 590.0h0M46.0 572.7h0M46.0 562.5h0M67.2 597.9h0M61.8 585.9h0M54.0 601.4h0M42.7 584.4h0M68.2 573.0h0M43.7 593.1h0M52.5 576.5h0M47.4 576.3h0M51.6 573.9h0M54.6 587.9h0M39.7 590.9h0M62.5 571.4h0M64.6 567.7h0M68.1 570.6h0M63.6 570.2h0M70.2 567.8h0M65.2 569.6h0M64.7 567.3h0M69.6 563.3h0M65.6 568.9h0M64.9 564.8h0M63.2 564.4h0M68.1 564.4h0M65.3 565.9h0M64.6 565.9h0M69.0 565.5h0M66.1 564.7h0M65.9 571.8h0M64.7 568.5h0M68.8 566.4h0M64.2 572.2h0M63.4 567.3h0M67.1 568.8h0M65.1 571.3h0M68.3 564.7h0M66.3 565.3h0M65.2 569.9h0M70.0 565.6h0M67.0 569.0h0M64.2 569.0h0M67.7 571.8h0M68.4 569.5h0M62.0 570.1h0M67.3 566.4h0M65.4 567.9h0M62.6 568.2h0M67.2 566.1h0M65.3 568.8h0M66.2 563.0h0M66.4 568.0h0M67.8 571.2h0M64.3 572.0h0M65.1 568.7h0M65.5 569.3h0M66.4 570.7h0M65.9 567.7h0M67.8 565.7h0M64.6 563.4h0M64.0 570.1h0M66.3 567.0h0M62.7 565.6h0M65.3 568.4h0M66.4 570.4h0M68.1 569.4h0M58.1 569.8h0M66.8 568.7h0M66.2 569.2h0M67.2 566.1h0M62.2 568.2h0M71.2 566.2h0M65.1 571.1h0M57.3 573.3h0M58.0 577.9h0M64.2 577.5h0M60.3 576.7h0M59.4 580.1h0M62.7 578.7h0M62.9 581.8h0M66.6 581.2h0M63.7 576.7h0M60.4 583.4h0M69.6 580.8h0M63.5 576.5h0M61.1 578.4h0M63.7 581.3h0M62.4 582.9h0M65.2 580.4h0M63.6 579.8h0M59.3 580.7h0M61.7 582.9h0M66.7 575.8h0M61.2 584.0h0M66.2 581.5h0M63.0 577.6h0M63.1 580.0h0M58.1 584.6h0M69.3 579.8h0M60.4 577.3h0M56.2 578.4h0M58.7 578.5h0M65.4 575.8h0M62.8 579.1h0M64.7 583.3h0M63.3 581.3h0M65.5 580.2h0M58.3 583.1h0M59.6 584.3h0M66.6 578.6h0M56.9 579.4h0M60.6 576.8h0M65.2 583.5h0M60.4 580.6h0M67.6 578.9h0M59.4 574.9h0M56.0 577.0h0M64.2 582.5h0M62.3 582.3h0M58.3 581.2h0M61.2 580.3h0M61.9 577.8h0M64.2 582.1h0M60.1 578.6h0M64.0 577.9h0M61.8 575.2h0M59.2 582.0h0M64.0 578.6h0M63.2 582.1h0M64.5 577.7h0M60.2 578.7h0M57.6 573.8h0M61.1 581.8h0M43.4 588.8h0M42.1 590.2h0M43.3 592.3h0M42.2 592.6h0M45.7 591.1h0M42.2 592.9h0M43.7 591.6h0M41.6 594.0h0M43.8 587.5h0M44.4 593.4h0M41.1 593.9h0M42.3 587.3h0M45.7 585.6h0M40.0 590.4h0M39.9 590.0h0M44.8 587.1h0M46.6 592.9h0M43.3 589.4h0M42.4 591.9h0M38.0 587.0h0M45.5 593.8h0M42.7 584.1h0M47.8 592.0h0M40.2 593.5h0M39.9 590.0h0M42.6 588.4h0M49.1 591.7h0M46.0 593.4h0M39.6 597.8h0M48.9 585.2h0M41.9 588.8h0M50.7 588.5h0M42.4 592.6h0M44.5 588.9h0M44.2 591.0h0M42.5 588.2h0M40.9 589.6h0M47.8 597.5h0M38.1 594.1h0M44.5 592.4h0M42.9 588.0h0M45.4 587.9h0M37.2 588.8h0M45.5 589.7h0M47.3 588.1h0M50.8 588.7h0M44.1 595.6h0M44.0 596.8h0M39.8 593.2h0M37.2 590.1h0M41.3 593.7h0M45.1 591.3h0M44.1 595.7h0M39.0 589.3h0M46.8 596.4h0M50.3 592.9h0M48.5 597.0h0M38.7 591.0h0M45.6 588.1h0M40.9 590.9h0M43.6 588.2h0M43.0 589.4h0M42.0 590.3h0M47.5 587.4h0M44.0 593.4h0M45.4 592.4h0M44.2 593.8h0M44.5 587.7h0M40.6 590.2h0M44.4 594.5h0M45.6 591.8h0M41.2 594.7h0M40.4 591.2h0M40.2 591.9h0M46.2 596.5h0M39.1 589.0h0M60.6 597.0h0M56.3 586.2h0M49.2 590.2h0M51.3 589.4h0M54.2 586.5h0M51.8 584.3h0M62.0 594.1h0M54.3 585.6h0M58.3 585.5h0M53.1 587.1h0M52.8 593.2h0M60.9 593.3h0M53.1 584.7h0M55.7 588.7h0M58.7 586.4h0M57.9 589.0h0M55.6 593.9h0M53.6 592.3h0M60.5 594.4h0M58.9 598.1h0M57.7 594.1h0M59.6 591.8h0M54.3 587.0h0M61.0 591.8h0M53.9 588.1h0M59.8 588.3h0M57.9 584.9h0M52.7 593.1h0M59.2 592.6h0M53.8 588.6h0M56.6 588.7h0M52.7 588.1h0M55.3 593.4h0M59.4 591.3h0M58.1 588.7h0M57.1 592.5h0M56.0 590.2h0M55.9 588.2h0M56.8 587.1h0M53.8 588.9h0M57.9 588.7h0M55.4 594.0h0M51.3 588.3h0M47.6 587.1h0M59.1 587.3h0M48.5 597.9h0M58.9 588.0h0M62.8 594.1h0M54.8 590.9h0M55.8 590.0h0M59.2 592.9h0M56.0 591.8h0M57.6 593.0h0M55.8 589.3h0M60.6 588.9h0M53.9 589.2h0M52.9 590.3h0M56.5 585.3h0M52.9 588.3h0M58.4 595.1h0M57.7 597.9h0M56.9 600.4h0M66.0 595.4h0M62.0 605.0h0M60.8 597.2h0M61.5 597.8h0M62.3 593.2h0M57.9 601.3h0M64.9 599.9h0M63.0 600.6h0M61.7 598.3h0M57.1 598.1h0M57.9 597.3h0M66.6 596.9h0M58.3 599.7h0M59.2 596.1h0M55.8 598.4h0M60.6 597.4h0M63.0 604.9h0M64.9 605.9h0M72.4 599.3h0M66.2 599.8h0M66.7 604.4h0M64.8 596.1h0M58.6 604.6h0M62.5 600.3h0M60.7 601.0h0M61.4 598.1h0M59.1 596.6h0M68.2 600.1h0M60.9 596.4h0M61.5 596.5h0M62.6 599.7h0M67.2 601.0h0M61.1 600.1h0M73.4 597.2h0M60.0 602.4h0M64.1 600.2h0M60.6 597.1h0M63.2 599.4h0M59.6 596.3h0M64.6 602.6h0M58.3 597.8h0M60.7 595.6h0M59.2 601.6h0M61.5 602.6h0M66.7 602.0h0M66.5 600.4h0M61.1 598.5h0M63.5 598.3h0M59.9 597.3h0M59.1 599.7h0M56.2 598.7h0M58.1 600.7h0M61.7 603.4h0M62.4 601.8h0M64.5 595.8h0M63.8 594.6h0M62.4 589.6h0M60.7 601.3h0M59.4 609.6h0M61.7 608.2h0M64.8 605.3h0M60.4 606.6h0M63.4 610.7h0M62.5 610.0h0M60.4 608.0h0M61.8 607.7h0M56.9 607.2h0M62.1 613.0h0M60.9 607.8h0M60.5 611.4h0M63.9 606.3h0M57.8 608.0h0M58.4 607.0h0M60.6 608.3h0M63.0 608.6h0M63.6 607.6h0M66.9 606.5h0M59.1 609.0h0M59.8 604.4h0M62.9 611.8h0M60.6 607.1h0M61.9 607.8h0M57.5 610.2h0M62.0 609.3h0M57.1 607.8h0M60.3 609.1h0M57.2 607.5h0M57.0 606.6h0M60.4 609.9h0M59.0 606.9h0M63.9 612.2h0M59.3 607.9h0M58.0 609.0h0M60.8 607.7h0M60.9 608.2h0M61.2 609.1h0M62.2 612.0h0M58.6 609.1h0M56.5 607.7h0M60.2 605.0h0M61.0 613.1h0M62.6 609.8h0M58.0 614.8h0M59.9 607.8h0M61.8 612.6h0M59.6 608.8h0M59.4 613.9h0M64.3 612.8h0M62.3 611.5h0M59.5 603.3h0M61.2 608.6h0M59.4 610.8h0M69.5 606.6h0M62.8 608.1h0M57.5 611.8h0M61.3 610.5h0M55.0 607.8h0M58.1 608.4h0" stroke="#C8192E" stroke-width="1.15" stroke-linecap="round" fill="none"/>
<rect x="35.4" y="559.2" width="62.9" height="59.8" fill="none" stroke="#7a7a7a" stroke-width="0.75"/>
<text x="70.8" y="555.6" font-size="8.9" fill="#222" text-anchor="middle" textLength="38.8" lengthAdjust="spacingAndGlyphs">Diagnosis</text>
<line x1="49.6" y1="619" x2="49.6" y2="621" stroke="#7a7a7a" stroke-width="0.6"/>
<text x="47.6" y="629.9" font-size="7.3" fill="#333" stroke="#333" stroke-width="0.1" text-anchor="middle">−25</text>
<line x1="66.5" y1="619" x2="66.5" y2="621" stroke="#7a7a7a" stroke-width="0.6"/>
<text x="66.8" y="629.9" font-size="7.3" fill="#333" stroke="#333" stroke-width="0.1" text-anchor="middle">0</text>
<line x1="83.3" y1="619" x2="83.3" y2="621" stroke="#7a7a7a" stroke-width="0.6"/>
<text x="83.6" y="629.9" font-size="7.3" fill="#333" stroke="#333" stroke-width="0.1" text-anchor="middle">25</text>
<ellipse cx="117.5" cy="577.1" rx="4.8" ry="4.5" fill="#C8192E" opacity="0.15" filter="url(#bl)" transform="rotate(0 117.5 577.1)"/>
<ellipse cx="120.8" cy="601.1" rx="4.8" ry="4.5" fill="#C8192E" opacity="0.15" filter="url(#bl)" transform="rotate(0 120.8 601.1)"/>
<ellipse cx="124.6" cy="581.9" rx="1.5" ry="3.6" fill="#33A6DD" opacity="0.4" filter="url(#bl)" transform="rotate(0 124.6 581.9)"/>
<ellipse cx="139.5" cy="595.1" rx="1.9" ry="2.7" fill="#33A6DD" opacity="0.3" filter="url(#bl)" transform="rotate(0 139.5 595.1)"/>
<path d="M154.4 596.4h0M158.3 589.4h0M151.0 604.2h0M144.8 584.2h0M165.1 579.4h0M141.0 571.6h0M145.4 572.2h0M152.0 592.8h0M150.0 588.6h0M164.4 596.6h0M155.3 610.7h0M134.2 577.0h0M153.6 588.2h0M146.6 611.2h0M149.8 592.8h0M156.7 604.4h0M157.3 598.9h0M151.3 566.1h0M156.6 605.5h0M145.2 584.6h0M147.8 580.2h0M156.9 582.9h0M158.6 577.4h0M135.6 590.5h0M151.1 578.0h0M151.3 586.5h0M136.1 596.7h0M153.5 607.1h0M158.9 586.3h0M161.0 604.7h0M160.3 600.2h0M146.8 602.0h0M135.7 602.2h0M140.3 599.8h0M160.3 588.1h0M155.3 584.0h0M149.7 593.3h0M146.3 577.3h0M162.3 588.0h0M151.5 578.3h0M151.8 582.9h0M152.5 587.4h0M150.9 592.9h0M155.2 576.0h0M140.1 587.2h0M153.2 604.1h0M152.6 579.6h0M143.7 606.3h0M153.2 602.4h0M145.4 587.5h0M151.2 596.4h0M144.3 600.7h0M155.3 590.1h0M142.5 571.3h0M146.8 594.8h0M140.3 590.4h0M138.9 601.7h0M156.3 590.2h0M145.8 589.0h0M152.2 595.0h0M155.0 585.5h0M153.4 593.3h0M160.7 585.6h0M142.4 603.2h0M138.5 589.8h0M156.8 596.5h0M157.2 605.0h0M160.7 587.5h0M151.3 616.4h0M140.4 609.7h0M142.4 603.7h0M149.9 592.9h0M151.9 600.1h0M154.8 606.7h0M137.4 572.3h0M138.2 584.9h0M166.1 594.9h0M141.7 586.2h0M154.5 611.1h0M141.7 579.6h0M159.2 581.5h0M152.4 602.5h0M145.8 592.8h0M151.7 599.8h0M140.3 580.9h0M166.0 598.9h0M138.1 613.9h0M136.7 597.4h0M139.9 583.6h0M140.1 586.7h0M154.7 592.2h0M158.0 609.8h0M136.6 594.8h0M149.1 578.0h0M139.5 591.1h0M142.7 602.7h0M148.4 596.2h0M141.2 605.4h0M143.2 604.7h0M160.7 599.3h0M154.4 599.9h0M140.7 578.4h0M136.5 589.2h0M158.0 582.5h0M137.1 593.6h0M153.4 582.9h0M156.5 603.6h0M153.3 610.6h0M154.8 590.5h0M158.8 582.5h0M152.8 607.1h0M147.3 606.9h0M158.9 609.1h0M146.1 579.0h0M138.3 603.1h0M157.5 608.8h0M147.4 601.8h0M150.6 604.5h0M138.8 573.7h0M158.7 584.1h0M155.1 593.4h0M142.4 578.0h0M140.7 585.3h0M135.5 586.3h0M155.6 567.7h0M156.8 583.0h0M148.4 581.2h0M164.9 591.7h0M156.5 598.3h0M142.9 570.2h0M158.9 611.2h0M148.6 583.5h0M154.4 609.2h0M156.2 585.7h0M147.4 590.8h0M157.2 605.2h0M153.7 616.6h0M154.4 592.8h0M137.2 577.1h0M150.5 603.2h0M136.2 595.5h0M154.5 596.8h0M152.2 580.5h0M145.4 574.4h0M144.7 607.4h0M164.0 589.0h0M140.8 605.5h0M147.9 600.5h0M137.2 598.9h0M164.7 589.2h0M149.2 593.8h0M139.0 587.6h0M149.9 577.6h0M157.6 579.6h0M134.3 579.9h0M155.7 584.8h0M166.8 592.6h0M142.6 577.9h0M139.0 601.9h0M155.3 580.2h0M165.6 596.2h0M140.7 582.9h0M148.4 587.6h0M159.7 601.2h0M143.2 582.5h0M144.7 610.5h0M141.3 602.7h0" stroke="#0A6A4E" stroke-width="0.9" stroke-linecap="round" opacity="0.7" fill="none"/>
<path d="M140.3 582.0h0M119.1 594.0h0M128.1 575.0h0M130.8 586.3h0M125.1 598.5h0M138.4 594.5h0M112.2 601.7h0M142.4 609.1h0M141.0 608.4h0M123.4 573.9h0M137.8 590.3h0M143.4 582.0h0M134.4 566.8h0M139.7 583.9h0M125.6 609.9h0M116.8 579.9h0M134.2 610.5h0M130.0 570.1h0M131.2 611.2h0M116.6 578.2h0M123.5 590.9h0M139.6 571.3h0M126.2 579.2h0M114.8 584.4h0M125.1 580.0h0M137.1 564.4h0M128.5 588.4h0M128.2 589.5h0M122.6 571.1h0M111.1 583.5h0M110.9 594.5h0M114.8 588.6h0M125.9 571.8h0M121.7 597.3h0M124.7 573.5h0M122.2 596.0h0M133.0 590.4h0M127.5 589.4h0M109.5 600.5h0M117.4 573.1h0M117.3 607.8h0M130.0 561.7h0M113.6 605.2h0M130.7 599.9h0M139.5 611.6h0M122.2 609.7h0M127.8 583.9h0M140.1 593.3h0M125.8 576.5h0M135.0 578.8h0M125.7 582.6h0M125.7 584.4h0M134.3 574.1h0M114.8 594.9h0M131.4 599.9h0M119.4 580.1h0M142.5 572.8h0M116.7 598.9h0M130.9 588.4h0M129.6 594.1h0M127.2 595.1h0M139.9 599.1h0M118.3 582.2h0M128.4 601.5h0M129.0 601.8h0M125.1 573.9h0M115.6 595.2h0M129.0 561.3h0M111.1 589.3h0M125.2 592.4h0M124.0 572.9h0M140.5 583.7h0M136.4 562.1h0M114.4 591.9h0M132.0 599.9h0M124.2 569.5h0M115.5 581.9h0M148.0 582.3h0M134.2 583.3h0M131.2 565.6h0M113.1 582.1h0M116.5 581.9h0M135.2 607.8h0M121.5 579.6h0M127.4 609.7h0M127.0 599.1h0M128.4 585.6h0M146.4 571.2h0M117.7 595.2h0M128.7 615.5h0M112.0 589.0h0M136.2 568.0h0M145.7 591.0h0M115.8 597.4h0M109.3 572.5h0M111.6 569.4h0M123.9 567.7h0M115.3 607.9h0M133.4 578.9h0M132.5 566.6h0M108.9 595.7h0M124.7 593.6h0" stroke="#C8192E" stroke-width="0.9" stroke-linecap="round" opacity="0.7" fill="none"/>
<path d="M144.5 608.0h0M142.8 606.3h0M149.9 605.8h0M146.9 606.4h0M148.5 607.3h0M145.4 606.6h0M146.5 604.8h0M143.7 606.5h0M146.4 607.9h0M148.0 607.3h0M149.3 606.0h0M148.8 606.1h0M143.6 606.4h0M145.2 607.3h0M147.7 606.7h0M146.5 607.5h0M149.0 607.5h0M144.6 605.8h0M147.7 604.9h0M145.8 605.9h0M153.1 608.2h0M150.5 607.7h0M147.5 606.4h0M144.8 607.3h0M147.2 607.6h0M145.5 608.9h0M146.2 608.0h0M147.0 609.1h0M144.4 607.0h0M145.0 605.3h0M148.8 607.0h0M145.8 606.8h0M146.3 606.4h0M151.3 606.0h0M148.4 608.4h0M144.9 606.0h0M147.4 606.4h0M146.1 608.6h0M150.9 604.8h0M150.3 607.0h0M139.8 607.8h0M136.6 606.8h0M137.5 608.9h0M137.0 607.4h0M136.7 606.9h0M137.8 608.8h0M138.6 608.0h0M136.8 608.8h0M135.9 609.2h0M140.2 608.4h0M137.0 609.2h0M138.6 608.0h0M136.5 608.4h0M139.0 611.2h0M136.6 608.2h0" stroke="#0A6A4E" stroke-width="1.15" stroke-linecap="round" fill="none"/>
<path d="M120.2 577.2h0M116.2 605.7h0M143.0 595.7h0M130.8 575.5h0M125.5 588.8h0M119.6 579.1h0M124.9 581.9h0M129.5 573.8h0M117.3 585.7h0M121.8 611.4h0M128.0 585.1h0M134.2 582.3h0M125.7 608.1h0M131.1 579.7h0M138.8 590.0h0M113.6 568.9h0M109.2 588.0h0M120.5 604.2h0M134.4 595.6h0M120.3 590.0h0M117.5 572.4h0M115.8 575.1h0M135.2 599.5h0M135.0 600.8h0M121.6 573.5h0M117.3 598.9h0M128.8 612.6h0M134.2 581.3h0M135.3 591.4h0M129.5 584.0h0M118.0 598.0h0M129.7 578.0h0M130.6 596.3h0M137.0 581.6h0M120.7 611.4h0M109.5 578.7h0M120.2 583.7h0M121.9 564.4h0M137.6 606.6h0M127.1 611.1h0M133.3 572.4h0M135.7 583.8h0M130.3 566.4h0M136.5 589.0h0M132.8 599.6h0M137.6 608.0h0M124.4 581.5h0M127.0 572.4h0M138.2 586.7h0M118.7 579.7h0M129.6 600.5h0M137.9 592.7h0M124.4 587.6h0M118.3 574.5h0M134.1 593.2h0M112.3 579.4h0M116.9 570.4h0M108.7 603.0h0M136.6 572.1h0M139.8 579.2h0M120.8 599.2h0M116.3 585.3h0M112.3 590.4h0M128.8 606.5h0M127.1 589.9h0M131.4 609.4h0M128.0 603.0h0M119.4 593.5h0M131.9 609.5h0M129.8 563.9h0M108.5 590.9h0M130.5 597.7h0M137.5 590.7h0M132.3 586.0h0M120.6 584.4h0M135.1 590.5h0M126.8 585.7h0M114.4 589.8h0M118.7 578.6h0M117.0 570.0h0M137.1 584.8h0M133.5 593.9h0M118.0 568.8h0M127.7 584.4h0M114.9 593.7h0M143.8 582.3h0M141.4 590.5h0M137.8 605.8h0M111.5 586.1h0M116.3 602.4h0M136.1 596.2h0M131.5 600.3h0M117.4 577.9h0M117.3 597.7h0M130.6 604.9h0M129.7 587.1h0M135.4 563.8h0M115.5 567.0h0M137.5 593.8h0M122.7 612.5h0M127.1 590.6h0M140.6 600.2h0M128.3 580.6h0M109.4 582.2h0M129.1 577.3h0M123.5 583.0h0M130.4 598.2h0M133.8 576.3h0M126.8 607.5h0M127.0 577.7h0M120.4 580.4h0M139.8 593.7h0M129.3 594.3h0M129.1 603.4h0M129.5 608.9h0M113.4 592.7h0M108.5 600.4h0M130.8 604.3h0M112.9 589.4h0M137.0 593.8h0M116.6 590.2h0M133.4 604.7h0M109.3 579.4h0M131.2 590.5h0M123.3 569.3h0M124.8 606.3h0M121.9 581.9h0M118.8 588.0h0M125.1 585.5h0M138.7 584.0h0M118.5 565.6h0M125.1 573.2h0M121.2 609.5h0M116.7 611.4h0M135.0 607.0h0M113.7 593.1h0M137.7 588.0h0M136.5 596.4h0M132.7 582.4h0M130.1 589.7h0M113.4 603.9h0M129.9 597.9h0M129.5 597.4h0M114.7 605.9h0M127.6 573.7h0M127.0 573.2h0M118.1 588.5h0M121.0 599.9h0M133.3 600.4h0M121.6 600.1h0M132.2 599.5h0M116.1 606.3h0M121.1 578.4h0M119.5 563.8h0M114.4 567.0h0M127.9 592.3h0M113.6 591.7h0M140.8 583.8h0M122.9 587.3h0M136.2 570.8h0M119.2 578.1h0M116.4 583.1h0M115.1 582.4h0M109.7 584.9h0M127.2 576.6h0M119.3 596.2h0M113.2 586.9h0M120.8 590.4h0M132.4 579.5h0M137.0 575.9h0M115.7 590.1h0M133.9 590.4h0M131.3 595.3h0M115.4 576.4h0M118.3 567.1h0M118.6 572.4h0M118.8 602.7h0M107.4 585.0h0M121.8 616.0h0M121.1 589.2h0M130.7 607.3h0M124.1 615.9h0M126.4 589.9h0M115.8 573.0h0M113.6 601.3h0M111.0 584.1h0M115.7 591.9h0M126.2 599.4h0M119.1 567.4h0M118.8 583.1h0M128.3 602.6h0M136.5 579.2h0M123.4 602.0h0M111.2 582.1h0M127.1 589.8h0M122.0 573.4h0M122.4 568.9h0M134.8 588.7h0M114.4 605.8h0M117.7 580.2h0M127.4 608.7h0M120.8 594.5h0M114.1 594.7h0M122.7 569.1h0M124.5 576.2h0M128.7 573.3h0M135.3 575.9h0M125.0 582.1h0M126.5 596.4h0M121.9 613.6h0M115.8 570.7h0M126.1 600.9h0M114.7 576.5h0M117.3 574.9h0M135.6 575.4h0M132.2 606.5h0M129.0 570.1h0M136.8 600.0h0M134.9 583.0h0M139.9 606.9h0M125.3 603.6h0M124.2 599.4h0M126.9 593.3h0M132.0 613.0h0M122.6 601.9h0M112.0 574.7h0M129.8 586.2h0M127.8 599.6h0M131.7 591.9h0M118.4 601.8h0M129.4 602.9h0M116.1 601.7h0M139.3 578.8h0M112.9 591.4h0M125.2 566.9h0M129.1 600.9h0M119.0 583.4h0M117.3 595.9h0M136.6 607.1h0M142.6 593.7h0M113.0 578.0h0M109.9 601.7h0M121.7 611.8h0M126.7 583.5h0M113.4 603.5h0M133.1 588.6h0M121.0 582.9h0M121.2 567.8h0M124.7 591.7h0M126.7 576.6h0M111.4 598.1h0M131.9 591.9h0M130.6 609.5h0M121.7 588.9h0M128.9 582.7h0M119.4 574.8h0M130.7 582.0h0M128.1 589.6h0M116.7 592.8h0M117.4 612.0h0M128.8 589.8h0M132.8 584.4h0M122.7 579.1h0M133.2 585.2h0M118.7 607.3h0M137.2 600.3h0M136.2 597.4h0M123.2 591.9h0M114.5 577.4h0M141.5 599.8h0M138.1 603.2h0M113.3 572.7h0M109.9 599.3h0M136.9 580.7h0M144.0 593.8h0M131.4 589.4h0M134.5 609.4h0M125.5 596.0h0M121.2 565.0h0M125.6 572.2h0M127.3 609.2h0M126.6 570.7h0M134.3 594.4h0M125.2 573.5h0M133.6 598.9h0M124.0 595.4h0M145.3 599.6h0M130.8 599.3h0M115.9 577.8h0M134.3 596.1h0M128.3 602.7h0M121.5 571.5h0M111.1 598.4h0M133.9 581.5h0M130.0 600.5h0M111.4 602.1h0M128.7 605.4h0M108.4 591.4h0M115.0 575.4h0M126.8 603.2h0M135.5 588.1h0M124.8 578.1h0M117.4 593.8h0M128.8 599.0h0M114.5 604.1h0M134.0 591.6h0M132.9 580.2h0M128.3 580.6h0M125.0 586.1h0M124.8 608.9h0M128.7 593.7h0M118.9 606.0h0M123.9 595.6h0M139.7 585.1h0M125.5 581.5h0M132.5 571.5h0M112.9 607.4h0M131.6 596.4h0M131.1 605.0h0M131.8 589.2h0M114.4 576.0h0M113.4 591.7h0M119.0 576.5h0M112.9 595.6h0M119.8 583.9h0M122.1 571.2h0M139.8 589.7h0M115.5 575.8h0M118.7 596.3h0M112.2 588.0h0M125.0 575.1h0M126.6 605.2h0M135.6 591.5h0M130.1 590.0h0M128.7 590.1h0M126.8 594.3h0M122.3 573.3h0M132.1 599.3h0M120.3 568.5h0M113.7 567.8h0M138.3 595.5h0M131.0 591.0h0M137.3 563.9h0M139.9 573.3h0M111.5 603.1h0M123.8 567.5h0M120.1 587.4h0M131.9 602.9h0M117.0 609.7h0M135.0 579.2h0M117.1 588.8h0M123.3 608.6h0M119.8 606.0h0M124.1 573.4h0M128.8 592.2h0M132.1 588.5h0M134.6 576.3h0M132.2 579.4h0M125.3 610.6h0M123.1 611.1h0M126.4 595.6h0M136.2 590.2h0M131.0 594.0h0M126.5 591.1h0M123.6 577.3h0M117.2 590.1h0M114.9 582.6h0M133.5 570.8h0M119.1 609.2h0M131.1 579.3h0M115.8 595.1h0M136.5 574.2h0M116.1 582.7h0M132.2 581.1h0M124.8 611.2h0M126.2 587.0h0M119.4 589.3h0M135.4 595.9h0M120.9 591.8h0M130.9 565.4h0M132.6 581.2h0M131.4 579.6h0M119.7 581.2h0M125.5 591.3h0M129.0 614.0h0M140.9 581.8h0M127.6 590.7h0M125.2 578.9h0M136.2 605.5h0M112.7 589.1h0M115.4 592.4h0M136.1 596.1h0M127.4 581.9h0M144.2 590.8h0M123.9 591.9h0M131.8 573.0h0M126.5 573.8h0M125.7 572.1h0M132.4 599.4h0M128.3 593.0h0M120.1 586.2h0M120.1 607.2h0M123.0 580.5h0M132.1 610.0h0M110.2 584.5h0M113.5 567.7h0M131.0 577.1h0M140.4 582.2h0M125.2 580.3h0M129.1 604.2h0M130.3 591.7h0M129.5 574.9h0M123.9 571.1h0M126.2 585.7h0M110.3 592.7h0M110.0 577.6h0M115.4 606.1h0M131.5 597.3h0M116.2 597.0h0M124.6 573.2h0M118.9 594.4h0M117.8 607.8h0M134.3 564.8h0M127.4 584.7h0M126.0 565.9h0M113.6 603.0h0M124.0 616.5h0M127.4 609.6h0M126.6 594.7h0M125.9 612.2h0M134.4 592.0h0M123.3 592.7h0M121.1 602.1h0M137.3 578.1h0M115.4 570.0h0M134.4 601.6h0M111.9 608.3h0M114.5 585.7h0M122.2 576.8h0M130.9 577.6h0M129.1 612.2h0M130.2 601.9h0M117.1 598.2h0M118.2 595.7h0M122.3 613.9h0M129.6 601.9h0M117.2 584.9h0M125.9 572.0h0M122.4 584.2h0M117.3 572.2h0M122.6 576.1h0M109.4 589.0h0M134.0 580.9h0M136.5 586.4h0M126.0 605.6h0M125.2 582.8h0M119.8 610.9h0M125.2 600.0h0M114.3 599.8h0M138.1 578.4h0M123.6 582.8h0M134.7 586.0h0M127.2 603.3h0M137.2 566.0h0M124.2 598.1h0M120.0 588.9h0M122.9 612.7h0M112.4 582.4h0M130.7 582.2h0M131.7 605.3h0M120.4 568.0h0M137.1 593.2h0M122.1 584.5h0M133.0 590.3h0M121.2 614.9h0M138.6 610.4h0M119.5 608.1h0M117.6 585.2h0M111.9 594.8h0M125.1 581.3h0M136.4 581.2h0M122.9 597.7h0M136.1 592.5h0M122.2 581.2h0M122.1 596.9h0M129.9 571.4h0M134.8 606.6h0M113.1 608.3h0M133.1 568.3h0M129.1 599.2h0M111.1 603.7h0M134.5 599.3h0M119.8 581.0h0M130.9 601.9h0M122.1 588.3h0M139.9 597.5h0M115.5 600.7h0M116.8 596.3h0M114.8 575.9h0M123.7 568.4h0M118.6 589.1h0M118.6 597.8h0M114.8 579.3h0M120.9 580.4h0M140.1 577.5h0M114.4 582.2h0M124.1 567.3h0M125.9 602.1h0M116.0 577.6h0M135.0 585.3h0M128.2 598.7h0M112.6 583.6h0M131.0 600.7h0M120.9 605.8h0M119.5 593.6h0M119.0 570.3h0M121.3 585.9h0M133.0 569.7h0M131.4 574.5h0M138.4 584.2h0M137.1 599.0h0M114.1 584.0h0M120.2 600.4h0M131.4 588.2h0M126.7 590.3h0M121.2 571.0h0M118.0 589.7h0M112.7 590.8h0M120.3 599.7h0M126.2 576.4h0M126.7 606.1h0M124.9 579.5h0M131.9 575.0h0M128.9 578.3h0M123.8 603.6h0M122.8 579.7h0M117.3 609.1h0M122.5 560.5h0M134.9 605.0h0M125.5 591.4h0M119.6 579.0h0M117.1 592.4h0M107.1 571.7h0M124.0 606.4h0M125.3 611.2h0M115.4 580.8h0M136.8 569.6h0M121.7 591.9h0M115.5 610.6h0M134.0 569.5h0M109.6 575.3h0M120.8 576.1h0M114.0 604.7h0M120.9 610.4h0M130.6 581.7h0M114.2 600.8h0M113.5 600.2h0M126.8 584.2h0M108.9 582.0h0M120.5 568.5h0M135.4 606.2h0M113.1 581.7h0M111.9 581.1h0M113.0 597.7h0M118.8 599.3h0M113.5 599.0h0M111.9 591.6h0M131.3 577.9h0M126.0 601.8h0M132.2 579.7h0M124.1 581.1h0M137.7 576.1h0M128.8 602.6h0M113.8 576.2h0M129.5 575.4h0M139.6 581.6h0M122.3 575.7h0M134.3 613.0h0M111.6 593.6h0M135.2 604.7h0M121.2 602.1h0M119.8 596.7h0M126.0 597.7h0M113.3 597.6h0M114.1 593.3h0M139.2 591.1h0M136.2 581.1h0M135.1 573.3h0M134.7 572.9h0M135.1 599.4h0M127.6 591.0h0M133.6 572.3h0M115.2 587.7h0M116.0 604.4h0M124.6 577.3h0M136.1 586.4h0M121.0 581.5h0M122.4 603.5h0M123.2 568.3h0M114.6 576.3h0M132.5 603.3h0M115.0 608.0h0M126.6 591.5h0M138.3 582.7h0M127.8 613.7h0M125.9 587.0h0M134.2 602.0h0M137.1 585.3h0M119.1 577.8h0M130.1 608.0h0M116.3 604.6h0M122.1 565.4h0M121.7 591.6h0M139.3 604.6h0M122.1 567.8h0M107.9 596.2h0M137.8 577.5h0M134.5 598.0h0M125.1 598.6h0M122.7 575.5h0M118.2 595.7h0M119.5 598.9h0M133.8 593.1h0M122.9 576.4h0M112.9 575.3h0M133.1 568.6h0M112.0 610.7h0M129.3 580.4h0M135.5 574.4h0M121.8 586.9h0M130.3 595.3h0M127.2 598.5h0M120.5 574.9h0M106.9 571.7h0M125.6 611.5h0M122.6 598.3h0M129.9 584.1h0M138.5 577.7h0M136.6 583.8h0M116.8 605.9h0M136.8 585.6h0M135.0 573.4h0M124.5 613.7h0M132.6 588.0h0M135.6 573.2h0M116.4 588.0h0M141.9 589.7h0M108.3 593.4h0M119.4 565.6h0M123.5 576.4h0M139.7 599.0h0M132.5 580.7h0M117.0 582.6h0M111.5 591.0h0M123.7 565.1h0M129.7 606.2h0M122.7 608.3h0M124.1 592.4h0M107.5 590.1h0M133.1 599.6h0M125.7 576.3h0M120.6 565.1h0M118.8 567.2h0M109.8 596.3h0M118.4 590.4h0M125.8 569.2h0M116.4 602.7h0M136.1 574.3h0M117.3 586.0h0M125.3 605.4h0M130.8 583.0h0M146.9 593.4h0M114.1 574.5h0M135.5 587.7h0M135.0 614.8h0M127.1 579.5h0M127.1 566.0h0M119.9 601.6h0M135.9 595.7h0M139.4 603.4h0M114.5 604.7h0M125.0 572.6h0M125.3 605.2h0M130.5 583.2h0M134.8 574.8h0M136.7 565.3h0M129.8 591.2h0M136.2 601.1h0M125.4 599.0h0M112.3 601.3h0M121.1 569.5h0M131.2 585.9h0M139.6 585.3h0M122.5 575.8h0M117.4 579.2h0M118.6 580.2h0M114.9 576.9h0M116.4 575.6h0M122.5 576.2h0M118.0 578.5h0M118.8 581.6h0M112.6 580.4h0M119.2 579.8h0M119.7 578.2h0M118.6 572.6h0M121.7 581.6h0M114.2 577.8h0M118.9 575.5h0M115.8 582.8h0M119.2 580.8h0M112.5 580.1h0M116.6 577.6h0M114.4 578.4h0M117.9 580.4h0M117.5 577.4h0M119.4 576.4h0M117.1 579.8h0M112.9 576.6h0M119.9 576.2h0M118.1 571.8h0M121.1 573.4h0M118.8 580.7h0M122.2 575.8h0M120.3 575.7h0M119.8 575.2h0M115.8 579.4h0M123.2 574.3h0M119.0 582.4h0M115.5 577.0h0M119.3 572.5h0M112.8 573.9h0M112.4 577.4h0M119.4 576.5h0M114.2 572.4h0M115.9 580.9h0M121.5 578.4h0M116.9 574.5h0M114.0 578.4h0M117.8 575.4h0M115.8 575.1h0M117.4 578.7h0M117.1 577.9h0M124.3 574.6h0M119.9 575.4h0M114.8 572.6h0M113.5 576.5h0M120.3 574.8h0M117.7 579.4h0M110.6 577.1h0M118.2 572.7h0M119.0 575.6h0M110.9 581.6h0M118.0 577.1h0M122.0 577.6h0M122.0 571.0h0M115.5 603.2h0M119.0 596.3h0M118.9 600.4h0M122.4 601.6h0M125.1 601.9h0M119.9 595.8h0M127.1 596.4h0M119.1 598.9h0M117.7 601.8h0M123.3 594.1h0M121.9 603.2h0M120.2 599.9h0M116.6 601.5h0M118.8 603.0h0M119.2 602.2h0M124.5 601.4h0M112.0 600.0h0M123.9 604.7h0M119.3 599.6h0M118.3 603.6h0M121.4 594.3h0M123.7 601.8h0M122.9 605.4h0M119.5 602.7h0M117.2 604.0h0M125.2 600.3h0M114.7 601.3h0M118.1 603.7h0M119.4 603.3h0M125.2 607.1h0M119.4 596.1h0M120.2 602.2h0M129.0 600.2h0M124.8 604.2h0M123.6 599.6h0M122.5 603.6h0M121.4 601.6h0M123.9 599.2h0M123.5 602.2h0M122.6 597.6h0M120.5 597.1h0M121.4 605.1h0M115.2 603.9h0M125.5 600.4h0M123.8 599.6h0M121.6 604.6h0M120.6 605.9h0M117.1 599.9h0M118.3 600.2h0M121.9 602.9h0M124.6 600.2h0M121.5 607.5h0M119.9 604.9h0M122.1 600.8h0M120.7 600.5h0M123.7 598.2h0M122.9 599.2h0M117.6 602.4h0M120.1 605.7h0M122.6 603.1h0" stroke="#C8192E" stroke-width="1.15" stroke-linecap="round" fill="none"/>
<path d="M125.5 581.0h0M124.2 580.2h0M124.5 583.6h0M124.7 582.5h0M125.6 578.5h0M123.8 584.5h0M123.5 582.4h0M124.2 580.9h0M124.9 580.2h0M125.5 578.7h0M127.8 580.1h0M124.7 582.2h0M125.2 581.2h0M124.2 583.4h0M125.1 584.2h0M124.3 579.8h0M125.3 584.8h0M124.2 581.0h0M124.0 585.0h0M124.7 579.4h0M125.3 576.1h0M125.3 579.1h0M124.9 582.5h0M124.4 575.4h0M123.2 582.6h0M124.7 579.7h0M125.1 580.4h0M123.2 581.6h0M124.9 579.0h0M126.5 579.5h0M130.5 570.4h0M131.9 571.2h0M131.6 570.4h0M131.8 572.2h0M129.4 572.9h0M130.6 571.7h0M131.0 571.7h0M129.6 571.3h0M130.9 571.0h0M130.8 570.4h0M130.6 571.1h0M132.9 572.2h0M119.1 574.6h0M120.7 575.4h0M120.9 575.4h0M119.2 575.5h0M121.6 576.1h0M119.8 575.5h0M120.5 574.4h0M119.9 576.3h0M119.5 574.5h0M120.9 574.8h0M139.2 596.9h0M140.1 593.7h0M138.4 596.8h0M140.3 592.0h0M140.8 594.6h0M138.4 597.6h0M135.9 596.4h0M141.8 596.6h0M139.0 594.8h0M137.0 593.5h0M139.7 595.4h0M140.4 594.4h0M139.8 595.0h0M139.7 595.5h0M139.7 593.6h0M139.9 593.1h0M139.0 594.3h0M140.0 595.7h0M141.8 595.0h0M138.9 596.1h0M140.2 597.6h0M140.0 598.2h0M137.9 593.5h0M136.8 594.4h0M140.2 596.6h0" stroke="#33A6DD" stroke-width="1.15" stroke-linecap="round" fill="none"/>
<rect x="104.6" y="559.2" width="64.6" height="59.8" fill="none" stroke="#7a7a7a" stroke-width="0.75"/>
<text x="140.4" y="555.6" font-size="8.9" fill="#222" text-anchor="middle" textLength="31.8" lengthAdjust="spacingAndGlyphs">Relapse</text>
<line x1="118.8" y1="619" x2="118.8" y2="621" stroke="#7a7a7a" stroke-width="0.6"/>
<text x="116.8" y="629.9" font-size="7.3" fill="#333" stroke="#333" stroke-width="0.1" text-anchor="middle">−25</text>
<line x1="135.7" y1="619" x2="135.7" y2="621" stroke="#7a7a7a" stroke-width="0.6"/>
<text x="136" y="629.9" font-size="7.3" fill="#333" stroke="#333" stroke-width="0.1" text-anchor="middle">0</text>
<line x1="152.5" y1="619" x2="152.5" y2="621" stroke="#7a7a7a" stroke-width="0.6"/>
<text x="152.8" y="629.9" font-size="7.3" fill="#333" stroke="#333" stroke-width="0.1" text-anchor="middle">25</text>
<ellipse cx="225.9" cy="590.3" rx="7.7" ry="11.7" fill="#0A6A4E" opacity="0.35" filter="url(#bl)" transform="rotate(0 225.9 590.3)"/>
<ellipse cx="218.2" cy="572.4" rx="2.9" ry="4.5" fill="#0A6A4E" opacity="0.4" filter="url(#bl)" transform="rotate(0 218.2 572.4)"/>
<ellipse cx="227.2" cy="571.2" rx="2.9" ry="4.5" fill="#0A6A4E" opacity="0.4" filter="url(#bl)" transform="rotate(0 227.2 571.2)"/>
<ellipse cx="214.9" cy="596.9" rx="3.9" ry="5.4" fill="#0A6A4E" opacity="0.3" filter="url(#bl)" transform="rotate(0 214.9 596.9)"/>
<path d="M227.0 588.6h0M225.0 593.0h0M222.9 578.5h0M222.9 574.4h0M230.5 574.9h0M215.1 579.6h0M224.4 596.6h0M220.6 568.5h0M207.3 584.5h0M225.7 578.0h0M227.4 605.4h0M232.6 610.5h0M218.2 609.5h0M225.7 600.7h0M211.9 570.2h0M215.0 575.7h0M221.3 610.5h0M218.5 590.1h0M231.4 578.1h0M231.5 573.8h0M233.4 575.9h0M211.0 593.1h0M230.6 607.4h0M217.8 569.1h0M224.4 564.9h0M217.7 594.1h0M211.4 569.6h0M210.8 590.2h0M221.4 599.0h0M225.0 607.6h0M215.4 591.7h0M218.9 610.5h0M215.9 602.9h0M215.9 583.2h0M218.4 584.5h0M221.8 597.2h0M211.1 591.5h0M223.6 594.0h0M232.4 570.9h0M234.3 588.7h0M209.2 572.2h0M224.3 593.5h0M215.0 573.5h0M225.1 584.5h0M224.8 601.5h0M217.7 599.1h0M218.3 601.8h0M227.1 589.8h0M227.3 583.0h0M217.6 568.5h0M230.3 586.0h0M234.5 573.7h0M217.4 590.2h0M232.7 588.1h0M225.2 597.5h0M228.0 609.7h0M232.2 567.1h0M221.9 594.8h0M216.7 613.3h0" stroke="#0A6A4E" stroke-width="0.9" stroke-linecap="round" opacity="0.7" fill="none"/>
<path d="M218.1 577.0h0M214.0 576.7h0M216.8 568.8h0M211.9 565.4h0M212.4 571.3h0M213.3 572.2h0M213.8 573.9h0M203.0 576.7h0M213.4 570.6h0M203.5 567.4h0M206.5 572.6h0M215.6 572.5h0M207.3 580.0h0M214.5 576.2h0M202.5 578.2h0M215.5 579.5h0M205.0 573.0h0M209.0 579.7h0M213.0 571.8h0M203.0 574.8h0M204.5 581.0h0M215.3 569.0h0M208.7 566.7h0M214.2 574.1h0M208.6 571.7h0M213.9 570.6h0M212.3 573.9h0M208.4 581.9h0M205.8 567.9h0M207.2 577.0h0M212.0 613.2h0M211.1 611.3h0M210.2 613.8h0M207.9 614.3h0M207.5 612.1h0M207.2 612.7h0" stroke="#C8192E" stroke-width="0.9" stroke-linecap="round" opacity="0.7" fill="none"/>
<path d="M225.2 590.2h0M232.4 579.7h0M225.8 602.7h0M223.5 604.8h0M230.7 582.9h0M230.7 592.7h0M229.8 602.0h0M224.7 578.5h0M222.8 600.2h0M217.4 583.7h0M231.4 579.9h0M223.3 571.4h0M225.9 600.1h0M228.3 582.0h0M218.8 586.8h0M232.9 583.9h0M221.6 582.8h0M232.1 588.1h0M220.5 577.9h0M224.1 587.4h0M225.5 574.5h0M217.5 595.7h0M234.2 592.3h0M233.1 578.6h0M225.7 593.3h0M227.5 605.9h0M222.9 603.6h0M223.0 607.0h0M223.7 588.1h0M234.6 588.6h0M225.6 581.2h0M220.6 590.1h0M222.3 601.0h0M224.0 593.7h0M230.8 580.4h0M235.0 582.1h0M224.5 585.3h0M229.1 587.4h0M228.3 601.2h0M227.5 593.2h0M226.1 582.6h0M233.6 596.3h0M228.7 575.1h0M227.5 598.0h0M232.7 588.9h0M228.5 608.1h0M219.2 589.9h0M225.6 599.4h0M226.9 579.1h0M229.3 579.1h0M225.3 582.3h0M219.5 580.2h0M220.9 591.1h0M230.3 589.6h0M215.1 580.3h0M226.9 576.0h0M220.3 581.4h0M227.4 577.0h0M235.3 594.9h0M236.3 598.4h0M222.5 584.3h0M220.0 589.3h0M224.4 578.6h0M224.6 589.0h0M217.2 576.0h0M234.9 598.6h0M227.9 601.2h0M226.1 595.5h0M218.8 585.7h0M218.9 582.1h0M221.4 592.7h0M222.4 582.8h0M228.2 574.9h0M229.2 597.8h0M226.5 601.1h0M235.9 596.7h0M235.7 594.3h0M226.8 595.3h0M222.2 593.4h0M237.3 595.4h0M230.1 603.1h0M223.4 603.5h0M227.1 584.2h0M220.9 599.0h0M219.7 587.8h0M218.2 582.3h0M226.8 601.9h0M216.6 589.0h0M225.1 579.7h0M235.4 592.3h0M216.5 585.9h0M221.7 595.5h0M217.7 594.0h0M230.8 599.5h0M224.9 587.1h0M224.6 586.9h0M232.0 581.0h0M226.8 594.8h0M230.7 581.5h0M226.1 574.0h0M227.6 601.2h0M219.4 600.1h0M218.7 593.3h0M216.7 590.3h0M221.3 601.4h0M228.4 604.3h0M220.5 586.2h0M228.9 601.5h0M229.7 577.2h0M225.7 594.5h0M216.6 584.4h0M218.9 578.0h0M218.0 580.9h0M220.0 601.9h0M223.5 585.4h0M224.0 592.6h0M226.3 580.7h0M227.6 576.4h0M230.1 579.9h0M231.5 583.2h0M220.5 589.9h0M223.9 577.9h0M235.1 590.1h0M221.2 592.0h0M220.0 583.0h0M223.3 586.4h0M220.1 585.8h0M225.2 585.2h0M227.4 588.9h0M221.3 587.6h0M229.4 589.6h0M222.1 591.6h0M225.2 580.7h0M221.8 574.8h0M229.3 575.2h0M226.8 594.4h0M226.2 599.8h0M222.8 584.5h0M232.5 588.0h0M228.8 605.3h0M232.1 587.9h0M231.4 601.5h0M224.2 598.0h0M217.4 582.7h0M221.1 599.0h0M220.3 589.7h0M225.1 590.5h0M226.6 575.5h0M227.1 579.8h0M230.2 589.1h0M230.9 581.5h0M222.6 604.2h0M228.5 584.1h0M219.8 595.9h0M232.4 594.3h0M220.0 588.2h0M230.9 599.5h0M216.2 589.0h0M222.0 610.0h0M234.0 598.4h0M228.4 604.9h0M227.3 589.1h0M227.1 575.2h0M231.4 594.4h0M225.9 601.6h0M219.8 587.2h0M223.3 589.3h0M233.2 598.1h0M228.4 587.5h0M229.7 601.0h0M234.6 599.2h0M221.8 595.8h0M227.2 598.7h0M230.8 579.6h0M229.3 602.4h0M226.1 599.7h0M225.1 582.0h0M226.2 607.4h0M229.0 602.0h0M227.0 581.3h0M220.5 593.3h0M234.6 592.0h0M229.1 596.6h0M228.9 575.6h0M223.1 588.6h0M228.6 593.3h0M235.0 596.4h0M230.1 589.4h0M231.7 579.3h0M226.0 586.8h0M219.6 577.6h0M225.9 587.3h0M232.7 586.3h0M229.3 602.2h0M235.4 600.6h0M232.3 595.8h0M218.7 592.2h0M229.6 582.4h0M220.3 595.1h0M219.6 582.0h0M229.0 582.9h0M224.9 583.5h0M231.6 586.7h0M228.1 594.6h0M223.6 596.9h0M230.6 601.4h0M223.5 573.8h0M228.6 584.7h0M222.5 605.0h0M217.7 603.1h0M216.6 594.2h0M233.2 583.5h0M222.3 604.9h0M224.2 601.9h0M221.3 596.0h0M225.1 601.6h0M234.4 583.9h0M219.8 578.4h0M229.4 587.9h0M227.9 601.0h0M219.2 580.2h0M221.6 590.9h0M234.6 584.6h0M225.3 592.7h0M222.3 591.5h0M217.6 592.8h0M224.9 595.5h0M228.9 599.8h0M227.5 574.9h0M221.5 582.0h0M224.8 582.2h0M225.3 598.3h0M229.2 599.5h0M225.3 586.7h0M231.7 600.1h0M223.0 608.3h0M225.1 600.1h0M225.3 594.0h0M229.5 597.1h0M215.7 597.1h0M223.1 596.0h0M216.0 589.1h0M228.1 578.9h0M227.1 598.4h0M227.1 583.1h0M223.1 597.5h0M234.7 584.7h0M224.0 584.1h0M232.4 602.6h0M223.0 595.0h0M222.1 598.0h0M232.7 594.1h0M232.3 587.5h0M226.3 597.5h0M226.8 596.1h0M224.7 580.5h0M233.4 581.4h0M223.0 585.6h0M220.3 603.7h0M229.8 605.4h0M228.6 601.3h0M214.9 593.8h0M225.7 605.4h0M223.2 581.1h0M223.5 593.8h0M232.1 574.3h0M221.8 606.0h0M214.9 590.3h0M232.1 588.0h0M215.5 588.5h0M224.0 602.5h0M229.2 599.1h0M226.3 577.5h0M222.8 597.4h0M226.5 596.1h0M233.9 596.8h0M224.1 602.0h0M221.6 592.1h0M229.6 593.7h0M223.4 592.9h0M224.1 588.0h0M222.1 600.2h0M227.7 589.1h0M236.1 587.4h0M224.0 581.4h0M227.8 589.0h0M234.5 606.7h0M226.7 606.2h0M227.2 588.6h0M219.2 580.8h0M218.8 585.8h0M221.1 599.0h0M220.1 590.7h0M229.3 607.3h0M236.3 593.3h0M227.7 577.8h0M219.3 586.3h0M227.8 600.6h0M222.2 576.0h0M222.6 586.8h0M226.1 599.0h0M234.8 596.3h0M215.5 589.4h0M233.4 601.2h0M220.7 597.8h0M221.7 585.9h0M226.8 587.8h0M218.4 590.6h0M232.2 582.0h0M228.1 586.4h0M219.7 591.0h0M219.4 591.4h0M219.1 580.4h0M230.1 578.4h0M221.6 582.3h0M220.8 588.1h0M224.9 583.9h0M232.1 582.9h0M219.4 587.6h0M219.5 587.0h0M228.6 576.0h0M216.8 583.1h0M224.2 605.1h0M229.9 582.1h0M218.2 589.4h0M224.7 577.3h0M227.8 581.0h0M225.6 587.9h0M230.8 605.5h0M218.8 592.9h0M225.7 585.0h0M230.9 586.3h0M224.5 591.4h0M215.6 589.2h0M218.7 599.2h0M226.4 599.0h0M230.0 580.6h0M227.8 595.1h0M222.1 596.7h0M229.0 602.6h0M229.5 604.7h0M218.8 603.2h0M214.7 589.2h0M223.1 604.2h0M237.9 596.0h0M222.1 581.4h0M219.3 590.3h0M226.9 600.8h0M230.2 594.1h0M232.1 596.4h0M226.8 581.5h0M231.3 591.2h0M223.3 580.2h0M221.0 585.7h0M226.0 592.1h0M218.1 581.5h0M225.0 607.6h0M232.7 583.1h0M230.1 610.5h0M222.2 594.4h0M229.3 584.3h0M222.7 585.5h0M222.7 601.4h0M223.5 591.4h0M236.6 593.1h0M221.0 596.9h0M223.2 590.0h0M229.6 601.2h0M227.6 582.3h0M218.6 589.7h0M231.9 592.8h0M221.1 585.4h0M224.5 607.2h0M224.9 587.5h0M214.9 585.9h0M223.6 592.6h0M231.6 590.1h0M233.6 597.2h0M223.4 581.9h0M228.3 591.6h0M222.8 585.2h0M219.0 587.8h0M224.9 597.5h0M217.8 594.9h0M228.0 578.2h0M225.5 574.3h0M230.2 595.9h0M221.5 573.0h0M231.5 578.3h0M234.5 584.8h0M221.9 582.4h0M216.4 589.9h0M217.7 582.9h0M230.8 585.7h0M231.8 590.1h0M231.2 590.5h0M236.4 596.4h0M220.5 603.5h0M231.2 600.7h0M232.2 585.1h0M223.3 595.4h0M232.4 575.5h0M229.2 576.2h0M226.9 613.4h0M221.1 593.3h0M232.7 594.3h0M229.9 598.2h0M230.1 577.0h0M222.4 589.7h0M222.5 604.4h0M231.3 589.0h0M222.2 583.2h0M234.6 604.5h0M226.3 579.8h0M229.2 574.9h0M234.6 596.1h0M216.7 600.3h0M235.0 587.2h0M230.6 598.1h0M226.8 605.1h0M228.4 590.2h0M225.7 574.5h0M231.6 589.3h0M220.6 601.8h0M232.3 599.0h0M227.5 603.8h0M220.5 578.3h0M223.8 605.0h0M220.7 583.4h0M229.1 577.4h0M223.3 599.2h0M222.1 600.0h0M226.5 591.2h0M230.0 582.1h0M220.8 586.3h0M219.1 582.3h0M224.1 595.6h0M223.6 593.4h0M222.4 587.3h0M235.5 596.7h0M219.3 574.8h0M230.8 587.1h0M221.4 581.0h0M225.6 593.7h0M221.2 583.4h0M224.4 593.2h0M222.8 592.0h0M231.5 592.9h0M229.6 580.4h0M227.0 578.1h0M225.9 592.5h0M229.8 592.5h0M234.7 588.1h0M226.7 600.0h0M229.7 589.7h0M229.7 598.0h0M232.7 574.4h0M222.7 585.9h0M215.6 590.1h0M233.7 593.7h0M223.5 584.3h0M228.6 594.5h0M219.9 593.0h0M229.9 596.7h0M219.7 582.1h0M224.4 599.8h0M223.2 575.5h0M222.3 597.1h0M220.0 599.5h0M224.2 603.5h0M226.4 582.2h0M220.7 579.4h0M236.2 587.6h0M220.2 595.5h0M223.5 604.0h0M233.3 580.5h0M228.4 604.1h0M235.2 585.8h0M223.6 588.1h0M222.0 598.0h0M230.0 583.0h0M226.8 586.7h0M230.9 582.7h0M225.9 583.4h0M224.4 601.7h0M228.8 579.1h0M219.9 584.6h0M227.6 602.2h0M220.1 603.9h0M233.2 585.7h0M223.7 605.3h0M216.9 591.2h0M224.0 596.1h0M214.2 593.4h0M217.7 581.7h0M229.4 589.1h0M230.5 586.7h0M219.4 592.4h0M230.7 598.4h0M227.8 588.9h0M222.0 606.9h0M220.1 578.1h0M224.8 581.7h0M222.6 595.6h0M225.1 584.1h0M220.5 592.6h0M231.0 577.9h0M236.5 587.2h0M224.2 600.7h0M217.8 585.4h0M220.5 595.9h0M230.5 581.0h0M230.1 576.8h0M227.0 592.0h0M222.7 585.6h0M229.1 605.4h0M225.8 601.5h0M228.4 581.6h0M222.9 601.2h0M224.5 592.4h0M220.8 602.4h0M232.6 595.8h0M225.2 578.8h0M226.6 595.0h0M228.5 603.0h0M234.3 587.1h0M234.8 581.7h0M220.0 606.2h0M221.3 601.0h0M218.3 604.3h0M233.5 593.5h0M220.4 579.2h0M237.1 589.3h0M225.6 603.5h0M221.4 589.0h0M231.4 583.9h0M227.5 592.5h0M234.9 594.0h0M226.0 588.4h0M228.0 579.7h0M236.7 586.4h0M218.8 583.4h0M232.5 583.8h0M229.0 603.8h0M220.2 595.8h0M220.1 586.1h0M225.9 601.4h0M230.9 591.4h0M217.4 585.0h0M233.9 586.5h0M235.4 590.7h0M226.5 575.3h0M221.0 586.9h0M228.5 584.8h0M231.6 580.0h0M221.6 604.0h0M221.3 584.3h0M227.4 581.9h0M216.8 595.8h0M231.2 588.8h0M227.4 590.9h0M231.6 602.1h0M232.9 596.9h0M231.2 579.5h0M231.0 600.6h0M226.7 600.5h0M225.7 592.1h0M234.2 598.0h0M225.5 600.7h0M223.1 585.8h0M229.8 595.2h0M232.0 581.7h0M232.9 581.6h0M229.1 595.4h0M227.6 574.0h0M227.5 581.4h0M232.7 596.3h0M226.7 593.1h0M228.8 580.0h0M229.5 599.9h0M224.1 590.1h0M215.0 596.7h0M234.0 590.6h0M215.8 581.0h0M227.4 582.3h0M221.8 601.7h0M235.7 593.1h0M229.2 589.1h0M224.4 586.9h0M216.9 583.2h0M223.1 598.7h0M227.2 569.4h0M226.9 606.6h0M234.8 583.7h0M229.4 604.6h0M221.8 575.7h0M224.6 588.9h0M225.0 586.8h0M236.3 584.7h0M235.2 590.3h0M229.8 602.7h0M231.7 589.7h0M233.1 601.1h0M228.1 604.7h0M217.4 598.6h0M222.4 599.4h0M221.8 576.8h0M232.6 590.6h0M218.5 601.3h0M223.4 601.4h0M228.5 583.3h0M233.8 595.5h0M232.6 586.3h0M232.9 580.7h0M219.9 583.2h0M230.3 586.2h0M222.6 584.9h0M223.6 574.4h0M227.5 576.8h0M232.1 600.9h0M230.2 602.6h0M222.3 589.9h0M230.7 575.2h0M225.5 600.9h0M224.8 590.1h0M227.5 602.6h0M231.9 597.8h0M229.8 574.3h0M216.4 591.5h0M222.9 582.8h0M225.5 598.7h0M235.4 600.0h0M220.6 589.4h0M227.0 595.1h0M229.1 586.1h0M220.9 596.1h0M229.4 605.6h0M227.8 589.7h0M224.2 598.6h0M218.4 589.2h0M231.1 597.2h0M221.7 592.9h0M233.4 591.3h0M233.3 584.5h0M221.2 606.5h0M227.1 579.8h0M225.4 573.0h0M218.6 591.9h0M220.7 588.6h0M229.9 603.9h0M227.3 590.0h0M222.6 597.0h0M225.4 587.0h0M228.1 581.7h0M229.5 587.8h0M224.9 577.1h0M224.6 577.4h0M223.2 598.0h0M233.9 593.4h0M225.8 581.1h0M229.5 605.6h0M229.2 578.2h0M228.7 589.5h0M223.3 581.6h0M216.5 591.2h0M229.9 584.3h0M224.5 594.8h0M229.6 600.0h0M228.4 586.3h0M225.0 603.8h0M227.6 586.0h0M232.2 595.7h0M224.2 578.6h0M223.1 588.3h0M220.6 580.5h0M226.8 584.8h0M233.9 596.1h0M226.2 580.5h0M228.1 582.9h0M215.7 600.4h0M235.0 597.1h0M219.9 593.8h0M231.8 581.2h0M227.0 574.0h0M228.3 581.3h0M218.9 577.5h0M212.7 585.0h0M226.9 600.6h0M223.6 571.2h0M223.6 609.9h0M226.6 576.1h0M221.9 594.5h0M231.3 586.9h0M219.5 591.3h0M222.6 597.6h0M233.3 588.5h0M226.0 594.9h0M230.4 585.1h0M229.3 608.5h0M227.6 593.8h0M236.2 588.2h0M223.7 593.8h0M224.4 589.5h0M220.1 587.8h0M225.9 580.6h0M222.9 585.7h0M221.1 585.8h0M214.1 585.1h0M222.0 589.2h0M220.7 600.6h0M226.0 597.8h0M223.3 593.6h0M234.3 590.7h0M233.8 586.7h0M226.8 600.4h0M230.0 588.1h0M221.7 582.9h0M218.7 585.1h0M220.8 590.5h0M220.9 593.6h0M224.8 586.9h0M232.2 601.5h0M216.8 599.0h0M228.6 592.3h0M220.9 592.9h0M218.4 590.9h0M217.8 583.1h0M223.8 578.3h0M231.9 593.3h0M220.4 602.7h0M210.6 605.8h0M224.8 599.2h0M228.2 583.9h0M228.2 589.7h0M227.8 593.2h0M221.2 592.6h0M220.3 602.0h0M231.8 582.2h0M227.4 591.1h0M231.3 580.0h0M226.0 583.0h0M222.0 604.2h0M230.8 587.8h0M235.2 606.4h0M226.0 600.4h0M219.4 571.7h0M217.7 583.9h0M229.0 595.8h0M225.2 586.2h0M220.1 589.5h0M221.0 591.8h0M219.2 582.1h0M235.5 593.3h0M230.6 595.1h0M229.2 586.0h0M221.1 597.8h0M220.7 576.2h0M218.2 580.4h0M229.3 592.5h0M223.7 576.5h0M222.3 581.6h0M228.0 589.1h0M221.2 593.9h0M230.2 609.3h0M224.6 606.4h0M230.6 591.8h0M217.0 586.9h0M231.8 600.4h0M232.8 583.9h0M215.6 594.7h0M222.5 592.2h0M219.8 613.1h0M228.2 600.8h0M232.7 584.6h0M231.2 589.9h0M218.6 589.6h0M232.3 585.6h0M227.1 580.0h0M228.4 590.3h0M224.4 593.1h0M226.3 586.0h0M224.6 585.9h0M223.1 588.3h0M220.9 580.1h0M219.3 596.4h0M227.2 606.8h0M224.2 584.0h0M223.2 589.6h0M231.6 593.3h0M228.5 593.4h0M223.2 594.9h0M234.2 592.0h0M227.1 590.8h0M219.8 597.2h0M234.7 588.8h0M228.2 583.5h0M228.7 583.2h0M236.2 595.9h0M223.6 594.9h0M231.8 588.6h0M223.4 592.9h0M218.8 580.1h0M226.5 597.0h0M230.5 596.5h0M221.4 593.1h0M230.2 594.4h0M226.9 579.8h0M224.8 596.6h0M224.6 602.3h0M225.1 593.3h0M227.1 598.1h0M231.3 594.6h0M231.6 586.8h0M236.5 589.0h0M211.7 591.8h0M226.5 591.5h0M225.1 583.9h0M227.5 581.0h0M222.8 591.4h0M219.2 586.1h0M225.5 595.1h0M226.2 580.2h0M231.3 596.8h0M221.0 585.9h0M210.7 587.9h0M221.8 603.3h0M219.2 600.4h0M215.1 598.8h0M224.7 587.4h0M232.5 589.5h0M219.1 579.9h0M227.6 590.1h0M225.7 587.9h0M236.5 593.3h0M237.3 600.5h0M228.4 594.9h0M227.2 586.0h0M226.1 584.3h0M220.2 594.8h0M223.1 592.2h0M215.2 594.0h0M226.4 596.5h0M230.6 591.4h0M224.6 591.7h0M229.8 595.9h0M232.5 592.6h0M224.8 594.8h0M223.7 590.5h0M224.4 594.4h0M215.1 599.5h0M217.6 569.8h0M217.3 570.2h0M222.0 568.6h0M219.9 571.1h0M216.6 579.2h0M216.1 572.1h0M217.0 576.9h0M217.3 572.7h0M218.3 573.5h0M217.0 570.6h0M218.8 573.8h0M217.5 574.1h0M215.5 572.0h0M217.5 570.7h0M215.9 575.0h0M217.6 574.9h0M217.3 571.7h0M217.1 566.8h0M218.1 573.2h0M219.2 574.4h0M214.3 569.8h0M218.4 573.2h0M218.6 569.7h0M220.9 572.2h0M217.1 577.9h0M215.7 571.1h0M216.8 564.5h0M214.5 570.4h0M215.3 572.4h0M219.6 572.1h0M221.2 568.3h0M219.9 573.2h0M217.0 573.6h0M217.6 573.1h0M220.5 571.5h0M216.7 572.9h0M217.4 576.7h0M216.6 574.8h0M217.3 577.6h0M215.9 576.2h0M217.8 574.0h0M221.4 572.2h0M218.8 570.0h0M215.3 572.5h0M219.0 569.6h0M217.7 568.3h0M216.3 573.0h0M216.2 577.2h0M218.5 572.8h0M220.3 578.3h0M218.5 574.0h0M219.0 572.5h0M217.0 570.5h0M220.7 573.4h0M215.1 573.6h0M218.7 569.6h0M215.9 576.5h0M219.4 575.5h0M213.3 572.3h0M216.1 570.0h0M219.7 569.3h0M217.0 568.9h0M220.6 573.1h0M217.0 574.0h0M217.0 574.3h0M220.0 571.3h0M218.1 574.2h0M215.5 567.2h0M221.9 567.1h0M219.3 572.6h0M217.2 566.9h0M218.8 568.8h0M216.5 573.9h0M217.4 574.1h0M219.2 569.8h0M219.4 571.8h0M218.8 571.9h0M218.6 574.4h0M220.7 575.8h0M214.4 571.8h0M218.8 569.1h0M217.8 570.1h0M218.2 575.6h0M218.7 568.9h0M217.0 572.0h0M216.3 575.1h0M218.9 572.4h0M215.3 571.8h0M222.8 566.6h0M218.4 569.6h0M219.5 568.9h0M217.4 571.4h0M216.8 574.2h0M218.2 570.7h0M216.9 569.5h0M220.5 578.4h0M220.1 575.7h0M217.1 571.2h0M215.9 569.8h0M220.9 571.9h0M229.5 571.3h0M227.4 573.6h0M227.1 571.7h0M228.6 568.8h0M229.4 574.1h0M228.3 570.6h0M224.5 569.7h0M226.4 569.7h0M229.1 571.0h0M228.9 572.4h0M228.2 571.8h0M227.0 572.9h0M223.7 570.7h0M227.7 578.0h0M228.4 569.2h0M226.9 565.0h0M225.1 570.4h0M224.9 564.1h0M226.4 565.8h0M227.1 576.9h0M226.7 568.8h0M224.3 570.1h0M224.7 570.2h0M228.6 574.1h0M225.4 574.9h0M229.5 569.9h0M227.8 570.9h0M225.2 571.0h0M227.2 581.6h0M230.4 570.7h0M229.3 566.3h0M226.1 572.6h0M227.1 568.6h0M227.8 568.2h0M225.2 567.4h0M225.1 568.0h0M227.1 578.2h0M227.6 576.2h0M229.0 570.4h0M226.6 568.1h0M227.6 573.1h0M224.4 570.2h0M226.3 573.2h0M226.4 574.4h0M226.3 569.1h0M227.3 567.9h0M229.1 567.3h0M226.3 567.7h0M228.9 574.2h0M228.6 571.7h0M228.6 572.5h0M226.2 569.5h0M227.9 573.9h0M226.5 573.3h0M229.5 567.9h0M227.1 579.1h0M228.5 568.5h0M227.4 571.2h0M228.0 566.9h0M229.7 568.7h0M226.8 575.5h0M226.5 571.5h0M227.3 572.4h0M226.5 567.7h0M227.7 566.7h0M228.5 572.5h0M223.9 571.4h0M230.6 569.5h0M227.0 573.8h0M225.7 568.9h0M229.4 572.4h0M227.8 572.7h0M225.6 574.5h0M226.3 572.3h0M225.3 574.9h0M225.2 575.5h0M225.2 572.2h0M227.7 567.0h0M228.6 570.3h0M228.2 573.6h0M226.1 573.0h0M232.5 570.4h0M231.0 571.0h0M227.5 569.4h0M227.9 569.9h0M230.2 568.6h0M229.1 576.7h0M225.7 567.6h0M229.6 571.4h0M225.3 566.7h0M226.8 572.7h0M227.5 568.6h0M228.3 574.7h0M227.9 568.4h0M227.6 570.4h0M230.7 573.6h0M227.0 569.5h0M228.1 565.9h0M226.9 573.6h0M227.4 572.6h0M214.8 597.6h0M214.5 599.4h0M210.8 603.5h0M214.6 603.7h0M216.0 599.1h0M212.6 593.2h0M212.9 599.1h0M217.0 597.6h0M214.8 599.1h0M216.5 599.0h0M216.2 600.6h0M216.0 601.3h0M214.3 596.1h0M211.0 600.4h0M217.9 593.6h0M212.7 595.5h0M213.9 594.3h0M214.0 601.6h0M215.1 593.3h0M214.8 598.0h0M209.5 594.0h0M218.0 594.6h0M210.9 596.2h0M217.7 597.6h0M214.6 602.3h0M217.3 592.8h0M218.1 599.3h0M213.1 597.2h0M211.3 592.0h0M219.6 599.5h0M213.9 594.3h0M216.6 594.3h0M213.1 593.7h0M221.0 597.3h0M211.1 598.3h0M220.2 592.3h0M217.8 600.9h0M208.7 594.1h0M215.3 595.9h0M212.3 597.7h0M212.9 597.1h0M213.0 599.5h0M210.7 597.7h0M215.9 593.1h0M214.4 597.7h0M211.6 596.9h0M214.9 606.7h0M210.0 599.0h0M215.9 602.5h0M216.1 594.0h0M218.2 599.7h0M213.8 598.9h0M214.6 594.7h0M211.6 595.1h0M214.2 597.1h0M215.8 596.2h0M219.0 596.4h0M216.9 600.3h0M215.2 590.1h0M215.7 595.4h0M212.5 596.6h0M215.4 597.7h0M209.7 599.8h0M215.8 597.0h0M213.7 597.6h0M212.2 589.4h0M217.4 600.0h0M215.4 596.1h0M214.7 603.7h0M211.5 598.0h0M215.9 593.7h0M215.3 597.9h0M217.6 593.8h0M216.1 606.5h0M218.1 600.1h0M218.7 596.0h0M215.8 597.0h0M214.6 591.8h0M216.3 602.4h0M216.0 596.5h0M215.8 592.5h0M215.5 600.4h0M217.0 594.3h0M213.6 597.1h0M216.3 596.2h0M216.8 596.2h0M213.7 599.0h0M212.9 595.8h0M216.6 596.0h0M212.2 590.4h0M211.0 591.2h0M214.0 596.9h0M211.3 609.7h0M217.0 600.1h0M216.1 597.9h0M210.8 593.0h0M213.2 594.7h0M214.1 592.4h0M214.0 599.1h0M211.1 595.3h0M214.5 596.4h0M210.1 603.1h0M212.1 602.9h0M213.0 601.0h0M213.8 595.7h0M213.3 594.9h0M217.7 597.4h0M219.0 595.8h0M214.1 598.8h0M215.6 600.0h0M212.2 598.9h0M215.4 591.0h0M214.5 594.2h0M220.3 595.8h0M216.1 595.5h0M211.4 599.8h0M214.9 602.4h0M216.9 591.2h0M213.8 597.9h0M214.2 595.9h0" stroke="#0A6A4E" stroke-width="1.15" stroke-linecap="round" fill="none"/>
<rect x="176.3" y="559.2" width="64.4" height="59.8" fill="none" stroke="#7a7a7a" stroke-width="0.75"/>
<text x="211.7" y="555.6" font-size="8.9" fill="#222" text-anchor="middle" textLength="29.7" lengthAdjust="spacingAndGlyphs">Healthy</text>
<line x1="190.5" y1="619" x2="190.5" y2="621" stroke="#7a7a7a" stroke-width="0.6"/>
<text x="188.5" y="629.9" font-size="7.3" fill="#333" stroke="#333" stroke-width="0.1" text-anchor="middle">−25</text>
<line x1="207.4" y1="619" x2="207.4" y2="621" stroke="#7a7a7a" stroke-width="0.6"/>
<text x="207.7" y="629.9" font-size="7.3" fill="#333" stroke="#333" stroke-width="0.1" text-anchor="middle">0</text>
<line x1="224.2" y1="619" x2="224.2" y2="621" stroke="#7a7a7a" stroke-width="0.6"/>
<text x="224.5" y="629.9" font-size="7.3" fill="#333" stroke="#333" stroke-width="0.1" text-anchor="middle">25</text>
<line x1="33.4" y1="573" x2="35.4" y2="573" stroke="#7a7a7a" stroke-width="0.6"/>
<text x="31.4" y="575.5" font-size="7" fill="#333" stroke="#333" stroke-width="0.1" text-anchor="end">20</text>
<line x1="33.4" y1="589.6" x2="35.4" y2="589.6" stroke="#7a7a7a" stroke-width="0.6"/>
<text x="31.4" y="592.1" font-size="7" fill="#333" stroke="#333" stroke-width="0.1" text-anchor="end">0</text>
<line x1="33.4" y1="607" x2="35.4" y2="607" stroke="#7a7a7a" stroke-width="0.6"/>
<text x="31.4" y="609.5" font-size="7" fill="#333" stroke="#333" stroke-width="0.1" text-anchor="end">−20</text>
<text x="12.3" y="179.1" font-size="8.6" fill="#222" stroke="#222" stroke-width="0.05" text-anchor="middle" textLength="16.6" lengthAdjust="spacingAndGlyphs" transform="rotate(-90 12.3 179.1)">tSNE2</text>
<text x="13" y="277" font-size="8.6" fill="#222" stroke="#222" stroke-width="0.05" text-anchor="middle" textLength="16.6" lengthAdjust="spacingAndGlyphs" transform="rotate(-90 13 277)">tSNE2</text>
<text x="13.6" y="494.2" font-size="8.6" fill="#222" stroke="#222" stroke-width="0.05" text-anchor="middle" textLength="16.6" lengthAdjust="spacingAndGlyphs" transform="rotate(-90 13.6 494.2)">tSNE2</text>
<text x="13.4" y="595.8" font-size="8.6" fill="#222" stroke="#222" stroke-width="0.05" text-anchor="middle" textLength="16.6" lengthAdjust="spacingAndGlyphs" transform="rotate(-90 13.4 595.8)">tSNE2</text>
<text x="136.75" y="227.2" font-size="8.6" fill="#222" stroke="#222" stroke-width="0.05" text-anchor="middle" textLength="16.5" lengthAdjust="spacingAndGlyphs">tSNE1</text>
<text x="134.4" y="326.2" font-size="8.6" fill="#222" stroke="#222" stroke-width="0.05" text-anchor="middle" textLength="15.8" lengthAdjust="spacingAndGlyphs">tSNE1</text>
<text x="135.2" y="544" font-size="8.6" fill="#222" stroke="#222" stroke-width="0.05" text-anchor="middle" textLength="15.8" lengthAdjust="spacingAndGlyphs">tSNE1</text>
<text x="135.2" y="641" font-size="8.6" fill="#222" stroke="#222" stroke-width="0.05" text-anchor="middle" textLength="15.8" lengthAdjust="spacingAndGlyphs">tSNE1</text>
<text x="241.2" y="174.5" font-size="7.4" fill="#222" stroke="#222" stroke-width="0.04" text-anchor="middle" textLength="30.6" lengthAdjust="spacingAndGlyphs" transform="rotate(90 241.2 174.5)">5 Markers</text>
<text x="241.6" y="271.5" font-size="7.4" fill="#222" stroke="#222" stroke-width="0.04" text-anchor="middle" textLength="55" lengthAdjust="spacingAndGlyphs" transform="rotate(90 241.6 271.5)">Extended markers</text>
<text x="242.3" y="492" font-size="7.4" fill="#222" stroke="#222" stroke-width="0.04" text-anchor="middle" textLength="30.6" lengthAdjust="spacingAndGlyphs" transform="rotate(90 242.3 492)">5 Markers</text>
<text x="242.3" y="586" font-size="7.4" fill="#222" stroke="#222" stroke-width="0.04" text-anchor="middle" textLength="55" lengthAdjust="spacingAndGlyphs" transform="rotate(90 242.3 586)">Extended markers</text>
<line x1="281.1" y1="62.8" x2="386.1" y2="62.8" stroke="#8f8f8f" stroke-width="1.1" stroke-dasharray="3.4 3.2"/>
<line x1="343.1" y1="17.7" x2="343.1" y2="109.7" stroke="#8f8f8f" stroke-width="1.1" stroke-dasharray="3.4 3.2"/>
<rect x="280.6" y="17.2" width="106" height="93" fill="none" stroke="#7a7a7a" stroke-width="0.75"/>
<line x1="284.7" y1="110.2" x2="284.7" y2="112.5" stroke="#7a7a7a" stroke-width="0.6"/>
<text x="284.7" y="120.6" font-size="7" fill="#333" stroke="#333" stroke-width="0.1" text-anchor="middle">−4</text>
<line x1="313.9" y1="110.2" x2="313.9" y2="112.5" stroke="#7a7a7a" stroke-width="0.6"/>
<text x="313.9" y="120.6" font-size="7" fill="#333" stroke="#333" stroke-width="0.1" text-anchor="middle">−2</text>
<line x1="343.1" y1="110.2" x2="343.1" y2="112.5" stroke="#7a7a7a" stroke-width="0.6"/>
<text x="343.1" y="120.6" font-size="7" fill="#333" stroke="#333" stroke-width="0.1" text-anchor="middle">0</text>
<line x1="372.3" y1="110.2" x2="372.3" y2="112.5" stroke="#7a7a7a" stroke-width="0.6"/>
<text x="372.3" y="120.6" font-size="7" fill="#333" stroke="#333" stroke-width="0.1" text-anchor="middle">2</text>
<line x1="278.3" y1="17.9" x2="280.6" y2="17.9" stroke="#7a7a7a" stroke-width="0.6"/>
<text x="274.6" y="20.4" font-size="7" fill="#333" stroke="#333" stroke-width="0.1" text-anchor="end">2</text>
<line x1="278.3" y1="40.4" x2="280.6" y2="40.4" stroke="#7a7a7a" stroke-width="0.6"/>
<text x="274.6" y="42.9" font-size="7" fill="#333" stroke="#333" stroke-width="0.1" text-anchor="end">1</text>
<line x1="278.3" y1="62.8" x2="280.6" y2="62.8" stroke="#7a7a7a" stroke-width="0.6"/>
<text x="274.6" y="65.3" font-size="7" fill="#333" stroke="#333" stroke-width="0.1" text-anchor="end">0</text>
<line x1="278.3" y1="85.3" x2="280.6" y2="85.3" stroke="#7a7a7a" stroke-width="0.6"/>
<text x="274.6" y="87.8" font-size="7" fill="#333" stroke="#333" stroke-width="0.1" text-anchor="end">−1</text>
<line x1="278.3" y1="107.8" x2="280.6" y2="107.8" stroke="#7a7a7a" stroke-width="0.6"/>
<text x="274.6" y="110.3" font-size="7" fill="#333" stroke="#333" stroke-width="0.1" text-anchor="end">−2</text>
<text x="313.5" y="13.5" font-size="8.8" fill="#222" textLength="38.8" lengthAdjust="spacingAndGlyphs">5 Markers</text>
<text x="312.1" y="132.1" font-size="8.2" fill="#222" stroke="#222" stroke-width="0.1" textLength="35.4" lengthAdjust="spacingAndGlyphs">PC1 (52.5%)</text>
<text x="259.2" y="63.4" font-size="8.2" fill="#222" stroke="#222" stroke-width="0.1" text-anchor="middle" textLength="36" lengthAdjust="spacingAndGlyphs" transform="rotate(-90 259.2 63.4)">PC2 (17.5%)</text>
<text x="329" y="26" font-size="6.4" fill="#0B6B4F" stroke="#0B6B4F" stroke-width="0.1" text-anchor="middle">22</text>
<circle cx="331.3" cy="20.5" r="0.9" fill="#0B6B4F"/>
<text x="323.6" y="33.2" font-size="6.4" fill="#0B6B4F" stroke="#0B6B4F" stroke-width="0.1" text-anchor="middle">19</text>
<circle cx="326.2" cy="28.3" r="0.9" fill="#0B6B4F"/>
<text x="338.3" y="30" font-size="6.4" fill="#0B6B4F" stroke="#0B6B4F" stroke-width="0.1" text-anchor="middle">21</text>
<circle cx="341" cy="25.6" r="0.9" fill="#0B6B4F"/>
<text x="326.7" y="44.1" font-size="6.4" fill="#0B6B4F" stroke="#0B6B4F" stroke-width="0.1" text-anchor="middle">10</text>
<circle cx="321.5" cy="45.2" r="0.9" fill="#0B6B4F"/>
<text x="302.5" y="46.1" font-size="6.4" fill="#0B6B4F" stroke="#0B6B4F" stroke-width="0.1" text-anchor="middle">3</text>
<circle cx="299.4" cy="46.4" r="0.9" fill="#0B6B4F"/>
<text x="306.8" y="53.3" font-size="6.4" fill="#0B6B4F" stroke="#0B6B4F" stroke-width="0.1" text-anchor="middle">4</text>
<circle cx="309.4" cy="48.7" r="0.9" fill="#0B6B4F"/>
<text x="331.7" y="53.3" font-size="6.4" fill="#0B6B4F" stroke="#0B6B4F" stroke-width="0.1" text-anchor="middle">24</text>
<text x="329.6" y="60.2" font-size="6.4" fill="#0B6B4F" stroke="#0B6B4F" stroke-width="0.1" text-anchor="middle">12</text>
<circle cx="332.5" cy="55.4" r="0.9" fill="#0B6B4F"/>
<text x="323.6" y="65.4" font-size="6.4" fill="#0B6B4F" stroke="#0B6B4F" stroke-width="0.1" text-anchor="middle">6</text>
<circle cx="320.2" cy="65.6" r="0.9" fill="#0B6B4F"/>
<text x="354.2" y="30.6" font-size="6.4" fill="#0B6B4F" stroke="#0B6B4F" stroke-width="0.1" text-anchor="middle">35</text>
<circle cx="356.5" cy="25.2" r="0.9" fill="#0B6B4F"/>
<text x="348.2" y="35.8" font-size="6.4" fill="#0B6B4F" stroke="#0B6B4F" stroke-width="0.1" text-anchor="middle">28</text>
<circle cx="343.6" cy="36.3" r="0.9" fill="#0B6B4F"/>
<text x="352.5" y="47.5" font-size="6.4" fill="#0B6B4F" stroke="#0B6B4F" stroke-width="0.1" text-anchor="middle">30</text>
<circle cx="347.9" cy="48.7" r="0.9" fill="#0B6B4F"/>
<text x="383.3" y="42.7" font-size="6.4" fill="#0B6B4F" stroke="#0B6B4F" stroke-width="0.1" text-anchor="middle">39</text>
<circle cx="380.2" cy="43.6" r="0.9" fill="#0B6B4F"/>
<text x="340.2" y="53.6" font-size="6.4" fill="#0B6B4F" stroke="#0B6B4F" stroke-width="0.1" text-anchor="middle">37</text>
<circle cx="341.5" cy="54.2" r="0.9" fill="#0B6B4F"/>
<text x="360.6" y="54.5" font-size="6.4" fill="#0B6B4F" stroke="#0B6B4F" stroke-width="0.1" text-anchor="middle">38</text>
<circle cx="363.5" cy="55.4" r="0.9" fill="#0B6B4F"/>
<text x="370.4" y="56" font-size="6.4" fill="#0B6B4F" stroke="#0B6B4F" stroke-width="0.1" text-anchor="middle">26</text>
<circle cx="366.7" cy="56.5" r="0.9" fill="#0B6B4F"/>
<text x="377.3" y="53.1" font-size="6.4" fill="#0B6B4F" stroke="#0B6B4F" stroke-width="0.1" text-anchor="middle">34</text>
<circle cx="379.8" cy="48.2" r="0.9" fill="#0B6B4F"/>
<text x="378.2" y="61.1" font-size="6.4" fill="#0B6B4F" stroke="#0B6B4F" stroke-width="0.1" text-anchor="middle">27</text>
<circle cx="374.4" cy="56" r="0.9" fill="#0B6B4F"/>
<text x="349.6" y="61.7" font-size="6.4" fill="#0B6B4F" stroke="#0B6B4F" stroke-width="0.1" text-anchor="middle">18</text>
<text x="360.9" y="60.9" font-size="6.4" fill="#0B6B4F" stroke="#0B6B4F" stroke-width="0.1" text-anchor="middle">14</text>
<circle cx="364.6" cy="61.2" r="0.9" fill="#0B6B4F"/>
<text x="284" y="72.3" font-size="6.4" fill="#0B6B4F" stroke="#0B6B4F" stroke-width="0.1" text-anchor="middle">5</text>
<circle cx="285.8" cy="67.1" r="0.9" fill="#0B6B4F"/>
<text x="336" y="67.7" font-size="6.4" fill="#0B6B4F" stroke="#0B6B4F" stroke-width="0.1" text-anchor="middle">11</text>
<circle cx="332.8" cy="62.2" r="0.9" fill="#0B6B4F"/>
<text x="341.5" y="76.9" font-size="6.4" fill="#0B6B4F" stroke="#0B6B4F" stroke-width="0.1" text-anchor="middle">15</text>
<circle cx="337.2" cy="71.7" r="0.9" fill="#0B6B4F"/>
<text x="338.1" y="85" font-size="6.4" fill="#0B6B4F" stroke="#0B6B4F" stroke-width="0.1" text-anchor="middle">13</text>
<circle cx="333.3" cy="85.9" r="0.9" fill="#0B6B4F"/>
<text x="325" y="90.2" font-size="6.4" fill="#0B6B4F" stroke="#0B6B4F" stroke-width="0.1" text-anchor="middle">7</text>
<circle cx="327.1" cy="90.2" r="0.9" fill="#0B6B4F"/>
<text x="333.3" y="94.5" font-size="6.4" fill="#0B6B4F" stroke="#0B6B4F" stroke-width="0.1" text-anchor="middle">9</text>
<circle cx="330.2" cy="91" r="0.9" fill="#0B6B4F"/>
<text x="337.7" y="101.1" font-size="6.4" fill="#0B6B4F" stroke="#0B6B4F" stroke-width="0.1" text-anchor="middle">8</text>
<circle cx="334.2" cy="101.7" r="0.9" fill="#0B6B4F"/>
<text x="354" y="68.8" font-size="6.4" fill="#0B6B4F" stroke="#0B6B4F" stroke-width="0.1" text-anchor="middle">17</text>
<circle cx="356.8" cy="63.7" r="0.9" fill="#0B6B4F"/>
<text x="369.8" y="67.7" font-size="6.4" fill="#0B6B4F" stroke="#0B6B4F" stroke-width="0.1" text-anchor="middle">31</text>
<circle cx="366.9" cy="62.8" r="0.9" fill="#0B6B4F"/>
<text x="383.3" y="68.3" font-size="6.4" fill="#0B6B4F" stroke="#0B6B4F" stroke-width="0.1" text-anchor="middle">40</text>
<circle cx="381.3" cy="68.8" r="0.9" fill="#0B6B4F"/>
<text x="353.7" y="76.7" font-size="6.4" fill="#0B6B4F" stroke="#0B6B4F" stroke-width="0.1" text-anchor="middle">16</text>
<circle cx="356.3" cy="71.7" r="0.9" fill="#0B6B4F"/>
<text x="364" y="77.1" font-size="6.4" fill="#0B6B4F" stroke="#0B6B4F" stroke-width="0.1" text-anchor="middle">23</text>
<circle cx="360.2" cy="72.1" r="0.9" fill="#0B6B4F"/>
<text x="372.1" y="78.6" font-size="6.4" fill="#0B6B4F" stroke="#0B6B4F" stroke-width="0.1" text-anchor="middle">33</text>
<circle cx="374.4" cy="73.7" r="0.9" fill="#0B6B4F"/>
<text x="356" y="84.1" font-size="6.4" fill="#0B6B4F" stroke="#0B6B4F" stroke-width="0.1" text-anchor="middle">20</text>
<circle cx="358.8" cy="79" r="0.9" fill="#0B6B4F"/>
<text x="368.1" y="87.3" font-size="6.4" fill="#0B6B4F" stroke="#0B6B4F" stroke-width="0.1" text-anchor="middle">32</text>
<circle cx="371" cy="82.1" r="0.9" fill="#0B6B4F"/>
<text x="365.2" y="100.2" font-size="6.4" fill="#0B6B4F" stroke="#0B6B4F" stroke-width="0.1" text-anchor="middle">25</text>
<circle cx="368.1" cy="95.2" r="0.9" fill="#0B6B4F"/>
<text x="304.5" y="59.1" font-size="6.4" fill="#C8192E" stroke="#C8192E" stroke-width="0.1" text-anchor="middle">36</text>
<circle cx="300.3" cy="59.8" r="0.9" fill="#C8192E"/>
<text x="319.8" y="85" font-size="6.4" fill="#C8192E" stroke="#C8192E" stroke-width="0.1" text-anchor="middle">2</text>
<circle cx="321.5" cy="85.2" r="0.9" fill="#C8192E"/>
<text x="327.9" y="100.9" font-size="6.4" fill="#C8192E" stroke="#C8192E" stroke-width="0.1" text-anchor="middle">29</text>
<circle cx="330.8" cy="95.4" r="0.9" fill="#C8192E"/>
<text x="330.8" y="108.1" font-size="6.4" fill="#2FA5DE" stroke="#2FA5DE" stroke-width="0.1" text-anchor="middle">1</text>
<circle cx="317.2" cy="80.2" r="1.8" fill="#C8192E"/>
<rect x="331.2" y="103.9" width="3.2" height="3.2" fill="#2FA5DE"/>
<path d="M345 58.2 L347 61.6 L343 61.6Z" fill="#0B6B4F"/>
<ellipse cx="430.8" cy="54.5" rx="18" ry="13.1" fill="#2FA5DE" fill-opacity="0.12" stroke="#2FA5DE" stroke-width="0.7"/>
<ellipse cx="440.8" cy="75.6" rx="15" ry="7" transform="rotate(37 440.8 75.6)" fill="#C8192E" fill-opacity="0.12" stroke="#C8192E" stroke-width="0.7"/>
<ellipse cx="478.4" cy="62.2" rx="6.6" ry="8.4" fill="#0B6B4F" fill-opacity="0.22" stroke="#0B6B4F" stroke-width="0.85"/>
<line x1="409.4" y1="63.1" x2="514.2" y2="63.1" stroke="#8f8f8f" stroke-width="1.1" stroke-dasharray="3.4 3.2"/>
<line x1="469.7" y1="17.7" x2="469.7" y2="109.7" stroke="#8f8f8f" stroke-width="1.1" stroke-dasharray="3.4 3.2"/>
<rect x="408.9" y="17.2" width="105.8" height="93" fill="none" stroke="#7a7a7a" stroke-width="0.75"/>
<line x1="423.8" y1="110.2" x2="423.8" y2="112.5" stroke="#7a7a7a" stroke-width="0.6"/>
<text x="423.8" y="120.8" font-size="7" fill="#333" stroke="#333" stroke-width="0.1" text-anchor="middle">−5.0</text>
<line x1="447" y1="110.2" x2="447" y2="112.5" stroke="#7a7a7a" stroke-width="0.6"/>
<text x="447" y="120.8" font-size="7" fill="#333" stroke="#333" stroke-width="0.1" text-anchor="middle">−2.5</text>
<line x1="469.5" y1="110.2" x2="469.5" y2="112.5" stroke="#7a7a7a" stroke-width="0.6"/>
<text x="469.5" y="120.8" font-size="7" fill="#333" stroke="#333" stroke-width="0.1" text-anchor="middle">0.0</text>
<line x1="492.5" y1="110.2" x2="492.5" y2="112.5" stroke="#7a7a7a" stroke-width="0.6"/>
<text x="492.5" y="120.8" font-size="7" fill="#333" stroke="#333" stroke-width="0.1" text-anchor="middle">2.5</text>
<line x1="406.6" y1="37.1" x2="408.9" y2="37.1" stroke="#7a7a7a" stroke-width="0.6"/>
<text x="404.6" y="39.6" font-size="7" fill="#333" stroke="#333" stroke-width="0.1" text-anchor="end">2</text>
<line x1="406.6" y1="63.1" x2="408.9" y2="63.1" stroke="#7a7a7a" stroke-width="0.6"/>
<text x="404.6" y="65.6" font-size="7" fill="#333" stroke="#333" stroke-width="0.1" text-anchor="end">0</text>
<line x1="406.6" y1="89.1" x2="408.9" y2="89.1" stroke="#7a7a7a" stroke-width="0.6"/>
<text x="404.6" y="91.6" font-size="7" fill="#333" stroke="#333" stroke-width="0.1" text-anchor="end">−2</text>
<text x="425" y="13.3" font-size="8.8" fill="#222" textLength="70" lengthAdjust="spacingAndGlyphs">Extended markers</text>
<text x="441.5" y="132" font-size="8.2" fill="#222" stroke="#222" stroke-width="0.1" textLength="35.8" lengthAdjust="spacingAndGlyphs">PC1 (48.3%)</text>
<text x="399.5" y="63.3" font-size="8.2" fill="#222" stroke="#222" stroke-width="0.1" text-anchor="middle" textLength="35.5" lengthAdjust="spacingAndGlyphs" transform="rotate(-90 399.5 63.3)">PC2 (14.3%)</text>
<text x="437.5" y="50.5" font-size="6.4" fill="#2FA5DE" stroke="#2FA5DE" stroke-width="0.1" text-anchor="middle">38</text>
<circle cx="439.6" cy="45.6" r="0.9" fill="#2FA5DE"/>
<text x="413.7" y="59.1" font-size="6.4" fill="#2FA5DE" stroke="#2FA5DE" stroke-width="0.1" text-anchor="middle">37</text>
<circle cx="416.3" cy="54.2" r="0.9" fill="#2FA5DE"/>
<text x="440.5" y="62.9" font-size="6.4" fill="#2FA5DE" stroke="#2FA5DE" stroke-width="0.1" text-anchor="middle">30</text>
<circle cx="436.4" cy="64" r="0.9" fill="#2FA5DE"/>
<text x="417.5" y="64.8" font-size="6.4" fill="#C8192E" stroke="#C8192E" stroke-width="0.1" text-anchor="middle">1</text>
<circle cx="419.4" cy="60.3" r="0.9" fill="#C8192E"/>
<text x="444.8" y="70.6" font-size="6.4" fill="#C8192E" stroke="#C8192E" stroke-width="0.1" text-anchor="middle">3</text>
<circle cx="446.8" cy="71.5" r="0.9" fill="#C8192E"/>
<text x="431" y="78.5" font-size="6.4" fill="#C8192E" stroke="#C8192E" stroke-width="0.1" text-anchor="middle">27</text>
<circle cx="433.6" cy="73.8" r="0.9" fill="#C8192E"/>
<text x="452.3" y="77.9" font-size="6.4" fill="#C8192E" stroke="#C8192E" stroke-width="0.1" text-anchor="middle">31</text>
<circle cx="449.4" cy="72.9" r="0.9" fill="#C8192E"/>
<text x="441.9" y="85.4" font-size="6.4" fill="#C8192E" stroke="#C8192E" stroke-width="0.1" text-anchor="middle">34</text>
<circle cx="444.8" cy="80.5" r="0.9" fill="#C8192E"/>
<text x="447.7" y="97.5" font-size="6.4" fill="#C8192E" stroke="#C8192E" stroke-width="0.1" text-anchor="middle">2</text>
<circle cx="449.8" cy="93.5" r="0.9" fill="#C8192E"/>
<text x="458.7" y="35.5" font-size="6.4" fill="#0B6B4F" stroke="#0B6B4F" stroke-width="0.1" text-anchor="middle">4</text>
<circle cx="455.5" cy="36" r="0.9" fill="#0B6B4F"/>
<text x="452.3" y="50.2" font-size="6.4" fill="#0B6B4F" stroke="#0B6B4F" stroke-width="0.1" text-anchor="middle">39</text>
<circle cx="455.5" cy="51" r="0.9" fill="#0B6B4F"/>
<text x="461" y="57.1" font-size="6.4" fill="#0B6B4F" stroke="#0B6B4F" stroke-width="0.1" text-anchor="middle">5</text>
<circle cx="457.8" cy="52.5" r="0.9" fill="#0B6B4F"/>
<text x="477.2" y="21.9" font-size="6.4" fill="#0B6B4F" stroke="#0B6B4F" stroke-width="0.1" text-anchor="middle">7</text>
<circle cx="473.5" cy="20.8" r="0.9" fill="#0B6B4F"/>
<text x="478.7" y="36.3" font-size="6.4" fill="#0B6B4F" stroke="#0B6B4F" stroke-width="0.1" text-anchor="middle">33</text>
<circle cx="474.8" cy="37.2" r="0.9" fill="#0B6B4F"/>
<text x="468.8" y="41.8" font-size="6.4" fill="#0B6B4F" stroke="#0B6B4F" stroke-width="0.1" text-anchor="middle">6</text>
<circle cx="471.7" cy="38.1" r="0.9" fill="#0B6B4F"/>
<text x="480.2" y="42.9" font-size="6.4" fill="#0B6B4F" stroke="#0B6B4F" stroke-width="0.1" text-anchor="middle">40</text>
<circle cx="478.1" cy="42.9" r="0.9" fill="#0B6B4F"/>
<text x="468.3" y="48.7" font-size="6.4" fill="#0B6B4F" stroke="#0B6B4F" stroke-width="0.1" text-anchor="middle">35</text>
<circle cx="472.1" cy="44.4" r="0.9" fill="#0B6B4F"/>
<text x="483.3" y="49" font-size="6.4" fill="#0B6B4F" stroke="#0B6B4F" stroke-width="0.1" text-anchor="middle">28</text>
<circle cx="479.8" cy="45" r="0.9" fill="#0B6B4F"/>
<text x="472.3" y="54.8" font-size="6.4" fill="#0B6B4F" stroke="#0B6B4F" stroke-width="0.1" text-anchor="middle">11</text>
<circle cx="467.5" cy="55.2" r="0.9" fill="#0B6B4F"/>
<text x="467.5" y="63.5" font-size="6.4" fill="#0B6B4F" stroke="#0B6B4F" stroke-width="0.1" text-anchor="middle">31</text>
<text x="474.4" y="61.1" font-size="6.4" fill="#0B6B4F" stroke="#0B6B4F" stroke-width="0.1" text-anchor="middle">39</text>
<text x="479.8" y="67.5" font-size="6.4" fill="#0B6B4F" stroke="#0B6B4F" stroke-width="0.1" text-anchor="middle">10</text>
<text x="484.8" y="60.2" font-size="6.4" fill="#0B6B4F" stroke="#0B6B4F" stroke-width="0.1" text-anchor="middle">34</text>
<text x="491.7" y="54" font-size="6.4" fill="#0B6B4F" stroke="#0B6B4F" stroke-width="0.1" text-anchor="middle">18</text>
<circle cx="493.3" cy="59.1" r="0.9" fill="#0B6B4F"/>
<text x="507.8" y="54" font-size="6.4" fill="#0B6B4F" stroke="#0B6B4F" stroke-width="0.1" text-anchor="middle">12</text>
<circle cx="501.7" cy="57.5" r="0.9" fill="#0B6B4F"/>
<text x="498.8" y="59.8" font-size="6.4" fill="#0B6B4F" stroke="#0B6B4F" stroke-width="0.1" text-anchor="middle">25</text>
<text x="492.5" y="64.8" font-size="6.4" fill="#0B6B4F" stroke="#0B6B4F" stroke-width="0.1" text-anchor="middle">22</text>
<text x="501.7" y="66.7" font-size="6.4" fill="#0B6B4F" stroke="#0B6B4F" stroke-width="0.1" text-anchor="middle">21</text>
<text x="498.6" y="73.3" font-size="6.4" fill="#0B6B4F" stroke="#0B6B4F" stroke-width="0.1" text-anchor="middle">26</text>
<circle cx="494.2" cy="68.3" r="0.9" fill="#0B6B4F"/>
<text x="511" y="72.7" font-size="6.4" fill="#0B6B4F" stroke="#0B6B4F" stroke-width="0.1" text-anchor="middle">29</text>
<circle cx="509" cy="66.3" r="0.9" fill="#0B6B4F"/>
<text x="485.6" y="73.8" font-size="6.4" fill="#0B6B4F" stroke="#0B6B4F" stroke-width="0.1" text-anchor="middle">36</text>
<circle cx="489" cy="69.5" r="0.9" fill="#0B6B4F"/>
<text x="490.8" y="79.8" font-size="6.4" fill="#0B6B4F" stroke="#0B6B4F" stroke-width="0.1" text-anchor="middle">16</text>
<circle cx="492.2" cy="74.4" r="0.9" fill="#0B6B4F"/>
<text x="499.8" y="79.6" font-size="6.4" fill="#0B6B4F" stroke="#0B6B4F" stroke-width="0.1" text-anchor="middle">20</text>
<circle cx="495.4" cy="74.4" r="0.9" fill="#0B6B4F"/>
<text x="498.6" y="86" font-size="6.4" fill="#0B6B4F" stroke="#0B6B4F" stroke-width="0.1" text-anchor="middle">17</text>
<text x="484.4" y="86.3" font-size="6.4" fill="#0B6B4F" stroke="#0B6B4F" stroke-width="0.1" text-anchor="middle">15</text>
<circle cx="485.6" cy="79.8" r="0.9" fill="#0B6B4F"/>
<text x="468.8" y="88.3" font-size="6.4" fill="#0B6B4F" stroke="#0B6B4F" stroke-width="0.1" text-anchor="middle">13</text>
<circle cx="465.4" cy="83.1" r="0.9" fill="#0B6B4F"/>
<text x="477.2" y="92.5" font-size="6.4" fill="#0B6B4F" stroke="#0B6B4F" stroke-width="0.1" text-anchor="middle">19</text>
<circle cx="479.2" cy="87.1" r="0.9" fill="#0B6B4F"/>
<text x="460.2" y="84" font-size="6.4" fill="#0B6B4F" stroke="#0B6B4F" stroke-width="0.1" text-anchor="middle">14</text>
<circle cx="455.8" cy="78.5" r="0.9" fill="#0B6B4F"/>
<text x="457.5" y="96.9" font-size="6.4" fill="#0B6B4F" stroke="#0B6B4F" stroke-width="0.1" text-anchor="middle">8</text>
<circle cx="460.4" cy="92.9" r="0.9" fill="#0B6B4F"/>
<text x="460.2" y="109" font-size="6.4" fill="#0B6B4F" stroke="#0B6B4F" stroke-width="0.1" text-anchor="middle">23</text>
<circle cx="463.3" cy="106.2" r="0.9" fill="#0B6B4F"/>
<circle cx="441" cy="75.2" r="1.8" fill="#C8192E"/>
<rect x="429" y="52.9" width="3.2" height="3.2" fill="#2FA5DE"/>
<path d="M479 59.4 L481 62.8 L477 62.8Z" fill="#0B6B4F"/>
<path d="M491.7 53.5 L493.3 59.1 M507 53.5 L501.7 57.5 M495.4 74.4 L498 81" stroke="#7fd07f" stroke-width="0.5" fill="none"/>
<ellipse cx="300.5" cy="385.2" rx="8.0" ry="11.6" transform="rotate(-14 300.5 385.2)" fill="#C8192E" fill-opacity="0.12" stroke="#C8192E" stroke-width="0.7"/>
<ellipse cx="344.5" cy="379.6" rx="10.4" ry="6.3" transform="rotate(8 344.5 379.6)" fill="#0B6B4F" fill-opacity="0.22" stroke="#0B6B4F" stroke-width="0.85"/>
<line x1="276.8" y1="381.9" x2="381.2" y2="381.9" stroke="#8f8f8f" stroke-width="1.1" stroke-dasharray="3.4 3.2"/>
<line x1="325.8" y1="337.7" x2="325.8" y2="430" stroke="#8f8f8f" stroke-width="1.1" stroke-dasharray="3.4 3.2"/>
<line x1="289.4" y1="341.3" x2="327.6" y2="412.6" stroke="#2FA5DE" stroke-width="0.7"/>
<rect x="276.3" y="337.2" width="105.4" height="93.3" fill="none" stroke="#7a7a7a" stroke-width="0.75"/>
<line x1="294.2" y1="430.5" x2="294.2" y2="432.8" stroke="#7a7a7a" stroke-width="0.6"/>
<text x="294.2" y="439.6" font-size="7" fill="#333" stroke="#333" stroke-width="0.1" text-anchor="middle">−2</text>
<line x1="325.8" y1="430.5" x2="325.8" y2="432.8" stroke="#7a7a7a" stroke-width="0.6"/>
<text x="325.8" y="439.6" font-size="7" fill="#333" stroke="#333" stroke-width="0.1" text-anchor="middle">0</text>
<line x1="357.1" y1="430.5" x2="357.1" y2="432.8" stroke="#7a7a7a" stroke-width="0.6"/>
<text x="357.1" y="439.6" font-size="7" fill="#333" stroke="#333" stroke-width="0.1" text-anchor="middle">2</text>
<line x1="274" y1="348.7" x2="276.3" y2="348.7" stroke="#7a7a7a" stroke-width="0.6"/>
<text x="270.8" y="351.2" font-size="7" fill="#333" stroke="#333" stroke-width="0.1" text-anchor="end">2</text>
<line x1="274" y1="365.3" x2="276.3" y2="365.3" stroke="#7a7a7a" stroke-width="0.6"/>
<text x="270.8" y="367.8" font-size="7" fill="#333" stroke="#333" stroke-width="0.1" text-anchor="end">1</text>
<line x1="274" y1="381.9" x2="276.3" y2="381.9" stroke="#7a7a7a" stroke-width="0.6"/>
<text x="270.8" y="384.4" font-size="7" fill="#333" stroke="#333" stroke-width="0.1" text-anchor="end">0</text>
<line x1="274" y1="398.5" x2="276.3" y2="398.5" stroke="#7a7a7a" stroke-width="0.6"/>
<text x="270.8" y="401" font-size="7" fill="#333" stroke="#333" stroke-width="0.1" text-anchor="end">−1</text>
<line x1="274" y1="415.1" x2="276.3" y2="415.1" stroke="#7a7a7a" stroke-width="0.6"/>
<text x="270.8" y="417.6" font-size="7" fill="#333" stroke="#333" stroke-width="0.1" text-anchor="end">−2</text>
<text x="310" y="333.2" font-size="8.8" fill="#222" textLength="38.9" lengthAdjust="spacingAndGlyphs">5 Markers</text>
<text x="307.9" y="450.6" font-size="8.2" fill="#222" stroke="#222" stroke-width="0.1" textLength="36.3" lengthAdjust="spacingAndGlyphs">PC1 (60.6%)</text>
<text x="259.8" y="381.2" font-size="8.2" fill="#222" stroke="#222" stroke-width="0.1" text-anchor="middle" textLength="36" lengthAdjust="spacingAndGlyphs" transform="rotate(-90 259.8 381.2)">PC2 (16.1%)</text>
<text x="287.9" y="357.5" font-size="6.4" fill="#C8192E" stroke="#C8192E" stroke-width="0.1" text-anchor="middle">9</text>
<circle cx="284.5" cy="357.7" r="0.9" fill="#C8192E"/>
<text x="279" y="365.6" font-size="6.4" fill="#C8192E" stroke="#C8192E" stroke-width="0.1" text-anchor="middle">7</text>
<circle cx="280.8" cy="366.4" r="0.9" fill="#C8192E"/>
<text x="287.9" y="371.3" font-size="6.4" fill="#C8192E" stroke="#C8192E" stroke-width="0.1" text-anchor="middle">13</text>
<circle cx="289.8" cy="372.5" r="0.9" fill="#C8192E"/>
<text x="309.6" y="370.2" font-size="6.4" fill="#C8192E" stroke="#C8192E" stroke-width="0.1" text-anchor="middle">12</text>
<circle cx="305.6" cy="366.7" r="0.9" fill="#C8192E"/>
<text x="329.2" y="375.4" font-size="6.4" fill="#C8192E" stroke="#C8192E" stroke-width="0.1" text-anchor="middle">30</text>
<circle cx="326.9" cy="370.2" r="0.9" fill="#C8192E"/>
<text x="286.3" y="380.9" font-size="6.4" fill="#C8192E" stroke="#C8192E" stroke-width="0.1" text-anchor="middle">10</text>
<circle cx="288.6" cy="382.1" r="0.9" fill="#C8192E"/>
<text x="299.2" y="380.6" font-size="6.4" fill="#C8192E" stroke="#C8192E" stroke-width="0.1" text-anchor="middle">1</text>
<circle cx="295.8" cy="376" r="0.9" fill="#C8192E"/>
<text x="309.6" y="393.6" font-size="6.4" fill="#C8192E" stroke="#C8192E" stroke-width="0.1" text-anchor="middle">16</text>
<text x="319.4" y="397.1" font-size="6.4" fill="#C8192E" stroke="#C8192E" stroke-width="0.1" text-anchor="middle">31</text>
<circle cx="316" cy="392.5" r="0.9" fill="#C8192E"/>
<text x="308.5" y="400.6" font-size="6.4" fill="#C8192E" stroke="#C8192E" stroke-width="0.1" text-anchor="middle">14</text>
<circle cx="310.2" cy="396" r="0.9" fill="#C8192E"/>
<text x="316" y="403.5" font-size="6.4" fill="#C8192E" stroke="#C8192E" stroke-width="0.1" text-anchor="middle">20</text>
<text x="301" y="406.7" font-size="6.4" fill="#C8192E" stroke="#C8192E" stroke-width="0.1" text-anchor="middle">2</text>
<circle cx="305.6" cy="400.6" r="0.9" fill="#C8192E"/>
<text x="294" y="389" font-size="6.4" fill="#C8192E" stroke="#C8192E" stroke-width="0.1" text-anchor="middle">6</text>
<text x="298.7" y="396" font-size="6.4" fill="#C8192E" stroke="#C8192E" stroke-width="0.1" text-anchor="middle">4</text>
<text x="291.2" y="426" font-size="6.4" fill="#C8192E" stroke="#C8192E" stroke-width="0.1" text-anchor="middle">3</text>
<circle cx="287.5" cy="426.3" r="0.9" fill="#C8192E"/>
<text x="317.1" y="376.5" font-size="6.4" fill="#0B6B4F" stroke="#0B6B4F" stroke-width="0.1" text-anchor="middle">15</text>
<circle cx="312.2" cy="371" r="0.9" fill="#0B6B4F"/>
<text x="320.9" y="365.2" font-size="6.4" fill="#0B6B4F" stroke="#0B6B4F" stroke-width="0.1" text-anchor="middle">18</text>
<circle cx="323.5" cy="366.4" r="0.9" fill="#0B6B4F"/>
<text x="324.8" y="351.7" font-size="6.4" fill="#0B6B4F" stroke="#0B6B4F" stroke-width="0.1" text-anchor="middle">23</text>
<circle cx="327.5" cy="346.5" r="0.9" fill="#0B6B4F"/>
<text x="333.1" y="359.5" font-size="6.4" fill="#0B6B4F" stroke="#0B6B4F" stroke-width="0.1" text-anchor="middle">32</text>
<circle cx="328.3" cy="354" r="0.9" fill="#0B6B4F"/>
<text x="324.4" y="389" font-size="6.4" fill="#0B6B4F" stroke="#0B6B4F" stroke-width="0.1" text-anchor="middle">22</text>
<circle cx="327.5" cy="384" r="0.9" fill="#0B6B4F"/>
<text x="303.3" y="389.8" font-size="6.4" fill="#0B6B4F" stroke="#0B6B4F" stroke-width="0.1" text-anchor="middle">11</text>
<circle cx="301" cy="385.8" r="0.9" fill="#0B6B4F"/>
<text x="329.8" y="395.6" font-size="6.4" fill="#0B6B4F" stroke="#0B6B4F" stroke-width="0.1" text-anchor="middle">21</text>
<circle cx="326.7" cy="396" r="0.9" fill="#0B6B4F"/>
<text x="345.5" y="366.4" font-size="6.4" fill="#0B6B4F" stroke="#0B6B4F" stroke-width="0.1" text-anchor="middle">26</text>
<circle cx="340.6" cy="367.1" r="0.9" fill="#0B6B4F"/>
<text x="337.1" y="372.5" font-size="6.4" fill="#0B6B4F" stroke="#0B6B4F" stroke-width="0.1" text-anchor="middle">19</text>
<circle cx="342.3" cy="373.1" r="0.9" fill="#0B6B4F"/>
<text x="357.5" y="374.5" font-size="6.4" fill="#0B6B4F" stroke="#0B6B4F" stroke-width="0.1" text-anchor="middle">29</text>
<circle cx="352.7" cy="375.6" r="0.9" fill="#0B6B4F"/>
<text x="378.3" y="375.4" font-size="6.4" fill="#0B6B4F" stroke="#0B6B4F" stroke-width="0.1" text-anchor="middle">40</text>
<circle cx="376" cy="376.5" r="0.9" fill="#0B6B4F"/>
<text x="348.1" y="379.4" font-size="6.4" fill="#0B6B4F" stroke="#0B6B4F" stroke-width="0.1" text-anchor="middle">17</text>
<text x="346.9" y="386.9" font-size="6.4" fill="#0B6B4F" stroke="#0B6B4F" stroke-width="0.1" text-anchor="middle">24</text>
<text x="364.2" y="381.1" font-size="6.4" fill="#0B6B4F" stroke="#0B6B4F" stroke-width="0.1" text-anchor="middle">33</text>
<text x="372.3" y="382.9" font-size="6.4" fill="#0B6B4F" stroke="#0B6B4F" stroke-width="0.1" text-anchor="middle">27</text>
<text x="356.2" y="386.9" font-size="6.4" fill="#0B6B4F" stroke="#0B6B4F" stroke-width="0.1" text-anchor="middle">39</text>
<text x="366" y="387.8" font-size="6.4" fill="#0B6B4F" stroke="#0B6B4F" stroke-width="0.1" text-anchor="middle">38</text>
<text x="371.7" y="393.8" font-size="6.4" fill="#0B6B4F" stroke="#0B6B4F" stroke-width="0.1" text-anchor="middle">36</text>
<circle cx="366" cy="389" r="0.9" fill="#0B6B4F"/>
<text x="339.4" y="392.7" font-size="6.4" fill="#0B6B4F" stroke="#0B6B4F" stroke-width="0.1" text-anchor="middle">35</text>
<circle cx="342.3" cy="392.1" r="0.9" fill="#0B6B4F"/>
<text x="350.6" y="393.6" font-size="6.4" fill="#0B6B4F" stroke="#0B6B4F" stroke-width="0.1" text-anchor="middle">28</text>
<circle cx="355" cy="391.5" r="0.9" fill="#0B6B4F"/>
<text x="359.4" y="396.7" font-size="6.4" fill="#0B6B4F" stroke="#0B6B4F" stroke-width="0.1" text-anchor="middle">34</text>
<text x="338.3" y="400.8" font-size="6.4" fill="#0B6B4F" stroke="#0B6B4F" stroke-width="0.1" text-anchor="middle">25</text>
<circle cx="337.7" cy="395.6" r="0.9" fill="#0B6B4F"/>
<text x="346.3" y="401.3" font-size="6.4" fill="#0B6B4F" stroke="#0B6B4F" stroke-width="0.1" text-anchor="middle">27</text>
<circle cx="342.1" cy="395.6" r="0.9" fill="#0B6B4F"/>
<text x="298.4" y="362.1" font-size="6.4" fill="#2FA5DE" stroke="#2FA5DE" stroke-width="0.1" text-anchor="middle">8</text>
<text x="317.5" y="387.1" font-size="6.4" fill="#2FA5DE" stroke="#2FA5DE" stroke-width="0.1" text-anchor="middle">6</text>
<circle cx="300.2" cy="385" r="1.8" fill="#C8192E"/>
<rect x="306.9" y="375.5" width="3.2" height="3.2" fill="#2FA5DE"/>
<path d="M344 376.6 L346 380 L342 380Z" fill="#0B6B4F"/>
<ellipse cx="477" cy="389" rx="31.7" ry="10.9" transform="rotate(-7.7 477 389)" fill="#2FA5DE" fill-opacity="0.12" stroke="#2FA5DE" stroke-width="0.7"/>
<ellipse cx="435" cy="383.6" rx="7.2" ry="11.6" fill="#0B6B4F" fill-opacity="0.22" stroke="#0B6B4F" stroke-width="0.85"/>
<ellipse cx="489.3" cy="380.9" rx="5.3" ry="15.6" fill="#C8192E" fill-opacity="0.12" stroke="#C8192E" stroke-width="0.7"/>
<line x1="409.8" y1="383.5" x2="515.5" y2="383.5" stroke="#8f8f8f" stroke-width="1.1" stroke-dasharray="3.4 3.2"/>
<line x1="459.8" y1="337.7" x2="459.8" y2="430" stroke="#8f8f8f" stroke-width="1.1" stroke-dasharray="3.4 3.2"/>
<rect x="409.3" y="337.2" width="106.7" height="93.3" fill="none" stroke="#7a7a7a" stroke-width="0.75"/>
<line x1="411.6" y1="430.5" x2="411.6" y2="432.8" stroke="#7a7a7a" stroke-width="0.6"/>
<text x="411.6" y="439.6" font-size="7" fill="#333" stroke="#333" stroke-width="0.1" text-anchor="middle">−6</text>
<line x1="435.7" y1="430.5" x2="435.7" y2="432.8" stroke="#7a7a7a" stroke-width="0.6"/>
<text x="435.7" y="439.6" font-size="7" fill="#333" stroke="#333" stroke-width="0.1" text-anchor="middle">−3</text>
<line x1="459.9" y1="430.5" x2="459.9" y2="432.8" stroke="#7a7a7a" stroke-width="0.6"/>
<text x="459.9" y="439.6" font-size="7" fill="#333" stroke="#333" stroke-width="0.1" text-anchor="middle">0</text>
<line x1="484.2" y1="430.5" x2="484.2" y2="432.8" stroke="#7a7a7a" stroke-width="0.6"/>
<text x="484.2" y="439.6" font-size="7" fill="#333" stroke="#333" stroke-width="0.1" text-anchor="middle">3</text>
<line x1="508.6" y1="430.5" x2="508.6" y2="432.8" stroke="#7a7a7a" stroke-width="0.6"/>
<text x="508.6" y="439.6" font-size="7" fill="#333" stroke="#333" stroke-width="0.1" text-anchor="middle">6</text>
<line x1="407" y1="344.1" x2="409.3" y2="344.1" stroke="#7a7a7a" stroke-width="0.6"/>
<text x="404" y="346.6" font-size="7" fill="#333" stroke="#333" stroke-width="0.1" text-anchor="end">2</text>
<line x1="407" y1="363.8" x2="409.3" y2="363.8" stroke="#7a7a7a" stroke-width="0.6"/>
<text x="404" y="366.3" font-size="7" fill="#333" stroke="#333" stroke-width="0.1" text-anchor="end">1</text>
<line x1="407" y1="383.5" x2="409.3" y2="383.5" stroke="#7a7a7a" stroke-width="0.6"/>
<text x="404" y="386" font-size="7" fill="#333" stroke="#333" stroke-width="0.1" text-anchor="end">0</text>
<line x1="407" y1="403.2" x2="409.3" y2="403.2" stroke="#7a7a7a" stroke-width="0.6"/>
<text x="404" y="405.7" font-size="7" fill="#333" stroke="#333" stroke-width="0.1" text-anchor="end">−1</text>
<line x1="407" y1="422.9" x2="409.3" y2="422.9" stroke="#7a7a7a" stroke-width="0.6"/>
<text x="404" y="425.4" font-size="7" fill="#333" stroke="#333" stroke-width="0.1" text-anchor="end">−2</text>
<text x="429.6" y="333.2" font-size="8.8" fill="#222" textLength="70.1" lengthAdjust="spacingAndGlyphs">Extended markers</text>
<text x="442.7" y="450.3" font-size="8.2" fill="#222" stroke="#222" stroke-width="0.1" textLength="36.9" lengthAdjust="spacingAndGlyphs">PC1 (64.7%)</text>
<text x="396.8" y="384" font-size="8.2" fill="#222" stroke="#222" stroke-width="0.1" text-anchor="middle" textLength="33.5" lengthAdjust="spacingAndGlyphs" transform="rotate(-90 396.8 384)">PC2 (6.7%)</text>
<text x="430.6" y="356.3" font-size="6.4" fill="#0B6B4F" stroke="#0B6B4F" stroke-width="0.1" text-anchor="middle">7</text>
<circle cx="432.5" cy="356.7" r="0.9" fill="#0B6B4F"/>
<text x="451.7" y="354.8" font-size="6.4" fill="#0B6B4F" stroke="#0B6B4F" stroke-width="0.1" text-anchor="middle">12</text>
<circle cx="446.8" cy="355.8" r="0.9" fill="#0B6B4F"/>
<text x="420" y="361" font-size="6.4" fill="#0B6B4F" stroke="#0B6B4F" stroke-width="0.1" text-anchor="middle">25</text>
<circle cx="421.2" cy="361.8" r="0.9" fill="#0B6B4F"/>
<text x="428.7" y="363.6" font-size="6.4" fill="#0B6B4F" stroke="#0B6B4F" stroke-width="0.1" text-anchor="middle">11</text>
<circle cx="431.3" cy="358.1" r="0.9" fill="#0B6B4F"/>
<text x="436.7" y="362.9" font-size="6.4" fill="#0B6B4F" stroke="#0B6B4F" stroke-width="0.1" text-anchor="middle">8</text>
<circle cx="433.8" cy="357.8" r="0.9" fill="#0B6B4F"/>
<text x="419.8" y="367.1" font-size="6.4" fill="#0B6B4F" stroke="#0B6B4F" stroke-width="0.1" text-anchor="middle">1</text>
<circle cx="416.5" cy="367.9" r="0.9" fill="#0B6B4F"/>
<text x="413.7" y="376" font-size="6.4" fill="#0B6B4F" stroke="#0B6B4F" stroke-width="0.1" text-anchor="middle">17</text>
<circle cx="414.5" cy="370.5" r="0.9" fill="#0B6B4F"/>
<text x="461.3" y="364.1" font-size="6.4" fill="#0B6B4F" stroke="#0B6B4F" stroke-width="0.1" text-anchor="middle">9</text>
<circle cx="457.8" cy="364.4" r="0.9" fill="#0B6B4F"/>
<text x="462.7" y="375.4" font-size="6.4" fill="#0B6B4F" stroke="#0B6B4F" stroke-width="0.1" text-anchor="middle">13</text>
<circle cx="458.7" cy="376.8" r="0.9" fill="#0B6B4F"/>
<text x="431.8" y="379.1" font-size="6.4" fill="#0B6B4F" stroke="#0B6B4F" stroke-width="0.1" text-anchor="middle">24</text>
<text x="446.3" y="381.7" font-size="6.4" fill="#0B6B4F" stroke="#0B6B4F" stroke-width="0.1" text-anchor="middle">22</text>
<circle cx="448.8" cy="376.5" r="0.9" fill="#0B6B4F"/>
<text x="418.6" y="390.4" font-size="6.4" fill="#0B6B4F" stroke="#0B6B4F" stroke-width="0.1" text-anchor="middle">20</text>
<circle cx="420.9" cy="384.6" r="0.9" fill="#0B6B4F"/>
<text x="429.2" y="391" font-size="6.4" fill="#0B6B4F" stroke="#0B6B4F" stroke-width="0.1" text-anchor="middle">21</text>
<text x="429.8" y="399.6" font-size="6.4" fill="#0B6B4F" stroke="#0B6B4F" stroke-width="0.1" text-anchor="middle">27</text>
<circle cx="425.8" cy="394.8" r="0.9" fill="#0B6B4F"/>
<text x="436.2" y="396.7" font-size="6.4" fill="#0B6B4F" stroke="#0B6B4F" stroke-width="0.1" text-anchor="middle">2</text>
<circle cx="437.1" cy="398.2" r="0.9" fill="#0B6B4F"/>
<text x="420.6" y="403.1" font-size="6.4" fill="#0B6B4F" stroke="#0B6B4F" stroke-width="0.1" text-anchor="middle">10</text>
<circle cx="423.2" cy="397.9" r="0.9" fill="#0B6B4F"/>
<text x="445.4" y="407.1" font-size="6.4" fill="#0B6B4F" stroke="#0B6B4F" stroke-width="0.1" text-anchor="middle">3</text>
<circle cx="442.2" cy="402.5" r="0.9" fill="#0B6B4F"/>
<text x="429.8" y="410.6" font-size="6.4" fill="#0B6B4F" stroke="#0B6B4F" stroke-width="0.1" text-anchor="middle">30</text>
<circle cx="432.5" cy="411.4" r="0.9" fill="#0B6B4F"/>
<text x="435.6" y="421" font-size="6.4" fill="#0B6B4F" stroke="#0B6B4F" stroke-width="0.1" text-anchor="middle">37</text>
<circle cx="438.5" cy="416.3" r="0.9" fill="#0B6B4F"/>
<text x="450.6" y="422.1" font-size="6.4" fill="#0B6B4F" stroke="#0B6B4F" stroke-width="0.1" text-anchor="middle">28</text>
<circle cx="446" cy="417.2" r="0.9" fill="#0B6B4F"/>
<text x="442.5" y="429.4" font-size="6.4" fill="#0B6B4F" stroke="#0B6B4F" stroke-width="0.1" text-anchor="middle">31</text>
<circle cx="445.4" cy="426.2" r="0.9" fill="#0B6B4F"/>
<text x="450.6" y="396.7" font-size="6.4" fill="#2FA5DE" stroke="#2FA5DE" stroke-width="0.1" text-anchor="middle">18</text>
<text x="495.8" y="386.9" font-size="6.4" fill="#2FA5DE" stroke="#2FA5DE" stroke-width="0.1" text-anchor="middle">30</text>
<text x="487.1" y="400.2" font-size="6.4" fill="#2FA5DE" stroke="#2FA5DE" stroke-width="0.1" text-anchor="middle">32</text>
<text x="496.7" y="342.5" font-size="6.4" fill="#C8192E" stroke="#C8192E" stroke-width="0.1" text-anchor="middle">5</text>
<circle cx="492.3" cy="341.3" r="0.9" fill="#C8192E"/>
<text x="490.6" y="348.3" font-size="6.4" fill="#C8192E" stroke="#C8192E" stroke-width="0.1" text-anchor="middle">19</text>
<circle cx="486.3" cy="349.4" r="0.9" fill="#C8192E"/>
<text x="481.3" y="355.2" font-size="6.4" fill="#C8192E" stroke="#C8192E" stroke-width="0.1" text-anchor="middle">15</text>
<circle cx="483.7" cy="350" r="0.9" fill="#C8192E"/>
<text x="498.7" y="356.9" font-size="6.4" fill="#C8192E" stroke="#C8192E" stroke-width="0.1" text-anchor="middle">6</text>
<circle cx="495.5" cy="352.3" r="0.9" fill="#C8192E"/>
<text x="479.8" y="367.9" font-size="6.4" fill="#C8192E" stroke="#C8192E" stroke-width="0.1" text-anchor="middle">23</text>
<circle cx="483.7" cy="365.2" r="0.9" fill="#C8192E"/>
<text x="486.8" y="364.8" font-size="6.4" fill="#C8192E" stroke="#C8192E" stroke-width="0.1" text-anchor="middle">4</text>
<text x="481.9" y="374.5" font-size="6.4" fill="#C8192E" stroke="#C8192E" stroke-width="0.1" text-anchor="middle">26</text>
<circle cx="484.5" cy="376" r="0.9" fill="#C8192E"/>
<text x="493.5" y="374.5" font-size="6.4" fill="#C8192E" stroke="#C8192E" stroke-width="0.1" text-anchor="middle">14</text>
<circle cx="487.9" cy="371" r="0.9" fill="#C8192E"/>
<text x="490.2" y="380.2" font-size="6.4" fill="#C8192E" stroke="#C8192E" stroke-width="0.1" text-anchor="middle">16</text>
<text x="505.9" y="395.9" font-size="6.4" fill="#C8192E" stroke="#C8192E" stroke-width="0.1" text-anchor="middle">24</text>
<circle cx="507.9" cy="391" r="0.9" fill="#C8192E"/>
<text x="478.5" y="400.2" font-size="6.4" fill="#C8192E" stroke="#C8192E" stroke-width="0.1" text-anchor="middle">39</text>
<circle cx="481" cy="395.6" r="0.9" fill="#C8192E"/>
<text x="480.5" y="406.8" font-size="6.4" fill="#C8192E" stroke="#C8192E" stroke-width="0.1" text-anchor="middle">36</text>
<circle cx="484.2" cy="405.6" r="0.9" fill="#C8192E"/>
<text x="492.1" y="410.6" font-size="6.4" fill="#C8192E" stroke="#C8192E" stroke-width="0.1" text-anchor="middle">29</text>
<circle cx="487.1" cy="407.1" r="0.9" fill="#C8192E"/>
<text x="493.5" y="416.7" font-size="6.4" fill="#C8192E" stroke="#C8192E" stroke-width="0.1" text-anchor="middle">40</text>
<circle cx="488.6" cy="411.7" r="0.9" fill="#C8192E"/>
<text x="491.4" y="425.6" font-size="6.4" fill="#C8192E" stroke="#C8192E" stroke-width="0.1" text-anchor="middle">35</text>
<circle cx="487.1" cy="426.7" r="0.9" fill="#C8192E"/>
<text x="511.9" y="408.6" font-size="6.4" fill="#C8192E" stroke="#C8192E" stroke-width="0.1" text-anchor="middle">38</text>
<circle cx="510.2" cy="409.8" r="0.9" fill="#C8192E"/>
<circle cx="489.1" cy="381.2" r="1.8" fill="#C8192E"/>
<rect x="475.1" y="387.1" width="3.2" height="3.2" fill="#2FA5DE"/>
<path d="M434.8 381 L436.8 384.4 L432.8 384.4Z" fill="#0B6B4F"/>
<text x="316.2" y="149.9" font-size="8.8" fill="#222" textLength="38.7" lengthAdjust="spacingAndGlyphs">5 Markers</text>
<text x="423.6" y="149.5" font-size="8.8" fill="#222" textLength="70.1" lengthAdjust="spacingAndGlyphs">Extended markers</text>
<rect x="287.8" y="156.27" width="11.6" height="50.23" fill="#BDBDC4" stroke="#4a4a4a" stroke-width="0.6"/>
<rect x="307.5" y="159.5" width="11.6" height="47" fill="#BDBDC4" stroke="#4a4a4a" stroke-width="0.6"/>
<rect x="327.2" y="180.82" width="11.6" height="25.68" fill="#BDBDC4" stroke="#4a4a4a" stroke-width="0.6"/>
<rect x="346.9" y="184.21" width="11.6" height="22.29" fill="#BDBDC4" stroke="#4a4a4a" stroke-width="0.6"/>
<rect x="366.6" y="188.9" width="11.6" height="17.6" fill="#BDBDC4" stroke="#4a4a4a" stroke-width="0.6"/>
<rect x="281.5" y="153.5" width="103.4" height="55.3" fill="none" stroke="#7a7a7a" stroke-width="0.75"/>
<line x1="293.6" y1="208.8" x2="293.6" y2="211" stroke="#7a7a7a" stroke-width="0.6"/>
<line x1="313.3" y1="208.8" x2="313.3" y2="211" stroke="#7a7a7a" stroke-width="0.6"/>
<line x1="333" y1="208.8" x2="333" y2="211" stroke="#7a7a7a" stroke-width="0.6"/>
<line x1="352.7" y1="208.8" x2="352.7" y2="211" stroke="#7a7a7a" stroke-width="0.6"/>
<line x1="372.4" y1="208.8" x2="372.4" y2="211" stroke="#7a7a7a" stroke-width="0.6"/>
<line x1="279.3" y1="206.5" x2="281.5" y2="206.5" stroke="#7a7a7a" stroke-width="0.6"/>
<text x="277.3" y="209" font-size="7" fill="#333" stroke="#333" stroke-width="0.1" text-anchor="end">0</text>
<line x1="279.3" y1="190.35" x2="281.5" y2="190.35" stroke="#7a7a7a" stroke-width="0.6"/>
<text x="277.3" y="192.85" font-size="7" fill="#333" stroke="#333" stroke-width="0.1" text-anchor="end">10</text>
<line x1="279.3" y1="174.2" x2="281.5" y2="174.2" stroke="#7a7a7a" stroke-width="0.6"/>
<text x="277.3" y="176.7" font-size="7" fill="#333" stroke="#333" stroke-width="0.1" text-anchor="end">20</text>
<line x1="279.3" y1="158.05" x2="281.5" y2="158.05" stroke="#7a7a7a" stroke-width="0.6"/>
<text x="277.3" y="160.55" font-size="7" fill="#333" stroke="#333" stroke-width="0.1" text-anchor="end">30</text>
<text x="295.1" y="214.9" font-size="6.3" fill="#333" text-anchor="end" textLength="21.06" lengthAdjust="spacingAndGlyphs" transform="rotate(-45 295.1 214.9)">IL1RAP</text>
<text x="314.8" y="214.9" font-size="6.3" fill="#333" text-anchor="end" textLength="15.62" lengthAdjust="spacingAndGlyphs" transform="rotate(-45 314.8 214.9)">CD97</text>
<text x="334.5" y="214.9" font-size="6.3" fill="#333" text-anchor="end" textLength="15.62" lengthAdjust="spacingAndGlyphs" transform="rotate(-45 334.5 214.9)">CD82</text>
<text x="354.2" y="214.9" font-size="6.3" fill="#333" text-anchor="end" textLength="13.92" lengthAdjust="spacingAndGlyphs" transform="rotate(-45 354.2 214.9)">TIM3</text>
<text x="373.9" y="214.9" font-size="6.3" fill="#333" text-anchor="end" textLength="13.81" lengthAdjust="spacingAndGlyphs" transform="rotate(-45 373.9 214.9)">FLT3</text>
<rect x="287.8" y="234.42" width="11.6" height="50.68" fill="#BDBDC4" stroke="#4a4a4a" stroke-width="0.6"/>
<rect x="307.5" y="243.28" width="11.6" height="41.82" fill="#BDBDC4" stroke="#4a4a4a" stroke-width="0.6"/>
<rect x="327.2" y="259.27" width="11.6" height="25.83" fill="#BDBDC4" stroke="#4a4a4a" stroke-width="0.6"/>
<rect x="346.9" y="279.44" width="11.6" height="5.66" fill="#BDBDC4" stroke="#4a4a4a" stroke-width="0.6"/>
<rect x="366.6" y="282.89" width="11.6" height="2.21" fill="#BDBDC4" stroke="#4a4a4a" stroke-width="0.6"/>
<rect x="281.5" y="232.2" width="103.4" height="55" fill="none" stroke="#7a7a7a" stroke-width="0.75"/>
<line x1="293.6" y1="287.2" x2="293.6" y2="289.4" stroke="#7a7a7a" stroke-width="0.6"/>
<line x1="313.3" y1="287.2" x2="313.3" y2="289.4" stroke="#7a7a7a" stroke-width="0.6"/>
<line x1="333" y1="287.2" x2="333" y2="289.4" stroke="#7a7a7a" stroke-width="0.6"/>
<line x1="352.7" y1="287.2" x2="352.7" y2="289.4" stroke="#7a7a7a" stroke-width="0.6"/>
<line x1="372.4" y1="287.2" x2="372.4" y2="289.4" stroke="#7a7a7a" stroke-width="0.6"/>
<line x1="279.3" y1="285.1" x2="281.5" y2="285.1" stroke="#7a7a7a" stroke-width="0.6"/>
<text x="277.3" y="287.6" font-size="7" fill="#333" stroke="#333" stroke-width="0.1" text-anchor="end">0</text>
<line x1="279.3" y1="272.8" x2="281.5" y2="272.8" stroke="#7a7a7a" stroke-width="0.6"/>
<text x="277.3" y="275.3" font-size="7" fill="#333" stroke="#333" stroke-width="0.1" text-anchor="end">10</text>
<line x1="279.3" y1="260.5" x2="281.5" y2="260.5" stroke="#7a7a7a" stroke-width="0.6"/>
<text x="277.3" y="263" font-size="7" fill="#333" stroke="#333" stroke-width="0.1" text-anchor="end">20</text>
<line x1="279.3" y1="248.2" x2="281.5" y2="248.2" stroke="#7a7a7a" stroke-width="0.6"/>
<text x="277.3" y="250.7" font-size="7" fill="#333" stroke="#333" stroke-width="0.1" text-anchor="end">30</text>
<line x1="279.3" y1="235.9" x2="281.5" y2="235.9" stroke="#7a7a7a" stroke-width="0.6"/>
<text x="277.3" y="238.4" font-size="7" fill="#333" stroke="#333" stroke-width="0.1" text-anchor="end">40</text>
<text x="295.1" y="293.3" font-size="6.3" fill="#333" text-anchor="end" textLength="13.81" lengthAdjust="spacingAndGlyphs" transform="rotate(-45 295.1 293.3)">FLT3</text>
<text x="314.8" y="293.3" font-size="6.3" fill="#333" text-anchor="end" textLength="13.92" lengthAdjust="spacingAndGlyphs" transform="rotate(-45 314.8 293.3)">TIM3</text>
<text x="334.5" y="293.3" font-size="6.3" fill="#333" text-anchor="end" textLength="15.62" lengthAdjust="spacingAndGlyphs" transform="rotate(-45 334.5 293.3)">CD82</text>
<text x="354.2" y="293.3" font-size="6.3" fill="#333" text-anchor="end" textLength="15.62" lengthAdjust="spacingAndGlyphs" transform="rotate(-45 354.2 293.3)">CD97</text>
<text x="373.9" y="293.3" font-size="6.3" fill="#333" text-anchor="end" textLength="21.06" lengthAdjust="spacingAndGlyphs" transform="rotate(-45 373.9 293.3)">IL1RAP</text>
<rect x="404.5" y="156.09" width="5.7" height="50.41" fill="#BDBDC4" stroke="#4a4a4a" stroke-width="0.6"/>
<rect x="412.28" y="159.2" width="5.7" height="47.3" fill="#BDBDC4" stroke="#4a4a4a" stroke-width="0.6"/>
<rect x="420.06" y="164.29" width="5.7" height="42.21" fill="#BDBDC4" stroke="#4a4a4a" stroke-width="0.6"/>
<rect x="427.84" y="167.06" width="5.7" height="39.44" fill="#BDBDC4" stroke="#4a4a4a" stroke-width="0.6"/>
<rect x="435.62" y="174.39" width="5.7" height="32.11" fill="#BDBDC4" stroke="#4a4a4a" stroke-width="0.6"/>
<rect x="443.4" y="178.99" width="5.7" height="27.51" fill="#BDBDC4" stroke="#4a4a4a" stroke-width="0.6"/>
<rect x="451.18" y="181.24" width="5.7" height="25.26" fill="#BDBDC4" stroke="#4a4a4a" stroke-width="0.6"/>
<rect x="458.96" y="182.38" width="5.7" height="24.12" fill="#BDBDC4" stroke="#4a4a4a" stroke-width="0.6"/>
<rect x="466.74" y="185.5" width="5.7" height="21" fill="#BDBDC4" stroke="#4a4a4a" stroke-width="0.6"/>
<rect x="474.52" y="189.55" width="5.7" height="16.95" fill="#BDBDC4" stroke="#4a4a4a" stroke-width="0.6"/>
<rect x="482.3" y="190.24" width="5.7" height="16.26" fill="#BDBDC4" stroke="#4a4a4a" stroke-width="0.6"/>
<rect x="490.08" y="203.39" width="5.7" height="3.11" fill="#BDBDC4" stroke="#4a4a4a" stroke-width="0.6"/>
<rect x="497.86" y="205.12" width="5.7" height="1.38" fill="#BDBDC4" stroke="#4a4a4a" stroke-width="0.6"/>
<rect x="402.5" y="153.6" width="103" height="55.2" fill="none" stroke="#7a7a7a" stroke-width="0.75"/>
<line x1="407.35" y1="208.8" x2="407.35" y2="211" stroke="#7a7a7a" stroke-width="0.6"/>
<line x1="415.13" y1="208.8" x2="415.13" y2="211" stroke="#7a7a7a" stroke-width="0.6"/>
<line x1="422.91" y1="208.8" x2="422.91" y2="211" stroke="#7a7a7a" stroke-width="0.6"/>
<line x1="430.69" y1="208.8" x2="430.69" y2="211" stroke="#7a7a7a" stroke-width="0.6"/>
<line x1="438.47" y1="208.8" x2="438.47" y2="211" stroke="#7a7a7a" stroke-width="0.6"/>
<line x1="446.25" y1="208.8" x2="446.25" y2="211" stroke="#7a7a7a" stroke-width="0.6"/>
<line x1="454.03" y1="208.8" x2="454.03" y2="211" stroke="#7a7a7a" stroke-width="0.6"/>
<line x1="461.81" y1="208.8" x2="461.81" y2="211" stroke="#7a7a7a" stroke-width="0.6"/>
<line x1="469.59" y1="208.8" x2="469.59" y2="211" stroke="#7a7a7a" stroke-width="0.6"/>
<line x1="477.37" y1="208.8" x2="477.37" y2="211" stroke="#7a7a7a" stroke-width="0.6"/>
<line x1="485.15" y1="208.8" x2="485.15" y2="211" stroke="#7a7a7a" stroke-width="0.6"/>
<line x1="492.93" y1="208.8" x2="492.93" y2="211" stroke="#7a7a7a" stroke-width="0.6"/>
<line x1="500.71" y1="208.8" x2="500.71" y2="211" stroke="#7a7a7a" stroke-width="0.6"/>
<line x1="400.3" y1="206.5" x2="402.5" y2="206.5" stroke="#7a7a7a" stroke-width="0.6"/>
<text x="397.6" y="209" font-size="7" fill="#333" stroke="#333" stroke-width="0.1" text-anchor="end">0</text>
<line x1="400.3" y1="189.2" x2="402.5" y2="189.2" stroke="#7a7a7a" stroke-width="0.6"/>
<text x="397.6" y="191.7" font-size="7" fill="#333" stroke="#333" stroke-width="0.1" text-anchor="end">5</text>
<line x1="400.3" y1="171.9" x2="402.5" y2="171.9" stroke="#7a7a7a" stroke-width="0.6"/>
<text x="397.6" y="174.4" font-size="7" fill="#333" stroke="#333" stroke-width="0.1" text-anchor="end">10</text>
<line x1="400.3" y1="154.6" x2="402.5" y2="154.6" stroke="#7a7a7a" stroke-width="0.6"/>
<text x="397.6" y="157.1" font-size="7" fill="#333" stroke="#333" stroke-width="0.1" text-anchor="end">15</text>
<text x="408.85" y="214.9" font-size="5.9" fill="#333" text-anchor="end" textLength="16.54" lengthAdjust="spacingAndGlyphs" transform="rotate(-45 408.85 214.9)">ITGA5</text>
<text x="416.63" y="214.9" font-size="5.9" fill="#333" text-anchor="end" textLength="14.63" lengthAdjust="spacingAndGlyphs" transform="rotate(-45 416.63 214.9)">CD97</text>
<text x="424.41" y="214.9" font-size="5.9" fill="#333" text-anchor="end" textLength="19.72" lengthAdjust="spacingAndGlyphs" transform="rotate(-45 424.41 214.9)">IL1RAP</text>
<text x="432.19" y="214.9" font-size="5.9" fill="#333" text-anchor="end" textLength="19.72" lengthAdjust="spacingAndGlyphs" transform="rotate(-45 432.19 214.9)">ALCAM</text>
<text x="439.97" y="214.9" font-size="5.9" fill="#333" text-anchor="end" textLength="12.93" lengthAdjust="spacingAndGlyphs" transform="rotate(-45 439.97 214.9)">FLT3</text>
<text x="447.75" y="214.9" font-size="5.9" fill="#333" text-anchor="end" textLength="15.9" lengthAdjust="spacingAndGlyphs" transform="rotate(-45 447.75 214.9)">EMR2</text>
<text x="455.53" y="214.9" font-size="5.9" fill="#333" text-anchor="end" textLength="17.81" lengthAdjust="spacingAndGlyphs" transform="rotate(-45 455.53 214.9)">CD123</text>
<text x="463.31" y="214.9" font-size="5.9" fill="#333" text-anchor="end" textLength="14.63" lengthAdjust="spacingAndGlyphs" transform="rotate(-45 463.31 214.9)">CD82</text>
<text x="471.09" y="214.9" font-size="5.9" fill="#333" text-anchor="end" textLength="13.68" lengthAdjust="spacingAndGlyphs" transform="rotate(-45 471.09 214.9)">CLL1</text>
<text x="478.87" y="214.9" font-size="5.9" fill="#333" text-anchor="end" textLength="14.63" lengthAdjust="spacingAndGlyphs" transform="rotate(-45 478.87 214.9)">CD99</text>
<text x="486.65" y="214.9" font-size="5.9" fill="#333" text-anchor="end" textLength="19.4" lengthAdjust="spacingAndGlyphs" transform="rotate(-45 486.65 214.9)">CXCR4</text>
<text x="494.43" y="214.9" font-size="5.9" fill="#333" text-anchor="end" textLength="17.39" lengthAdjust="spacingAndGlyphs" transform="rotate(-45 494.43 214.9)">CD117</text>
<text x="502.21" y="214.9" font-size="5.9" fill="#333" text-anchor="end" textLength="14.63" lengthAdjust="spacingAndGlyphs" transform="rotate(-45 502.21 214.9)">CD47</text>
<rect x="404.5" y="234.36" width="5.7" height="50.84" fill="#BDBDC4" stroke="#4a4a4a" stroke-width="0.6"/>
<rect x="412.28" y="258.96" width="5.7" height="26.24" fill="#BDBDC4" stroke="#4a4a4a" stroke-width="0.6"/>
<rect x="420.06" y="263.39" width="5.7" height="21.81" fill="#BDBDC4" stroke="#4a4a4a" stroke-width="0.6"/>
<rect x="427.84" y="266.34" width="5.7" height="18.86" fill="#BDBDC4" stroke="#4a4a4a" stroke-width="0.6"/>
<rect x="435.62" y="268.31" width="5.7" height="16.89" fill="#BDBDC4" stroke="#4a4a4a" stroke-width="0.6"/>
<rect x="443.4" y="275.03" width="5.7" height="10.17" fill="#BDBDC4" stroke="#4a4a4a" stroke-width="0.6"/>
<rect x="451.18" y="278.15" width="5.7" height="7.05" fill="#BDBDC4" stroke="#4a4a4a" stroke-width="0.6"/>
<rect x="458.96" y="278.31" width="5.7" height="6.89" fill="#BDBDC4" stroke="#4a4a4a" stroke-width="0.6"/>
<rect x="466.74" y="280.28" width="5.7" height="4.92" fill="#BDBDC4" stroke="#4a4a4a" stroke-width="0.6"/>
<rect x="474.52" y="284.22" width="5.7" height="0.98" fill="#BDBDC4" stroke="#8a8a8a" stroke-width="0.6"/>
<rect x="482.3" y="284.38" width="5.7" height="0.82" fill="#BDBDC4" stroke="#8a8a8a" stroke-width="0.6"/>
<rect x="490.08" y="284.46" width="5.7" height="0.74" fill="#BDBDC4" stroke="#8a8a8a" stroke-width="0.6"/>
<rect x="497.86" y="284.46" width="5.7" height="0.74" fill="#BDBDC4" stroke="#8a8a8a" stroke-width="0.6"/>
<rect x="402.5" y="232.4" width="103" height="54.8" fill="none" stroke="#7a7a7a" stroke-width="0.75"/>
<line x1="407.35" y1="287.2" x2="407.35" y2="289.4" stroke="#7a7a7a" stroke-width="0.6"/>
<line x1="415.13" y1="287.2" x2="415.13" y2="289.4" stroke="#7a7a7a" stroke-width="0.6"/>
<line x1="422.91" y1="287.2" x2="422.91" y2="289.4" stroke="#7a7a7a" stroke-width="0.6"/>
<line x1="430.69" y1="287.2" x2="430.69" y2="289.4" stroke="#7a7a7a" stroke-width="0.6"/>
<line x1="438.47" y1="287.2" x2="438.47" y2="289.4" stroke="#7a7a7a" stroke-width="0.6"/>
<line x1="446.25" y1="287.2" x2="446.25" y2="289.4" stroke="#7a7a7a" stroke-width="0.6"/>
<line x1="454.03" y1="287.2" x2="454.03" y2="289.4" stroke="#7a7a7a" stroke-width="0.6"/>
<line x1="461.81" y1="287.2" x2="461.81" y2="289.4" stroke="#7a7a7a" stroke-width="0.6"/>
<line x1="469.59" y1="287.2" x2="469.59" y2="289.4" stroke="#7a7a7a" stroke-width="0.6"/>
<line x1="477.37" y1="287.2" x2="477.37" y2="289.4" stroke="#7a7a7a" stroke-width="0.6"/>
<line x1="485.15" y1="287.2" x2="485.15" y2="289.4" stroke="#7a7a7a" stroke-width="0.6"/>
<line x1="492.93" y1="287.2" x2="492.93" y2="289.4" stroke="#7a7a7a" stroke-width="0.6"/>
<line x1="500.71" y1="287.2" x2="500.71" y2="289.4" stroke="#7a7a7a" stroke-width="0.6"/>
<line x1="400.3" y1="285.2" x2="402.5" y2="285.2" stroke="#7a7a7a" stroke-width="0.6"/>
<text x="397.6" y="287.7" font-size="7" fill="#333" stroke="#333" stroke-width="0.1" text-anchor="end">0</text>
<line x1="400.3" y1="268.8" x2="402.5" y2="268.8" stroke="#7a7a7a" stroke-width="0.6"/>
<text x="397.6" y="271.3" font-size="7" fill="#333" stroke="#333" stroke-width="0.1" text-anchor="end">10</text>
<line x1="400.3" y1="252.4" x2="402.5" y2="252.4" stroke="#7a7a7a" stroke-width="0.6"/>
<text x="397.6" y="254.9" font-size="7" fill="#333" stroke="#333" stroke-width="0.1" text-anchor="end">20</text>
<line x1="400.3" y1="236" x2="402.5" y2="236" stroke="#7a7a7a" stroke-width="0.6"/>
<text x="397.6" y="238.5" font-size="7" fill="#333" stroke="#333" stroke-width="0.1" text-anchor="end">30</text>
<text x="408.85" y="293.3" font-size="5.9" fill="#333" text-anchor="end" textLength="14.63" lengthAdjust="spacingAndGlyphs" transform="rotate(-45 408.85 293.3)">CD47</text>
<text x="416.63" y="293.3" font-size="5.9" fill="#333" text-anchor="end" textLength="14.63" lengthAdjust="spacingAndGlyphs" transform="rotate(-45 416.63 293.3)">CD99</text>
<text x="424.41" y="293.3" font-size="5.9" fill="#333" text-anchor="end" textLength="13.68" lengthAdjust="spacingAndGlyphs" transform="rotate(-45 424.41 293.3)">CLL1</text>
<text x="432.19" y="293.3" font-size="5.9" fill="#333" text-anchor="end" textLength="17.81" lengthAdjust="spacingAndGlyphs" transform="rotate(-45 432.19 293.3)">CD123</text>
<text x="439.97" y="293.3" font-size="5.9" fill="#333" text-anchor="end" textLength="14.63" lengthAdjust="spacingAndGlyphs" transform="rotate(-45 439.97 293.3)">CD82</text>
<text x="447.75" y="293.3" font-size="5.9" fill="#333" text-anchor="end" textLength="15.9" lengthAdjust="spacingAndGlyphs" transform="rotate(-45 447.75 293.3)">EMR2</text>
<text x="455.53" y="293.3" font-size="5.9" fill="#333" text-anchor="end" textLength="14.63" lengthAdjust="spacingAndGlyphs" transform="rotate(-45 455.53 293.3)">CD97</text>
<text x="463.31" y="293.3" font-size="5.9" fill="#333" text-anchor="end" textLength="19.72" lengthAdjust="spacingAndGlyphs" transform="rotate(-45 463.31 293.3)">IL1RAP</text>
<text x="471.09" y="293.3" font-size="5.9" fill="#333" text-anchor="end" textLength="19.72" lengthAdjust="spacingAndGlyphs" transform="rotate(-45 471.09 293.3)">ALCAM</text>
<text x="478.87" y="293.3" font-size="5.9" fill="#333" text-anchor="end" textLength="19.4" lengthAdjust="spacingAndGlyphs" transform="rotate(-45 478.87 293.3)">CXCR4</text>
<text x="486.65" y="293.3" font-size="5.9" fill="#333" text-anchor="end" textLength="17.39" lengthAdjust="spacingAndGlyphs" transform="rotate(-45 486.65 293.3)">CD117</text>
<text x="494.43" y="293.3" font-size="5.9" fill="#333" text-anchor="end" textLength="12.93" lengthAdjust="spacingAndGlyphs" transform="rotate(-45 494.43 293.3)">FLT3</text>
<text x="502.21" y="293.3" font-size="5.9" fill="#333" text-anchor="end" textLength="16.54" lengthAdjust="spacingAndGlyphs" transform="rotate(-45 502.21 293.3)">ITGA5</text>
<text x="259.3" y="224.6" font-size="8.6" fill="#222" stroke="#222" stroke-width="0.05" text-anchor="middle" textLength="33.2" lengthAdjust="spacingAndGlyphs" transform="rotate(-90 259.3 224.6)">Contribution</text>
<text x="508" y="179.2" font-size="9.4" fill="#222" stroke="#222" stroke-width="0.35" text-anchor="middle" textLength="9.7" lengthAdjust="spacingAndGlyphs" transform="rotate(90 508 179.2)">PC1</text>
<text x="507.7" y="258" font-size="9.4" fill="#222" stroke="#222" stroke-width="0.35" text-anchor="middle" textLength="10.5" lengthAdjust="spacingAndGlyphs" transform="rotate(90 507.7 258)">PC2</text>
<text x="312.8" y="468.1" font-size="8.8" fill="#222" textLength="39" lengthAdjust="spacingAndGlyphs">5 Markers</text>
<text x="417.3" y="468.1" font-size="8.8" fill="#222" textLength="69.4" lengthAdjust="spacingAndGlyphs">Extended markers</text>
<rect x="283.55" y="474.61" width="12" height="50.89" fill="#BDBDC4" stroke="#4a4a4a" stroke-width="0.6"/>
<rect x="303.4" y="474.61" width="12" height="50.89" fill="#BDBDC4" stroke="#4a4a4a" stroke-width="0.6"/>
<rect x="323.25" y="488.37" width="12" height="37.13" fill="#BDBDC4" stroke="#4a4a4a" stroke-width="0.6"/>
<rect x="343.1" y="500.05" width="12" height="25.45" fill="#BDBDC4" stroke="#4a4a4a" stroke-width="0.6"/>
<rect x="362.95" y="501.37" width="12" height="24.13" fill="#BDBDC4" stroke="#4a4a4a" stroke-width="0.6"/>
<rect x="278.2" y="471.9" width="103.3" height="55.1" fill="none" stroke="#7a7a7a" stroke-width="0.75"/>
<line x1="289.55" y1="527" x2="289.55" y2="529.2" stroke="#7a7a7a" stroke-width="0.6"/>
<line x1="309.4" y1="527" x2="309.4" y2="529.2" stroke="#7a7a7a" stroke-width="0.6"/>
<line x1="329.25" y1="527" x2="329.25" y2="529.2" stroke="#7a7a7a" stroke-width="0.6"/>
<line x1="349.1" y1="527" x2="349.1" y2="529.2" stroke="#7a7a7a" stroke-width="0.6"/>
<line x1="368.95" y1="527" x2="368.95" y2="529.2" stroke="#7a7a7a" stroke-width="0.6"/>
<line x1="276" y1="525.5" x2="278.2" y2="525.5" stroke="#7a7a7a" stroke-width="0.6"/>
<text x="275" y="528" font-size="7" fill="#333" stroke="#333" stroke-width="0.1" text-anchor="end">0</text>
<line x1="276" y1="506.65" x2="278.2" y2="506.65" stroke="#7a7a7a" stroke-width="0.6"/>
<text x="275" y="509.15" font-size="7" fill="#333" stroke="#333" stroke-width="0.1" text-anchor="end">10</text>
<line x1="276" y1="487.8" x2="278.2" y2="487.8" stroke="#7a7a7a" stroke-width="0.6"/>
<text x="275" y="490.3" font-size="7" fill="#333" stroke="#333" stroke-width="0.1" text-anchor="end">20</text>
<text x="291.05" y="533.1" font-size="6.3" fill="#333" text-anchor="end" textLength="15.62" lengthAdjust="spacingAndGlyphs" transform="rotate(-45 291.05 533.1)">CD97</text>
<text x="310.9" y="533.1" font-size="6.3" fill="#333" text-anchor="end" textLength="21.06" lengthAdjust="spacingAndGlyphs" transform="rotate(-45 310.9 533.1)">IL1RAP</text>
<text x="330.75" y="533.1" font-size="6.3" fill="#333" text-anchor="end" textLength="15.62" lengthAdjust="spacingAndGlyphs" transform="rotate(-45 330.75 533.1)">CD82</text>
<text x="350.6" y="533.1" font-size="6.3" fill="#333" text-anchor="end" textLength="13.81" lengthAdjust="spacingAndGlyphs" transform="rotate(-45 350.6 533.1)">FLT3</text>
<text x="370.45" y="533.1" font-size="6.3" fill="#333" text-anchor="end" textLength="13.92" lengthAdjust="spacingAndGlyphs" transform="rotate(-45 370.45 533.1)">TIM3</text>
<rect x="283.55" y="555.11" width="12" height="50.59" fill="#BDBDC4" stroke="#4a4a4a" stroke-width="0.6"/>
<rect x="303.4" y="563.11" width="12" height="42.59" fill="#BDBDC4" stroke="#4a4a4a" stroke-width="0.6"/>
<rect x="323.25" y="605.1" width="12" height="0.6" fill="#BDBDC4" stroke="#8a8a8a" stroke-width="0.6"/>
<rect x="343.1" y="605.1" width="12" height="0.6" fill="#BDBDC4" stroke="#8a8a8a" stroke-width="0.6"/>
<rect x="362.95" y="605.1" width="12" height="0.6" fill="#BDBDC4" stroke="#8a8a8a" stroke-width="0.6"/>
<rect x="278.2" y="552.8" width="103.8" height="55.2" fill="none" stroke="#7a7a7a" stroke-width="0.75"/>
<line x1="289.55" y1="608" x2="289.55" y2="610.2" stroke="#7a7a7a" stroke-width="0.6"/>
<line x1="309.4" y1="608" x2="309.4" y2="610.2" stroke="#7a7a7a" stroke-width="0.6"/>
<line x1="329.25" y1="608" x2="329.25" y2="610.2" stroke="#7a7a7a" stroke-width="0.6"/>
<line x1="349.1" y1="608" x2="349.1" y2="610.2" stroke="#7a7a7a" stroke-width="0.6"/>
<line x1="368.95" y1="608" x2="368.95" y2="610.2" stroke="#7a7a7a" stroke-width="0.6"/>
<line x1="276" y1="605.7" x2="278.2" y2="605.7" stroke="#7a7a7a" stroke-width="0.6"/>
<text x="275" y="608.2" font-size="7" fill="#333" stroke="#333" stroke-width="0.1" text-anchor="end">0</text>
<line x1="276" y1="587.1" x2="278.2" y2="587.1" stroke="#7a7a7a" stroke-width="0.6"/>
<text x="275" y="589.6" font-size="7" fill="#333" stroke="#333" stroke-width="0.1" text-anchor="end">20</text>
<line x1="276" y1="568.5" x2="278.2" y2="568.5" stroke="#7a7a7a" stroke-width="0.6"/>
<text x="275" y="571" font-size="7" fill="#333" stroke="#333" stroke-width="0.1" text-anchor="end">40</text>
<text x="291.05" y="614.1" font-size="6.3" fill="#333" text-anchor="end" textLength="13.92" lengthAdjust="spacingAndGlyphs" transform="rotate(-45 291.05 614.1)">TIM3</text>
<text x="310.9" y="614.1" font-size="6.3" fill="#333" text-anchor="end" textLength="13.81" lengthAdjust="spacingAndGlyphs" transform="rotate(-45 310.9 614.1)">FLT3</text>
<text x="330.75" y="614.1" font-size="6.3" fill="#333" text-anchor="end" textLength="21.06" lengthAdjust="spacingAndGlyphs" transform="rotate(-45 330.75 614.1)">IL1RAP</text>
<text x="350.6" y="614.1" font-size="6.3" fill="#333" text-anchor="end" textLength="15.62" lengthAdjust="spacingAndGlyphs" transform="rotate(-45 350.6 614.1)">CD97</text>
<text x="370.45" y="614.1" font-size="6.3" fill="#333" text-anchor="end" textLength="15.62" lengthAdjust="spacingAndGlyphs" transform="rotate(-45 370.45 614.1)">CD82</text>
<rect x="401" y="474.3" width="5.8" height="50.4" fill="#BDBDC4" stroke="#4a4a4a" stroke-width="0.6"/>
<rect x="408.85" y="474.3" width="5.8" height="50.4" fill="#BDBDC4" stroke="#4a4a4a" stroke-width="0.6"/>
<rect x="416.7" y="474.3" width="5.8" height="50.4" fill="#BDBDC4" stroke="#4a4a4a" stroke-width="0.6"/>
<rect x="424.55" y="474.97" width="5.8" height="49.73" fill="#BDBDC4" stroke="#4a4a4a" stroke-width="0.6"/>
<rect x="432.4" y="475.98" width="5.8" height="48.72" fill="#BDBDC4" stroke="#4a4a4a" stroke-width="0.6"/>
<rect x="440.25" y="476.32" width="5.8" height="48.38" fill="#BDBDC4" stroke="#4a4a4a" stroke-width="0.6"/>
<rect x="448.1" y="476.32" width="5.8" height="48.38" fill="#BDBDC4" stroke="#4a4a4a" stroke-width="0.6"/>
<rect x="455.95" y="479.34" width="5.8" height="45.36" fill="#BDBDC4" stroke="#4a4a4a" stroke-width="0.6"/>
<rect x="463.8" y="480.35" width="5.8" height="44.35" fill="#BDBDC4" stroke="#4a4a4a" stroke-width="0.6"/>
<rect x="471.65" y="481.36" width="5.8" height="43.34" fill="#BDBDC4" stroke="#4a4a4a" stroke-width="0.6"/>
<rect x="479.5" y="482.36" width="5.8" height="42.34" fill="#BDBDC4" stroke="#4a4a4a" stroke-width="0.6"/>
<rect x="487.35" y="489.42" width="5.8" height="35.28" fill="#BDBDC4" stroke="#4a4a4a" stroke-width="0.6"/>
<rect x="495.2" y="494.12" width="5.8" height="30.58" fill="#BDBDC4" stroke="#4a4a4a" stroke-width="0.6"/>
<rect x="398.7" y="472.1" width="103.8" height="54.9" fill="none" stroke="#7a7a7a" stroke-width="0.75"/>
<line x1="403.9" y1="527" x2="403.9" y2="529.2" stroke="#7a7a7a" stroke-width="0.6"/>
<line x1="411.75" y1="527" x2="411.75" y2="529.2" stroke="#7a7a7a" stroke-width="0.6"/>
<line x1="419.6" y1="527" x2="419.6" y2="529.2" stroke="#7a7a7a" stroke-width="0.6"/>
<line x1="427.45" y1="527" x2="427.45" y2="529.2" stroke="#7a7a7a" stroke-width="0.6"/>
<line x1="435.3" y1="527" x2="435.3" y2="529.2" stroke="#7a7a7a" stroke-width="0.6"/>
<line x1="443.15" y1="527" x2="443.15" y2="529.2" stroke="#7a7a7a" stroke-width="0.6"/>
<line x1="451" y1="527" x2="451" y2="529.2" stroke="#7a7a7a" stroke-width="0.6"/>
<line x1="458.85" y1="527" x2="458.85" y2="529.2" stroke="#7a7a7a" stroke-width="0.6"/>
<line x1="466.7" y1="527" x2="466.7" y2="529.2" stroke="#7a7a7a" stroke-width="0.6"/>
<line x1="474.55" y1="527" x2="474.55" y2="529.2" stroke="#7a7a7a" stroke-width="0.6"/>
<line x1="482.4" y1="527" x2="482.4" y2="529.2" stroke="#7a7a7a" stroke-width="0.6"/>
<line x1="490.25" y1="527" x2="490.25" y2="529.2" stroke="#7a7a7a" stroke-width="0.6"/>
<line x1="498.1" y1="527" x2="498.1" y2="529.2" stroke="#7a7a7a" stroke-width="0.6"/>
<line x1="396.5" y1="524.7" x2="398.7" y2="524.7" stroke="#7a7a7a" stroke-width="0.6"/>
<text x="395.5" y="527.2" font-size="7" fill="#333" stroke="#333" stroke-width="0.1" text-anchor="end">0</text>
<line x1="396.5" y1="511.26" x2="398.7" y2="511.26" stroke="#7a7a7a" stroke-width="0.6"/>
<text x="395.5" y="513.76" font-size="7" fill="#333" stroke="#333" stroke-width="0.1" text-anchor="end">2</text>
<line x1="396.5" y1="497.82" x2="398.7" y2="497.82" stroke="#7a7a7a" stroke-width="0.6"/>
<text x="395.5" y="500.32" font-size="7" fill="#333" stroke="#333" stroke-width="0.1" text-anchor="end">4</text>
<line x1="396.5" y1="484.38" x2="398.7" y2="484.38" stroke="#7a7a7a" stroke-width="0.6"/>
<text x="395.5" y="486.88" font-size="7" fill="#333" stroke="#333" stroke-width="0.1" text-anchor="end">6</text>
<text x="405.4" y="533.1" font-size="5.9" fill="#333" text-anchor="end" textLength="17.8" lengthAdjust="spacingAndGlyphs" transform="rotate(-45 405.4 533.1)">IFNGR</text>
<text x="413.25" y="533.1" font-size="5.9" fill="#333" text-anchor="end" textLength="19.72" lengthAdjust="spacingAndGlyphs" transform="rotate(-45 413.25 533.1)">ALCAM</text>
<text x="421.1" y="533.1" font-size="5.9" fill="#333" text-anchor="end" textLength="19.72" lengthAdjust="spacingAndGlyphs" transform="rotate(-45 421.1 533.1)">IL1RAP</text>
<text x="428.95" y="533.1" font-size="5.9" fill="#333" text-anchor="end" textLength="17.81" lengthAdjust="spacingAndGlyphs" transform="rotate(-45 428.95 533.1)">CD151</text>
<text x="436.8" y="533.1" font-size="5.9" fill="#333" text-anchor="end" textLength="14.63" lengthAdjust="spacingAndGlyphs" transform="rotate(-45 436.8 533.1)">CD97</text>
<text x="444.65" y="533.1" font-size="5.9" fill="#333" text-anchor="end" textLength="12.93" lengthAdjust="spacingAndGlyphs" transform="rotate(-45 444.65 533.1)">FLT3</text>
<text x="452.5" y="533.1" font-size="5.9" fill="#333" text-anchor="end" textLength="16.54" lengthAdjust="spacingAndGlyphs" transform="rotate(-45 452.5 533.1)">ITGA5</text>
<text x="460.35" y="533.1" font-size="5.9" fill="#333" text-anchor="end" textLength="14.63" lengthAdjust="spacingAndGlyphs" transform="rotate(-45 460.35 533.1)">CD82</text>
<text x="468.2" y="533.1" font-size="5.9" fill="#333" text-anchor="end" textLength="13.04" lengthAdjust="spacingAndGlyphs" transform="rotate(-45 468.2 533.1)">TIM3</text>
<text x="476.05" y="533.1" font-size="5.9" fill="#333" text-anchor="end" textLength="14.63" lengthAdjust="spacingAndGlyphs" transform="rotate(-45 476.05 533.1)">CD47</text>
<text x="483.9" y="533.1" font-size="5.9" fill="#333" text-anchor="end" textLength="17.81" lengthAdjust="spacingAndGlyphs" transform="rotate(-45 483.9 533.1)">CD123</text>
<text x="491.75" y="533.1" font-size="5.9" fill="#333" text-anchor="end" textLength="17.81" lengthAdjust="spacingAndGlyphs" transform="rotate(-45 491.75 533.1)">CD300</text>
<text x="499.6" y="533.1" font-size="5.9" fill="#333" text-anchor="end" textLength="15.9" lengthAdjust="spacingAndGlyphs" transform="rotate(-45 499.6 533.1)">EMR2</text>
<rect x="400.1" y="555.14" width="5.8" height="50.46" fill="#BDBDC4" stroke="#4a4a4a" stroke-width="0.6"/>
<rect x="407.95" y="564.62" width="5.8" height="40.98" fill="#BDBDC4" stroke="#4a4a4a" stroke-width="0.6"/>
<rect x="415.8" y="583.42" width="5.8" height="22.18" fill="#BDBDC4" stroke="#4a4a4a" stroke-width="0.6"/>
<rect x="423.65" y="585.35" width="5.8" height="20.25" fill="#BDBDC4" stroke="#4a4a4a" stroke-width="0.6"/>
<rect x="431.5" y="595.15" width="5.8" height="10.45" fill="#BDBDC4" stroke="#4a4a4a" stroke-width="0.6"/>
<rect x="439.35" y="598.37" width="5.8" height="7.23" fill="#BDBDC4" stroke="#4a4a4a" stroke-width="0.6"/>
<rect x="447.2" y="603.51" width="5.8" height="2.09" fill="#BDBDC4" stroke="#4a4a4a" stroke-width="0.6"/>
<rect x="455.05" y="603.67" width="5.8" height="1.93" fill="#BDBDC4" stroke="#4a4a4a" stroke-width="0.6"/>
<rect x="462.9" y="603.83" width="5.8" height="1.77" fill="#BDBDC4" stroke="#4a4a4a" stroke-width="0.6"/>
<rect x="470.75" y="604.96" width="5.8" height="0.64" fill="#BDBDC4" stroke="#8a8a8a" stroke-width="0.6"/>
<rect x="478.6" y="604.96" width="5.8" height="0.64" fill="#BDBDC4" stroke="#8a8a8a" stroke-width="0.6"/>
<rect x="486.45" y="604.96" width="5.8" height="0.64" fill="#BDBDC4" stroke="#8a8a8a" stroke-width="0.6"/>
<rect x="494.3" y="604.96" width="5.8" height="0.64" fill="#BDBDC4" stroke="#8a8a8a" stroke-width="0.6"/>
<rect x="398.7" y="552.4" width="103.8" height="55.2" fill="none" stroke="#7a7a7a" stroke-width="0.75"/>
<line x1="403" y1="607.6" x2="403" y2="609.8" stroke="#7a7a7a" stroke-width="0.6"/>
<line x1="410.85" y1="607.6" x2="410.85" y2="609.8" stroke="#7a7a7a" stroke-width="0.6"/>
<line x1="418.7" y1="607.6" x2="418.7" y2="609.8" stroke="#7a7a7a" stroke-width="0.6"/>
<line x1="426.55" y1="607.6" x2="426.55" y2="609.8" stroke="#7a7a7a" stroke-width="0.6"/>
<line x1="434.4" y1="607.6" x2="434.4" y2="609.8" stroke="#7a7a7a" stroke-width="0.6"/>
<line x1="442.25" y1="607.6" x2="442.25" y2="609.8" stroke="#7a7a7a" stroke-width="0.6"/>
<line x1="450.1" y1="607.6" x2="450.1" y2="609.8" stroke="#7a7a7a" stroke-width="0.6"/>
<line x1="457.95" y1="607.6" x2="457.95" y2="609.8" stroke="#7a7a7a" stroke-width="0.6"/>
<line x1="465.8" y1="607.6" x2="465.8" y2="609.8" stroke="#7a7a7a" stroke-width="0.6"/>
<line x1="473.65" y1="607.6" x2="473.65" y2="609.8" stroke="#7a7a7a" stroke-width="0.6"/>
<line x1="481.5" y1="607.6" x2="481.5" y2="609.8" stroke="#7a7a7a" stroke-width="0.6"/>
<line x1="489.35" y1="607.6" x2="489.35" y2="609.8" stroke="#7a7a7a" stroke-width="0.6"/>
<line x1="497.2" y1="607.6" x2="497.2" y2="609.8" stroke="#7a7a7a" stroke-width="0.6"/>
<line x1="396.5" y1="605.6" x2="398.7" y2="605.6" stroke="#7a7a7a" stroke-width="0.6"/>
<text x="395.5" y="608.1" font-size="7" fill="#333" stroke="#333" stroke-width="0.1" text-anchor="end">0</text>
<line x1="396.5" y1="589.53" x2="398.7" y2="589.53" stroke="#7a7a7a" stroke-width="0.6"/>
<text x="395.5" y="592.03" font-size="7" fill="#333" stroke="#333" stroke-width="0.1" text-anchor="end">10</text>
<line x1="396.5" y1="573.46" x2="398.7" y2="573.46" stroke="#7a7a7a" stroke-width="0.6"/>
<text x="395.5" y="575.96" font-size="7" fill="#333" stroke="#333" stroke-width="0.1" text-anchor="end">20</text>
<line x1="396.5" y1="557.39" x2="398.7" y2="557.39" stroke="#7a7a7a" stroke-width="0.6"/>
<text x="395.5" y="559.89" font-size="7" fill="#333" stroke="#333" stroke-width="0.1" text-anchor="end">30</text>
<text x="404.5" y="613.7" font-size="5.9" fill="#333" text-anchor="end" textLength="16.75" lengthAdjust="spacingAndGlyphs" transform="rotate(-45 404.5 613.7)">SIRPA</text>
<text x="412.35" y="613.7" font-size="5.9" fill="#333" text-anchor="end" textLength="18.77" lengthAdjust="spacingAndGlyphs" transform="rotate(-45 412.35 613.7)">GPR56</text>
<text x="420.2" y="613.7" font-size="5.9" fill="#333" text-anchor="end" textLength="14.63" lengthAdjust="spacingAndGlyphs" transform="rotate(-45 420.2 613.7)">CD99</text>
<text x="428.05" y="613.7" font-size="5.9" fill="#333" text-anchor="end" textLength="16.54" lengthAdjust="spacingAndGlyphs" transform="rotate(-45 428.05 613.7)">ITGB7</text>
<text x="435.9" y="613.7" font-size="5.9" fill="#333" text-anchor="end" textLength="19.4" lengthAdjust="spacingAndGlyphs" transform="rotate(-45 435.9 613.7)">CXCR4</text>
<text x="443.75" y="613.7" font-size="5.9" fill="#333" text-anchor="end" textLength="17.39" lengthAdjust="spacingAndGlyphs" transform="rotate(-45 443.75 613.7)">CD117</text>
<text x="451.6" y="613.7" font-size="5.9" fill="#333" text-anchor="end" textLength="17.81" lengthAdjust="spacingAndGlyphs" transform="rotate(-45 451.6 613.7)">CD123</text>
<text x="459.45" y="613.7" font-size="5.9" fill="#333" text-anchor="end" textLength="17.8" lengthAdjust="spacingAndGlyphs" transform="rotate(-45 459.45 613.7)">IFNGR</text>
<text x="467.3" y="613.7" font-size="5.9" fill="#333" text-anchor="end" textLength="13.04" lengthAdjust="spacingAndGlyphs" transform="rotate(-45 467.3 613.7)">TIM3</text>
<text x="475.15" y="613.7" font-size="5.9" fill="#333" text-anchor="end" textLength="17.81" lengthAdjust="spacingAndGlyphs" transform="rotate(-45 475.15 613.7)">CD151</text>
<text x="483" y="613.7" font-size="5.9" fill="#333" text-anchor="end" textLength="14.63" lengthAdjust="spacingAndGlyphs" transform="rotate(-45 483 613.7)">CD47</text>
<text x="490.85" y="613.7" font-size="5.9" fill="#333" text-anchor="end" textLength="16.54" lengthAdjust="spacingAndGlyphs" transform="rotate(-45 490.85 613.7)">ITGA5</text>
<text x="498.7" y="613.7" font-size="5.9" fill="#333" text-anchor="end" textLength="14.63" lengthAdjust="spacingAndGlyphs" transform="rotate(-45 498.7 613.7)">CD97</text>
<text x="259.2" y="545.7" font-size="8.6" fill="#222" stroke="#222" stroke-width="0.05" text-anchor="middle" textLength="34" lengthAdjust="spacingAndGlyphs" transform="rotate(-90 259.2 545.7)">Contribution</text>
<text x="505" y="497.9" font-size="9.4" fill="#222" stroke="#222" stroke-width="0.35" text-anchor="middle" textLength="10.2" lengthAdjust="spacingAndGlyphs" transform="rotate(90 505 497.9)">PC1</text>
<text x="504.5" y="579.5" font-size="9.4" fill="#222" stroke="#222" stroke-width="0.35" text-anchor="middle" textLength="10.8" lengthAdjust="spacingAndGlyphs" transform="rotate(90 504.5 579.5)">PC2</text>
<text x="199.5" y="643" font-size="7.6" fill="#333" stroke="#333" stroke-width="0.1" textLength="25.6" lengthAdjust="spacingAndGlyphs">Clusters</text>
<circle cx="239.8" cy="640.7" r="3.0" fill="#C8192E" stroke="#444" stroke-width="0.5"/>
<text x="248" y="643" font-size="7.6" fill="#333" stroke="#333" stroke-width="0.1" textLength="29.4" lengthAdjust="spacingAndGlyphs">Diagnosis</text>
<rect x="284.9" y="637.9" width="6" height="5.9" fill="#2FA5DE" stroke="#444" stroke-width="0.5"/>
<text x="297" y="643" font-size="7.6" fill="#333" stroke="#333" stroke-width="0.1" textLength="25" lengthAdjust="spacingAndGlyphs">Relapse</text>
<path d="M336.3 637.9 L339.8 643.7 L332.8 643.7Z" fill="#0B6B4F" stroke="#333" stroke-width="0.4"/>
<text x="345.7" y="643" font-size="7.6" fill="#333" stroke="#333" stroke-width="0.1" textLength="22.5" lengthAdjust="spacingAndGlyphs">Healthy</text>
<rect x="0.7" y="0.7" width="518.6" height="662.6" fill="none" stroke="#141212" stroke-width="1.5"/>
</svg>
</body></html>
